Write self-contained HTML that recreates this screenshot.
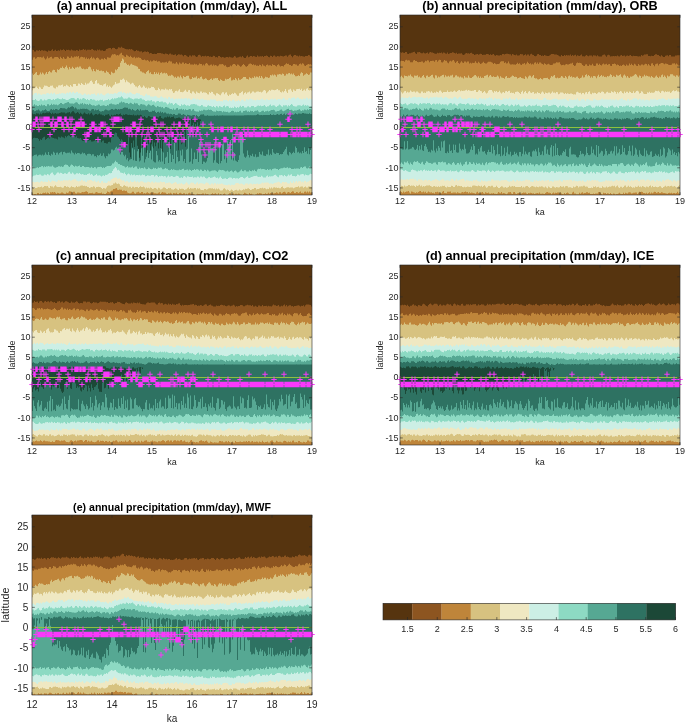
<!DOCTYPE html>
<html><head><meta charset="utf-8"><style>
html,body{margin:0;padding:0;background:#fff;}
svg{display:block;font-family:"Liberation Sans",sans-serif;will-change:transform;}
</style></head><body>
<svg width="685" height="723" viewBox="0 0 685 723">
<defs><clipPath id="cp0"><rect x="32" y="15" width="280" height="180"/></clipPath><clipPath id="cp1"><rect x="400" y="15" width="280" height="180"/></clipPath><clipPath id="cp2"><rect x="32" y="265" width="280" height="180"/></clipPath><clipPath id="cp3"><rect x="400" y="265" width="280" height="180"/></clipPath><clipPath id="cp4"><rect x="32" y="515" width="280" height="180"/></clipPath></defs>
<g clip-path="url(#cp0)"><rect x="32" y="15" width="280" height="180" fill="#56340f"/>
<path d="M31,196V49.8h1V49.8h1V50.1h1V51.4h1V51.4h1V50.2h1V50.4h1V50.8h1V50.1h1V51.0h1V50.2h1V50.2h1V50.7h1V50.6h1V50.8h1V51.2h1V51.8h1V50.6h1V50.7h1V51.1h1V50.2h1V49.2h1V51.0h1V50.4h1V49.8h1V51.0h1V50.8h1V50.3h1V50.8h1V49.5h1V50.2h1V50.1h1V49.2h1V50.1h1V51.1h1V49.8h1V50.0h1V49.7h1V50.3h1V50.6h1V49.5h1V50.3h1V50.5h1V50.4h1V50.7h1V50.0h1V50.3h1V50.9h1V49.4h1V50.2h1V49.9h1V49.7h1V49.1h1V49.9h1V49.6h1V50.4h1V49.7h1V49.8h1V49.7h1V50.0h1V49.3h1V48.9h1V50.1h1V50.6h1V50.2h1V50.8h1V49.6h1V50.3h1V49.5h1V50.5h1V50.5h1V50.2h1V50.9h1V50.9h1V50.6h1V48.9h1V48.7h1V48.2h1V48.1h1V48.0h1V49.3h1V48.1h1V47.7h1V48.1h1V48.9h1V49.3h1V48.7h1V47.3h1V47.4h1V47.8h1V46.8h1V47.8h1V47.9h1V48.4h1V49.0h1V49.3h1V49.2h1V49.4h1V48.9h1V49.4h1V49.1h1V49.8h1V50.5h1V51.2h1V50.9h1V50.0h1V50.8h1V50.7h1V51.6h1V51.5h1V51.3h1V52.5h1V52.0h1V51.5h1V51.6h1V52.0h1V51.4h1V52.1h1V53.4h1V53.1h1V53.2h1V53.9h1V54.0h1V53.8h1V53.9h1V54.1h1V53.0h1V53.1h1V53.1h1V52.9h1V53.6h1V53.5h1V54.0h1V54.3h1V53.4h1V53.7h1V54.0h1V54.7h1V53.8h1V53.6h1V54.5h1V54.6h1V55.1h1V54.7h1V54.2h1V55.7h1V54.9h1V54.2h1V54.4h1V54.7h1V54.6h1V55.2h1V56.3h1V55.0h1V55.0h1V55.8h1V56.5h1V57.0h1V55.4h1V55.5h1V56.6h1V55.2h1V55.6h1V55.3h1V56.2h1V57.1h1V56.5h1V55.0h1V54.7h1V55.5h1V56.8h1V55.9h1V56.3h1V56.2h1V55.7h1V56.5h1V56.1h1V55.9h1V56.8h1V56.6h1V57.0h1V56.7h1V55.8h1V56.1h1V57.3h1V57.0h1V57.6h1V56.0h1V55.9h1V57.1h1V57.4h1V57.1h1V57.2h1V57.8h1V57.6h1V57.1h1V57.1h1V57.4h1V56.8h1V57.2h1V57.4h1V57.8h1V57.3h1V56.0h1V56.6h1V57.8h1V57.6h1V57.3h1V56.8h1V56.5h1V57.2h1V56.1h1V57.2h1V57.9h1V58.1h1V56.4h1V55.6h1V57.2h1V56.8h1V56.1h1V56.1h1V56.8h1V56.0h1V56.2h1V56.8h1V57.1h1V55.6h1V56.6h1V56.5h1V56.2h1V56.4h1V55.9h1V56.9h1V56.0h1V56.1h1V55.6h1V56.1h1V57.1h1V57.3h1V55.7h1V56.0h1V57.0h1V55.8h1V55.6h1V56.4h1V56.7h1V56.1h1V56.2h1V56.5h1V55.8h1V56.1h1V56.2h1V56.4h1V56.1h1V55.6h1V55.6h1V56.7h1V55.6h1V54.8h1V54.5h1V56.1h1V57.2h1V55.7h1V55.1h1V54.9h1V55.7h1V55.8h1V56.4h1V55.4h1V56.3h1V56.0h1V56.3h1V56.6h1V56.8h1V56.0h1V55.9h1V55.9h1V55.0h1V55.3h1V56.5h1V56.8h1V54.9h1V196Z" fill="#8d5520"/>
<path d="M31,196V59.7h1V59.7h1V57.4h1V57.3h1V58.8h1V58.2h1V57.0h1V56.9h1V57.3h1V57.1h1V57.4h1V57.4h1V56.4h1V58.2h1V59.4h1V58.4h1V56.6h1V58.3h1V57.7h1V57.1h1V56.8h1V58.5h1V58.6h1V57.2h1V56.9h1V57.1h1V57.1h1V57.8h1V58.9h1V56.7h1V57.9h1V58.8h1V57.1h1V58.4h1V59.0h1V58.5h1V56.6h1V56.8h1V58.0h1V57.8h1V56.2h1V57.5h1V57.4h1V56.5h1V56.7h1V56.2h1V56.7h1V56.0h1V58.4h1V57.2h1V56.8h1V57.0h1V57.4h1V57.3h1V58.7h1V57.5h1V58.9h1V58.2h1V59.2h1V58.1h1V56.7h1V58.5h1V57.6h1V58.4h1V59.6h1V57.9h1V57.4h1V58.3h1V59.5h1V59.8h1V58.8h1V58.7h1V59.5h1V58.0h1V59.0h1V59.5h1V57.3h1V57.4h1V57.8h1V57.4h1V55.4h1V54.3h1V54.5h1V54.0h1V54.6h1V55.5h1V55.0h1V55.4h1V54.4h1V53.4h1V52.8h1V55.0h1V55.5h1V56.4h1V56.9h1V54.8h1V55.6h1V56.2h1V57.1h1V55.7h1V56.9h1V57.8h1V57.4h1V56.7h1V58.3h1V57.5h1V57.7h1V57.3h1V57.8h1V58.1h1V59.2h1V59.9h1V60.1h1V59.4h1V60.2h1V60.4h1V60.1h1V60.7h1V61.7h1V60.6h1V61.5h1V61.2h1V60.3h1V60.4h1V61.1h1V60.4h1V61.8h1V61.2h1V61.3h1V62.4h1V62.7h1V62.3h1V62.4h1V62.6h1V62.3h1V61.8h1V63.0h1V61.6h1V60.8h1V61.4h1V61.5h1V63.6h1V63.3h1V63.8h1V63.4h1V62.1h1V63.6h1V64.5h1V62.5h1V63.4h1V63.7h1V62.5h1V62.5h1V63.9h1V62.9h1V63.5h1V63.9h1V63.9h1V63.0h1V64.4h1V64.5h1V64.6h1V64.7h1V63.8h1V64.6h1V64.2h1V65.3h1V64.7h1V63.4h1V63.9h1V64.1h1V65.6h1V64.5h1V65.4h1V63.8h1V63.1h1V63.7h1V65.2h1V65.4h1V64.7h1V64.5h1V65.8h1V64.6h1V65.5h1V65.0h1V65.5h1V66.2h1V65.4h1V64.3h1V64.2h1V64.3h1V63.9h1V64.7h1V65.8h1V65.3h1V66.7h1V67.3h1V66.9h1V66.8h1V65.5h1V66.2h1V64.8h1V63.9h1V64.0h1V64.7h1V66.1h1V64.6h1V64.7h1V65.7h1V66.7h1V66.2h1V64.9h1V64.1h1V65.0h1V66.3h1V66.7h1V66.1h1V64.6h1V63.8h1V63.6h1V64.1h1V65.1h1V64.3h1V65.2h1V64.8h1V65.8h1V65.6h1V65.9h1V64.8h1V65.0h1V66.2h1V64.2h1V65.6h1V65.8h1V66.5h1V64.9h1V64.6h1V65.4h1V65.3h1V65.3h1V66.0h1V64.3h1V65.0h1V64.9h1V65.8h1V66.5h1V65.1h1V64.3h1V65.6h1V66.4h1V66.0h1V66.1h1V66.4h1V65.1h1V64.2h1V63.2h1V63.9h1V63.7h1V64.9h1V65.1h1V65.9h1V65.6h1V64.1h1V63.9h1V64.4h1V64.6h1V65.7h1V65.4h1V64.1h1V63.6h1V64.4h1V63.3h1V63.8h1V65.4h1V66.0h1V65.0h1V64.6h1V63.9h1V64.4h1V64.3h1V64.7h1V65.7h1V196Z" fill="#bf853a"/>
<path d="M31,196V73.4h1V73.4h1V75.1h1V74.0h1V72.7h1V72.0h1V75.0h1V75.3h1V74.6h1V72.5h1V74.2h1V72.5h1V73.4h1V74.7h1V73.5h1V71.9h1V74.1h1V71.9h1V70.9h1V72.2h1V72.4h1V70.6h1V69.8h1V70.1h1V72.0h1V72.6h1V69.2h1V70.1h1V69.3h1V67.8h1V67.9h1V66.5h1V68.0h1V68.6h1V66.9h1V65.5h1V67.7h1V69.6h1V67.0h1V68.7h1V68.4h1V66.7h1V68.1h1V68.9h1V67.4h1V67.6h1V66.7h1V67.4h1V66.6h1V66.6h1V68.3h1V69.0h1V68.5h1V69.2h1V69.3h1V68.7h1V68.9h1V67.3h1V66.4h1V67.2h1V69.5h1V71.3h1V69.1h1V70.9h1V71.6h1V69.3h1V69.9h1V69.7h1V71.1h1V70.7h1V70.5h1V71.3h1V70.9h1V72.4h1V72.7h1V70.7h1V71.9h1V72.4h1V73.9h1V74.7h1V71.7h1V72.8h1V73.3h1V72.7h1V69.6h1V70.3h1V69.0h1V67.1h1V66.7h1V62.7h1V60.9h1V58.5h1V59.5h1V62.9h1V62.4h1V63.7h1V65.1h1V64.6h1V65.7h1V64.6h1V63.8h1V64.7h1V65.1h1V65.5h1V65.7h1V66.2h1V66.7h1V68.7h1V68.9h1V71.3h1V71.5h1V72.4h1V72.6h1V73.2h1V73.8h1V72.1h1V70.9h1V70.3h1V73.3h1V72.2h1V73.9h1V74.2h1V74.3h1V71.9h1V73.9h1V72.5h1V73.9h1V72.5h1V74.7h1V73.1h1V72.2h1V73.6h1V73.2h1V72.7h1V73.6h1V73.1h1V74.6h1V76.1h1V75.6h1V75.7h1V74.8h1V75.3h1V76.2h1V77.6h1V76.8h1V77.9h1V76.6h1V76.6h1V77.4h1V75.5h1V77.2h1V78.4h1V76.0h1V76.9h1V77.0h1V75.9h1V75.8h1V75.7h1V78.4h1V79.3h1V78.9h1V77.0h1V78.1h1V77.4h1V77.6h1V76.3h1V78.7h1V78.1h1V78.5h1V77.1h1V76.6h1V78.7h1V79.4h1V79.0h1V78.2h1V78.7h1V80.1h1V80.3h1V80.1h1V78.9h1V78.4h1V80.0h1V78.6h1V78.6h1V77.9h1V78.3h1V78.0h1V80.0h1V81.1h1V79.3h1V80.0h1V80.7h1V81.0h1V80.7h1V78.8h1V79.5h1V78.9h1V79.1h1V78.0h1V77.3h1V80.4h1V80.2h1V79.6h1V80.1h1V78.1h1V79.3h1V80.4h1V78.1h1V79.7h1V79.7h1V79.1h1V78.3h1V76.9h1V76.9h1V76.9h1V78.8h1V78.9h1V79.6h1V77.3h1V78.1h1V78.4h1V77.4h1V77.9h1V76.3h1V77.4h1V76.5h1V76.7h1V77.5h1V76.1h1V78.0h1V76.0h1V77.4h1V78.8h1V78.3h1V76.7h1V77.3h1V77.2h1V78.1h1V77.6h1V75.1h1V75.6h1V74.6h1V75.4h1V74.6h1V75.2h1V76.8h1V74.5h1V74.4h1V73.9h1V74.3h1V74.8h1V73.6h1V74.0h1V75.7h1V75.4h1V73.8h1V74.3h1V73.3h1V73.1h1V74.2h1V73.6h1V74.5h1V73.6h1V75.1h1V76.3h1V76.3h1V76.0h1V75.3h1V75.9h1V73.6h1V72.2h1V73.1h1V75.7h1V74.8h1V74.3h1V73.3h1V73.9h1V75.0h1V74.5h1V72.4h1V72.6h1V73.2h1V196Z" fill="#d7c280"/>
<path d="M31,196V90.3h1V90.3h1V88.6h1V88.3h1V87.5h1V86.4h1V88.1h1V88.9h1V86.7h1V87.4h1V89.1h1V89.1h1V87.3h1V85.5h1V85.8h1V85.7h1V86.3h1V86.9h1V87.0h1V85.7h1V85.8h1V85.6h1V87.5h1V88.2h1V88.5h1V86.7h1V87.2h1V85.6h1V85.2h1V85.4h1V85.1h1V84.5h1V86.8h1V86.1h1V86.2h1V84.8h1V85.6h1V86.3h1V86.9h1V84.9h1V86.2h1V86.8h1V84.1h1V83.9h1V84.1h1V86.1h1V85.8h1V83.4h1V83.7h1V85.0h1V82.9h1V84.1h1V84.8h1V84.9h1V82.8h1V84.5h1V83.6h1V83.6h1V82.4h1V81.0h1V80.6h1V82.3h1V84.1h1V83.7h1V81.0h1V79.9h1V83.5h1V83.3h1V84.5h1V85.0h1V85.1h1V85.8h1V84.6h1V84.1h1V83.4h1V86.6h1V85.2h1V86.9h1V85.7h1V86.7h1V87.7h1V86.4h1V85.3h1V84.4h1V82.1h1V83.8h1V83.5h1V83.3h1V82.7h1V79.7h1V79.9h1V79.3h1V78.4h1V79.8h1V82.3h1V80.2h1V81.6h1V82.3h1V82.8h1V84.2h1V83.4h1V82.7h1V83.4h1V85.0h1V86.4h1V86.4h1V87.4h1V86.1h1V84.9h1V86.5h1V87.8h1V87.3h1V85.6h1V86.4h1V88.0h1V87.4h1V88.7h1V87.4h1V88.2h1V88.0h1V86.7h1V87.0h1V86.9h1V88.3h1V90.1h1V90.3h1V89.9h1V87.8h1V89.0h1V90.6h1V89.3h1V89.3h1V89.6h1V89.8h1V88.6h1V89.6h1V89.5h1V90.2h1V89.1h1V89.4h1V89.1h1V91.2h1V92.9h1V92.5h1V91.1h1V90.8h1V91.5h1V90.4h1V89.3h1V91.9h1V91.9h1V92.3h1V91.8h1V90.8h1V89.8h1V91.5h1V92.1h1V90.3h1V90.0h1V93.0h1V93.5h1V91.5h1V91.4h1V92.7h1V93.7h1V91.6h1V92.4h1V93.0h1V93.3h1V91.5h1V91.6h1V93.0h1V92.2h1V92.6h1V92.6h1V92.9h1V94.2h1V94.4h1V92.0h1V93.0h1V91.8h1V91.9h1V93.8h1V94.6h1V95.4h1V93.3h1V93.2h1V94.0h1V94.7h1V95.3h1V93.5h1V92.2h1V92.3h1V94.3h1V92.7h1V92.3h1V94.7h1V96.1h1V94.5h1V94.9h1V94.1h1V93.2h1V94.0h1V92.8h1V93.3h1V94.4h1V95.7h1V95.8h1V93.3h1V92.9h1V91.9h1V91.3h1V94.5h1V93.0h1V92.3h1V93.8h1V92.5h1V92.3h1V91.5h1V93.4h1V92.7h1V91.4h1V91.5h1V92.6h1V92.5h1V91.7h1V91.4h1V91.5h1V92.0h1V91.7h1V92.6h1V91.8h1V90.4h1V89.9h1V90.8h1V93.3h1V92.2h1V91.2h1V89.9h1V90.8h1V89.8h1V89.8h1V89.9h1V90.3h1V89.9h1V89.6h1V89.0h1V90.3h1V90.3h1V91.9h1V92.5h1V91.3h1V92.3h1V90.9h1V89.1h1V91.4h1V92.9h1V89.8h1V89.6h1V88.8h1V90.4h1V91.9h1V89.6h1V90.6h1V90.9h1V89.2h1V88.9h1V88.9h1V88.8h1V89.9h1V88.7h1V90.9h1V90.2h1V89.5h1V90.7h1V88.8h1V88.2h1V90.1h1V90.6h1V89.9h1V90.5h1V90.5h1V196Z" fill="#efe8c2"/>
<path d="M31,196V95.2h1V95.2h1V94.5h1V93.3h1V92.9h1V92.9h1V94.7h1V93.6h1V93.8h1V94.5h1V94.9h1V94.3h1V94.3h1V93.9h1V94.6h1V93.4h1V92.9h1V93.2h1V93.9h1V93.6h1V92.8h1V94.1h1V93.2h1V92.8h1V94.3h1V94.5h1V94.0h1V94.0h1V93.2h1V93.7h1V93.2h1V92.9h1V93.4h1V93.3h1V94.0h1V93.1h1V92.4h1V93.3h1V92.3h1V91.9h1V93.2h1V92.2h1V91.7h1V93.1h1V93.0h1V92.1h1V92.0h1V93.4h1V93.2h1V93.5h1V94.4h1V94.9h1V94.4h1V93.5h1V93.8h1V94.7h1V94.8h1V94.1h1V94.7h1V95.1h1V94.1h1V94.0h1V93.9h1V93.4h1V94.8h1V95.4h1V93.8h1V93.3h1V94.7h1V93.8h1V93.6h1V94.4h1V94.9h1V95.5h1V94.4h1V93.7h1V93.3h1V93.3h1V94.2h1V93.8h1V93.8h1V94.0h1V93.8h1V93.2h1V93.1h1V93.8h1V92.9h1V92.0h1V91.7h1V91.8h1V91.4h1V92.9h1V92.0h1V92.7h1V93.0h1V93.8h1V92.8h1V93.5h1V92.6h1V92.3h1V93.0h1V94.1h1V94.1h1V94.4h1V94.0h1V93.0h1V92.9h1V93.4h1V93.4h1V95.0h1V95.0h1V95.5h1V96.1h1V96.3h1V94.6h1V93.8h1V95.3h1V95.3h1V95.3h1V96.4h1V96.4h1V96.7h1V96.8h1V96.3h1V95.9h1V96.6h1V97.5h1V97.8h1V97.8h1V96.7h1V96.2h1V97.3h1V97.4h1V98.4h1V97.3h1V98.3h1V99.1h1V97.3h1V96.9h1V98.4h1V98.6h1V97.8h1V98.9h1V99.4h1V98.8h1V98.4h1V99.3h1V98.6h1V98.8h1V99.0h1V98.1h1V98.9h1V98.6h1V98.5h1V98.3h1V98.1h1V99.2h1V98.3h1V98.8h1V99.5h1V99.8h1V98.9h1V98.1h1V99.0h1V98.4h1V99.8h1V98.7h1V99.6h1V99.7h1V99.3h1V99.2h1V98.5h1V99.5h1V99.8h1V99.8h1V99.8h1V100.5h1V100.0h1V100.6h1V99.3h1V99.3h1V100.0h1V99.1h1V99.8h1V99.4h1V100.9h1V101.3h1V100.8h1V100.8h1V101.2h1V101.0h1V101.5h1V100.0h1V100.3h1V99.7h1V100.0h1V100.8h1V101.2h1V100.0h1V100.7h1V101.2h1V100.0h1V99.6h1V100.4h1V101.4h1V100.7h1V101.0h1V100.0h1V101.0h1V101.3h1V100.0h1V99.3h1V100.3h1V101.2h1V100.8h1V99.3h1V99.3h1V99.9h1V99.1h1V98.7h1V99.5h1V99.2h1V100.3h1V100.0h1V100.5h1V99.9h1V99.4h1V100.1h1V100.1h1V99.8h1V98.9h1V98.5h1V100.1h1V99.7h1V100.3h1V99.1h1V99.4h1V99.9h1V100.1h1V98.9h1V99.4h1V98.5h1V99.7h1V98.7h1V98.8h1V100.0h1V99.2h1V99.0h1V99.0h1V99.3h1V99.4h1V98.7h1V97.7h1V98.6h1V99.7h1V99.5h1V99.9h1V98.4h1V97.9h1V99.2h1V98.0h1V97.8h1V97.4h1V97.6h1V98.9h1V98.3h1V97.5h1V97.8h1V98.8h1V99.0h1V98.9h1V99.4h1V98.6h1V98.4h1V98.9h1V97.6h1V98.1h1V99.2h1V98.5h1V98.8h1V99.2h1V99.3h1V196Z" fill="#ccefe5"/>
<path d="M31,196V99.9h1V99.9h1V100.0h1V100.1h1V98.9h1V100.3h1V100.7h1V101.0h1V100.5h1V99.3h1V99.2h1V100.4h1V100.5h1V99.5h1V100.2h1V100.2h1V99.6h1V99.0h1V98.9h1V99.2h1V99.9h1V99.8h1V99.0h1V100.1h1V99.0h1V98.7h1V98.2h1V98.6h1V99.1h1V99.2h1V99.2h1V98.2h1V99.0h1V98.9h1V99.4h1V99.9h1V99.9h1V99.8h1V99.1h1V98.6h1V98.0h1V98.1h1V98.0h1V98.4h1V99.6h1V99.4h1V97.9h1V98.2h1V99.5h1V98.8h1V99.4h1V98.6h1V98.1h1V98.5h1V98.9h1V100.0h1V99.0h1V99.9h1V100.3h1V99.0h1V99.0h1V99.8h1V99.4h1V99.8h1V100.6h1V100.8h1V100.3h1V100.8h1V100.3h1V99.8h1V100.1h1V99.7h1V101.2h1V100.5h1V100.3h1V100.1h1V100.0h1V99.0h1V100.2h1V99.8h1V99.1h1V98.3h1V99.3h1V98.3h1V98.6h1V98.3h1V97.9h1V97.2h1V97.5h1V97.3h1V96.3h1V97.3h1V98.5h1V98.8h1V98.5h1V98.8h1V98.5h1V97.4h1V97.5h1V98.3h1V98.4h1V99.1h1V99.6h1V98.8h1V98.4h1V98.5h1V98.5h1V99.0h1V98.8h1V98.2h1V98.5h1V99.4h1V99.5h1V100.1h1V101.0h1V100.9h1V100.5h1V100.5h1V100.8h1V100.6h1V100.0h1V101.5h1V101.3h1V101.6h1V102.5h1V101.4h1V101.0h1V101.0h1V102.1h1V101.8h1V101.5h1V101.5h1V102.5h1V102.2h1V102.2h1V103.2h1V104.4h1V103.8h1V102.6h1V103.5h1V103.0h1V103.5h1V105.1h1V104.0h1V103.0h1V103.6h1V104.4h1V105.0h1V105.8h1V106.0h1V104.2h1V105.2h1V104.7h1V104.2h1V104.9h1V105.7h1V105.3h1V105.4h1V105.9h1V104.7h1V104.2h1V104.2h1V103.9h1V104.1h1V104.6h1V104.5h1V105.4h1V105.7h1V106.2h1V105.9h1V104.9h1V105.2h1V106.6h1V106.5h1V106.7h1V106.9h1V105.7h1V105.3h1V106.0h1V106.1h1V106.4h1V107.0h1V106.1h1V106.9h1V107.6h1V106.0h1V106.4h1V107.4h1V106.1h1V106.6h1V107.1h1V107.3h1V106.0h1V105.5h1V107.2h1V106.2h1V106.1h1V106.6h1V107.9h1V107.5h1V108.1h1V107.6h1V107.9h1V106.4h1V107.3h1V108.0h1V107.0h1V107.7h1V106.7h1V105.8h1V106.9h1V106.0h1V105.9h1V107.5h1V107.4h1V107.4h1V106.6h1V106.2h1V107.2h1V107.2h1V106.1h1V106.0h1V106.0h1V107.2h1V106.9h1V106.5h1V105.8h1V105.4h1V105.9h1V105.4h1V106.2h1V106.0h1V105.8h1V105.1h1V106.3h1V106.9h1V106.3h1V106.3h1V105.3h1V104.6h1V106.0h1V105.6h1V105.3h1V105.4h1V106.5h1V106.9h1V106.1h1V105.4h1V104.4h1V105.2h1V106.3h1V106.7h1V105.3h1V105.5h1V105.2h1V105.2h1V106.4h1V105.2h1V106.1h1V104.9h1V104.1h1V104.8h1V106.0h1V106.3h1V106.4h1V106.4h1V105.6h1V105.3h1V105.3h1V105.4h1V106.1h1V105.2h1V104.5h1V105.8h1V105.1h1V105.7h1V105.2h1V105.7h1V106.4h1V106.2h1V106.2h1V105.9h1V196Z" fill="#8ddac3"/>
<path d="M31,196V106.2h1V106.2h1V105.4h1V104.3h1V105.5h1V105.3h1V106.1h1V106.0h1V105.0h1V105.8h1V104.6h1V105.4h1V105.3h1V105.1h1V105.9h1V106.2h1V104.3h1V104.3h1V105.6h1V104.9h1V103.7h1V105.0h1V104.3h1V104.6h1V104.7h1V104.6h1V105.2h1V104.7h1V104.1h1V102.9h1V103.1h1V104.1h1V104.2h1V103.6h1V102.9h1V102.7h1V102.2h1V101.9h1V103.2h1V103.5h1V103.6h1V103.6h1V103.8h1V103.3h1V102.6h1V102.3h1V102.7h1V103.9h1V104.5h1V103.6h1V103.8h1V103.1h1V104.6h1V103.4h1V103.9h1V104.4h1V103.9h1V104.9h1V103.7h1V104.2h1V105.0h1V105.4h1V105.3h1V105.4h1V105.9h1V105.6h1V105.3h1V104.6h1V104.8h1V106.1h1V105.8h1V105.5h1V105.3h1V105.5h1V105.9h1V105.9h1V104.9h1V105.4h1V104.1h1V103.8h1V103.4h1V104.2h1V104.2h1V104.5h1V104.7h1V104.5h1V103.9h1V104.2h1V102.8h1V102.6h1V101.5h1V102.4h1V101.9h1V102.6h1V103.3h1V103.0h1V103.0h1V103.9h1V103.4h1V102.7h1V103.2h1V104.1h1V104.2h1V102.8h1V103.5h1V103.3h1V103.6h1V105.1h1V105.5h1V104.3h1V103.9h1V104.4h1V104.5h1V104.8h1V105.4h1V106.3h1V105.3h1V104.2h1V104.7h1V105.4h1V105.7h1V105.1h1V104.8h1V105.7h1V106.8h1V107.3h1V105.9h1V106.6h1V107.1h1V106.8h1V107.4h1V106.9h1V108.3h1V108.3h1V107.1h1V106.9h1V107.5h1V107.7h1V108.6h1V109.0h1V109.1h1V109.7h1V108.6h1V109.7h1V109.5h1V108.3h1V108.1h1V109.7h1V109.3h1V109.2h1V108.7h1V109.7h1V109.0h1V110.2h1V109.3h1V110.1h1V110.0h1V109.6h1V109.0h1V109.3h1V110.8h1V109.5h1V108.9h1V110.8h1V111.3h1V111.5h1V111.6h1V111.8h1V110.6h1V111.0h1V110.5h1V110.7h1V109.7h1V109.8h1V110.2h1V110.3h1V110.0h1V109.6h1V109.9h1V109.7h1V110.0h1V111.1h1V111.4h1V111.6h1V111.8h1V110.5h1V111.0h1V111.2h1V111.1h1V111.0h1V111.2h1V112.2h1V111.3h1V111.8h1V111.8h1V112.0h1V111.7h1V112.5h1V112.6h1V112.0h1V111.0h1V110.7h1V111.0h1V112.2h1V111.7h1V112.2h1V111.7h1V111.9h1V111.2h1V110.8h1V112.4h1V112.5h1V111.1h1V110.9h1V110.6h1V110.6h1V111.8h1V111.3h1V112.1h1V110.7h1V111.2h1V110.9h1V111.9h1V111.3h1V110.7h1V110.8h1V110.2h1V111.6h1V112.3h1V111.9h1V111.2h1V110.8h1V110.8h1V111.9h1V111.3h1V111.3h1V110.8h1V111.4h1V111.1h1V110.6h1V110.1h1V110.0h1V109.7h1V110.2h1V111.5h1V111.5h1V111.1h1V111.0h1V110.5h1V109.8h1V109.4h1V110.7h1V111.3h1V110.8h1V110.2h1V109.5h1V108.9h1V108.8h1V110.1h1V110.0h1V109.7h1V110.4h1V111.0h1V110.6h1V110.6h1V110.5h1V110.1h1V109.8h1V109.2h1V110.6h1V110.9h1V110.2h1V110.4h1V109.6h1V109.8h1V110.2h1V109.2h1V109.9h1V109.1h1V109.0h1V109.5h1V109.4h1V196Z" fill="#56a893"/>
<path d="M31,196V110.3h1V110.3h1V109.9h1V111.3h1V111.1h1V110.3h1V110.3h1V109.4h1V110.5h1V111.4h1V111.3h1V110.3h1V110.6h1V110.1h1V109.3h1V110.3h1V110.9h1V111.0h1V110.8h1V109.5h1V109.1h1V110.0h1V109.2h1V110.1h1V109.1h1V109.0h1V109.5h1V109.9h1V109.3h1V107.9h1V108.0h1V108.3h1V108.3h1V108.2h1V108.7h1V109.3h1V108.3h1V107.2h1V107.7h1V107.0h1V106.5h1V106.3h1V106.9h1V108.4h1V107.6h1V108.4h1V109.4h1V109.2h1V109.5h1V108.8h1V109.0h1V108.8h1V108.8h1V108.8h1V109.0h1V108.8h1V109.2h1V109.8h1V110.4h1V110.8h1V109.6h1V108.9h1V108.9h1V110.4h1V109.6h1V110.3h1V109.9h1V109.5h1V111.0h1V111.4h1V111.5h1V110.9h1V111.2h1V110.3h1V109.6h1V109.8h1V110.2h1V110.4h1V110.2h1V109.8h1V108.9h1V109.0h1V109.8h1V109.4h1V108.8h1V109.0h1V109.8h1V109.1h1V109.4h1V109.0h1V108.9h1V108.8h1V107.9h1V107.6h1V107.6h1V107.8h1V107.8h1V109.3h1V108.7h1V109.2h1V110.3h1V109.1h1V110.1h1V110.6h1V110.8h1V110.0h1V109.1h1V109.7h1V110.8h1V109.3h1V110.4h1V110.2h1V110.3h1V110.2h1V109.8h1V109.9h1V110.1h1V111.3h1V112.0h1V111.8h1V111.7h1V110.7h1V110.9h1V110.6h1V112.1h1V112.9h1V112.1h1V111.8h1V112.7h1V111.5h1V112.7h1V112.0h1V113.3h1V112.4h1V112.5h1V113.4h1V113.8h1V113.6h1V114.2h1V113.7h1V114.1h1V114.8h1V114.0h1V114.0h1V114.9h1V115.1h1V114.8h1V113.6h1V113.5h1V113.8h1V115.0h1V114.8h1V114.1h1V114.8h1V115.3h1V116.1h1V114.8h1V114.9h1V115.2h1V115.4h1V115.8h1V115.2h1V115.0h1V115.0h1V116.2h1V115.0h1V116.0h1V116.7h1V116.0h1V114.7h1V114.5h1V114.4h1V114.3h1V115.8h1V116.9h1V116.7h1V115.2h1V116.6h1V116.4h1V117.1h1V116.9h1V117.1h1V115.9h1V115.6h1V115.9h1V115.7h1V115.4h1V117.0h1V116.4h1V117.2h1V116.1h1V115.6h1V116.1h1V116.6h1V116.4h1V116.1h1V116.9h1V117.4h1V116.1h1V116.7h1V116.6h1V116.7h1V116.2h1V115.8h1V116.1h1V117.4h1V117.5h1V116.9h1V117.2h1V117.9h1V117.9h1V116.8h1V116.5h1V115.5h1V116.1h1V116.1h1V115.8h1V115.7h1V116.9h1V115.7h1V116.6h1V116.9h1V116.5h1V115.7h1V116.0h1V115.0h1V114.3h1V114.4h1V115.6h1V115.5h1V114.9h1V116.1h1V114.9h1V115.7h1V115.8h1V115.2h1V114.9h1V115.8h1V115.0h1V114.1h1V115.0h1V115.3h1V114.5h1V115.8h1V115.4h1V114.4h1V114.1h1V114.8h1V114.7h1V113.9h1V113.7h1V115.0h1V114.3h1V113.6h1V115.1h1V114.2h1V113.3h1V114.8h1V113.8h1V113.5h1V113.2h1V114.2h1V115.2h1V114.3h1V113.2h1V114.1h1V114.4h1V113.6h1V113.6h1V113.8h1V113.8h1V113.0h1V113.0h1V113.6h1V113.4h1V113.8h1V113.8h1V114.0h1V113.3h1V114.1h1V114.1h1V113.4h1V196Z" fill="#2e7262"/>
<path d="M31,196V113.6h1V113.6h1V114.3h1V114.1h1V114.6h1V113.3h1V113.4h1V113.5h1V114.5h1V113.4h1V114.2h1V113.3h1V112.8h1V113.2h1V113.1h1V112.5h1V112.6h1V112.7h1V112.3h1V112.9h1V113.9h1V112.8h1V113.7h1V113.4h1V113.0h1V113.8h1V113.4h1V113.6h1V112.9h1V112.7h1V112.3h1V112.5h1V112.5h1V112.6h1V113.5h1V113.3h1V112.4h1V112.5h1V112.0h1V113.4h1V112.2h1V111.2h1V111.3h1V112.6h1V113.6h1V112.9h1V111.9h1V112.8h1V114.1h1V112.8h1V113.8h1V114.4h1V113.6h1V112.4h1V113.6h1V113.9h1V114.3h1V113.2h1V114.6h1V113.6h1V112.7h1V114.6h1V115.5h1V114.7h1V114.0h1V114.1h1V114.7h1V114.2h1V113.4h1V114.4h1V114.4h1V115.2h1V115.2h1V116.1h1V114.7h1V114.7h1V114.6h1V114.0h1V115.6h1V116.5h1V114.7h1V115.6h1V115.3h1V114.7h1V115.0h1V114.1h1V114.2h1V114.8h1V113.9h1V113.5h1V114.9h1V115.6h1V114.4h1V114.9h1V114.3h1V114.2h1V114.8h1V115.1h1V114.7h1V115.0h1V115.1h1V115.3h1V114.5h1V115.6h1V115.2h1V115.4h1V114.7h1V115.2h1V115.3h1V114.7h1V115.3h1V116.7h1V116.9h1V116.0h1V117.2h1V117.9h1V117.5h1V116.1h1V116.2h1V116.9h1V117.2h1V117.3h1V117.6h1V117.4h1V117.0h1V116.8h1V117.3h1V117.5h1V116.3h1V115.9h1V118.0h1V118.5h1V118.7h1V117.5h1V117.3h1V117.4h1V116.5h1V117.2h1V116.6h1V117.7h1V117.1h1V117.0h1V116.6h1V118.3h1V118.5h1V117.9h1V117.9h1V117.4h1V117.5h1V118.2h1V118.7h1V118.4h1V117.9h1V118.6h1V118.0h1V117.7h1V117.4h1V118.7h1V119.4h1V119.2h1V118.7h1V117.8h1V118.7h1V118.8h1V119.1h1V119.0h1V118.7h1V119.1h1V119.3h1V119.5h1V118.6h1V118.6h1V158.0h1V196.0h1V196.0h1V196.0h1V196.0h1V196.0h1V196.0h1V196.0h1V196.0h1V196.0h1V196.0h1V195.5h1V196.0h1V196.0h1V195.7h1V195.7h1V196.0h1V196.0h1V196.0h1V196.0h1V196.0h1V196.0h1V196.0h1V196.0h1V195.8h1V196.0h1V196.0h1V196.0h1V196.0h1V196.0h1V196.0h1V196.0h1V196.0h1V195.7h1V195.4h1V195.4h1V195.8h1V195.6h1V196.0h1V196.0h1V196.0h1V196.0h1V196.0h1V196.0h1V196.0h1V196.0h1V196.0h1V196.0h1V196.0h1V196.0h1V196.0h1V196.0h1V196.0h1V196.0h1V196.0h1V195.9h1V196.0h1V195.8h1V196.0h1V196.0h1V196.0h1V196.0h1V196.0h1V196.0h1V196.0h1V196.0h1V196.0h1V196.0h1V196.0h1V196.0h1V196.0h1V196.0h1V196.0h1V196.0h1V196.0h1V196.0h1V196.0h1V196.0h1V196.0h1V196.0h1V195.5h1V196.0h1V196.0h1V196.0h1V195.9h1V196.0h1V196.0h1V196.0h1V196.0h1V195.9h1V195.6h1V195.6h1V196.0h1V195.9h1V196.0h1V196.0h1V196.0h1V196.0h1V196.0h1V196.0h1V195.9h1V195.4h1V196.0h1V196.0h1V196.0h1V196.0h1V196.0h1V196.0h1V196.0h1V195.9h1V196Z" fill="#1c4837"/>
<path d="M31,196V139.3h1V139.3h1V137.9h1V137.8h1V138.1h1V138.1h1V138.1h1V139.1h1V140.7h1V139.2h1V139.9h1V138.3h1V137.3h1V136.7h1V139.7h1V138.9h1V138.1h1V137.6h1V138.6h1V137.2h1V137.3h1V137.8h1V138.1h1V138.4h1V138.6h1V138.8h1V139.4h1V136.7h1V137.2h1V137.7h1V136.5h1V137.3h1V137.6h1V138.2h1V136.0h1V137.3h1V135.9h1V135.2h1V135.7h1V137.0h1V135.7h1V135.5h1V135.8h1V135.8h1V137.3h1V136.2h1V138.1h1V138.3h1V138.4h1V138.1h1V139.4h1V140.8h1V141.1h1V139.9h1V138.6h1V139.2h1V139.7h1V140.7h1V140.3h1V140.1h1V141.6h1V141.6h1V141.3h1V140.7h1V139.1h1V140.9h1V141.2h1V141.3h1V139.9h1V139.4h1V142.3h1V140.7h1V140.4h1V143.0h1V143.1h1V143.4h1V143.5h1V142.1h1V141.7h1V142.4h1V138.0h1V136.6h1V137.0h1V133.7h1V132.6h1V133.1h1V136.5h1V137.6h1V139.0h1V140.8h1V139.3h1V140.6h1V143.1h1V143.6h1V145.4h1V146.6h1V144.7h1V137.6h1V152.4h1V157.3h1V143.0h1V147.4h1V140.4h1V147.0h1V137.2h1V136.2h1V145.8h1V151.2h1V157.7h1V152.4h1V136.8h1V147.6h1V153.0h1V134.6h1V142.7h1V152.8h1V139.4h1V143.9h1V141.8h1V149.9h1V144.2h1V140.2h1V148.2h1V142.4h1V146.2h1V142.6h1V140.4h1V148.6h1V140.2h1V148.1h1V138.3h1V151.5h1V141.3h1V135.2h1V141.7h1V140.1h1V138.0h1V145.5h1V134.4h1V149.0h1V135.1h1V135.3h1V142.2h1V144.5h1V138.1h1V135.5h1V134.6h1V150.2h1V134.5h1V138.4h1V144.2h1V143.3h1V133.5h1V131.5h1V146.7h1V124.5h1V129.4h1V127.4h1V125.6h1V119.5h1V128.8h1V125.0h1V122.8h1V135.9h1V123.9h1V132.1h1V122.2h1V131.3h1V125.3h1V121.1h1V117.7h1V117.5h1V120.8h1V115.8h1V115.8h1V115.8h1V115.8h1V115.8h1V115.8h1V115.8h1V115.7h1V115.7h1V115.7h1V115.7h1V115.7h1V115.7h1V115.7h1V115.7h1V115.6h1V115.6h1V115.6h1V115.6h1V115.6h1V115.6h1V115.6h1V115.6h1V115.6h1V115.5h1V115.5h1V115.5h1V115.5h1V115.5h1V115.5h1V115.5h1V115.5h1V115.5h1V115.4h1V115.4h1V115.4h1V115.4h1V115.4h1V115.4h1V115.4h1V115.4h1V115.3h1V115.3h1V115.3h1V115.3h1V115.3h1V115.3h1V115.3h1V115.3h1V115.3h1V115.2h1V115.2h1V115.2h1V115.2h1V115.2h1V115.2h1V115.2h1V115.2h1V115.2h1V115.1h1V115.1h1V115.1h1V115.1h1V115.1h1V115.1h1V115.1h1V115.1h1V115.0h1V115.0h1V115.0h1V115.0h1V115.0h1V115.0h1V115.0h1V115.0h1V115.0h1V114.9h1V114.9h1V114.9h1V114.9h1V114.9h1V114.9h1V114.9h1V114.9h1V114.9h1V114.8h1V114.8h1V114.8h1V114.8h1V114.8h1V114.8h1V114.8h1V114.8h1V114.7h1V114.7h1V114.7h1V114.7h1V114.7h1V114.7h1V114.7h1V114.7h1V114.7h1V114.6h1V114.6h1V114.6h1V114.6h1V114.6h1V114.6h1V114.6h1V196Z" fill="#2e7262"/>
<path d="M31,196V156.2h1V156.2h1V155.7h1V154.9h1V154.7h1V154.5h1V156.2h1V155.2h1V154.7h1V154.8h1V155.5h1V154.5h1V155.4h1V154.7h1V152.4h1V154.5h1V155.1h1V151.9h1V155.0h1V155.7h1V153.8h1V154.8h1V151.7h1V152.8h1V155.0h1V152.8h1V152.6h1V154.6h1V153.1h1V152.2h1V151.8h1V154.4h1V151.9h1V151.7h1V152.8h1V153.2h1V152.8h1V152.7h1V152.5h1V153.4h1V150.6h1V152.5h1V153.2h1V154.6h1V152.8h1V153.9h1V153.0h1V153.1h1V153.3h1V154.3h1V153.7h1V152.5h1V153.5h1V153.1h1V154.4h1V155.5h1V153.9h1V153.8h1V153.7h1V153.9h1V155.6h1V154.3h1V154.3h1V156.2h1V155.9h1V157.2h1V154.9h1V155.8h1V155.0h1V153.6h1V156.1h1V155.4h1V153.3h1V156.6h1V158.2h1V156.0h1V156.2h1V153.6h1V154.3h1V153.3h1V149.4h1V149.5h1V150.4h1V149.7h1V147.8h1V146.8h1V148.3h1V147.4h1V152.2h1V154.5h1V151.9h1V151.9h1V154.7h1V156.3h1V154.8h1V159.5h1V158.1h1V161.3h1V159.8h1V159.3h1V158.9h1V148.2h1V160.3h1V149.6h1V160.7h1V161.0h1V151.3h1V149.0h1V161.5h1V160.5h1V148.3h1V155.7h1V147.1h1V162.6h1V159.2h1V156.8h1V150.2h1V158.0h1V153.1h1V151.1h1V159.4h1V146.6h1V161.2h1V162.2h1V162.4h1V151.1h1V155.2h1V161.4h1V160.1h1V161.8h1V148.7h1V161.4h1V152.4h1V164.1h1V157.8h1V156.8h1V151.9h1V163.0h1V146.8h1V153.4h1V162.1h1V155.1h1V159.0h1V143.0h1V163.4h1V150.7h1V156.9h1V161.4h1V161.0h1V150.5h1V155.6h1V149.4h1V161.3h1V158.9h1V163.0h1V149.8h1V148.7h1V136.1h1V162.3h1V161.4h1V148.6h1V163.8h1V159.2h1V152.4h1V159.1h1V159.1h1V150.6h1V162.1h1V142.0h1V141.3h1V154.5h1V163.9h1V161.6h1V161.7h1V162.7h1V161.6h1V158.0h1V149.4h1V150.5h1V147.5h1V148.3h1V148.0h1V162.7h1V160.2h1V136.9h1V162.6h1V163.1h1V164.0h1V145.8h1V163.3h1V161.1h1V144.8h1V143.6h1V159.2h1V150.4h1V162.8h1V140.6h1V144.6h1V145.2h1V139.9h1V159.5h1V133.8h1V160.5h1V153.1h1V160.5h1V161.3h1V162.0h1V160.1h1V155.3h1V134.7h1V132.6h1V132.2h1V153.5h1V156.8h1V157.8h1V156.5h1V150.4h1V154.9h1V157.4h1V155.3h1V155.9h1V153.7h1V156.6h1V156.8h1V154.2h1V157.2h1V156.7h1V156.7h1V152.1h1V154.2h1V154.8h1V151.6h1V155.4h1V155.7h1V156.0h1V154.2h1V154.4h1V149.5h1V155.3h1V153.8h1V154.9h1V149.0h1V152.5h1V153.4h1V153.9h1V152.8h1V153.1h1V153.1h1V154.9h1V154.1h1V154.2h1V154.0h1V152.0h1V150.5h1V148.9h1V146.8h1V154.6h1V155.5h1V152.1h1V152.7h1V154.2h1V152.9h1V151.7h1V153.0h1V146.4h1V148.1h1V152.6h1V151.8h1V153.3h1V152.4h1V153.5h1V151.0h1V153.1h1V147.2h1V152.0h1V150.9h1V153.8h1V148.3h1V154.3h1V150.0h1V147.2h1V152.8h1V196Z" fill="#56a893"/>
<path d="M31,196V166.4h1V166.4h1V167.5h1V167.6h1V168.2h1V167.8h1V167.2h1V168.0h1V167.1h1V167.0h1V166.2h1V166.0h1V167.3h1V166.3h1V166.9h1V166.3h1V166.6h1V166.1h1V166.4h1V166.6h1V166.4h1V165.6h1V166.8h1V167.4h1V167.7h1V167.2h1V167.1h1V166.3h1V166.3h1V166.7h1V166.3h1V167.0h1V166.6h1V165.0h1V164.6h1V164.7h1V165.0h1V166.2h1V167.0h1V165.5h1V164.5h1V164.9h1V166.1h1V166.8h1V165.7h1V166.2h1V166.4h1V166.1h1V165.6h1V166.9h1V167.0h1V166.0h1V166.1h1V166.9h1V167.2h1V167.0h1V167.1h1V167.1h1V167.6h1V167.7h1V166.7h1V167.8h1V167.9h1V167.0h1V167.2h1V168.4h1V167.2h1V167.0h1V166.9h1V166.8h1V167.0h1V167.9h1V167.2h1V168.0h1V166.9h1V166.6h1V166.1h1V166.1h1V166.0h1V166.1h1V165.2h1V163.6h1V163.6h1V162.3h1V160.8h1V162.0h1V162.4h1V163.9h1V164.1h1V165.0h1V164.9h1V165.7h1V166.1h1V166.4h1V167.4h1V166.9h1V166.1h1V167.6h1V167.3h1V167.5h1V167.2h1V166.4h1V168.1h1V167.2h1V166.4h1V166.5h1V168.4h1V169.1h1V167.6h1V168.4h1V168.1h1V167.9h1V168.4h1V167.3h1V168.4h1V169.3h1V169.0h1V167.5h1V168.2h1V169.0h1V169.3h1V169.1h1V167.7h1V168.6h1V168.1h1V169.0h1V168.5h1V167.5h1V168.0h1V167.6h1V167.8h1V169.2h1V169.2h1V168.7h1V168.1h1V168.8h1V168.7h1V169.9h1V170.2h1V170.1h1V169.1h1V170.1h1V169.2h1V169.7h1V170.1h1V170.2h1V170.3h1V170.2h1V169.6h1V169.9h1V169.8h1V169.0h1V168.7h1V170.2h1V170.0h1V169.8h1V169.5h1V170.6h1V169.5h1V170.1h1V171.1h1V170.0h1V169.9h1V168.9h1V170.1h1V169.2h1V169.3h1V169.8h1V170.8h1V169.5h1V169.7h1V171.0h1V171.0h1V169.7h1V170.1h1V171.2h1V169.7h1V170.4h1V171.4h1V171.2h1V170.8h1V170.4h1V170.5h1V170.3h1V170.5h1V171.2h1V172.0h1V170.6h1V169.8h1V170.0h1V170.3h1V169.9h1V170.2h1V170.7h1V171.4h1V171.2h1V170.6h1V171.5h1V171.8h1V171.1h1V170.6h1V171.4h1V172.3h1V171.1h1V170.4h1V171.6h1V172.4h1V172.3h1V171.6h1V170.4h1V169.6h1V170.9h1V171.2h1V170.2h1V170.3h1V171.4h1V171.6h1V171.5h1V170.3h1V170.9h1V171.3h1V170.3h1V170.8h1V169.8h1V170.9h1V171.6h1V169.5h1V168.7h1V168.9h1V168.6h1V169.2h1V169.0h1V169.1h1V169.2h1V169.7h1V170.1h1V169.0h1V169.9h1V169.5h1V169.2h1V170.2h1V169.0h1V168.7h1V168.5h1V168.5h1V169.0h1V168.9h1V170.0h1V168.9h1V168.5h1V168.3h1V168.3h1V167.7h1V167.4h1V168.1h1V167.7h1V167.3h1V168.3h1V167.8h1V168.0h1V169.0h1V169.0h1V168.9h1V168.5h1V168.8h1V168.4h1V168.4h1V168.4h1V168.9h1V167.6h1V167.1h1V167.9h1V167.1h1V166.6h1V166.4h1V168.2h1V168.5h1V167.7h1V166.5h1V167.3h1V167.7h1V167.2h1V196Z" fill="#8ddac3"/>
<path d="M31,196V176.4h1V176.4h1V175.7h1V175.4h1V175.2h1V174.5h1V175.1h1V175.1h1V174.6h1V174.6h1V175.5h1V175.8h1V175.6h1V174.5h1V174.7h1V175.2h1V174.0h1V174.4h1V175.3h1V173.7h1V172.8h1V172.5h1V174.3h1V175.2h1V174.7h1V173.4h1V172.5h1V172.4h1V173.4h1V172.8h1V173.0h1V173.8h1V173.9h1V173.2h1V173.2h1V174.1h1V173.4h1V172.2h1V171.8h1V173.5h1V173.8h1V172.6h1V173.6h1V174.6h1V174.3h1V173.2h1V173.3h1V173.8h1V173.0h1V173.9h1V174.6h1V174.0h1V174.4h1V175.0h1V174.8h1V174.9h1V174.1h1V173.8h1V173.3h1V174.8h1V174.1h1V174.7h1V175.9h1V175.4h1V175.0h1V174.0h1V175.4h1V175.4h1V175.2h1V175.7h1V176.6h1V175.7h1V175.3h1V176.0h1V174.7h1V174.9h1V174.5h1V173.7h1V173.0h1V173.3h1V173.1h1V171.1h1V169.2h1V168.2h1V166.9h1V168.2h1V170.3h1V169.8h1V170.7h1V172.4h1V172.8h1V173.0h1V173.4h1V172.6h1V173.9h1V175.2h1V174.2h1V173.5h1V174.3h1V175.3h1V174.2h1V175.2h1V174.7h1V174.6h1V175.4h1V175.0h1V174.9h1V175.2h1V174.7h1V175.4h1V175.2h1V174.4h1V174.9h1V174.8h1V176.3h1V176.0h1V175.2h1V175.6h1V175.8h1V175.7h1V175.0h1V175.0h1V174.9h1V176.6h1V175.5h1V174.9h1V175.7h1V177.0h1V175.9h1V176.2h1V175.7h1V175.9h1V176.5h1V176.1h1V176.3h1V177.5h1V176.4h1V175.4h1V176.8h1V176.4h1V176.1h1V176.3h1V177.1h1V176.9h1V176.4h1V175.7h1V175.9h1V176.6h1V177.8h1V177.7h1V177.3h1V177.9h1V176.6h1V176.1h1V176.8h1V177.6h1V176.2h1V176.4h1V176.9h1V176.9h1V176.9h1V176.5h1V177.7h1V177.3h1V177.3h1V177.5h1V176.4h1V176.8h1V177.8h1V176.4h1V176.5h1V177.3h1V176.4h1V176.7h1V177.9h1V178.4h1V178.2h1V177.2h1V176.9h1V178.1h1V177.7h1V177.4h1V177.0h1V176.6h1V177.3h1V177.9h1V177.4h1V178.4h1V177.4h1V176.5h1V177.9h1V178.9h1V178.8h1V178.6h1V178.2h1V178.9h1V179.0h1V178.0h1V177.4h1V177.6h1V177.8h1V178.7h1V177.9h1V177.9h1V178.4h1V178.2h1V178.3h1V178.7h1V178.1h1V177.3h1V177.0h1V177.0h1V178.0h1V178.5h1V177.7h1V177.0h1V176.3h1V177.8h1V177.9h1V177.6h1V177.0h1V176.8h1V176.3h1V175.9h1V176.0h1V175.7h1V176.6h1V177.0h1V176.8h1V176.9h1V175.8h1V176.5h1V177.4h1V177.5h1V177.6h1V176.2h1V175.4h1V177.0h1V176.3h1V176.4h1V176.2h1V176.2h1V175.7h1V174.9h1V174.8h1V175.7h1V176.7h1V177.2h1V175.3h1V175.3h1V175.0h1V175.6h1V176.2h1V174.9h1V175.9h1V176.6h1V175.7h1V174.4h1V175.4h1V174.8h1V174.2h1V176.0h1V176.0h1V176.1h1V176.4h1V175.9h1V174.5h1V174.7h1V175.4h1V174.4h1V174.3h1V173.9h1V174.3h1V175.4h1V174.4h1V175.0h1V175.2h1V175.3h1V174.5h1V173.8h1V173.9h1V173.7h1V196Z" fill="#ccefe5"/>
<path d="M31,196V181.9h1V181.9h1V181.8h1V182.4h1V182.0h1V182.0h1V181.8h1V182.2h1V182.6h1V181.7h1V181.0h1V181.5h1V181.9h1V181.5h1V181.7h1V181.9h1V181.9h1V180.3h1V181.2h1V182.3h1V181.3h1V180.5h1V181.1h1V181.1h1V181.6h1V182.0h1V181.2h1V179.9h1V180.5h1V180.9h1V180.4h1V181.0h1V180.1h1V180.2h1V180.4h1V180.3h1V180.4h1V180.3h1V179.7h1V180.7h1V180.5h1V179.9h1V179.5h1V179.3h1V179.2h1V180.5h1V180.9h1V181.6h1V181.1h1V180.9h1V179.8h1V180.2h1V181.3h1V180.7h1V181.7h1V182.1h1V180.6h1V180.6h1V180.1h1V180.1h1V180.3h1V181.1h1V181.5h1V180.6h1V181.5h1V182.3h1V181.4h1V180.8h1V182.4h1V182.9h1V181.6h1V181.1h1V182.8h1V182.4h1V182.9h1V182.9h1V182.2h1V181.0h1V181.4h1V180.8h1V178.9h1V179.1h1V177.7h1V177.9h1V177.5h1V177.6h1V178.8h1V178.8h1V178.2h1V179.2h1V179.7h1V180.7h1V180.3h1V181.2h1V181.9h1V181.0h1V181.2h1V182.2h1V182.5h1V180.8h1V182.0h1V182.1h1V181.9h1V180.7h1V181.6h1V182.3h1V181.3h1V182.2h1V182.2h1V181.6h1V181.3h1V181.6h1V181.9h1V182.7h1V182.2h1V182.7h1V181.8h1V181.7h1V182.0h1V182.8h1V181.7h1V181.6h1V182.6h1V182.8h1V181.7h1V182.4h1V182.5h1V182.6h1V182.5h1V181.5h1V181.9h1V182.3h1V182.0h1V181.9h1V183.4h1V182.7h1V183.1h1V182.6h1V182.6h1V183.1h1V183.8h1V183.7h1V183.1h1V182.6h1V182.0h1V182.8h1V184.1h1V183.7h1V183.4h1V183.7h1V183.1h1V183.9h1V184.5h1V184.3h1V183.3h1V182.2h1V183.2h1V184.4h1V184.5h1V183.3h1V182.6h1V182.7h1V182.8h1V184.1h1V184.3h1V182.9h1V182.2h1V183.9h1V183.6h1V183.2h1V183.2h1V183.4h1V183.7h1V184.2h1V183.2h1V182.4h1V182.7h1V183.5h1V184.7h1V184.4h1V183.5h1V183.4h1V184.5h1V183.2h1V183.3h1V184.5h1V183.4h1V184.2h1V183.7h1V184.1h1V183.4h1V183.8h1V184.6h1V184.7h1V185.0h1V185.0h1V185.2h1V184.5h1V184.8h1V185.4h1V184.8h1V184.7h1V185.1h1V184.8h1V183.6h1V182.9h1V182.9h1V183.2h1V184.0h1V183.8h1V183.6h1V184.0h1V184.8h1V184.7h1V183.5h1V183.5h1V183.4h1V184.5h1V183.8h1V183.4h1V183.8h1V184.4h1V183.7h1V183.9h1V184.0h1V183.7h1V183.4h1V184.2h1V184.1h1V183.8h1V183.2h1V182.4h1V183.3h1V182.4h1V182.8h1V182.6h1V182.5h1V182.8h1V183.8h1V183.4h1V183.4h1V183.9h1V183.5h1V183.0h1V182.8h1V182.6h1V182.2h1V181.7h1V182.3h1V183.3h1V183.2h1V181.9h1V182.1h1V182.6h1V182.0h1V182.2h1V183.3h1V183.6h1V183.4h1V181.5h1V182.8h1V183.1h1V181.3h1V182.7h1V181.8h1V180.9h1V182.5h1V181.2h1V181.3h1V181.1h1V182.3h1V181.6h1V182.5h1V181.1h1V181.0h1V182.3h1V181.8h1V181.5h1V180.7h1V180.1h1V180.4h1V181.6h1V196Z" fill="#efe8c2"/>
<path d="M31,196V187.0h1V187.0h1V188.1h1V188.9h1V188.1h1V188.1h1V187.4h1V187.1h1V187.2h1V186.9h1V186.6h1V187.5h1V187.1h1V186.1h1V186.0h1V186.3h1V186.1h1V187.6h1V188.1h1V186.1h1V186.6h1V186.5h1V187.6h1V186.3h1V185.3h1V186.5h1V187.0h1V187.0h1V187.1h1V186.7h1V187.2h1V187.8h1V187.6h1V186.1h1V186.0h1V187.0h1V186.6h1V187.1h1V187.7h1V187.2h1V186.2h1V186.9h1V186.9h1V187.5h1V187.2h1V185.9h1V187.1h1V186.6h1V186.6h1V185.7h1V185.5h1V185.6h1V186.0h1V185.7h1V186.3h1V186.1h1V187.1h1V186.9h1V188.0h1V187.5h1V187.1h1V187.2h1V186.3h1V186.7h1V188.2h1V187.1h1V187.0h1V186.8h1V187.0h1V187.2h1V188.0h1V189.0h1V188.0h1V188.3h1V188.7h1V187.4h1V186.1h1V185.5h1V185.6h1V185.7h1V185.2h1V184.9h1V183.6h1V183.4h1V182.4h1V183.5h1V184.0h1V183.4h1V184.2h1V186.1h1V186.4h1V186.9h1V185.8h1V185.2h1V186.0h1V186.6h1V186.4h1V187.5h1V186.8h1V186.7h1V187.9h1V186.8h1V186.8h1V187.8h1V187.1h1V187.1h1V186.9h1V187.9h1V187.0h1V186.3h1V186.9h1V186.9h1V186.5h1V187.3h1V188.5h1V187.4h1V188.3h1V187.8h1V188.5h1V187.4h1V188.1h1V188.9h1V188.7h1V187.9h1V188.1h1V188.7h1V189.4h1V187.7h1V188.3h1V189.4h1V189.3h1V188.5h1V187.6h1V187.6h1V188.1h1V189.1h1V189.1h1V188.1h1V188.2h1V187.9h1V189.2h1V189.5h1V189.8h1V189.1h1V188.2h1V188.8h1V189.6h1V189.9h1V188.4h1V188.9h1V188.7h1V188.8h1V189.1h1V189.9h1V189.4h1V189.3h1V188.3h1V187.4h1V188.9h1V188.0h1V188.5h1V188.5h1V188.4h1V188.1h1V188.1h1V189.5h1V188.3h1V188.8h1V188.2h1V189.4h1V190.1h1V190.0h1V190.2h1V188.9h1V188.9h1V189.7h1V189.2h1V188.5h1V188.3h1V188.3h1V188.5h1V188.2h1V189.0h1V188.6h1V189.4h1V188.6h1V189.3h1V188.6h1V189.6h1V190.6h1V190.5h1V190.2h1V188.8h1V188.3h1V189.2h1V190.2h1V189.5h1V190.0h1V190.9h1V190.5h1V189.5h1V190.2h1V190.9h1V190.4h1V190.0h1V189.8h1V190.6h1V190.6h1V189.4h1V190.2h1V190.5h1V190.0h1V189.3h1V189.7h1V188.8h1V189.1h1V188.6h1V188.2h1V189.0h1V190.1h1V189.8h1V188.9h1V188.9h1V188.0h1V188.0h1V189.6h1V188.9h1V189.0h1V188.5h1V188.0h1V188.3h1V187.7h1V188.6h1V188.1h1V188.5h1V189.2h1V188.7h1V189.1h1V187.5h1V188.4h1V187.4h1V188.5h1V187.4h1V187.2h1V187.7h1V187.4h1V188.1h1V187.8h1V188.2h1V188.2h1V187.0h1V186.6h1V187.9h1V188.4h1V187.9h1V187.5h1V187.2h1V187.3h1V187.8h1V187.4h1V187.6h1V187.6h1V188.3h1V187.7h1V187.2h1V187.0h1V187.0h1V186.3h1V187.6h1V186.7h1V186.4h1V186.4h1V187.8h1V186.9h1V186.4h1V187.6h1V187.6h1V186.6h1V186.6h1V186.8h1V187.1h1V186.6h1V196Z" fill="#d7c280"/>
<path d="M31,196V193.6h1V193.6h1V194.4h1V194.0h1V194.0h1V194.6h1V193.0h1V192.9h1V194.3h1V193.5h1V194.0h1V193.3h1V192.7h1V193.0h1V192.4h1V193.4h1V192.4h1V192.9h1V193.9h1V192.3h1V192.5h1V192.1h1V192.6h1V191.9h1V192.8h1V193.7h1V192.8h1V192.9h1V193.6h1V193.3h1V192.5h1V192.4h1V193.2h1V193.8h1V193.7h1V192.4h1V193.1h1V192.4h1V191.2h1V191.6h1V191.8h1V192.6h1V191.7h1V191.8h1V193.3h1V193.4h1V192.4h1V192.5h1V192.7h1V193.1h1V192.5h1V192.1h1V192.3h1V192.1h1V191.6h1V191.3h1V192.0h1V193.4h1V192.9h1V193.1h1V193.1h1V192.7h1V193.4h1V193.4h1V192.5h1V192.0h1V192.4h1V193.0h1V193.1h1V193.1h1V192.5h1V193.7h1V193.5h1V193.9h1V194.1h1V192.9h1V191.5h1V192.0h1V192.4h1V191.6h1V190.8h1V190.4h1V188.9h1V188.9h1V188.4h1V188.0h1V189.8h1V190.0h1V189.4h1V189.7h1V189.8h1V190.9h1V190.5h1V190.6h1V191.1h1V190.7h1V192.4h1V192.9h1V193.3h1V193.3h1V192.7h1V191.7h1V191.8h1V193.2h1V193.8h1V192.5h1V192.3h1V191.7h1V192.8h1V193.1h1V192.0h1V191.9h1V193.5h1V193.0h1V193.6h1V192.8h1V192.3h1V193.1h1V193.5h1V192.7h1V192.5h1V192.6h1V192.5h1V193.2h1V193.3h1V193.4h1V193.4h1V192.8h1V192.3h1V194.0h1V192.8h1V192.0h1V192.5h1V192.5h1V192.7h1V193.8h1V194.1h1V193.3h1V193.6h1V192.7h1V193.6h1V194.7h1V193.1h1V193.3h1V193.4h1V192.8h1V193.9h1V194.3h1V193.1h1V192.8h1V193.5h1V193.9h1V193.2h1V193.2h1V194.6h1V193.8h1V194.5h1V193.3h1V192.7h1V193.5h1V193.7h1V193.8h1V194.0h1V194.5h1V194.9h1V194.4h1V193.8h1V194.0h1V194.0h1V194.2h1V194.1h1V193.4h1V193.5h1V194.8h1V193.6h1V194.3h1V194.0h1V194.5h1V195.1h1V194.7h1V193.9h1V193.2h1V194.0h1V193.7h1V193.2h1V194.2h1V194.6h1V193.2h1V194.7h1V194.1h1V194.5h1V195.3h1V194.0h1V193.4h1V194.5h1V195.4h1V194.9h1V194.3h1V193.2h1V193.3h1V194.7h1V193.8h1V193.4h1V194.4h1V193.8h1V193.8h1V194.2h1V193.4h1V193.7h1V194.4h1V194.8h1V195.0h1V193.9h1V192.7h1V193.2h1V193.7h1V194.3h1V194.8h1V193.1h1V194.0h1V193.8h1V194.5h1V194.7h1V194.9h1V194.5h1V194.2h1V193.2h1V193.8h1V192.9h1V193.2h1V193.6h1V194.4h1V194.1h1V193.9h1V193.3h1V194.0h1V193.8h1V192.8h1V193.8h1V193.0h1V193.2h1V192.8h1V193.5h1V193.2h1V193.0h1V192.3h1V192.7h1V193.6h1V192.2h1V192.2h1V193.6h1V192.8h1V192.1h1V191.8h1V192.6h1V193.7h1V192.5h1V192.0h1V192.6h1V193.1h1V192.0h1V191.3h1V191.4h1V193.0h1V193.1h1V192.0h1V192.2h1V193.0h1V192.3h1V191.5h1V193.1h1V192.7h1V193.3h1V191.8h1V191.6h1V192.4h1V191.5h1V192.4h1V191.4h1V192.5h1V192.4h1V191.8h1V196Z" fill="#bf853a"/></g><rect x="32" y="127.0" width="280" height="1" fill="#8fc23e"/><path d="M31.50,126.6H32.50V132.2H31.50ZM32.25,121.5H35.75V127.1H32.25ZM35.25,116.4H37.75V122.0H35.25ZM37.50,121.5H38.50V127.1H37.50ZM38.50,126.6H39.50V132.2H38.50ZM39.50,116.4H40.50V122.0H39.50ZM40.50,121.5H41.50V127.1H40.50ZM41.50,116.4H42.50V122.0H41.50ZM42.50,121.5H43.50V127.1H42.50ZM43.25,116.4H49.75V122.0H43.25ZM49.50,131.7H50.50V137.3H49.50ZM50.25,121.5H52.75V127.1H50.25ZM52.50,116.4H53.50V122.0H52.50ZM53.50,126.6H54.50V132.2H53.50ZM54.25,121.5H57.75V127.1H54.25ZM57.25,116.4H61.75V122.0H57.25ZM61.25,121.5H63.75V127.1H61.25ZM63.50,126.6H64.50V132.2H63.50ZM64.25,116.4H66.75V122.0H64.25ZM66.25,121.5H68.75V127.1H66.25ZM68.50,126.6H69.50V132.2H68.50ZM69.50,116.4H70.50V122.0H69.50ZM70.50,121.5H71.50V127.1H70.50ZM71.50,116.4H72.50V122.0H71.50ZM72.50,131.7H73.50V137.3H72.50ZM73.25,126.6H75.75V132.2H73.25ZM75.25,121.5H80.75V127.1H75.25ZM80.50,116.4H81.50V122.0H80.50ZM81.25,121.5H84.75V127.1H81.25ZM84.50,131.7H85.50V137.3H84.50ZM85.50,136.8H86.50V142.4H85.50ZM86.25,131.7H89.75V137.3H86.25ZM89.25,126.6H91.75V132.2H89.25ZM91.25,121.5H94.75V127.1H91.25ZM94.25,126.6H97.75V132.2H94.25ZM97.50,136.8H98.50V142.4H97.50ZM98.25,126.6H100.75V132.2H98.25ZM100.25,121.5H103.75V127.1H100.25ZM103.50,131.7H104.50V137.3H103.50ZM104.50,121.5H105.50V127.1H104.50ZM105.50,131.7H106.50V137.3H105.50ZM106.25,126.6H109.75V132.2H106.25ZM109.25,131.7H111.75V137.3H109.25ZM111.50,116.4H112.50V122.0H111.50ZM112.50,121.5H113.50V127.1H112.50ZM113.25,116.4H119.75V122.0H113.25ZM119.50,147.0H120.50V152.6H119.50ZM120.50,116.4H121.50V122.0H120.50ZM121.50,141.9H122.50V147.5H121.50ZM122.50,126.6H123.50V132.2H122.50ZM123.25,141.9H125.75V147.5H123.25ZM125.25,126.6H128.75V132.2H125.25ZM128.50,131.7H129.50V137.3H128.50ZM129.25,126.6H131.75V132.2H129.25ZM131.50,131.7H132.50V137.3H131.50ZM132.25,121.5H135.75V127.1H132.25ZM135.50,131.7H136.50V137.3H135.50ZM136.25,126.6H139.75V132.2H136.25ZM139.50,121.5H140.50V127.1H139.50ZM140.50,116.4H141.50V122.0H140.50ZM141.50,131.7H142.50V137.3H141.50ZM142.50,126.6H143.50V132.2H142.50ZM143.25,141.9H145.75V147.5H143.25ZM145.50,136.8H146.50V142.4H145.50ZM146.50,131.7H147.50V137.3H146.50ZM147.50,126.6H148.50V132.2H147.50ZM148.50,131.7H149.50V137.3H148.50ZM149.50,136.8H150.50V142.4H149.50ZM150.25,126.6H153.75V132.2H150.25ZM153.25,116.4H155.75V122.0H153.25ZM155.50,121.5H156.50V127.1H155.50ZM156.50,131.7H157.50V137.3H156.50ZM157.50,136.8H158.50V142.4H157.50ZM158.50,126.6H159.50V132.2H158.50ZM159.50,131.7H160.50V137.3H159.50ZM160.50,121.5H161.50V127.1H160.50ZM161.50,131.7H162.50V137.3H161.50ZM162.50,121.5H163.50V127.1H162.50ZM163.50,131.7H164.50V137.3H163.50ZM164.25,136.8H166.75V142.4H164.25ZM166.50,126.6H167.50V132.2H166.50ZM167.50,131.7H168.50V137.3H167.50ZM168.50,141.9H169.50V147.5H168.50ZM169.50,131.7H170.50V137.3H169.50ZM170.50,126.6H171.50V132.2H170.50ZM171.25,131.7H173.75V137.3H171.25ZM173.50,121.5H174.50V127.1H173.50ZM174.25,136.8H176.75V142.4H174.25ZM176.50,126.6H177.50V132.2H176.50ZM177.50,131.7H178.50V137.3H177.50ZM178.25,121.5H180.75V127.1H178.25ZM180.50,131.7H181.50V137.3H180.50ZM181.50,136.8H182.50V142.4H181.50ZM182.50,126.6H183.50V132.2H182.50ZM183.50,136.8H184.50V142.4H183.50ZM184.50,116.4H185.50V122.0H184.50ZM185.25,121.5H187.75V127.1H185.25ZM187.50,116.4H188.50V122.0H187.50ZM188.50,126.6H189.50V132.2H188.50ZM189.50,131.7H190.50V137.3H189.50ZM190.25,126.6H192.75V132.2H190.25ZM192.50,131.7H193.50V137.3H192.50ZM193.50,126.6H194.50V132.2H193.50ZM194.50,116.4H195.50V122.0H194.50ZM195.50,131.7H196.50V137.3H195.50ZM196.25,126.6H198.75V132.2H196.25ZM198.50,147.0H199.50V152.6H198.50ZM199.50,131.7H200.50V137.3H199.50ZM200.50,136.8H201.50V142.4H200.50ZM201.50,141.9H202.50V147.5H201.50ZM202.50,121.5H203.50V127.1H202.50ZM203.50,147.0H204.50V152.6H203.50ZM204.50,152.1H205.50V157.7H204.50ZM205.50,141.9H206.50V147.5H205.50ZM206.50,131.7H207.50V137.3H206.50ZM207.50,141.9H208.50V147.5H207.50ZM208.50,147.0H209.50V152.6H208.50ZM209.50,141.9H210.50V147.5H209.50ZM210.50,121.5H211.50V127.1H210.50ZM211.25,126.6H213.75V132.2H211.25ZM213.50,147.0H214.50V152.6H213.50ZM214.50,141.9H215.50V147.5H214.50ZM215.50,136.8H216.50V142.4H215.50ZM216.50,141.9H217.50V147.5H216.50ZM217.50,126.6H218.50V132.2H217.50ZM218.25,141.9H220.75V147.5H218.25ZM220.25,126.6H223.75V132.2H220.25ZM223.25,136.8H226.75V142.4H223.25ZM226.50,152.1H227.50V157.7H226.50ZM227.50,126.6H228.50V132.2H227.50ZM228.50,147.0H229.50V152.6H228.50ZM229.50,141.9H230.50V147.5H229.50ZM230.25,126.6H232.75V132.2H230.25ZM232.50,152.1H233.50V157.7H232.50ZM233.25,136.8H235.75V142.4H233.25ZM235.50,131.7H236.50V137.3H235.50ZM236.50,126.6H237.50V132.2H236.50ZM237.50,131.7H238.50V137.3H237.50ZM238.50,136.8H239.50V142.4H238.50ZM239.25,131.7H242.75V137.3H239.25ZM242.50,136.8H243.50V142.4H242.50ZM243.50,126.6H244.50V132.2H243.50ZM244.25,131.7H247.75V137.3H244.25ZM247.50,126.6H248.50V132.2H247.50ZM248.25,131.7H253.75V137.3H248.25ZM253.50,126.6H254.50V132.2H253.50ZM254.25,131.7H261.75V137.3H254.25ZM261.50,126.6H262.50V132.2H261.50ZM262.25,131.7H269.75V137.3H262.25ZM269.50,126.6H270.50V132.2H269.50ZM270.25,131.7H279.75V137.3H270.25ZM279.50,121.5H280.50V127.1H279.50ZM280.25,131.7H287.75V137.3H280.25ZM287.25,116.4H289.75V122.0H287.25ZM289.50,111.3H290.50V116.9H289.50ZM290.50,131.7H291.50V137.3H290.50ZM291.50,126.6H292.50V132.2H291.50ZM292.25,131.7H296.75V137.3H292.25ZM296.50,126.6H297.50V132.2H296.50ZM297.25,131.7H299.75V137.3H297.25ZM299.50,126.6H300.50V132.2H299.50ZM300.25,131.7H307.75V137.3H300.25ZM307.50,121.5H308.50V127.1H307.50ZM308.25,131.7H310.75V137.3H308.25ZM310.50,126.6H311.50V132.2H310.50ZM311.50,131.7H312.50V137.3H311.50ZM29.3,128.9H34.7V129.9H29.3ZM30.3,123.8H37.7V124.8H30.3ZM33.3,118.7H39.7V119.7H33.3ZM35.3,123.8H40.7V124.8H35.3ZM36.3,128.9H41.7V129.9H36.3ZM37.3,118.7H42.7V119.7H37.3ZM38.3,123.8H43.7V124.8H38.3ZM39.3,118.7H44.7V119.7H39.3ZM40.3,123.8H45.7V124.8H40.3ZM41.3,118.7H51.7V119.7H41.3ZM47.3,134.0H52.7V135.0H47.3ZM48.3,123.8H54.7V124.8H48.3ZM50.3,118.7H55.7V119.7H50.3ZM51.3,128.9H56.7V129.9H51.3ZM52.3,123.8H59.7V124.8H52.3ZM55.3,118.7H63.7V119.7H55.3ZM59.3,123.8H65.7V124.8H59.3ZM61.3,128.9H66.7V129.9H61.3ZM62.3,118.7H68.7V119.7H62.3ZM64.3,123.8H70.7V124.8H64.3ZM66.3,128.9H71.7V129.9H66.3ZM67.3,118.7H72.7V119.7H67.3ZM68.3,123.8H73.7V124.8H68.3ZM69.3,118.7H74.7V119.7H69.3ZM70.3,134.0H75.7V135.0H70.3ZM71.3,128.9H77.7V129.9H71.3ZM73.3,123.8H82.7V124.8H73.3ZM78.3,118.7H83.7V119.7H78.3ZM79.3,123.8H86.7V124.8H79.3ZM82.3,134.0H87.7V135.0H82.3ZM83.3,139.1H88.7V140.1H83.3ZM84.3,134.0H91.7V135.0H84.3ZM87.3,128.9H93.7V129.9H87.3ZM89.3,123.8H96.7V124.8H89.3ZM92.3,128.9H99.7V129.9H92.3ZM95.3,139.1H100.7V140.1H95.3ZM96.3,128.9H102.7V129.9H96.3ZM98.3,123.8H105.7V124.8H98.3ZM101.3,134.0H106.7V135.0H101.3ZM102.3,123.8H107.7V124.8H102.3ZM103.3,134.0H108.7V135.0H103.3ZM104.3,128.9H111.7V129.9H104.3ZM107.3,134.0H113.7V135.0H107.3ZM109.3,118.7H114.7V119.7H109.3ZM110.3,123.8H115.7V124.8H110.3ZM111.3,118.7H121.7V119.7H111.3ZM117.3,149.3H122.7V150.3H117.3ZM118.3,118.7H123.7V119.7H118.3ZM119.3,144.2H124.7V145.2H119.3ZM120.3,128.9H125.7V129.9H120.3ZM121.3,144.2H127.7V145.2H121.3ZM123.3,128.9H130.7V129.9H123.3ZM126.3,134.0H131.7V135.0H126.3ZM127.3,128.9H133.7V129.9H127.3ZM129.3,134.0H134.7V135.0H129.3ZM130.3,123.8H137.7V124.8H130.3ZM133.3,134.0H138.7V135.0H133.3ZM134.3,128.9H141.7V129.9H134.3ZM137.3,123.8H142.7V124.8H137.3ZM138.3,118.7H143.7V119.7H138.3ZM139.3,134.0H144.7V135.0H139.3ZM140.3,128.9H145.7V129.9H140.3ZM141.3,144.2H147.7V145.2H141.3ZM143.3,139.1H148.7V140.1H143.3ZM144.3,134.0H149.7V135.0H144.3ZM145.3,128.9H150.7V129.9H145.3ZM146.3,134.0H151.7V135.0H146.3ZM147.3,139.1H152.7V140.1H147.3ZM148.3,128.9H155.7V129.9H148.3ZM151.3,118.7H157.7V119.7H151.3ZM153.3,123.8H158.7V124.8H153.3ZM154.3,134.0H159.7V135.0H154.3ZM155.3,139.1H160.7V140.1H155.3ZM156.3,128.9H161.7V129.9H156.3ZM157.3,134.0H162.7V135.0H157.3ZM158.3,123.8H163.7V124.8H158.3ZM159.3,134.0H164.7V135.0H159.3ZM160.3,123.8H165.7V124.8H160.3ZM161.3,134.0H166.7V135.0H161.3ZM162.3,139.1H168.7V140.1H162.3ZM164.3,128.9H169.7V129.9H164.3ZM165.3,134.0H170.7V135.0H165.3ZM166.3,144.2H171.7V145.2H166.3ZM167.3,134.0H172.7V135.0H167.3ZM168.3,128.9H173.7V129.9H168.3ZM169.3,134.0H175.7V135.0H169.3ZM171.3,123.8H176.7V124.8H171.3ZM172.3,139.1H178.7V140.1H172.3ZM174.3,128.9H179.7V129.9H174.3ZM175.3,134.0H180.7V135.0H175.3ZM176.3,123.8H182.7V124.8H176.3ZM178.3,134.0H183.7V135.0H178.3ZM179.3,139.1H184.7V140.1H179.3ZM180.3,128.9H185.7V129.9H180.3ZM181.3,139.1H186.7V140.1H181.3ZM182.3,118.7H187.7V119.7H182.3ZM183.3,123.8H189.7V124.8H183.3ZM185.3,118.7H190.7V119.7H185.3ZM186.3,128.9H191.7V129.9H186.3ZM187.3,134.0H192.7V135.0H187.3ZM188.3,128.9H194.7V129.9H188.3ZM190.3,134.0H195.7V135.0H190.3ZM191.3,128.9H196.7V129.9H191.3ZM192.3,118.7H197.7V119.7H192.3ZM193.3,134.0H198.7V135.0H193.3ZM194.3,128.9H200.7V129.9H194.3ZM196.3,149.3H201.7V150.3H196.3ZM197.3,134.0H202.7V135.0H197.3ZM198.3,139.1H203.7V140.1H198.3ZM199.3,144.2H204.7V145.2H199.3ZM200.3,123.8H205.7V124.8H200.3ZM201.3,149.3H206.7V150.3H201.3ZM202.3,154.4H207.7V155.4H202.3ZM203.3,144.2H208.7V145.2H203.3ZM204.3,134.0H209.7V135.0H204.3ZM205.3,144.2H210.7V145.2H205.3ZM206.3,149.3H211.7V150.3H206.3ZM207.3,144.2H212.7V145.2H207.3ZM208.3,123.8H213.7V124.8H208.3ZM209.3,128.9H215.7V129.9H209.3ZM211.3,149.3H216.7V150.3H211.3ZM212.3,144.2H217.7V145.2H212.3ZM213.3,139.1H218.7V140.1H213.3ZM214.3,144.2H219.7V145.2H214.3ZM215.3,128.9H220.7V129.9H215.3ZM216.3,144.2H222.7V145.2H216.3ZM218.3,128.9H225.7V129.9H218.3ZM221.3,139.1H228.7V140.1H221.3ZM224.3,154.4H229.7V155.4H224.3ZM225.3,128.9H230.7V129.9H225.3ZM226.3,149.3H231.7V150.3H226.3ZM227.3,144.2H232.7V145.2H227.3ZM228.3,128.9H234.7V129.9H228.3ZM230.3,154.4H235.7V155.4H230.3ZM231.3,139.1H237.7V140.1H231.3ZM233.3,134.0H238.7V135.0H233.3ZM234.3,128.9H239.7V129.9H234.3ZM235.3,134.0H240.7V135.0H235.3ZM236.3,139.1H241.7V140.1H236.3ZM237.3,134.0H244.7V135.0H237.3ZM240.3,139.1H245.7V140.1H240.3ZM241.3,128.9H246.7V129.9H241.3ZM242.3,134.0H249.7V135.0H242.3ZM245.3,128.9H250.7V129.9H245.3ZM246.3,134.0H255.7V135.0H246.3ZM251.3,128.9H256.7V129.9H251.3ZM252.3,134.0H263.7V135.0H252.3ZM259.3,128.9H264.7V129.9H259.3ZM260.3,134.0H271.7V135.0H260.3ZM267.3,128.9H272.7V129.9H267.3ZM268.3,134.0H281.7V135.0H268.3ZM277.3,123.8H282.7V124.8H277.3ZM278.3,134.0H289.7V135.0H278.3ZM285.3,118.7H291.7V119.7H285.3ZM287.3,113.6H292.7V114.6H287.3ZM288.3,134.0H293.7V135.0H288.3ZM289.3,128.9H294.7V129.9H289.3ZM290.3,134.0H298.7V135.0H290.3ZM294.3,128.9H299.7V129.9H294.3ZM295.3,134.0H301.7V135.0H295.3ZM297.3,128.9H302.7V129.9H297.3ZM298.3,134.0H309.7V135.0H298.3ZM305.3,123.8H310.7V124.8H305.3ZM306.3,134.0H312.7V135.0H306.3ZM308.3,128.9H313.7V129.9H308.3ZM309.3,134.0H314.7V135.0H309.3Z" fill="#fa38fc"/><rect x="32" y="15" width="280" height="180" fill="none" stroke="#262626" stroke-width="0.6"/>
<line x1="32" y1="187.95" x2="34.8" y2="187.95" stroke="#262626" stroke-width="0.6"/>
<line x1="309.2" y1="187.95" x2="312" y2="187.95" stroke="#262626" stroke-width="0.6"/>
<text x="30.4" y="190.65" text-anchor="end" font-size="9" fill="#262626">-15</text>
<line x1="32" y1="167.80" x2="34.8" y2="167.80" stroke="#262626" stroke-width="0.6"/>
<line x1="309.2" y1="167.80" x2="312" y2="167.80" stroke="#262626" stroke-width="0.6"/>
<text x="30.4" y="170.50" text-anchor="end" font-size="9" fill="#262626">-10</text>
<line x1="32" y1="147.65" x2="34.8" y2="147.65" stroke="#262626" stroke-width="0.6"/>
<line x1="309.2" y1="147.65" x2="312" y2="147.65" stroke="#262626" stroke-width="0.6"/>
<text x="30.4" y="150.35" text-anchor="end" font-size="9" fill="#262626">-5</text>
<line x1="32" y1="127.50" x2="34.8" y2="127.50" stroke="#262626" stroke-width="0.6"/>
<line x1="309.2" y1="127.50" x2="312" y2="127.50" stroke="#262626" stroke-width="0.6"/>
<text x="30.4" y="130.20" text-anchor="end" font-size="9" fill="#262626">0</text>
<line x1="32" y1="107.35" x2="34.8" y2="107.35" stroke="#262626" stroke-width="0.6"/>
<line x1="309.2" y1="107.35" x2="312" y2="107.35" stroke="#262626" stroke-width="0.6"/>
<text x="30.4" y="110.05" text-anchor="end" font-size="9" fill="#262626">5</text>
<line x1="32" y1="87.20" x2="34.8" y2="87.20" stroke="#262626" stroke-width="0.6"/>
<line x1="309.2" y1="87.20" x2="312" y2="87.20" stroke="#262626" stroke-width="0.6"/>
<text x="30.4" y="89.90" text-anchor="end" font-size="9" fill="#262626">10</text>
<line x1="32" y1="67.05" x2="34.8" y2="67.05" stroke="#262626" stroke-width="0.6"/>
<line x1="309.2" y1="67.05" x2="312" y2="67.05" stroke="#262626" stroke-width="0.6"/>
<text x="30.4" y="69.75" text-anchor="end" font-size="9" fill="#262626">15</text>
<line x1="32" y1="46.90" x2="34.8" y2="46.90" stroke="#262626" stroke-width="0.6"/>
<line x1="309.2" y1="46.90" x2="312" y2="46.90" stroke="#262626" stroke-width="0.6"/>
<text x="30.4" y="49.60" text-anchor="end" font-size="9" fill="#262626">20</text>
<line x1="32" y1="26.75" x2="34.8" y2="26.75" stroke="#262626" stroke-width="0.6"/>
<line x1="309.2" y1="26.75" x2="312" y2="26.75" stroke="#262626" stroke-width="0.6"/>
<text x="30.4" y="29.45" text-anchor="end" font-size="9" fill="#262626">25</text>
<line x1="32.00" y1="195" x2="32.00" y2="192.2" stroke="#262626" stroke-width="0.6"/>
<line x1="32.00" y1="15" x2="32.00" y2="17.8" stroke="#262626" stroke-width="0.6"/>
<text x="32.00" y="204.2" text-anchor="middle" font-size="9" fill="#262626">12</text>
<line x1="72.00" y1="195" x2="72.00" y2="192.2" stroke="#262626" stroke-width="0.6"/>
<line x1="72.00" y1="15" x2="72.00" y2="17.8" stroke="#262626" stroke-width="0.6"/>
<text x="72.00" y="204.2" text-anchor="middle" font-size="9" fill="#262626">13</text>
<line x1="112.00" y1="195" x2="112.00" y2="192.2" stroke="#262626" stroke-width="0.6"/>
<line x1="112.00" y1="15" x2="112.00" y2="17.8" stroke="#262626" stroke-width="0.6"/>
<text x="112.00" y="204.2" text-anchor="middle" font-size="9" fill="#262626">14</text>
<line x1="152.00" y1="195" x2="152.00" y2="192.2" stroke="#262626" stroke-width="0.6"/>
<line x1="152.00" y1="15" x2="152.00" y2="17.8" stroke="#262626" stroke-width="0.6"/>
<text x="152.00" y="204.2" text-anchor="middle" font-size="9" fill="#262626">15</text>
<line x1="192.00" y1="195" x2="192.00" y2="192.2" stroke="#262626" stroke-width="0.6"/>
<line x1="192.00" y1="15" x2="192.00" y2="17.8" stroke="#262626" stroke-width="0.6"/>
<text x="192.00" y="204.2" text-anchor="middle" font-size="9" fill="#262626">16</text>
<line x1="232.00" y1="195" x2="232.00" y2="192.2" stroke="#262626" stroke-width="0.6"/>
<line x1="232.00" y1="15" x2="232.00" y2="17.8" stroke="#262626" stroke-width="0.6"/>
<text x="232.00" y="204.2" text-anchor="middle" font-size="9" fill="#262626">17</text>
<line x1="272.00" y1="195" x2="272.00" y2="192.2" stroke="#262626" stroke-width="0.6"/>
<line x1="272.00" y1="15" x2="272.00" y2="17.8" stroke="#262626" stroke-width="0.6"/>
<text x="272.00" y="204.2" text-anchor="middle" font-size="9" fill="#262626">18</text>
<line x1="312.00" y1="195" x2="312.00" y2="192.2" stroke="#262626" stroke-width="0.6"/>
<line x1="312.00" y1="15" x2="312.00" y2="17.8" stroke="#262626" stroke-width="0.6"/>
<text x="312.00" y="204.2" text-anchor="middle" font-size="9" fill="#262626">19</text>
<text x="172.0" y="215.2" text-anchor="middle" font-size="9" fill="#262626">ka</text>
<text x="15" y="105.0" text-anchor="middle" font-size="9" fill="#262626" transform="rotate(-90 15 105.0)">latitude</text>
<text x="172.0" y="10" text-anchor="middle" font-size="12.7" font-weight="bold" fill="#000">(a) annual precipitation (mm/day), ALL</text><g clip-path="url(#cp1)"><rect x="400" y="15" width="280" height="180" fill="#56340f"/>
<path d="M399,196V52.2h1V52.2h1V52.8h1V52.3h1V52.8h1V52.9h1V52.1h1V51.9h1V53.7h1V53.9h1V53.2h1V53.3h1V52.7h1V52.5h1V52.0h1V51.8h1V53.3h1V54.0h1V52.3h1V52.3h1V52.1h1V52.7h1V53.3h1V53.3h1V52.4h1V53.2h1V53.5h1V53.1h1V52.6h1V53.8h1V52.6h1V52.0h1V52.5h1V52.5h1V53.1h1V53.6h1V53.7h1V53.8h1V52.7h1V53.3h1V52.8h1V52.9h1V52.6h1V53.6h1V52.6h1V52.7h1V53.5h1V53.8h1V52.6h1V54.0h1V53.4h1V53.1h1V53.0h1V52.3h1V52.5h1V52.9h1V53.6h1V52.8h1V54.1h1V53.4h1V53.5h1V53.4h1V53.3h1V54.5h1V55.0h1V54.4h1V53.5h1V53.0h1V53.5h1V53.2h1V53.7h1V53.1h1V52.7h1V53.7h1V53.9h1V55.1h1V54.4h1V54.2h1V54.0h1V54.7h1V54.3h1V53.7h1V54.0h1V55.0h1V54.7h1V54.8h1V54.8h1V53.9h1V54.1h1V54.2h1V55.0h1V54.2h1V54.9h1V54.5h1V54.0h1V55.2h1V55.7h1V54.9h1V55.3h1V55.6h1V55.5h1V55.0h1V55.2h1V53.9h1V53.9h1V54.5h1V53.9h1V53.7h1V53.7h1V53.9h1V54.2h1V54.2h1V55.4h1V54.1h1V54.5h1V55.1h1V55.3h1V54.6h1V55.6h1V55.5h1V55.3h1V54.1h1V54.2h1V54.2h1V55.4h1V54.9h1V54.2h1V55.4h1V54.6h1V54.4h1V55.7h1V54.3h1V53.8h1V54.7h1V54.9h1V56.0h1V56.3h1V55.7h1V54.2h1V54.0h1V54.9h1V55.0h1V56.0h1V55.4h1V56.0h1V54.9h1V55.6h1V55.8h1V56.1h1V55.9h1V55.6h1V54.7h1V54.1h1V53.9h1V54.1h1V54.4h1V54.5h1V54.5h1V54.9h1V55.6h1V56.2h1V56.5h1V55.0h1V56.0h1V56.1h1V55.1h1V55.8h1V55.1h1V55.6h1V55.2h1V55.4h1V54.6h1V56.0h1V55.0h1V55.7h1V55.2h1V54.7h1V56.3h1V55.3h1V55.8h1V55.9h1V55.2h1V54.6h1V56.2h1V56.2h1V56.5h1V55.8h1V55.1h1V55.8h1V56.2h1V55.6h1V55.4h1V55.5h1V56.5h1V55.2h1V55.5h1V55.6h1V56.2h1V55.3h1V56.2h1V56.6h1V56.4h1V56.6h1V55.3h1V54.8h1V54.5h1V55.5h1V56.7h1V55.3h1V54.7h1V55.3h1V56.6h1V56.3h1V56.2h1V55.9h1V56.2h1V56.0h1V56.3h1V55.4h1V56.2h1V56.4h1V55.4h1V54.9h1V56.1h1V55.7h1V55.5h1V56.4h1V55.7h1V55.6h1V56.0h1V55.5h1V55.0h1V55.9h1V56.2h1V55.7h1V56.0h1V56.1h1V55.9h1V56.3h1V56.4h1V56.3h1V56.6h1V54.9h1V55.8h1V55.2h1V54.4h1V54.4h1V54.2h1V54.3h1V55.9h1V56.1h1V56.2h1V55.7h1V55.9h1V56.1h1V55.1h1V54.3h1V54.3h1V54.9h1V54.9h1V56.0h1V56.6h1V55.2h1V56.2h1V56.9h1V56.9h1V55.8h1V55.4h1V55.2h1V56.3h1V55.0h1V55.0h1V56.4h1V56.5h1V56.4h1V56.6h1V55.4h1V55.5h1V55.2h1V55.3h1V55.3h1V54.5h1V196Z" fill="#8d5520"/>
<path d="M399,196V61.2h1V61.2h1V60.8h1V60.9h1V61.1h1V61.7h1V60.2h1V59.7h1V60.4h1V60.2h1V60.5h1V62.2h1V62.2h1V62.3h1V60.4h1V60.0h1V61.0h1V61.1h1V62.1h1V62.3h1V62.1h1V62.1h1V61.4h1V61.6h1V62.8h1V62.3h1V60.7h1V61.3h1V60.2h1V60.6h1V62.2h1V61.1h1V60.9h1V60.7h1V60.7h1V61.8h1V60.2h1V59.9h1V61.7h1V60.5h1V59.7h1V60.1h1V62.2h1V62.5h1V61.5h1V60.1h1V60.8h1V60.8h1V62.5h1V63.2h1V61.6h1V60.7h1V61.4h1V60.6h1V59.9h1V61.6h1V62.9h1V61.7h1V61.0h1V62.9h1V63.8h1V62.6h1V61.3h1V62.4h1V62.9h1V61.5h1V61.6h1V62.6h1V61.4h1V61.6h1V63.5h1V62.8h1V63.4h1V62.8h1V62.9h1V62.8h1V61.3h1V62.7h1V63.2h1V61.8h1V62.8h1V63.9h1V63.5h1V62.7h1V61.7h1V63.1h1V63.4h1V63.6h1V62.6h1V61.8h1V61.7h1V61.8h1V62.2h1V62.7h1V64.0h1V62.9h1V63.7h1V64.2h1V64.0h1V64.0h1V63.6h1V61.8h1V61.2h1V61.2h1V61.2h1V63.0h1V62.2h1V63.6h1V63.2h1V61.5h1V63.6h1V64.5h1V64.6h1V64.2h1V64.5h1V64.4h1V64.8h1V64.1h1V62.7h1V63.9h1V63.2h1V64.4h1V64.9h1V63.8h1V63.7h1V63.0h1V64.4h1V63.5h1V61.8h1V63.1h1V64.0h1V63.3h1V64.4h1V63.7h1V64.5h1V62.7h1V62.2h1V63.8h1V62.5h1V63.9h1V62.6h1V62.6h1V63.6h1V64.0h1V64.7h1V63.3h1V64.1h1V64.7h1V64.2h1V63.7h1V64.6h1V64.9h1V64.9h1V64.8h1V63.4h1V63.4h1V63.3h1V62.3h1V62.5h1V62.5h1V62.3h1V64.3h1V65.2h1V65.1h1V64.7h1V65.3h1V64.4h1V63.9h1V64.5h1V64.5h1V64.0h1V63.5h1V63.5h1V62.7h1V64.9h1V66.1h1V65.4h1V63.3h1V62.4h1V63.1h1V62.8h1V62.9h1V63.6h1V65.0h1V65.8h1V66.1h1V64.6h1V64.2h1V65.7h1V66.1h1V64.5h1V65.3h1V65.3h1V63.7h1V65.4h1V65.9h1V65.7h1V63.5h1V63.6h1V65.0h1V63.7h1V64.9h1V65.6h1V64.2h1V63.4h1V64.6h1V64.2h1V63.7h1V64.9h1V64.3h1V63.9h1V65.7h1V65.9h1V64.0h1V64.0h1V63.6h1V63.9h1V65.3h1V64.4h1V65.0h1V66.1h1V65.5h1V65.9h1V65.0h1V64.6h1V65.2h1V66.1h1V64.6h1V65.6h1V65.6h1V63.6h1V65.1h1V63.8h1V65.1h1V65.6h1V63.8h1V64.4h1V65.8h1V66.0h1V64.1h1V65.2h1V65.4h1V64.5h1V64.6h1V65.3h1V64.6h1V63.8h1V63.9h1V65.5h1V63.9h1V65.2h1V65.9h1V63.6h1V63.2h1V65.1h1V66.3h1V64.3h1V63.8h1V63.6h1V65.4h1V64.0h1V63.5h1V63.1h1V62.9h1V63.4h1V64.3h1V63.4h1V63.8h1V64.1h1V64.8h1V65.1h1V65.1h1V64.7h1V63.5h1V63.4h1V63.2h1V64.5h1V63.6h1V64.6h1V65.5h1V65.4h1V64.5h1V196Z" fill="#bf853a"/>
<path d="M399,196V76.7h1V76.7h1V75.8h1V77.3h1V78.3h1V75.6h1V75.9h1V76.0h1V76.4h1V75.4h1V75.8h1V74.6h1V76.2h1V76.8h1V77.7h1V75.6h1V75.7h1V75.7h1V75.2h1V77.2h1V76.6h1V77.7h1V77.5h1V76.0h1V75.0h1V77.2h1V78.2h1V75.8h1V75.5h1V76.9h1V76.8h1V75.9h1V74.9h1V74.8h1V77.4h1V78.6h1V75.3h1V75.6h1V77.8h1V76.4h1V77.2h1V76.2h1V75.8h1V74.9h1V74.7h1V77.3h1V75.3h1V76.6h1V76.4h1V75.8h1V76.8h1V75.6h1V75.4h1V74.7h1V77.4h1V77.3h1V75.4h1V75.3h1V76.6h1V76.5h1V77.6h1V76.4h1V77.5h1V77.5h1V78.4h1V76.0h1V77.4h1V77.5h1V77.8h1V75.6h1V77.5h1V77.9h1V77.9h1V77.0h1V76.2h1V75.3h1V75.0h1V76.2h1V77.5h1V76.2h1V77.9h1V76.5h1V78.0h1V77.5h1V78.1h1V76.0h1V75.7h1V75.3h1V74.8h1V77.2h1V75.7h1V75.0h1V76.5h1V77.0h1V76.2h1V76.9h1V76.9h1V76.7h1V75.6h1V76.5h1V78.5h1V76.3h1V77.6h1V77.7h1V78.0h1V78.7h1V76.8h1V75.9h1V77.9h1V77.8h1V78.1h1V77.3h1V76.6h1V75.4h1V76.0h1V76.9h1V76.8h1V77.1h1V78.6h1V78.1h1V77.5h1V77.1h1V78.0h1V78.3h1V78.6h1V79.1h1V76.3h1V77.3h1V78.4h1V76.4h1V75.4h1V75.8h1V77.6h1V76.3h1V75.1h1V77.9h1V78.6h1V78.3h1V79.2h1V79.4h1V79.0h1V78.1h1V78.9h1V79.6h1V78.3h1V78.1h1V78.0h1V78.0h1V77.7h1V79.0h1V79.4h1V77.7h1V75.9h1V76.8h1V75.8h1V75.1h1V77.8h1V78.3h1V77.6h1V78.3h1V77.9h1V77.6h1V76.0h1V76.5h1V77.8h1V78.1h1V76.0h1V77.2h1V78.8h1V76.2h1V75.5h1V76.9h1V76.3h1V77.4h1V77.0h1V77.6h1V77.7h1V76.8h1V76.4h1V78.0h1V78.8h1V78.1h1V77.4h1V75.6h1V77.6h1V77.2h1V75.1h1V74.3h1V76.2h1V75.1h1V76.0h1V77.7h1V76.4h1V77.8h1V75.9h1V76.0h1V76.6h1V78.3h1V76.3h1V74.7h1V76.9h1V76.0h1V75.1h1V76.5h1V75.7h1V77.1h1V76.8h1V77.3h1V76.0h1V76.5h1V75.7h1V74.3h1V75.1h1V77.1h1V75.7h1V76.6h1V77.0h1V74.7h1V75.5h1V75.8h1V75.1h1V74.2h1V76.7h1V77.8h1V75.4h1V74.4h1V75.7h1V77.5h1V76.0h1V77.4h1V78.0h1V76.5h1V76.7h1V76.2h1V75.7h1V74.8h1V74.0h1V74.8h1V76.5h1V77.6h1V75.4h1V76.0h1V77.9h1V76.5h1V76.6h1V74.8h1V76.2h1V75.5h1V76.1h1V76.6h1V76.5h1V77.6h1V76.0h1V77.0h1V77.8h1V77.8h1V76.6h1V75.5h1V76.9h1V78.0h1V76.5h1V77.2h1V75.2h1V74.4h1V77.1h1V75.6h1V76.8h1V78.2h1V75.5h1V76.6h1V76.3h1V74.2h1V74.2h1V74.3h1V75.5h1V75.8h1V76.8h1V75.3h1V75.6h1V76.7h1V75.6h1V76.4h1V196Z" fill="#d7c280"/>
<path d="M399,196V90.4h1V90.4h1V92.3h1V93.4h1V92.4h1V91.2h1V91.1h1V92.8h1V91.8h1V92.5h1V92.2h1V90.6h1V91.5h1V92.1h1V91.6h1V91.4h1V92.6h1V91.4h1V91.6h1V92.6h1V93.3h1V93.3h1V91.6h1V91.6h1V93.1h1V92.4h1V93.0h1V91.5h1V91.4h1V91.0h1V91.5h1V92.4h1V91.3h1V92.5h1V93.0h1V92.3h1V92.8h1V91.5h1V92.0h1V92.5h1V90.8h1V90.4h1V91.7h1V93.1h1V92.0h1V92.0h1V92.1h1V92.0h1V90.5h1V91.9h1V91.9h1V91.6h1V91.5h1V92.1h1V91.3h1V90.6h1V91.6h1V92.1h1V91.0h1V90.3h1V90.0h1V91.2h1V90.4h1V90.9h1V90.8h1V90.7h1V90.2h1V89.8h1V90.7h1V90.1h1V90.4h1V90.8h1V91.0h1V90.7h1V90.7h1V90.1h1V90.0h1V92.1h1V92.0h1V90.4h1V90.0h1V91.0h1V91.3h1V92.9h1V92.0h1V90.9h1V92.5h1V93.6h1V92.8h1V90.7h1V90.0h1V90.0h1V90.0h1V91.6h1V92.7h1V90.9h1V91.7h1V90.9h1V92.3h1V92.0h1V90.7h1V92.6h1V93.5h1V92.5h1V92.1h1V93.1h1V91.2h1V90.9h1V92.0h1V91.1h1V90.7h1V93.0h1V92.6h1V92.9h1V92.7h1V93.7h1V91.9h1V91.7h1V91.6h1V92.0h1V93.1h1V94.1h1V92.0h1V90.8h1V93.4h1V92.1h1V90.9h1V93.1h1V93.5h1V91.7h1V90.9h1V92.5h1V92.9h1V92.2h1V92.0h1V93.8h1V93.2h1V93.4h1V91.9h1V93.0h1V93.0h1V94.1h1V92.4h1V91.6h1V92.6h1V94.0h1V92.6h1V93.0h1V93.3h1V92.5h1V92.6h1V93.7h1V92.7h1V91.5h1V92.8h1V92.6h1V93.2h1V91.9h1V92.3h1V94.2h1V93.8h1V92.4h1V92.6h1V92.4h1V93.2h1V93.9h1V92.9h1V94.1h1V93.3h1V93.8h1V94.1h1V93.6h1V93.4h1V94.1h1V94.4h1V94.2h1V94.4h1V92.3h1V91.7h1V92.5h1V92.9h1V92.8h1V94.2h1V92.9h1V93.0h1V94.3h1V92.5h1V91.9h1V93.8h1V92.1h1V91.3h1V93.8h1V94.2h1V92.7h1V93.3h1V92.7h1V93.0h1V94.0h1V93.3h1V92.3h1V92.3h1V92.9h1V91.7h1V91.4h1V92.1h1V93.4h1V93.5h1V92.3h1V91.7h1V92.8h1V92.8h1V92.9h1V91.3h1V92.0h1V92.4h1V91.3h1V91.9h1V93.8h1V92.0h1V93.3h1V92.0h1V91.0h1V91.6h1V93.0h1V93.6h1V91.4h1V92.9h1V91.7h1V91.7h1V92.9h1V91.6h1V91.9h1V92.9h1V93.1h1V91.2h1V93.0h1V92.3h1V91.1h1V90.7h1V91.5h1V93.5h1V93.1h1V91.2h1V91.7h1V93.4h1V93.9h1V93.9h1V93.9h1V92.2h1V92.8h1V91.8h1V93.1h1V92.5h1V92.8h1V92.8h1V92.3h1V90.8h1V90.9h1V91.2h1V90.7h1V91.7h1V93.1h1V91.2h1V90.8h1V91.2h1V92.3h1V91.2h1V92.1h1V91.5h1V91.8h1V91.4h1V92.9h1V92.2h1V91.1h1V90.2h1V91.3h1V91.0h1V90.2h1V91.5h1V91.4h1V92.0h1V90.6h1V196Z" fill="#efe8c2"/>
<path d="M399,196V98.8h1V98.8h1V97.5h1V97.3h1V97.8h1V98.2h1V97.4h1V98.1h1V98.0h1V97.5h1V96.8h1V97.9h1V98.1h1V97.0h1V97.3h1V96.8h1V97.1h1V97.4h1V97.3h1V97.2h1V97.0h1V97.6h1V97.1h1V97.4h1V97.9h1V98.3h1V98.2h1V97.5h1V97.4h1V98.7h1V98.1h1V97.2h1V97.5h1V97.8h1V97.0h1V97.2h1V97.4h1V96.8h1V97.4h1V97.6h1V97.6h1V97.2h1V96.7h1V97.9h1V98.6h1V97.6h1V97.0h1V97.3h1V98.0h1V98.4h1V98.8h1V98.1h1V98.5h1V98.7h1V97.4h1V97.0h1V97.1h1V98.0h1V99.1h1V98.0h1V97.0h1V96.8h1V98.3h1V98.8h1V99.2h1V98.4h1V98.7h1V99.1h1V98.6h1V97.9h1V97.8h1V98.3h1V98.7h1V98.0h1V98.7h1V99.0h1V97.7h1V99.0h1V99.6h1V99.6h1V97.9h1V98.2h1V98.4h1V99.0h1V98.4h1V98.4h1V99.4h1V98.0h1V98.5h1V98.1h1V97.3h1V98.4h1V97.7h1V99.1h1V99.9h1V98.2h1V98.2h1V98.9h1V98.8h1V98.7h1V98.7h1V99.5h1V100.0h1V99.7h1V98.3h1V98.6h1V98.9h1V98.1h1V99.1h1V98.8h1V97.8h1V98.3h1V99.7h1V99.1h1V99.2h1V100.0h1V98.8h1V97.8h1V99.1h1V99.9h1V99.2h1V99.4h1V99.5h1V98.3h1V98.8h1V99.8h1V98.3h1V99.5h1V98.8h1V99.0h1V99.2h1V98.8h1V98.7h1V98.9h1V99.3h1V99.0h1V98.9h1V99.0h1V98.4h1V99.5h1V99.4h1V100.1h1V99.8h1V100.1h1V98.6h1V97.9h1V97.9h1V99.2h1V99.7h1V99.6h1V100.1h1V99.8h1V99.7h1V99.1h1V99.1h1V98.4h1V98.7h1V98.7h1V99.3h1V99.8h1V99.6h1V99.6h1V99.3h1V99.4h1V99.1h1V99.1h1V98.5h1V100.0h1V100.6h1V100.8h1V99.1h1V99.4h1V99.8h1V100.1h1V99.9h1V99.1h1V100.0h1V99.5h1V98.5h1V100.2h1V100.8h1V100.5h1V99.4h1V99.0h1V99.2h1V100.1h1V100.9h1V99.3h1V99.3h1V98.9h1V100.1h1V100.5h1V100.5h1V100.7h1V99.6h1V98.8h1V99.6h1V99.9h1V100.2h1V100.3h1V100.1h1V100.0h1V99.1h1V98.6h1V100.1h1V99.3h1V99.5h1V99.5h1V99.5h1V99.8h1V99.6h1V99.0h1V100.3h1V99.2h1V99.4h1V100.3h1V99.2h1V99.6h1V100.3h1V100.3h1V99.5h1V99.3h1V98.6h1V98.4h1V100.0h1V99.7h1V100.3h1V100.7h1V99.6h1V99.1h1V100.4h1V100.0h1V99.8h1V99.2h1V98.5h1V98.2h1V98.4h1V98.4h1V99.6h1V99.8h1V98.8h1V98.9h1V100.3h1V99.5h1V99.2h1V100.4h1V99.7h1V99.8h1V99.8h1V100.2h1V100.6h1V99.2h1V99.2h1V99.7h1V98.8h1V99.8h1V98.8h1V99.9h1V99.9h1V99.2h1V99.1h1V98.9h1V98.8h1V98.2h1V98.6h1V99.1h1V99.4h1V100.0h1V99.8h1V98.5h1V99.3h1V99.2h1V98.7h1V99.1h1V98.5h1V98.6h1V99.0h1V98.6h1V98.3h1V98.5h1V98.7h1V99.5h1V196Z" fill="#ccefe5"/>
<path d="M399,196V103.2h1V103.2h1V104.1h1V104.5h1V103.9h1V103.8h1V103.3h1V104.6h1V105.2h1V104.4h1V104.1h1V103.2h1V103.2h1V103.6h1V104.0h1V103.3h1V103.4h1V103.9h1V104.6h1V105.3h1V103.7h1V103.1h1V103.9h1V103.5h1V103.2h1V103.2h1V103.6h1V104.0h1V103.1h1V103.3h1V103.1h1V104.1h1V105.1h1V103.9h1V103.6h1V103.7h1V104.6h1V103.8h1V103.6h1V104.3h1V103.3h1V104.2h1V104.8h1V104.1h1V104.4h1V104.4h1V104.2h1V104.6h1V105.4h1V104.5h1V103.4h1V103.0h1V103.2h1V104.5h1V103.7h1V103.4h1V104.6h1V105.3h1V105.7h1V104.0h1V103.5h1V103.2h1V103.7h1V103.9h1V104.0h1V103.9h1V104.8h1V104.0h1V103.2h1V103.4h1V104.6h1V105.3h1V104.6h1V105.0h1V104.0h1V104.9h1V105.1h1V104.0h1V103.5h1V103.9h1V104.4h1V104.3h1V103.6h1V103.9h1V104.6h1V105.2h1V104.1h1V105.4h1V106.0h1V105.6h1V105.5h1V104.2h1V105.2h1V105.0h1V105.8h1V105.0h1V104.0h1V105.2h1V104.5h1V105.3h1V105.9h1V105.8h1V104.7h1V103.9h1V104.1h1V104.9h1V105.4h1V105.1h1V104.5h1V105.7h1V106.2h1V105.6h1V104.4h1V105.1h1V106.3h1V105.7h1V104.4h1V105.4h1V105.1h1V104.3h1V105.6h1V106.5h1V106.4h1V106.6h1V106.3h1V105.3h1V106.1h1V106.9h1V106.2h1V105.5h1V105.1h1V105.8h1V106.3h1V105.5h1V105.7h1V105.7h1V105.2h1V104.6h1V106.0h1V105.8h1V105.7h1V106.5h1V107.0h1V105.5h1V104.9h1V105.2h1V105.2h1V104.8h1V104.9h1V106.3h1V105.9h1V106.1h1V105.6h1V105.3h1V104.8h1V104.9h1V105.0h1V106.1h1V107.2h1V107.6h1V106.0h1V105.4h1V106.8h1V105.7h1V105.8h1V106.4h1V106.9h1V107.4h1V107.3h1V106.0h1V107.0h1V107.7h1V107.8h1V107.9h1V107.8h1V106.5h1V106.3h1V105.5h1V106.5h1V107.0h1V106.4h1V106.6h1V106.5h1V107.0h1V107.7h1V107.0h1V107.1h1V106.1h1V106.1h1V105.5h1V105.3h1V105.4h1V106.7h1V107.8h1V107.5h1V107.8h1V106.5h1V105.8h1V106.4h1V105.7h1V107.1h1V106.3h1V105.5h1V106.0h1V107.0h1V107.6h1V107.2h1V107.8h1V108.0h1V106.5h1V107.2h1V105.9h1V105.8h1V105.5h1V106.8h1V107.5h1V107.3h1V106.3h1V107.3h1V107.9h1V106.1h1V105.9h1V106.1h1V106.9h1V106.2h1V106.4h1V106.2h1V105.6h1V105.8h1V105.5h1V107.1h1V106.4h1V106.0h1V106.9h1V107.4h1V107.6h1V106.3h1V105.8h1V106.2h1V106.1h1V107.2h1V106.5h1V106.8h1V107.3h1V106.1h1V105.9h1V107.1h1V106.7h1V105.9h1V106.7h1V107.0h1V106.0h1V107.0h1V107.0h1V106.5h1V106.6h1V105.7h1V106.1h1V106.3h1V105.4h1V105.2h1V106.0h1V105.4h1V105.2h1V105.3h1V105.1h1V106.2h1V105.2h1V105.2h1V105.4h1V106.3h1V105.2h1V106.0h1V105.6h1V105.2h1V106.2h1V106.0h1V106.0h1V106.6h1V105.5h1V105.1h1V105.9h1V196Z" fill="#8ddac3"/>
<path d="M399,196V109.5h1V109.5h1V108.2h1V108.2h1V109.5h1V108.3h1V107.9h1V108.4h1V108.4h1V109.5h1V110.3h1V109.4h1V109.8h1V108.9h1V108.8h1V109.1h1V108.4h1V107.8h1V108.8h1V109.9h1V108.6h1V109.1h1V110.0h1V110.4h1V110.5h1V108.5h1V109.3h1V108.4h1V109.4h1V110.1h1V108.4h1V107.7h1V108.3h1V109.5h1V109.3h1V109.5h1V109.8h1V109.4h1V109.8h1V110.3h1V110.5h1V110.3h1V109.1h1V108.4h1V108.5h1V108.5h1V109.6h1V110.1h1V108.9h1V109.9h1V110.0h1V110.1h1V110.3h1V109.6h1V109.7h1V108.8h1V108.1h1V108.2h1V109.2h1V109.2h1V108.5h1V109.5h1V110.4h1V110.6h1V110.5h1V108.8h1V110.0h1V110.2h1V108.9h1V109.2h1V109.9h1V109.8h1V109.0h1V108.4h1V109.6h1V109.9h1V109.5h1V108.9h1V110.1h1V109.8h1V109.6h1V109.8h1V109.9h1V110.3h1V109.1h1V110.3h1V109.7h1V109.6h1V109.0h1V110.0h1V110.3h1V111.1h1V109.9h1V109.2h1V109.2h1V109.0h1V109.6h1V109.6h1V109.8h1V109.6h1V110.2h1V110.4h1V111.1h1V111.0h1V109.5h1V109.9h1V110.4h1V110.7h1V110.0h1V109.4h1V111.1h1V110.9h1V110.7h1V111.0h1V111.7h1V110.9h1V110.1h1V110.9h1V110.3h1V109.4h1V110.2h1V111.4h1V110.8h1V111.3h1V111.0h1V111.5h1V110.6h1V111.4h1V110.3h1V110.7h1V110.8h1V111.5h1V110.5h1V111.5h1V112.1h1V110.5h1V109.9h1V110.9h1V112.1h1V111.1h1V110.3h1V111.6h1V112.2h1V110.6h1V111.3h1V112.3h1V111.1h1V110.0h1V110.6h1V110.3h1V111.5h1V111.4h1V111.4h1V112.2h1V111.3h1V112.3h1V112.3h1V111.5h1V110.5h1V111.9h1V111.0h1V110.9h1V112.0h1V111.7h1V111.3h1V112.4h1V112.6h1V112.4h1V112.2h1V112.3h1V111.2h1V111.4h1V112.6h1V112.3h1V112.0h1V111.2h1V110.8h1V111.3h1V112.8h1V112.6h1V112.8h1V113.1h1V113.4h1V112.1h1V111.6h1V111.2h1V111.1h1V113.0h1V113.3h1V113.6h1V112.4h1V111.8h1V112.9h1V113.3h1V112.5h1V112.1h1V113.0h1V112.6h1V112.4h1V112.0h1V112.4h1V112.2h1V111.2h1V112.3h1V113.5h1V113.8h1V112.8h1V111.5h1V112.5h1V112.0h1V112.7h1V112.3h1V113.2h1V111.7h1V111.4h1V112.8h1V111.6h1V111.1h1V111.0h1V111.3h1V112.6h1V112.4h1V112.1h1V112.2h1V111.8h1V112.4h1V111.8h1V111.3h1V111.5h1V111.4h1V111.7h1V111.1h1V112.5h1V113.5h1V113.5h1V113.5h1V112.0h1V112.2h1V112.9h1V111.7h1V112.1h1V113.0h1V112.3h1V112.7h1V112.4h1V112.4h1V112.3h1V112.7h1V113.0h1V113.0h1V113.2h1V111.4h1V111.7h1V112.7h1V112.8h1V112.0h1V112.5h1V113.0h1V111.7h1V110.8h1V111.2h1V110.9h1V110.7h1V111.0h1V110.9h1V112.0h1V112.1h1V111.0h1V111.2h1V111.6h1V110.7h1V110.2h1V111.6h1V111.5h1V112.3h1V111.5h1V112.5h1V111.6h1V112.3h1V111.6h1V112.4h1V113.0h1V196Z" fill="#56a893"/>
<path d="M399,196V116.4h1V116.4h1V116.9h1V115.9h1V114.6h1V115.8h1V116.2h1V114.9h1V114.5h1V115.7h1V115.8h1V115.3h1V114.7h1V115.1h1V114.7h1V115.7h1V116.0h1V115.4h1V114.8h1V115.9h1V116.8h1V115.8h1V116.4h1V115.4h1V116.3h1V116.7h1V115.4h1V114.8h1V115.9h1V116.0h1V115.5h1V114.9h1V114.4h1V115.2h1V116.6h1V117.0h1V116.5h1V116.4h1V114.8h1V115.9h1V116.8h1V116.9h1V115.9h1V114.7h1V116.1h1V115.8h1V116.0h1V116.9h1V115.3h1V115.3h1V114.9h1V116.3h1V116.5h1V115.9h1V115.2h1V114.8h1V114.7h1V115.0h1V114.7h1V115.0h1V116.0h1V115.2h1V115.0h1V115.5h1V116.6h1V115.8h1V116.7h1V115.6h1V115.8h1V115.5h1V115.4h1V116.9h1V117.7h1V117.7h1V116.3h1V116.4h1V117.0h1V116.5h1V116.7h1V116.9h1V116.9h1V116.4h1V116.1h1V116.6h1V115.8h1V116.7h1V117.2h1V117.3h1V117.2h1V116.4h1V116.8h1V117.4h1V116.6h1V115.7h1V117.4h1V117.5h1V116.3h1V116.2h1V116.6h1V117.7h1V116.4h1V117.5h1V117.4h1V116.6h1V116.1h1V116.8h1V117.1h1V116.9h1V116.2h1V116.5h1V117.5h1V117.3h1V117.0h1V117.0h1V117.9h1V116.9h1V118.0h1V116.9h1V117.8h1V117.7h1V117.4h1V117.8h1V117.5h1V117.5h1V117.5h1V116.5h1V116.7h1V117.1h1V117.7h1V117.5h1V116.5h1V117.4h1V117.5h1V117.6h1V117.5h1V116.6h1V116.8h1V117.5h1V118.7h1V118.7h1V117.6h1V117.5h1V118.7h1V119.1h1V119.0h1V117.2h1V117.8h1V118.4h1V117.3h1V117.8h1V118.6h1V117.5h1V118.1h1V118.9h1V118.0h1V118.7h1V117.5h1V118.5h1V119.2h1V118.7h1V117.2h1V116.9h1V117.6h1V118.2h1V118.0h1V118.5h1V118.5h1V118.4h1V118.6h1V118.7h1V117.9h1V118.7h1V118.1h1V118.0h1V118.1h1V118.7h1V119.4h1V119.8h1V119.9h1V119.6h1V119.3h1V119.6h1V119.3h1V118.4h1V117.6h1V118.2h1V119.0h1V118.2h1V119.3h1V119.6h1V118.8h1V117.8h1V117.4h1V119.0h1V118.2h1V119.3h1V118.9h1V118.2h1V117.8h1V117.8h1V118.4h1V118.6h1V118.8h1V119.6h1V118.5h1V119.1h1V118.0h1V119.1h1V119.2h1V119.4h1V119.7h1V118.8h1V119.3h1V119.8h1V119.4h1V118.3h1V118.2h1V118.8h1V118.4h1V119.4h1V118.7h1V119.1h1V119.7h1V118.6h1V119.2h1V118.6h1V119.1h1V117.9h1V117.9h1V118.5h1V118.4h1V119.4h1V119.9h1V119.0h1V119.5h1V118.6h1V117.8h1V118.6h1V117.9h1V118.1h1V118.7h1V117.9h1V117.3h1V116.9h1V117.6h1V119.1h1V118.3h1V117.6h1V118.9h1V118.3h1V118.4h1V117.6h1V117.3h1V117.6h1V117.1h1V116.7h1V117.6h1V117.6h1V117.9h1V117.7h1V118.5h1V118.0h1V118.5h1V119.1h1V118.0h1V118.4h1V117.1h1V117.0h1V118.1h1V117.8h1V117.5h1V118.6h1V118.0h1V118.3h1V117.2h1V117.8h1V118.5h1V118.3h1V117.2h1V118.0h1V117.8h1V117.5h1V196Z" fill="#2e7262"/>
<path d="M399,196V196.0h1V196.0h1V196.0h1V196.0h1V196.0h1V196.0h1V196.0h1V196.0h1V196.0h1V196.0h1V196.0h1V196.0h1V196.0h1V196.0h1V196.0h1V196.0h1V196.0h1V196.0h1V196.0h1V196.0h1V196.0h1V196.0h1V196.0h1V196.0h1V196.0h1V196.0h1V196.0h1V196.0h1V196.0h1V196.0h1V196.0h1V196.0h1V196.0h1V196.0h1V196.0h1V196.0h1V196.0h1V196.0h1V196.0h1V196.0h1V196.0h1V196.0h1V196.0h1V196.0h1V196.0h1V196.0h1V196.0h1V196.0h1V196.0h1V196.0h1V196.0h1V196.0h1V196.0h1V196.0h1V196.0h1V196.0h1V196.0h1V196.0h1V196.0h1V196.0h1V196.0h1V196.0h1V196.0h1V196.0h1V196.0h1V196.0h1V196.0h1V196.0h1V196.0h1V196.0h1V196.0h1V196.0h1V196.0h1V196.0h1V196.0h1V196.0h1V196.0h1V196.0h1V196.0h1V196.0h1V196.0h1V196.0h1V196.0h1V196.0h1V196.0h1V196.0h1V196.0h1V196.0h1V196.0h1V196.0h1V196.0h1V196.0h1V196.0h1V196.0h1V196.0h1V196.0h1V196.0h1V196.0h1V196.0h1V196.0h1V196.0h1V196.0h1V196.0h1V196.0h1V196.0h1V196.0h1V196.0h1V196.0h1V196.0h1V196.0h1V196.0h1V196.0h1V196.0h1V196.0h1V196.0h1V196.0h1V196.0h1V196.0h1V196.0h1V196.0h1V196.0h1V196.0h1V196.0h1V196.0h1V196.0h1V196.0h1V196.0h1V196.0h1V196.0h1V196.0h1V196.0h1V196.0h1V196.0h1V196.0h1V196.0h1V196.0h1V196.0h1V196.0h1V196.0h1V196.0h1V196.0h1V196.0h1V196.0h1V196.0h1V196.0h1V196.0h1V196.0h1V196.0h1V196.0h1V196.0h1V196.0h1V196.0h1V196.0h1V196.0h1V196.0h1V196.0h1V196.0h1V196.0h1V196.0h1V196.0h1V196.0h1V196.0h1V196.0h1V196.0h1V196.0h1V196.0h1V196.0h1V196.0h1V196.0h1V196.0h1V196.0h1V196.0h1V196.0h1V196.0h1V196.0h1V196.0h1V196.0h1V196.0h1V196.0h1V196.0h1V196.0h1V196.0h1V196.0h1V196.0h1V196.0h1V196.0h1V196.0h1V196.0h1V196.0h1V196.0h1V196.0h1V196.0h1V196.0h1V196.0h1V196.0h1V196.0h1V196.0h1V196.0h1V196.0h1V196.0h1V196.0h1V196.0h1V196.0h1V196.0h1V196.0h1V196.0h1V196.0h1V196.0h1V196.0h1V196.0h1V196.0h1V196.0h1V196.0h1V196.0h1V196.0h1V196.0h1V196.0h1V196.0h1V196.0h1V196.0h1V196.0h1V196.0h1V196.0h1V196.0h1V196.0h1V196.0h1V196.0h1V196.0h1V196.0h1V196.0h1V196.0h1V196.0h1V196.0h1V196.0h1V196.0h1V196.0h1V196.0h1V196.0h1V196.0h1V196.0h1V196.0h1V196.0h1V196.0h1V196.0h1V196.0h1V196.0h1V196.0h1V196.0h1V196.0h1V196.0h1V196.0h1V196.0h1V196.0h1V196.0h1V196.0h1V196.0h1V196.0h1V196.0h1V196.0h1V196.0h1V196.0h1V196.0h1V196.0h1V196.0h1V196.0h1V196.0h1V196.0h1V196.0h1V196.0h1V196.0h1V196.0h1V196.0h1V196.0h1V196.0h1V196.0h1V196.0h1V196.0h1V196.0h1V196.0h1V196.0h1V196.0h1V196.0h1V196Z" fill="#1c4837"/>
<path d="M399,196V196.0h1V196.0h1V196.0h1V196.0h1V196.0h1V196.0h1V196.0h1V196.0h1V196.0h1V196.0h1V196.0h1V196.0h1V196.0h1V196.0h1V196.0h1V196.0h1V196.0h1V196.0h1V196.0h1V196.0h1V196.0h1V196.0h1V196.0h1V196.0h1V196.0h1V196.0h1V196.0h1V196.0h1V196.0h1V196.0h1V196.0h1V196.0h1V196.0h1V196.0h1V196.0h1V196.0h1V196.0h1V196.0h1V196.0h1V196.0h1V196.0h1V196.0h1V196.0h1V196.0h1V196.0h1V196.0h1V196.0h1V196.0h1V196.0h1V196.0h1V196.0h1V196.0h1V196.0h1V196.0h1V196.0h1V196.0h1V196.0h1V196.0h1V196.0h1V196.0h1V196.0h1V196.0h1V196.0h1V196.0h1V196.0h1V196.0h1V196.0h1V196.0h1V196.0h1V196.0h1V196.0h1V196.0h1V196.0h1V196.0h1V196.0h1V196.0h1V196.0h1V196.0h1V196.0h1V196.0h1V196.0h1V196.0h1V196.0h1V196.0h1V196.0h1V196.0h1V196.0h1V196.0h1V196.0h1V196.0h1V196.0h1V196.0h1V196.0h1V196.0h1V196.0h1V196.0h1V196.0h1V196.0h1V196.0h1V196.0h1V196.0h1V196.0h1V196.0h1V196.0h1V196.0h1V196.0h1V196.0h1V196.0h1V196.0h1V196.0h1V196.0h1V196.0h1V196.0h1V196.0h1V196.0h1V196.0h1V196.0h1V196.0h1V196.0h1V196.0h1V196.0h1V196.0h1V196.0h1V196.0h1V196.0h1V196.0h1V196.0h1V196.0h1V196.0h1V196.0h1V196.0h1V196.0h1V196.0h1V196.0h1V196.0h1V196.0h1V196.0h1V196.0h1V196.0h1V196.0h1V196.0h1V196.0h1V196.0h1V196.0h1V196.0h1V196.0h1V196.0h1V196.0h1V196.0h1V196.0h1V196.0h1V196.0h1V196.0h1V196.0h1V196.0h1V196.0h1V196.0h1V196.0h1V196.0h1V196.0h1V196.0h1V196.0h1V196.0h1V196.0h1V196.0h1V196.0h1V196.0h1V196.0h1V196.0h1V196.0h1V196.0h1V196.0h1V196.0h1V196.0h1V196.0h1V196.0h1V196.0h1V196.0h1V196.0h1V196.0h1V196.0h1V196.0h1V196.0h1V196.0h1V196.0h1V196.0h1V196.0h1V196.0h1V196.0h1V196.0h1V196.0h1V196.0h1V196.0h1V196.0h1V196.0h1V196.0h1V196.0h1V196.0h1V196.0h1V196.0h1V196.0h1V196.0h1V196.0h1V196.0h1V196.0h1V196.0h1V196.0h1V196.0h1V196.0h1V196.0h1V196.0h1V196.0h1V196.0h1V196.0h1V196.0h1V196.0h1V196.0h1V196.0h1V196.0h1V196.0h1V196.0h1V196.0h1V196.0h1V196.0h1V196.0h1V196.0h1V196.0h1V196.0h1V196.0h1V196.0h1V196.0h1V196.0h1V196.0h1V196.0h1V196.0h1V196.0h1V196.0h1V196.0h1V196.0h1V196.0h1V196.0h1V196.0h1V196.0h1V196.0h1V196.0h1V196.0h1V196.0h1V196.0h1V196.0h1V196.0h1V196.0h1V196.0h1V196.0h1V196.0h1V196.0h1V196.0h1V196.0h1V196.0h1V196.0h1V196.0h1V196.0h1V196.0h1V196.0h1V196.0h1V196.0h1V196.0h1V196.0h1V196.0h1V196.0h1V196.0h1V196.0h1V196.0h1V196.0h1V196.0h1V196.0h1V196.0h1V196.0h1V196.0h1V196.0h1V196.0h1V196.0h1V196.0h1V196Z" fill="#2e7262"/>
<path d="M399,196V148.6h1V148.6h1V148.7h1V149.5h1V149.6h1V141.2h1V149.4h1V148.4h1V140.9h1V149.4h1V149.2h1V148.8h1V148.4h1V147.0h1V147.6h1V149.5h1V150.0h1V148.8h1V145.0h1V150.2h1V146.1h1V149.4h1V144.8h1V150.2h1V151.0h1V146.1h1V144.1h1V146.7h1V149.3h1V152.1h1V151.6h1V152.4h1V149.7h1V150.7h1V140.3h1V150.6h1V152.4h1V148.4h1V150.7h1V146.0h1V147.7h1V150.8h1V141.4h1V147.5h1V141.3h1V140.4h1V153.0h1V153.2h1V151.4h1V153.1h1V144.5h1V151.1h1V150.2h1V152.9h1V144.6h1V150.1h1V144.7h1V152.2h1V152.8h1V152.6h1V143.6h1V148.7h1V150.6h1V149.0h1V149.7h1V144.4h1V148.7h1V153.4h1V153.5h1V153.2h1V152.2h1V149.5h1V146.6h1V149.9h1V143.9h1V145.9h1V154.5h1V153.4h1V154.6h1V149.1h1V151.6h1V147.6h1V146.1h1V151.6h1V151.7h1V151.0h1V153.6h1V154.7h1V151.9h1V149.8h1V152.1h1V152.0h1V145.1h1V153.6h1V146.3h1V150.1h1V155.6h1V154.3h1V144.4h1V154.2h1V154.0h1V156.2h1V146.1h1V155.8h1V154.5h1V147.8h1V156.1h1V152.6h1V146.4h1V154.2h1V154.4h1V151.8h1V156.2h1V155.1h1V154.7h1V151.8h1V154.1h1V152.8h1V155.3h1V156.5h1V151.9h1V151.9h1V156.3h1V153.8h1V146.4h1V154.4h1V151.6h1V153.8h1V154.8h1V152.6h1V151.9h1V156.2h1V156.7h1V151.6h1V150.4h1V151.2h1V149.3h1V151.5h1V156.1h1V147.7h1V152.2h1V154.9h1V154.5h1V151.2h1V155.2h1V146.4h1V145.2h1V153.8h1V149.5h1V154.5h1V155.1h1V147.6h1V144.9h1V156.5h1V146.1h1V155.7h1V143.6h1V155.1h1V148.0h1V154.9h1V155.9h1V154.7h1V155.2h1V152.8h1V150.9h1V151.9h1V149.2h1V155.9h1V156.5h1V157.1h1V148.6h1V146.7h1V154.6h1V154.6h1V154.3h1V154.5h1V154.7h1V156.7h1V157.4h1V157.2h1V155.0h1V151.1h1V154.3h1V153.4h1V154.1h1V156.3h1V154.8h1V147.0h1V153.0h1V154.9h1V155.3h1V154.4h1V146.4h1V153.0h1V149.4h1V154.6h1V155.4h1V145.1h1V157.1h1V145.9h1V153.7h1V152.5h1V150.7h1V151.3h1V155.9h1V154.6h1V148.8h1V151.1h1V155.3h1V153.7h1V154.0h1V151.6h1V150.8h1V153.5h1V151.3h1V146.2h1V155.5h1V146.3h1V153.5h1V152.4h1V149.1h1V154.7h1V154.0h1V145.3h1V152.0h1V148.0h1V154.4h1V155.3h1V154.4h1V151.1h1V145.8h1V151.3h1V155.5h1V145.6h1V156.1h1V154.5h1V147.7h1V149.5h1V154.7h1V156.8h1V150.2h1V153.8h1V155.1h1V156.0h1V155.8h1V148.3h1V156.5h1V150.5h1V153.7h1V155.2h1V154.8h1V151.8h1V151.3h1V157.0h1V156.4h1V156.0h1V153.8h1V155.3h1V156.1h1V154.3h1V156.8h1V149.2h1V156.1h1V154.7h1V147.2h1V148.5h1V157.5h1V156.3h1V152.6h1V147.9h1V149.2h1V150.5h1V154.9h1V149.4h1V153.6h1V151.9h1V154.9h1V153.0h1V156.3h1V152.1h1V153.4h1V156.3h1V196Z" fill="#56a893"/>
<path d="M399,196V163.7h1V163.7h1V162.5h1V163.8h1V164.4h1V161.8h1V162.6h1V162.5h1V161.3h1V163.3h1V164.6h1V162.6h1V164.0h1V164.8h1V162.2h1V161.2h1V161.9h1V161.7h1V161.0h1V162.4h1V163.1h1V163.9h1V162.5h1V161.7h1V164.2h1V164.7h1V162.9h1V161.3h1V161.7h1V162.7h1V163.1h1V163.0h1V163.7h1V163.8h1V162.7h1V162.5h1V162.5h1V164.2h1V164.7h1V162.1h1V161.9h1V162.5h1V161.9h1V161.5h1V162.6h1V162.3h1V162.2h1V164.4h1V164.6h1V163.0h1V163.4h1V164.3h1V164.8h1V163.0h1V162.1h1V163.6h1V165.1h1V164.4h1V162.9h1V163.1h1V164.6h1V162.6h1V164.6h1V165.9h1V164.4h1V164.2h1V162.1h1V161.4h1V164.7h1V164.3h1V161.9h1V162.6h1V163.9h1V163.9h1V162.3h1V163.6h1V164.9h1V162.8h1V163.9h1V163.4h1V163.3h1V164.5h1V164.8h1V162.8h1V164.7h1V165.3h1V163.3h1V161.9h1V164.4h1V163.0h1V162.4h1V162.7h1V162.1h1V162.0h1V162.1h1V162.5h1V162.6h1V163.7h1V163.1h1V164.5h1V164.4h1V162.5h1V161.7h1V164.1h1V165.0h1V164.6h1V164.4h1V163.1h1V164.6h1V164.0h1V163.2h1V162.6h1V164.5h1V164.1h1V163.4h1V162.8h1V163.8h1V164.4h1V162.7h1V161.8h1V164.3h1V164.9h1V165.6h1V163.2h1V164.7h1V163.2h1V163.6h1V165.4h1V163.4h1V163.6h1V165.0h1V162.9h1V164.5h1V164.4h1V164.6h1V166.2h1V164.6h1V163.9h1V164.3h1V165.3h1V165.2h1V163.8h1V163.4h1V164.3h1V165.8h1V165.3h1V163.4h1V165.2h1V163.9h1V162.6h1V162.8h1V162.5h1V163.4h1V165.8h1V165.3h1V164.8h1V166.0h1V166.7h1V163.6h1V164.9h1V166.5h1V165.2h1V164.5h1V166.3h1V165.2h1V164.5h1V164.1h1V166.0h1V166.3h1V164.4h1V164.4h1V164.3h1V166.2h1V164.1h1V163.2h1V165.9h1V165.4h1V164.4h1V165.8h1V165.9h1V164.1h1V164.7h1V163.5h1V163.9h1V165.2h1V163.8h1V165.6h1V167.1h1V167.1h1V164.9h1V163.2h1V165.9h1V166.3h1V165.2h1V164.5h1V163.6h1V164.6h1V165.4h1V165.9h1V166.1h1V164.0h1V166.0h1V164.3h1V165.6h1V166.4h1V165.4h1V165.8h1V165.9h1V166.0h1V165.0h1V165.3h1V165.2h1V166.1h1V164.0h1V164.0h1V163.9h1V164.0h1V163.9h1V166.2h1V164.2h1V164.5h1V163.3h1V162.9h1V162.9h1V164.5h1V166.0h1V165.9h1V164.8h1V164.3h1V163.7h1V164.8h1V165.9h1V164.4h1V164.8h1V166.0h1V163.7h1V162.8h1V163.6h1V164.3h1V165.6h1V166.7h1V164.6h1V165.4h1V165.0h1V163.9h1V164.9h1V163.2h1V162.2h1V165.6h1V166.5h1V165.8h1V166.4h1V166.4h1V166.2h1V166.0h1V165.9h1V163.6h1V162.3h1V164.9h1V164.8h1V164.2h1V165.4h1V164.1h1V162.5h1V163.2h1V164.8h1V164.9h1V165.8h1V163.3h1V165.4h1V165.4h1V163.8h1V164.5h1V165.7h1V165.5h1V165.4h1V165.3h1V165.7h1V165.7h1V165.5h1V166.3h1V164.7h1V196Z" fill="#8ddac3"/>
<path d="M399,196V169.7h1V169.7h1V169.6h1V169.9h1V170.8h1V170.7h1V169.9h1V170.8h1V171.2h1V171.7h1V172.0h1V171.7h1V170.1h1V169.6h1V170.0h1V170.3h1V170.5h1V171.3h1V171.4h1V170.6h1V171.0h1V170.3h1V170.2h1V171.2h1V170.1h1V169.4h1V170.7h1V170.2h1V170.9h1V170.2h1V171.1h1V170.7h1V170.1h1V171.0h1V171.0h1V170.4h1V170.2h1V171.7h1V170.4h1V169.5h1V170.0h1V171.1h1V170.7h1V170.5h1V170.4h1V170.8h1V171.4h1V171.6h1V171.1h1V171.1h1V171.2h1V170.2h1V171.4h1V170.9h1V171.3h1V171.3h1V171.1h1V170.6h1V171.8h1V172.2h1V171.5h1V170.2h1V170.0h1V171.1h1V170.8h1V171.8h1V170.9h1V171.3h1V171.5h1V171.2h1V171.4h1V171.5h1V170.6h1V169.9h1V170.7h1V171.5h1V171.9h1V171.8h1V170.3h1V170.4h1V170.9h1V171.0h1V171.3h1V170.6h1V170.4h1V170.5h1V170.9h1V172.2h1V170.7h1V169.8h1V170.9h1V171.9h1V171.6h1V170.5h1V171.0h1V171.9h1V171.3h1V170.8h1V170.7h1V170.5h1V171.2h1V171.1h1V170.7h1V170.6h1V170.8h1V171.4h1V171.8h1V171.2h1V171.3h1V171.4h1V171.2h1V170.5h1V170.5h1V171.2h1V172.0h1V172.5h1V171.9h1V170.7h1V170.6h1V171.5h1V172.3h1V171.9h1V172.2h1V171.2h1V171.7h1V170.9h1V172.2h1V171.2h1V171.6h1V172.3h1V172.6h1V171.3h1V171.5h1V171.0h1V171.6h1V172.0h1V170.9h1V171.9h1V171.6h1V172.2h1V171.4h1V171.8h1V171.6h1V170.7h1V172.5h1V172.3h1V171.4h1V172.3h1V172.1h1V172.5h1V172.7h1V171.9h1V170.9h1V171.3h1V171.3h1V172.8h1V172.8h1V171.3h1V171.9h1V171.4h1V171.6h1V171.6h1V171.6h1V173.0h1V172.6h1V172.0h1V172.3h1V171.8h1V172.9h1V172.5h1V171.2h1V172.3h1V172.2h1V171.8h1V171.4h1V171.7h1V172.9h1V172.1h1V172.3h1V173.4h1V172.3h1V171.4h1V171.7h1V171.7h1V173.3h1V174.0h1V173.8h1V172.3h1V171.6h1V173.3h1V173.3h1V171.9h1V171.6h1V173.3h1V172.1h1V172.7h1V173.7h1V172.1h1V172.1h1V172.6h1V172.5h1V173.5h1V173.0h1V171.7h1V171.4h1V171.4h1V171.3h1V171.2h1V172.9h1V172.1h1V173.1h1V173.8h1V173.3h1V172.6h1V171.6h1V171.7h1V173.2h1V173.8h1V173.7h1V172.2h1V171.5h1V171.4h1V172.7h1V173.1h1V173.3h1V173.3h1V171.9h1V171.9h1V172.9h1V171.9h1V172.2h1V172.1h1V171.5h1V171.9h1V171.3h1V171.8h1V173.2h1V172.3h1V171.6h1V172.5h1V173.2h1V172.1h1V171.5h1V171.1h1V171.9h1V171.3h1V171.1h1V172.8h1V172.5h1V172.6h1V172.1h1V172.7h1V173.2h1V172.4h1V172.6h1V171.3h1V172.0h1V172.0h1V172.2h1V172.0h1V171.1h1V171.7h1V171.2h1V172.6h1V172.1h1V171.6h1V172.8h1V172.3h1V172.7h1V173.3h1V173.0h1V172.2h1V171.9h1V171.5h1V172.4h1V172.7h1V171.1h1V171.4h1V171.5h1V171.3h1V172.0h1V171.8h1V196Z" fill="#ccefe5"/>
<path d="M399,196V180.3h1V180.3h1V179.0h1V179.8h1V179.9h1V179.1h1V179.9h1V179.4h1V178.9h1V180.1h1V179.3h1V179.0h1V178.7h1V178.9h1V178.6h1V180.0h1V179.1h1V180.4h1V181.1h1V179.4h1V179.5h1V179.6h1V179.8h1V180.2h1V180.7h1V180.1h1V179.8h1V179.7h1V180.8h1V180.0h1V180.0h1V180.9h1V180.9h1V180.3h1V180.2h1V179.8h1V179.2h1V179.2h1V180.0h1V180.6h1V181.1h1V180.3h1V179.7h1V178.8h1V179.5h1V180.4h1V180.8h1V180.2h1V180.3h1V180.6h1V181.0h1V180.4h1V179.0h1V178.7h1V180.1h1V180.9h1V180.3h1V179.1h1V180.6h1V180.5h1V180.0h1V179.8h1V178.9h1V178.9h1V178.8h1V180.3h1V181.2h1V179.7h1V180.5h1V180.5h1V181.1h1V180.9h1V180.8h1V181.3h1V180.0h1V180.5h1V180.3h1V179.5h1V180.8h1V181.3h1V181.6h1V181.8h1V180.3h1V180.7h1V181.3h1V180.7h1V181.3h1V181.6h1V181.2h1V180.8h1V180.7h1V181.2h1V179.7h1V179.0h1V180.2h1V180.5h1V180.4h1V180.2h1V180.4h1V180.3h1V180.9h1V180.8h1V180.3h1V180.3h1V180.2h1V179.9h1V180.2h1V180.0h1V181.0h1V181.4h1V181.7h1V181.3h1V181.3h1V180.4h1V179.9h1V181.0h1V181.7h1V180.4h1V180.1h1V180.9h1V180.8h1V180.7h1V181.2h1V180.9h1V180.5h1V180.8h1V179.8h1V179.8h1V179.7h1V180.3h1V179.9h1V181.4h1V181.6h1V181.9h1V181.4h1V180.0h1V181.2h1V180.1h1V181.0h1V181.0h1V180.5h1V180.9h1V180.5h1V180.2h1V180.4h1V181.2h1V180.2h1V180.8h1V179.9h1V180.0h1V181.6h1V181.0h1V181.1h1V181.8h1V181.6h1V180.3h1V180.8h1V180.4h1V180.4h1V180.5h1V179.7h1V180.4h1V181.6h1V181.5h1V180.1h1V179.9h1V180.5h1V180.1h1V180.0h1V180.2h1V179.7h1V179.7h1V180.0h1V181.2h1V180.4h1V180.4h1V181.3h1V181.0h1V181.4h1V181.0h1V180.7h1V180.6h1V181.2h1V180.3h1V181.1h1V181.7h1V181.7h1V181.3h1V180.0h1V180.7h1V180.3h1V180.9h1V180.6h1V180.0h1V180.4h1V180.3h1V180.1h1V180.8h1V180.3h1V181.2h1V181.8h1V181.9h1V181.7h1V181.7h1V181.2h1V181.6h1V180.5h1V180.3h1V180.8h1V180.6h1V180.8h1V180.7h1V180.6h1V181.2h1V181.4h1V181.0h1V180.5h1V179.8h1V180.2h1V180.8h1V180.4h1V179.6h1V180.4h1V180.4h1V179.9h1V180.9h1V181.5h1V181.4h1V180.3h1V180.1h1V181.2h1V181.1h1V180.0h1V180.8h1V180.6h1V180.3h1V180.0h1V180.1h1V179.5h1V181.0h1V181.2h1V180.0h1V179.5h1V179.8h1V179.4h1V180.1h1V180.9h1V180.0h1V179.6h1V179.7h1V180.2h1V181.3h1V180.2h1V180.5h1V179.8h1V180.9h1V181.7h1V180.3h1V180.2h1V180.9h1V180.7h1V181.3h1V181.7h1V180.6h1V179.7h1V180.9h1V179.9h1V179.5h1V179.4h1V179.2h1V179.9h1V180.2h1V180.8h1V181.5h1V179.8h1V180.4h1V180.6h1V181.4h1V180.6h1V180.6h1V180.3h1V181.2h1V196Z" fill="#efe8c2"/>
<path d="M399,196V187.1h1V187.1h1V185.8h1V186.1h1V186.8h1V185.6h1V186.6h1V186.2h1V186.1h1V185.1h1V185.1h1V186.0h1V185.6h1V185.8h1V185.4h1V186.1h1V187.0h1V185.6h1V186.1h1V185.6h1V184.8h1V186.2h1V185.5h1V186.8h1V185.9h1V186.4h1V186.0h1V185.6h1V185.5h1V185.4h1V185.3h1V186.1h1V186.6h1V186.9h1V186.2h1V186.1h1V186.8h1V186.6h1V187.0h1V186.2h1V187.1h1V186.3h1V186.6h1V185.8h1V186.1h1V185.8h1V187.1h1V187.5h1V186.6h1V186.9h1V187.1h1V187.1h1V185.8h1V186.0h1V187.0h1V187.0h1V185.5h1V185.0h1V186.3h1V185.7h1V186.0h1V186.3h1V185.9h1V187.0h1V187.2h1V186.8h1V187.3h1V187.0h1V186.5h1V186.8h1V186.9h1V186.7h1V187.3h1V185.8h1V185.4h1V185.5h1V185.7h1V186.1h1V186.3h1V185.5h1V186.1h1V186.6h1V185.8h1V186.9h1V186.1h1V185.3h1V186.5h1V187.7h1V187.2h1V186.1h1V186.0h1V186.5h1V185.8h1V185.7h1V187.2h1V187.3h1V187.0h1V185.8h1V187.0h1V188.0h1V188.0h1V187.0h1V186.2h1V186.6h1V187.4h1V187.6h1V187.1h1V187.8h1V187.5h1V186.9h1V185.8h1V186.7h1V186.5h1V185.9h1V186.4h1V186.1h1V186.9h1V187.0h1V187.0h1V187.1h1V187.1h1V187.0h1V186.1h1V187.4h1V186.8h1V187.5h1V186.4h1V185.9h1V186.1h1V187.1h1V187.7h1V187.1h1V186.3h1V186.0h1V186.6h1V186.7h1V187.3h1V186.6h1V186.9h1V187.2h1V186.6h1V186.8h1V186.3h1V186.4h1V187.2h1V187.5h1V186.4h1V187.6h1V188.3h1V186.6h1V187.2h1V188.0h1V188.1h1V186.6h1V186.6h1V187.2h1V187.8h1V187.0h1V187.2h1V187.6h1V187.2h1V186.0h1V186.8h1V186.7h1V186.2h1V187.5h1V186.3h1V186.1h1V186.2h1V187.4h1V187.3h1V187.3h1V187.7h1V187.9h1V186.4h1V187.2h1V186.8h1V185.8h1V186.1h1V187.5h1V186.4h1V186.4h1V186.3h1V186.4h1V185.8h1V185.7h1V186.8h1V186.4h1V186.7h1V187.9h1V188.0h1V188.0h1V187.5h1V188.0h1V186.5h1V186.9h1V186.3h1V187.5h1V186.9h1V186.7h1V187.8h1V187.7h1V188.0h1V186.2h1V187.2h1V187.6h1V187.6h1V186.6h1V187.5h1V187.0h1V186.5h1V186.7h1V186.2h1V185.8h1V186.2h1V185.7h1V187.2h1V186.2h1V185.4h1V187.2h1V188.1h1V186.8h1V186.8h1V187.7h1V187.1h1V185.8h1V185.4h1V187.3h1V186.7h1V185.7h1V187.1h1V186.2h1V187.0h1V187.7h1V187.2h1V187.7h1V186.4h1V187.1h1V186.8h1V185.8h1V187.0h1V186.4h1V187.3h1V186.1h1V186.5h1V187.0h1V187.4h1V186.5h1V186.8h1V187.3h1V186.1h1V185.6h1V187.3h1V186.0h1V187.0h1V186.9h1V186.4h1V186.9h1V187.3h1V187.1h1V186.3h1V186.2h1V187.5h1V188.0h1V186.9h1V186.6h1V185.8h1V186.8h1V186.2h1V185.9h1V186.5h1V186.1h1V185.7h1V186.5h1V186.4h1V186.1h1V186.8h1V187.5h1V187.5h1V186.0h1V185.3h1V186.6h1V196Z" fill="#d7c280"/>
<path d="M399,196V190.9h1V190.9h1V191.9h1V192.7h1V191.5h1V192.6h1V191.9h1V191.5h1V191.6h1V191.1h1V192.6h1V193.4h1V191.6h1V191.8h1V192.3h1V192.5h1V192.9h1V192.2h1V192.7h1V192.0h1V191.2h1V191.1h1V192.3h1V192.2h1V191.4h1V192.4h1V191.7h1V192.9h1V192.4h1V191.5h1V192.2h1V192.5h1V192.2h1V193.0h1V192.8h1V193.4h1V192.0h1V192.2h1V191.7h1V192.6h1V192.6h1V192.9h1V193.2h1V191.7h1V191.0h1V193.0h1V193.1h1V193.2h1V191.8h1V191.8h1V191.7h1V191.4h1V192.9h1V192.7h1V192.5h1V192.4h1V192.6h1V193.3h1V192.2h1V192.8h1V192.9h1V193.3h1V192.5h1V192.1h1V192.5h1V192.0h1V191.5h1V192.3h1V191.9h1V193.3h1V192.2h1V193.0h1V192.4h1V192.7h1V193.1h1V193.2h1V193.7h1V192.4h1V191.7h1V193.1h1V193.3h1V192.7h1V192.5h1V192.0h1V193.2h1V193.8h1V192.3h1V192.8h1V192.9h1V192.4h1V193.5h1V193.7h1V193.3h1V193.6h1V192.9h1V193.8h1V193.7h1V194.1h1V193.5h1V192.0h1V192.8h1V193.2h1V192.1h1V193.4h1V193.0h1V193.2h1V193.8h1V194.2h1V193.4h1V192.3h1V192.3h1V192.0h1V193.5h1V194.0h1V192.3h1V192.0h1V193.4h1V193.9h1V193.3h1V192.9h1V192.7h1V193.5h1V193.6h1V193.1h1V192.4h1V192.7h1V192.6h1V193.5h1V193.9h1V192.9h1V193.3h1V192.8h1V193.0h1V193.5h1V193.3h1V193.9h1V193.5h1V193.3h1V193.1h1V193.4h1V192.6h1V193.7h1V193.8h1V193.4h1V193.8h1V194.0h1V192.9h1V192.3h1V192.1h1V192.7h1V192.7h1V193.1h1V194.3h1V193.2h1V192.5h1V193.6h1V192.8h1V192.9h1V192.5h1V192.6h1V192.9h1V192.6h1V193.6h1V193.9h1V194.2h1V192.9h1V193.9h1V193.0h1V192.5h1V193.2h1V194.1h1V194.2h1V194.2h1V192.5h1V191.8h1V193.6h1V193.5h1V194.2h1V194.3h1V194.2h1V192.8h1V193.7h1V192.7h1V192.3h1V193.6h1V192.9h1V192.9h1V192.2h1V192.3h1V193.0h1V192.8h1V194.0h1V193.9h1V194.1h1V193.6h1V194.1h1V193.6h1V193.4h1V193.6h1V192.3h1V192.1h1V192.8h1V194.0h1V194.5h1V192.7h1V193.2h1V193.0h1V194.1h1V193.2h1V193.6h1V194.0h1V193.1h1V194.0h1V194.5h1V193.5h1V193.8h1V194.5h1V193.9h1V194.1h1V193.5h1V192.8h1V193.7h1V194.0h1V194.0h1V192.8h1V193.9h1V192.8h1V193.3h1V193.5h1V192.4h1V192.3h1V192.6h1V193.5h1V193.2h1V192.7h1V192.7h1V192.5h1V192.4h1V193.9h1V192.7h1V191.7h1V191.9h1V191.8h1V192.1h1V192.9h1V192.9h1V193.5h1V192.8h1V193.7h1V193.1h1V192.2h1V193.6h1V192.6h1V193.3h1V192.4h1V191.7h1V192.0h1V192.9h1V192.4h1V192.0h1V193.0h1V192.9h1V192.3h1V192.5h1V193.0h1V193.0h1V193.3h1V193.4h1V193.7h1V193.1h1V192.8h1V193.2h1V192.8h1V193.6h1V193.1h1V192.9h1V193.6h1V193.1h1V191.8h1V193.2h1V194.1h1V192.3h1V196Z" fill="#bf853a"/></g><rect x="400" y="127.0" width="280" height="1" fill="#8fc23e"/><path d="M399.50,131.7H400.50V137.3H399.50ZM400.50,116.4H401.50V122.0H400.50ZM401.25,126.6H403.75V132.2H401.25ZM403.50,116.4H404.50V122.0H403.50ZM404.50,121.5H405.50V127.1H404.50ZM405.50,131.7H406.50V137.3H405.50ZM406.25,116.4H412.75V122.0H406.25ZM412.50,126.6H413.50V132.2H412.50ZM413.50,121.5H414.50V127.1H413.50ZM414.50,126.6H415.50V132.2H414.50ZM415.50,131.7H416.50V137.3H415.50ZM416.50,116.4H417.50V122.0H416.50ZM417.25,121.5H420.75V127.1H417.25ZM420.25,116.4H422.75V122.0H420.25ZM422.50,131.7H423.50V137.3H422.50ZM423.50,121.5H424.50V127.1H423.50ZM424.50,126.6H425.50V132.2H424.50ZM425.25,131.7H428.75V137.3H425.25ZM428.25,121.5H432.75V127.1H428.25ZM432.25,126.6H437.75V132.2H432.25ZM437.50,121.5H438.50V127.1H437.50ZM438.50,131.7H439.50V137.3H438.50ZM439.25,126.6H444.75V132.2H439.25ZM444.25,121.5H446.75V127.1H444.25ZM446.25,126.6H448.75V132.2H446.25ZM448.25,121.5H452.75V127.1H448.25ZM452.25,126.6H454.75V132.2H452.25ZM454.50,116.4H455.50V122.0H454.50ZM455.25,126.6H457.75V132.2H455.25ZM457.25,121.5H459.75V127.1H457.25ZM459.50,126.6H460.50V132.2H459.50ZM460.50,116.4H461.50V122.0H460.50ZM461.25,121.5H464.75V127.1H461.25ZM464.50,131.7H465.50V137.3H464.50ZM465.25,121.5H469.75V127.1H465.25ZM469.50,126.6H470.50V132.2H469.50ZM470.25,121.5H472.75V127.1H470.25ZM472.50,131.7H473.50V137.3H472.50ZM473.50,126.6H474.50V132.2H473.50ZM474.50,121.5H475.50V127.1H474.50ZM475.50,131.7H476.50V137.3H475.50ZM476.50,121.5H477.50V127.1H476.50ZM477.25,131.7H481.75V137.3H477.25ZM481.25,126.6H483.75V132.2H481.25ZM483.50,131.7H484.50V137.3H483.50ZM484.50,121.5H485.50V127.1H484.50ZM485.25,131.7H489.75V137.3H485.25ZM489.50,121.5H490.50V127.1H489.50ZM490.25,131.7H494.75V137.3H490.25ZM494.25,126.6H499.75V132.2H494.25ZM499.25,131.7H503.75V137.3H499.25ZM503.50,126.6H504.50V132.2H503.50ZM504.25,131.7H509.75V137.3H504.25ZM509.50,121.5H510.50V127.1H509.50ZM510.25,131.7H513.75V137.3H510.25ZM513.50,126.6H514.50V132.2H513.50ZM514.25,131.7H521.75V137.3H514.25ZM521.50,121.5H522.50V127.1H521.50ZM522.25,131.7H525.75V137.3H522.25ZM525.50,126.6H526.50V132.2H525.50ZM526.50,131.7H527.50V137.3H526.50ZM527.50,126.6H528.50V132.2H527.50ZM528.25,131.7H534.75V137.3H528.25ZM534.50,126.6H535.50V132.2H534.50ZM535.50,131.7H536.50V137.3H535.50ZM536.50,126.6H537.50V132.2H536.50ZM537.25,131.7H540.75V137.3H537.25ZM540.50,126.6H541.50V132.2H540.50ZM541.50,131.7H542.50V137.3H541.50ZM542.50,126.6H543.50V132.2H542.50ZM543.25,131.7H547.75V137.3H543.25ZM547.50,126.6H548.50V132.2H547.50ZM548.50,131.7H549.50V137.3H548.50ZM549.50,126.6H550.50V132.2H549.50ZM550.25,131.7H553.75V137.3H550.25ZM553.50,126.6H554.50V132.2H553.50ZM554.25,131.7H557.75V137.3H554.25ZM557.50,121.5H558.50V127.1H557.50ZM558.25,131.7H561.75V137.3H558.25ZM561.50,126.6H562.50V132.2H561.50ZM562.25,131.7H566.75V137.3H562.25ZM566.50,126.6H567.50V132.2H566.50ZM567.25,131.7H581.75V137.3H567.25ZM581.50,126.6H582.50V132.2H581.50ZM582.25,131.7H589.75V137.3H582.25ZM589.50,126.6H590.50V132.2H589.50ZM590.25,131.7H598.75V137.3H590.25ZM598.50,121.5H599.50V127.1H598.50ZM599.25,131.7H607.75V137.3H599.25ZM607.50,126.6H608.50V132.2H607.50ZM608.25,131.7H623.75V137.3H608.25ZM623.50,126.6H624.50V132.2H623.50ZM624.25,131.7H638.75V137.3H624.25ZM638.50,121.5H639.50V127.1H638.50ZM639.25,131.7H651.75V137.3H639.25ZM651.50,126.6H652.50V132.2H651.50ZM652.25,131.7H666.75V137.3H652.25ZM666.50,126.6H667.50V132.2H666.50ZM667.25,131.7H671.75V137.3H667.25ZM671.50,126.6H672.50V132.2H671.50ZM672.25,131.7H677.75V137.3H672.25ZM677.50,126.6H678.50V132.2H677.50ZM678.25,131.7H680.75V137.3H678.25ZM397.3,134.0H402.7V135.0H397.3ZM398.3,118.7H403.7V119.7H398.3ZM399.3,128.9H405.7V129.9H399.3ZM401.3,118.7H406.7V119.7H401.3ZM402.3,123.8H407.7V124.8H402.3ZM403.3,134.0H408.7V135.0H403.3ZM404.3,118.7H414.7V119.7H404.3ZM410.3,128.9H415.7V129.9H410.3ZM411.3,123.8H416.7V124.8H411.3ZM412.3,128.9H417.7V129.9H412.3ZM413.3,134.0H418.7V135.0H413.3ZM414.3,118.7H419.7V119.7H414.3ZM415.3,123.8H422.7V124.8H415.3ZM418.3,118.7H424.7V119.7H418.3ZM420.3,134.0H425.7V135.0H420.3ZM421.3,123.8H426.7V124.8H421.3ZM422.3,128.9H427.7V129.9H422.3ZM423.3,134.0H430.7V135.0H423.3ZM426.3,123.8H434.7V124.8H426.3ZM430.3,128.9H439.7V129.9H430.3ZM435.3,123.8H440.7V124.8H435.3ZM436.3,134.0H441.7V135.0H436.3ZM437.3,128.9H446.7V129.9H437.3ZM442.3,123.8H448.7V124.8H442.3ZM444.3,128.9H450.7V129.9H444.3ZM446.3,123.8H454.7V124.8H446.3ZM450.3,128.9H456.7V129.9H450.3ZM452.3,118.7H457.7V119.7H452.3ZM453.3,128.9H459.7V129.9H453.3ZM455.3,123.8H461.7V124.8H455.3ZM457.3,128.9H462.7V129.9H457.3ZM458.3,118.7H463.7V119.7H458.3ZM459.3,123.8H466.7V124.8H459.3ZM462.3,134.0H467.7V135.0H462.3ZM463.3,123.8H471.7V124.8H463.3ZM467.3,128.9H472.7V129.9H467.3ZM468.3,123.8H474.7V124.8H468.3ZM470.3,134.0H475.7V135.0H470.3ZM471.3,128.9H476.7V129.9H471.3ZM472.3,123.8H477.7V124.8H472.3ZM473.3,134.0H478.7V135.0H473.3ZM474.3,123.8H479.7V124.8H474.3ZM475.3,134.0H483.7V135.0H475.3ZM479.3,128.9H485.7V129.9H479.3ZM481.3,134.0H486.7V135.0H481.3ZM482.3,123.8H487.7V124.8H482.3ZM483.3,134.0H491.7V135.0H483.3ZM487.3,123.8H492.7V124.8H487.3ZM488.3,134.0H496.7V135.0H488.3ZM492.3,128.9H501.7V129.9H492.3ZM497.3,134.0H505.7V135.0H497.3ZM501.3,128.9H506.7V129.9H501.3ZM502.3,134.0H511.7V135.0H502.3ZM507.3,123.8H512.7V124.8H507.3ZM508.3,134.0H515.7V135.0H508.3ZM511.3,128.9H516.7V129.9H511.3ZM512.3,134.0H523.7V135.0H512.3ZM519.3,123.8H524.7V124.8H519.3ZM520.3,134.0H527.7V135.0H520.3ZM523.3,128.9H528.7V129.9H523.3ZM524.3,134.0H529.7V135.0H524.3ZM525.3,128.9H530.7V129.9H525.3ZM526.3,134.0H536.7V135.0H526.3ZM532.3,128.9H537.7V129.9H532.3ZM533.3,134.0H538.7V135.0H533.3ZM534.3,128.9H539.7V129.9H534.3ZM535.3,134.0H542.7V135.0H535.3ZM538.3,128.9H543.7V129.9H538.3ZM539.3,134.0H544.7V135.0H539.3ZM540.3,128.9H545.7V129.9H540.3ZM541.3,134.0H549.7V135.0H541.3ZM545.3,128.9H550.7V129.9H545.3ZM546.3,134.0H551.7V135.0H546.3ZM547.3,128.9H552.7V129.9H547.3ZM548.3,134.0H555.7V135.0H548.3ZM551.3,128.9H556.7V129.9H551.3ZM552.3,134.0H559.7V135.0H552.3ZM555.3,123.8H560.7V124.8H555.3ZM556.3,134.0H563.7V135.0H556.3ZM559.3,128.9H564.7V129.9H559.3ZM560.3,134.0H568.7V135.0H560.3ZM564.3,128.9H569.7V129.9H564.3ZM565.3,134.0H583.7V135.0H565.3ZM579.3,128.9H584.7V129.9H579.3ZM580.3,134.0H591.7V135.0H580.3ZM587.3,128.9H592.7V129.9H587.3ZM588.3,134.0H600.7V135.0H588.3ZM596.3,123.8H601.7V124.8H596.3ZM597.3,134.0H609.7V135.0H597.3ZM605.3,128.9H610.7V129.9H605.3ZM606.3,134.0H625.7V135.0H606.3ZM621.3,128.9H626.7V129.9H621.3ZM622.3,134.0H640.7V135.0H622.3ZM636.3,123.8H641.7V124.8H636.3ZM637.3,134.0H653.7V135.0H637.3ZM649.3,128.9H654.7V129.9H649.3ZM650.3,134.0H668.7V135.0H650.3ZM664.3,128.9H669.7V129.9H664.3ZM665.3,134.0H673.7V135.0H665.3ZM669.3,128.9H674.7V129.9H669.3ZM670.3,134.0H679.7V135.0H670.3ZM675.3,128.9H680.7V129.9H675.3ZM676.3,134.0H682.7V135.0H676.3Z" fill="#fa38fc"/><rect x="400" y="15" width="280" height="180" fill="none" stroke="#262626" stroke-width="0.6"/>
<line x1="400" y1="187.95" x2="402.8" y2="187.95" stroke="#262626" stroke-width="0.6"/>
<line x1="677.2" y1="187.95" x2="680" y2="187.95" stroke="#262626" stroke-width="0.6"/>
<text x="398.4" y="190.65" text-anchor="end" font-size="9" fill="#262626">-15</text>
<line x1="400" y1="167.80" x2="402.8" y2="167.80" stroke="#262626" stroke-width="0.6"/>
<line x1="677.2" y1="167.80" x2="680" y2="167.80" stroke="#262626" stroke-width="0.6"/>
<text x="398.4" y="170.50" text-anchor="end" font-size="9" fill="#262626">-10</text>
<line x1="400" y1="147.65" x2="402.8" y2="147.65" stroke="#262626" stroke-width="0.6"/>
<line x1="677.2" y1="147.65" x2="680" y2="147.65" stroke="#262626" stroke-width="0.6"/>
<text x="398.4" y="150.35" text-anchor="end" font-size="9" fill="#262626">-5</text>
<line x1="400" y1="127.50" x2="402.8" y2="127.50" stroke="#262626" stroke-width="0.6"/>
<line x1="677.2" y1="127.50" x2="680" y2="127.50" stroke="#262626" stroke-width="0.6"/>
<text x="398.4" y="130.20" text-anchor="end" font-size="9" fill="#262626">0</text>
<line x1="400" y1="107.35" x2="402.8" y2="107.35" stroke="#262626" stroke-width="0.6"/>
<line x1="677.2" y1="107.35" x2="680" y2="107.35" stroke="#262626" stroke-width="0.6"/>
<text x="398.4" y="110.05" text-anchor="end" font-size="9" fill="#262626">5</text>
<line x1="400" y1="87.20" x2="402.8" y2="87.20" stroke="#262626" stroke-width="0.6"/>
<line x1="677.2" y1="87.20" x2="680" y2="87.20" stroke="#262626" stroke-width="0.6"/>
<text x="398.4" y="89.90" text-anchor="end" font-size="9" fill="#262626">10</text>
<line x1="400" y1="67.05" x2="402.8" y2="67.05" stroke="#262626" stroke-width="0.6"/>
<line x1="677.2" y1="67.05" x2="680" y2="67.05" stroke="#262626" stroke-width="0.6"/>
<text x="398.4" y="69.75" text-anchor="end" font-size="9" fill="#262626">15</text>
<line x1="400" y1="46.90" x2="402.8" y2="46.90" stroke="#262626" stroke-width="0.6"/>
<line x1="677.2" y1="46.90" x2="680" y2="46.90" stroke="#262626" stroke-width="0.6"/>
<text x="398.4" y="49.60" text-anchor="end" font-size="9" fill="#262626">20</text>
<line x1="400" y1="26.75" x2="402.8" y2="26.75" stroke="#262626" stroke-width="0.6"/>
<line x1="677.2" y1="26.75" x2="680" y2="26.75" stroke="#262626" stroke-width="0.6"/>
<text x="398.4" y="29.45" text-anchor="end" font-size="9" fill="#262626">25</text>
<line x1="400.00" y1="195" x2="400.00" y2="192.2" stroke="#262626" stroke-width="0.6"/>
<line x1="400.00" y1="15" x2="400.00" y2="17.8" stroke="#262626" stroke-width="0.6"/>
<text x="400.00" y="204.2" text-anchor="middle" font-size="9" fill="#262626">12</text>
<line x1="440.00" y1="195" x2="440.00" y2="192.2" stroke="#262626" stroke-width="0.6"/>
<line x1="440.00" y1="15" x2="440.00" y2="17.8" stroke="#262626" stroke-width="0.6"/>
<text x="440.00" y="204.2" text-anchor="middle" font-size="9" fill="#262626">13</text>
<line x1="480.00" y1="195" x2="480.00" y2="192.2" stroke="#262626" stroke-width="0.6"/>
<line x1="480.00" y1="15" x2="480.00" y2="17.8" stroke="#262626" stroke-width="0.6"/>
<text x="480.00" y="204.2" text-anchor="middle" font-size="9" fill="#262626">14</text>
<line x1="520.00" y1="195" x2="520.00" y2="192.2" stroke="#262626" stroke-width="0.6"/>
<line x1="520.00" y1="15" x2="520.00" y2="17.8" stroke="#262626" stroke-width="0.6"/>
<text x="520.00" y="204.2" text-anchor="middle" font-size="9" fill="#262626">15</text>
<line x1="560.00" y1="195" x2="560.00" y2="192.2" stroke="#262626" stroke-width="0.6"/>
<line x1="560.00" y1="15" x2="560.00" y2="17.8" stroke="#262626" stroke-width="0.6"/>
<text x="560.00" y="204.2" text-anchor="middle" font-size="9" fill="#262626">16</text>
<line x1="600.00" y1="195" x2="600.00" y2="192.2" stroke="#262626" stroke-width="0.6"/>
<line x1="600.00" y1="15" x2="600.00" y2="17.8" stroke="#262626" stroke-width="0.6"/>
<text x="600.00" y="204.2" text-anchor="middle" font-size="9" fill="#262626">17</text>
<line x1="640.00" y1="195" x2="640.00" y2="192.2" stroke="#262626" stroke-width="0.6"/>
<line x1="640.00" y1="15" x2="640.00" y2="17.8" stroke="#262626" stroke-width="0.6"/>
<text x="640.00" y="204.2" text-anchor="middle" font-size="9" fill="#262626">18</text>
<line x1="680.00" y1="195" x2="680.00" y2="192.2" stroke="#262626" stroke-width="0.6"/>
<line x1="680.00" y1="15" x2="680.00" y2="17.8" stroke="#262626" stroke-width="0.6"/>
<text x="680.00" y="204.2" text-anchor="middle" font-size="9" fill="#262626">19</text>
<text x="540.0" y="215.2" text-anchor="middle" font-size="9" fill="#262626">ka</text>
<text x="383" y="105.0" text-anchor="middle" font-size="9" fill="#262626" transform="rotate(-90 383 105.0)">latitude</text>
<text x="540.0" y="10" text-anchor="middle" font-size="12.7" font-weight="bold" fill="#000">(b) annual precipitation (mm/day), ORB</text><g clip-path="url(#cp2)"><rect x="32" y="265" width="280" height="180" fill="#56340f"/>
<path d="M31,446V302.7h1V302.7h1V302.4h1V301.1h1V301.9h1V301.7h1V301.6h1V302.9h1V301.5h1V300.9h1V300.9h1V302.3h1V302.7h1V301.6h1V301.0h1V302.1h1V301.6h1V301.3h1V302.3h1V301.3h1V301.3h1V301.9h1V302.4h1V302.0h1V303.1h1V303.1h1V301.4h1V301.4h1V301.0h1V302.5h1V301.7h1V301.6h1V302.7h1V302.3h1V301.2h1V301.3h1V301.7h1V302.3h1V302.9h1V302.7h1V301.4h1V302.6h1V302.5h1V302.8h1V302.0h1V301.2h1V301.7h1V302.9h1V303.6h1V302.9h1V303.0h1V303.2h1V301.6h1V301.5h1V301.4h1V302.5h1V301.8h1V301.8h1V301.7h1V303.0h1V303.4h1V303.0h1V302.0h1V302.5h1V302.6h1V302.6h1V303.3h1V303.1h1V302.2h1V301.4h1V301.8h1V301.7h1V301.7h1V301.7h1V301.8h1V302.2h1V302.1h1V303.0h1V303.0h1V302.2h1V302.6h1V301.9h1V303.3h1V303.7h1V303.1h1V303.0h1V301.8h1V302.0h1V301.9h1V302.8h1V303.3h1V303.8h1V304.0h1V304.2h1V302.8h1V302.2h1V303.1h1V303.6h1V303.6h1V303.5h1V302.7h1V303.5h1V302.6h1V302.7h1V302.9h1V303.3h1V302.6h1V303.3h1V302.5h1V303.7h1V304.1h1V304.3h1V304.3h1V304.4h1V304.6h1V303.2h1V302.4h1V302.5h1V302.9h1V302.8h1V302.6h1V302.6h1V302.6h1V302.6h1V303.6h1V304.6h1V304.6h1V303.1h1V302.6h1V303.4h1V303.1h1V303.2h1V304.7h1V304.2h1V303.7h1V304.3h1V304.7h1V303.6h1V304.6h1V303.9h1V304.9h1V303.7h1V304.5h1V304.5h1V305.1h1V304.1h1V304.3h1V303.6h1V303.3h1V304.9h1V305.7h1V304.8h1V305.4h1V305.0h1V305.0h1V305.0h1V305.3h1V304.9h1V305.0h1V304.4h1V304.4h1V304.3h1V304.0h1V305.3h1V304.8h1V305.0h1V306.0h1V305.4h1V305.8h1V304.9h1V305.3h1V306.1h1V305.4h1V304.7h1V304.2h1V304.4h1V306.1h1V305.6h1V305.1h1V304.6h1V305.4h1V305.7h1V306.4h1V306.4h1V306.4h1V305.6h1V306.0h1V305.7h1V306.0h1V305.0h1V304.8h1V304.9h1V305.6h1V305.3h1V306.1h1V306.3h1V305.7h1V305.3h1V305.4h1V306.3h1V305.7h1V305.4h1V304.7h1V305.4h1V306.8h1V306.1h1V306.4h1V305.9h1V306.0h1V305.1h1V305.0h1V305.2h1V306.2h1V306.2h1V305.6h1V305.3h1V304.8h1V305.2h1V305.2h1V305.2h1V306.1h1V305.0h1V306.4h1V306.5h1V305.7h1V306.4h1V306.9h1V305.5h1V305.4h1V306.3h1V306.3h1V305.1h1V306.3h1V305.9h1V306.0h1V305.7h1V306.4h1V305.8h1V306.3h1V306.2h1V306.5h1V305.4h1V304.5h1V305.3h1V305.3h1V306.1h1V305.8h1V305.0h1V306.4h1V306.4h1V305.8h1V306.2h1V305.2h1V304.5h1V306.2h1V305.1h1V306.4h1V305.7h1V305.2h1V305.3h1V306.3h1V306.0h1V306.8h1V306.1h1V305.9h1V305.7h1V305.5h1V305.3h1V305.7h1V306.5h1V305.8h1V306.1h1V305.2h1V306.4h1V305.3h1V304.4h1V304.5h1V304.5h1V304.7h1V305.0h1V306.4h1V307.1h1V446Z" fill="#8d5520"/>
<path d="M31,446V308.1h1V308.1h1V308.1h1V308.8h1V309.9h1V309.7h1V308.3h1V308.5h1V308.0h1V309.3h1V308.0h1V308.6h1V309.6h1V309.0h1V309.3h1V308.9h1V308.5h1V309.0h1V309.2h1V309.4h1V310.0h1V309.6h1V309.0h1V308.1h1V308.9h1V310.1h1V310.6h1V309.9h1V310.1h1V308.9h1V307.5h1V307.6h1V309.4h1V308.5h1V308.8h1V309.8h1V308.6h1V310.1h1V309.1h1V309.5h1V310.1h1V309.4h1V308.5h1V308.3h1V310.2h1V309.2h1V308.8h1V308.9h1V310.4h1V309.8h1V309.6h1V309.8h1V309.9h1V310.7h1V311.2h1V309.6h1V309.5h1V311.1h1V310.5h1V309.2h1V309.6h1V309.9h1V310.6h1V310.2h1V309.9h1V309.1h1V309.5h1V310.8h1V310.8h1V309.3h1V309.9h1V309.8h1V309.9h1V310.6h1V311.1h1V311.9h1V309.7h1V310.6h1V310.0h1V310.3h1V310.0h1V311.2h1V310.1h1V310.6h1V310.1h1V311.5h1V311.2h1V311.7h1V311.0h1V310.0h1V310.0h1V311.6h1V310.5h1V311.3h1V312.4h1V312.7h1V312.7h1V310.2h1V310.4h1V309.7h1V311.3h1V312.3h1V312.5h1V312.2h1V312.9h1V312.1h1V310.1h1V311.8h1V310.8h1V310.3h1V312.5h1V311.4h1V311.5h1V311.1h1V311.6h1V313.0h1V312.8h1V310.9h1V312.1h1V312.0h1V311.3h1V312.3h1V312.5h1V310.8h1V311.5h1V312.3h1V311.1h1V313.1h1V313.6h1V312.3h1V312.6h1V313.5h1V312.6h1V312.1h1V313.5h1V312.9h1V312.2h1V313.1h1V313.1h1V314.0h1V313.9h1V313.3h1V312.3h1V313.6h1V312.2h1V313.3h1V314.2h1V313.5h1V311.8h1V313.1h1V312.1h1V313.2h1V312.2h1V312.0h1V313.0h1V312.7h1V312.5h1V313.3h1V312.6h1V313.1h1V313.8h1V314.8h1V314.0h1V314.1h1V313.9h1V314.5h1V314.9h1V313.1h1V314.6h1V313.0h1V314.1h1V313.2h1V312.6h1V313.6h1V313.9h1V312.9h1V314.3h1V313.8h1V313.5h1V312.7h1V314.0h1V315.1h1V315.8h1V313.6h1V314.6h1V315.2h1V315.7h1V315.5h1V313.7h1V313.8h1V314.6h1V315.8h1V314.7h1V315.2h1V314.1h1V312.9h1V313.9h1V313.9h1V314.6h1V315.4h1V314.1h1V313.8h1V313.7h1V312.9h1V313.7h1V313.2h1V314.3h1V315.5h1V315.7h1V315.6h1V314.1h1V313.3h1V313.2h1V313.0h1V312.6h1V312.5h1V314.8h1V315.8h1V313.9h1V314.4h1V315.5h1V314.7h1V313.3h1V315.1h1V314.2h1V313.8h1V313.1h1V314.1h1V314.8h1V314.2h1V313.3h1V314.0h1V314.6h1V314.2h1V314.2h1V313.8h1V313.1h1V312.9h1V315.0h1V315.1h1V315.4h1V314.0h1V314.8h1V314.1h1V315.4h1V315.4h1V315.7h1V314.7h1V313.3h1V314.4h1V313.4h1V312.8h1V315.2h1V314.1h1V314.9h1V315.5h1V313.5h1V314.5h1V313.7h1V314.8h1V315.6h1V316.3h1V314.0h1V313.0h1V313.3h1V313.3h1V313.4h1V315.2h1V314.2h1V313.1h1V315.1h1V316.1h1V316.3h1V316.0h1V316.0h1V315.8h1V313.9h1V313.2h1V313.4h1V314.9h1V315.6h1V314.8h1V446Z" fill="#bf853a"/>
<path d="M31,446V320.3h1V320.3h1V321.1h1V320.6h1V319.0h1V318.6h1V318.8h1V319.1h1V320.1h1V318.4h1V317.0h1V319.4h1V320.0h1V319.6h1V318.5h1V319.5h1V320.1h1V319.4h1V317.5h1V317.5h1V317.9h1V318.4h1V318.3h1V317.9h1V319.2h1V317.4h1V316.8h1V317.6h1V316.8h1V318.9h1V319.4h1V318.8h1V318.5h1V318.0h1V319.8h1V320.2h1V320.3h1V318.1h1V318.8h1V318.9h1V317.4h1V316.4h1V318.5h1V319.3h1V319.0h1V317.9h1V317.5h1V317.0h1V319.1h1V317.7h1V316.2h1V316.8h1V317.4h1V317.3h1V318.4h1V318.8h1V320.0h1V319.9h1V319.1h1V318.6h1V319.7h1V320.0h1V319.2h1V319.8h1V319.1h1V317.8h1V317.6h1V318.5h1V318.9h1V319.8h1V318.0h1V318.8h1V317.6h1V317.3h1V319.5h1V319.8h1V319.9h1V317.4h1V316.4h1V317.6h1V319.1h1V320.4h1V320.4h1V319.9h1V317.4h1V318.7h1V318.3h1V319.8h1V319.7h1V320.3h1V319.4h1V319.1h1V319.4h1V318.3h1V318.6h1V318.1h1V319.3h1V320.6h1V320.8h1V318.3h1V319.7h1V321.3h1V319.5h1V319.2h1V320.3h1V319.9h1V319.1h1V320.9h1V319.7h1V318.1h1V318.6h1V320.3h1V320.1h1V319.0h1V319.6h1V319.3h1V319.6h1V322.1h1V322.1h1V322.6h1V323.1h1V320.3h1V320.7h1V321.8h1V322.5h1V321.4h1V320.5h1V322.2h1V321.9h1V320.7h1V322.1h1V323.3h1V321.8h1V321.0h1V321.6h1V322.0h1V321.2h1V321.7h1V322.9h1V323.2h1V322.4h1V323.9h1V323.4h1V322.9h1V321.0h1V320.1h1V323.1h1V322.3h1V321.6h1V322.8h1V322.0h1V321.4h1V323.4h1V323.3h1V323.6h1V322.4h1V321.2h1V321.1h1V323.6h1V324.6h1V324.3h1V322.1h1V322.7h1V323.6h1V321.7h1V321.8h1V323.0h1V321.8h1V321.4h1V321.6h1V322.7h1V322.2h1V323.4h1V321.7h1V323.3h1V325.1h1V323.9h1V322.1h1V322.0h1V323.4h1V322.1h1V323.8h1V324.5h1V324.8h1V322.8h1V323.8h1V324.0h1V323.5h1V324.9h1V325.5h1V323.7h1V323.8h1V325.0h1V325.2h1V325.1h1V322.5h1V323.8h1V324.6h1V323.5h1V324.1h1V324.6h1V323.5h1V321.7h1V322.6h1V324.2h1V324.4h1V322.0h1V323.7h1V325.3h1V324.6h1V324.0h1V324.0h1V322.4h1V322.5h1V324.4h1V323.9h1V323.9h1V322.5h1V322.9h1V323.2h1V324.8h1V324.4h1V324.5h1V324.4h1V322.6h1V324.5h1V323.5h1V324.7h1V323.9h1V322.5h1V322.8h1V322.4h1V323.2h1V324.1h1V322.9h1V323.2h1V322.5h1V323.9h1V322.5h1V324.1h1V324.2h1V324.5h1V324.9h1V322.8h1V322.4h1V323.2h1V322.7h1V324.4h1V324.9h1V323.2h1V321.8h1V323.2h1V322.6h1V322.9h1V324.5h1V322.8h1V323.9h1V324.4h1V324.8h1V322.9h1V321.7h1V321.7h1V321.9h1V323.8h1V324.7h1V325.2h1V324.0h1V322.6h1V324.5h1V323.0h1V322.6h1V321.8h1V322.5h1V322.1h1V324.8h1V323.8h1V322.5h1V323.4h1V324.0h1V323.9h1V323.4h1V325.0h1V446Z" fill="#d7c280"/>
<path d="M31,446V331.3h1V331.3h1V332.4h1V330.9h1V330.3h1V330.0h1V332.3h1V332.9h1V333.1h1V330.5h1V331.6h1V333.0h1V331.8h1V331.1h1V332.9h1V329.8h1V328.8h1V328.2h1V331.2h1V332.5h1V332.2h1V332.6h1V332.1h1V329.3h1V329.6h1V330.5h1V330.7h1V332.4h1V333.1h1V330.9h1V331.3h1V329.5h1V328.7h1V328.0h1V329.9h1V328.8h1V328.7h1V329.2h1V328.6h1V331.1h1V331.8h1V328.5h1V330.6h1V331.3h1V332.2h1V330.2h1V328.2h1V330.6h1V332.0h1V330.5h1V330.5h1V329.5h1V328.2h1V331.0h1V328.6h1V327.1h1V327.8h1V329.8h1V328.7h1V329.5h1V331.6h1V331.8h1V330.2h1V331.8h1V331.1h1V329.0h1V328.6h1V330.7h1V329.8h1V328.2h1V330.2h1V332.5h1V332.1h1V332.3h1V330.8h1V332.5h1V332.0h1V330.2h1V330.2h1V329.0h1V330.8h1V333.4h1V332.6h1V332.4h1V333.0h1V332.1h1V331.1h1V331.7h1V332.3h1V332.0h1V331.7h1V330.3h1V331.6h1V332.4h1V333.7h1V334.4h1V332.3h1V330.2h1V329.4h1V333.4h1V333.5h1V332.7h1V331.0h1V332.1h1V333.0h1V331.7h1V334.4h1V331.8h1V330.7h1V333.6h1V333.3h1V334.7h1V334.1h1V333.9h1V332.0h1V334.1h1V332.6h1V332.4h1V333.3h1V332.9h1V333.2h1V333.4h1V335.2h1V336.1h1V333.7h1V332.9h1V332.0h1V333.7h1V332.6h1V335.1h1V334.9h1V334.2h1V336.2h1V334.8h1V332.8h1V334.3h1V334.4h1V333.7h1V336.4h1V334.3h1V336.0h1V336.5h1V334.1h1V336.2h1V337.6h1V335.8h1V337.0h1V337.4h1V336.5h1V335.3h1V333.7h1V334.2h1V333.8h1V336.2h1V338.0h1V334.8h1V336.3h1V337.0h1V337.4h1V337.4h1V338.5h1V335.1h1V335.8h1V337.8h1V338.8h1V335.9h1V337.1h1V338.8h1V339.0h1V336.6h1V337.0h1V335.0h1V335.8h1V337.3h1V335.3h1V334.6h1V336.5h1V335.2h1V336.6h1V338.9h1V338.7h1V335.5h1V337.1h1V336.0h1V338.4h1V339.8h1V338.5h1V336.5h1V337.7h1V336.1h1V337.2h1V338.6h1V338.2h1V337.5h1V337.9h1V338.1h1V335.5h1V336.1h1V338.1h1V339.1h1V336.5h1V337.4h1V338.3h1V337.4h1V338.1h1V338.5h1V338.1h1V337.2h1V339.1h1V340.2h1V339.3h1V339.8h1V338.4h1V336.8h1V335.9h1V336.4h1V338.7h1V338.1h1V337.8h1V339.3h1V340.2h1V338.7h1V338.3h1V339.3h1V336.3h1V336.5h1V336.5h1V339.2h1V337.9h1V337.6h1V336.7h1V335.6h1V338.0h1V336.5h1V338.5h1V338.5h1V338.8h1V336.7h1V338.6h1V337.8h1V336.1h1V336.6h1V336.2h1V337.8h1V337.8h1V337.8h1V337.0h1V336.5h1V338.7h1V337.3h1V337.4h1V337.7h1V338.5h1V336.2h1V338.0h1V339.9h1V340.1h1V338.8h1V337.1h1V339.2h1V339.7h1V337.6h1V336.8h1V339.1h1V337.9h1V337.4h1V337.0h1V338.2h1V337.2h1V337.2h1V337.7h1V339.0h1V339.8h1V337.0h1V338.5h1V338.5h1V339.1h1V340.4h1V337.2h1V338.7h1V337.1h1V339.3h1V446Z" fill="#efe8c2"/>
<path d="M31,446V344.2h1V344.2h1V343.7h1V342.7h1V343.9h1V343.3h1V342.9h1V344.3h1V343.4h1V342.8h1V343.1h1V342.9h1V344.1h1V344.9h1V343.9h1V343.8h1V342.9h1V343.9h1V344.0h1V344.1h1V343.4h1V343.0h1V344.0h1V343.8h1V344.2h1V343.6h1V343.1h1V343.6h1V343.6h1V343.8h1V343.1h1V344.0h1V343.2h1V344.0h1V344.3h1V344.9h1V345.1h1V343.4h1V342.4h1V344.2h1V343.9h1V344.3h1V343.8h1V343.9h1V343.5h1V344.6h1V344.4h1V344.3h1V343.5h1V344.5h1V343.7h1V343.5h1V344.3h1V344.1h1V342.9h1V344.0h1V344.6h1V344.6h1V343.7h1V344.1h1V344.1h1V344.1h1V343.5h1V343.9h1V343.9h1V343.7h1V344.0h1V343.6h1V343.5h1V343.5h1V343.6h1V344.3h1V344.5h1V344.4h1V343.7h1V344.2h1V343.1h1V343.1h1V343.8h1V344.1h1V344.0h1V343.9h1V343.2h1V343.8h1V343.5h1V342.8h1V344.3h1V344.3h1V344.9h1V343.5h1V342.7h1V344.3h1V345.1h1V344.8h1V345.5h1V345.1h1V344.2h1V343.5h1V344.6h1V344.3h1V344.5h1V344.0h1V345.3h1V345.5h1V345.1h1V344.6h1V344.2h1V343.7h1V343.9h1V344.1h1V344.1h1V343.6h1V343.7h1V345.0h1V345.3h1V344.9h1V344.1h1V345.1h1V345.3h1V344.4h1V345.8h1V345.6h1V345.8h1V345.7h1V346.1h1V346.3h1V346.3h1V346.5h1V345.2h1V345.8h1V346.5h1V344.9h1V345.7h1V345.6h1V345.7h1V345.4h1V344.9h1V345.2h1V346.4h1V346.1h1V345.9h1V346.7h1V347.3h1V347.3h1V346.9h1V345.3h1V345.7h1V345.2h1V345.9h1V345.6h1V346.8h1V345.7h1V346.1h1V346.6h1V346.8h1V347.0h1V346.1h1V346.5h1V347.4h1V346.0h1V345.3h1V347.2h1V346.3h1V346.6h1V345.7h1V346.6h1V346.8h1V345.8h1V346.4h1V346.7h1V347.3h1V347.5h1V346.5h1V347.6h1V347.0h1V347.5h1V346.7h1V347.1h1V347.9h1V346.4h1V346.4h1V346.8h1V346.8h1V347.4h1V348.3h1V347.0h1V347.4h1V348.0h1V347.1h1V347.0h1V347.8h1V348.4h1V347.1h1V346.4h1V346.3h1V347.9h1V346.9h1V347.2h1V347.2h1V347.2h1V346.7h1V346.4h1V346.3h1V347.9h1V347.7h1V346.5h1V347.9h1V348.2h1V347.3h1V347.0h1V347.6h1V346.7h1V347.8h1V348.6h1V347.3h1V346.7h1V347.1h1V347.4h1V348.0h1V346.9h1V346.5h1V346.8h1V347.5h1V346.9h1V346.4h1V347.7h1V347.3h1V347.5h1V346.6h1V346.1h1V347.1h1V347.8h1V348.0h1V347.4h1V347.4h1V346.5h1V346.9h1V347.6h1V346.4h1V346.1h1V347.6h1V348.4h1V347.4h1V346.6h1V346.6h1V347.2h1V348.4h1V348.4h1V347.4h1V346.9h1V346.3h1V347.0h1V346.6h1V347.6h1V346.6h1V345.9h1V347.3h1V347.8h1V347.9h1V347.7h1V348.2h1V347.9h1V347.8h1V348.2h1V347.7h1V347.8h1V346.7h1V347.8h1V348.7h1V347.7h1V346.9h1V346.3h1V346.3h1V348.0h1V346.7h1V347.5h1V346.9h1V347.9h1V348.1h1V347.5h1V348.0h1V347.1h1V446Z" fill="#ccefe5"/>
<path d="M31,446V349.8h1V349.8h1V350.3h1V350.8h1V350.8h1V350.3h1V350.5h1V349.0h1V350.1h1V350.1h1V350.4h1V349.4h1V349.6h1V349.5h1V350.6h1V350.6h1V349.3h1V349.3h1V349.3h1V349.3h1V349.0h1V349.5h1V350.3h1V349.6h1V350.3h1V349.6h1V350.3h1V349.5h1V350.5h1V350.9h1V349.8h1V349.8h1V349.7h1V350.3h1V350.9h1V349.9h1V349.2h1V348.9h1V349.7h1V350.0h1V349.7h1V349.2h1V348.8h1V349.3h1V350.0h1V350.8h1V350.0h1V351.0h1V350.6h1V350.1h1V349.6h1V348.9h1V349.4h1V349.7h1V349.4h1V349.1h1V349.1h1V349.2h1V348.9h1V350.5h1V349.9h1V350.3h1V351.2h1V351.4h1V350.1h1V349.6h1V350.1h1V350.5h1V350.4h1V349.9h1V349.5h1V350.6h1V350.0h1V350.0h1V349.6h1V349.9h1V351.0h1V350.6h1V349.4h1V351.0h1V351.4h1V350.3h1V351.0h1V350.8h1V351.2h1V351.8h1V351.7h1V350.1h1V350.2h1V350.3h1V350.3h1V351.0h1V351.4h1V350.2h1V350.3h1V350.7h1V350.7h1V350.6h1V350.0h1V350.7h1V351.3h1V350.3h1V351.6h1V352.3h1V351.2h1V351.0h1V351.0h1V350.5h1V350.8h1V351.3h1V351.5h1V351.9h1V351.3h1V351.2h1V351.2h1V351.5h1V352.1h1V350.8h1V350.3h1V351.1h1V351.7h1V352.1h1V352.2h1V351.5h1V352.5h1V352.2h1V352.7h1V352.6h1V351.9h1V351.5h1V352.3h1V351.8h1V352.2h1V351.4h1V352.4h1V351.7h1V352.3h1V352.8h1V352.9h1V352.9h1V352.8h1V352.0h1V353.2h1V353.9h1V352.9h1V352.8h1V352.8h1V353.1h1V353.7h1V353.3h1V352.0h1V353.3h1V353.5h1V353.7h1V353.4h1V353.0h1V352.2h1V352.0h1V353.2h1V353.2h1V353.6h1V353.1h1V353.9h1V354.5h1V355.0h1V353.9h1V353.0h1V352.6h1V354.4h1V353.5h1V353.4h1V353.6h1V354.5h1V353.8h1V353.7h1V354.1h1V355.5h1V355.4h1V354.9h1V354.1h1V353.9h1V355.0h1V355.8h1V355.6h1V354.0h1V354.0h1V354.2h1V355.0h1V355.7h1V355.2h1V354.9h1V355.7h1V355.4h1V355.9h1V356.1h1V356.3h1V356.0h1V355.6h1V355.1h1V354.4h1V353.9h1V354.1h1V355.6h1V355.6h1V354.3h1V354.3h1V353.9h1V354.0h1V354.8h1V356.0h1V354.9h1V355.0h1V355.8h1V354.3h1V355.4h1V355.8h1V356.3h1V355.5h1V354.4h1V354.7h1V354.3h1V355.8h1V355.2h1V355.8h1V355.0h1V355.5h1V356.0h1V354.9h1V355.6h1V355.8h1V355.1h1V354.5h1V354.5h1V356.0h1V356.5h1V356.3h1V354.5h1V355.3h1V354.9h1V354.5h1V354.8h1V354.3h1V354.2h1V354.8h1V354.7h1V354.3h1V355.6h1V356.3h1V354.8h1V354.6h1V355.7h1V355.8h1V354.7h1V355.2h1V354.6h1V355.4h1V355.2h1V356.1h1V355.7h1V355.7h1V355.5h1V354.5h1V355.3h1V356.5h1V356.7h1V355.0h1V354.4h1V355.3h1V356.3h1V356.6h1V356.8h1V356.4h1V355.2h1V354.5h1V355.0h1V356.3h1V356.4h1V354.8h1V354.6h1V355.6h1V356.7h1V356.4h1V446Z" fill="#8ddac3"/>
<path d="M31,446V357.0h1V357.0h1V356.7h1V356.9h1V357.3h1V357.0h1V356.8h1V357.6h1V356.6h1V355.6h1V355.5h1V356.5h1V357.6h1V357.5h1V356.6h1V357.3h1V355.9h1V356.6h1V356.0h1V355.4h1V355.2h1V356.0h1V355.7h1V355.1h1V355.9h1V356.7h1V356.7h1V357.0h1V355.9h1V355.4h1V355.2h1V354.9h1V355.8h1V355.5h1V355.1h1V355.9h1V356.6h1V356.8h1V355.7h1V355.9h1V355.6h1V355.8h1V357.0h1V355.9h1V356.6h1V355.6h1V356.6h1V356.5h1V357.0h1V356.8h1V356.4h1V355.4h1V354.9h1V356.3h1V357.2h1V356.9h1V357.0h1V357.3h1V356.3h1V356.4h1V356.6h1V357.5h1V357.9h1V356.5h1V357.0h1V356.1h1V356.6h1V357.3h1V356.4h1V356.7h1V356.1h1V355.5h1V357.2h1V357.3h1V357.6h1V356.9h1V356.4h1V356.7h1V357.0h1V357.3h1V356.8h1V356.4h1V356.1h1V357.4h1V357.3h1V356.6h1V356.2h1V357.3h1V357.1h1V356.5h1V357.6h1V356.9h1V356.9h1V356.7h1V357.1h1V357.8h1V357.6h1V357.6h1V357.7h1V357.9h1V357.3h1V358.1h1V357.2h1V356.9h1V357.6h1V358.4h1V357.6h1V357.3h1V358.0h1V357.5h1V357.6h1V358.6h1V358.5h1V357.9h1V357.1h1V356.7h1V358.2h1V357.5h1V356.9h1V357.0h1V358.1h1V357.2h1V358.3h1V357.9h1V358.4h1V358.7h1V357.4h1V358.6h1V358.6h1V358.0h1V358.9h1V357.7h1V357.4h1V358.1h1V358.9h1V358.3h1V359.2h1V359.0h1V358.2h1V358.1h1V358.4h1V357.8h1V358.6h1V359.2h1V359.3h1V359.8h1V358.4h1V357.5h1V358.3h1V359.4h1V360.1h1V358.4h1V357.8h1V359.5h1V359.6h1V359.5h1V359.6h1V358.7h1V359.8h1V359.2h1V359.2h1V360.2h1V360.3h1V359.9h1V359.8h1V360.0h1V360.3h1V360.4h1V359.4h1V360.1h1V360.5h1V360.4h1V359.1h1V360.2h1V360.7h1V359.4h1V360.0h1V360.6h1V361.0h1V360.1h1V359.6h1V359.8h1V360.3h1V360.6h1V359.9h1V360.1h1V360.5h1V359.6h1V360.6h1V359.8h1V359.8h1V360.0h1V360.4h1V361.1h1V361.7h1V360.1h1V361.1h1V361.3h1V360.5h1V361.2h1V359.8h1V359.9h1V361.3h1V361.8h1V360.5h1V360.0h1V360.3h1V361.4h1V361.6h1V361.7h1V360.8h1V360.6h1V360.0h1V360.0h1V361.0h1V361.4h1V360.6h1V359.9h1V360.3h1V360.2h1V361.2h1V361.7h1V361.6h1V361.7h1V361.7h1V361.1h1V361.4h1V360.5h1V361.1h1V360.2h1V360.8h1V361.3h1V360.6h1V361.1h1V361.0h1V360.0h1V360.1h1V360.8h1V360.1h1V361.0h1V362.0h1V361.8h1V360.6h1V360.2h1V360.3h1V361.0h1V361.2h1V361.7h1V360.6h1V360.6h1V361.8h1V360.4h1V361.4h1V361.1h1V360.6h1V361.3h1V360.6h1V360.6h1V361.7h1V361.6h1V361.6h1V361.7h1V361.9h1V361.6h1V360.2h1V361.4h1V360.4h1V359.7h1V360.3h1V360.0h1V361.4h1V361.4h1V361.8h1V361.1h1V361.7h1V360.8h1V360.2h1V360.8h1V360.4h1V359.8h1V360.0h1V361.3h1V446Z" fill="#56a893"/>
<path d="M31,446V362.7h1V362.7h1V362.2h1V363.1h1V363.5h1V363.5h1V363.8h1V363.0h1V361.8h1V361.9h1V361.9h1V363.0h1V361.8h1V362.9h1V363.2h1V362.6h1V362.2h1V362.4h1V362.7h1V363.2h1V363.1h1V362.0h1V361.3h1V361.0h1V360.9h1V361.9h1V362.4h1V362.4h1V361.3h1V362.2h1V362.6h1V361.8h1V361.9h1V362.2h1V362.9h1V361.9h1V361.2h1V362.6h1V362.9h1V361.8h1V361.6h1V361.1h1V361.7h1V361.1h1V362.0h1V362.4h1V361.2h1V362.4h1V362.8h1V363.3h1V362.7h1V363.1h1V362.7h1V362.3h1V361.4h1V360.9h1V362.6h1V363.2h1V362.9h1V361.9h1V362.2h1V362.0h1V362.2h1V361.7h1V363.0h1V363.1h1V361.6h1V362.0h1V363.1h1V362.1h1V361.2h1V362.0h1V361.9h1V363.2h1V363.0h1V362.3h1V361.4h1V361.2h1V362.1h1V362.8h1V362.7h1V362.5h1V362.0h1V362.6h1V363.1h1V362.5h1V363.0h1V363.2h1V363.1h1V363.5h1V362.6h1V362.6h1V362.0h1V361.9h1V363.4h1V363.4h1V363.9h1V363.7h1V364.0h1V362.6h1V363.0h1V363.5h1V362.8h1V362.3h1V363.8h1V363.1h1V363.2h1V362.6h1V363.4h1V363.5h1V363.4h1V364.0h1V364.0h1V364.4h1V364.4h1V363.9h1V363.3h1V362.6h1V362.5h1V362.6h1V363.1h1V363.8h1V362.9h1V363.6h1V363.4h1V363.4h1V363.1h1V362.6h1V364.1h1V363.9h1V364.3h1V363.9h1V364.4h1V364.9h1V364.8h1V364.4h1V363.9h1V363.5h1V363.4h1V363.5h1V363.9h1V363.8h1V363.3h1V364.6h1V363.6h1V364.8h1V365.6h1V364.0h1V364.5h1V364.9h1V364.8h1V363.7h1V364.3h1V364.8h1V363.8h1V363.4h1V364.5h1V365.5h1V366.0h1V365.4h1V365.1h1V364.8h1V365.7h1V364.6h1V365.3h1V364.9h1V364.2h1V365.8h1V365.3h1V365.9h1V365.4h1V364.5h1V365.6h1V366.2h1V365.2h1V366.1h1V364.8h1V365.9h1V365.8h1V366.0h1V365.5h1V366.1h1V366.4h1V365.4h1V366.2h1V366.0h1V366.2h1V366.4h1V366.1h1V365.4h1V365.3h1V366.2h1V365.0h1V364.3h1V365.0h1V365.5h1V366.4h1V365.9h1V366.6h1V367.0h1V365.5h1V364.7h1V365.1h1V365.4h1V366.2h1V365.5h1V365.2h1V366.4h1V366.3h1V365.0h1V365.1h1V365.3h1V365.7h1V365.2h1V365.4h1V365.2h1V365.0h1V365.7h1V364.9h1V365.7h1V365.1h1V365.2h1V366.7h1V365.4h1V365.2h1V366.4h1V366.6h1V366.5h1V366.5h1V366.4h1V365.7h1V365.1h1V364.9h1V366.3h1V366.5h1V365.6h1V366.7h1V366.8h1V366.0h1V365.8h1V366.7h1V365.7h1V365.2h1V365.6h1V365.5h1V364.8h1V365.6h1V366.7h1V366.5h1V366.8h1V365.8h1V365.3h1V365.5h1V365.9h1V365.0h1V365.1h1V366.2h1V366.6h1V366.2h1V365.9h1V365.4h1V366.8h1V366.9h1V366.0h1V365.4h1V364.8h1V365.4h1V366.5h1V365.7h1V364.8h1V365.4h1V366.0h1V365.8h1V366.8h1V366.3h1V366.1h1V366.4h1V365.8h1V365.6h1V365.2h1V365.5h1V366.2h1V446Z" fill="#2e7262"/>
<path d="M31,446V366.9h1V366.9h1V366.8h1V367.8h1V368.7h1V367.1h1V367.3h1V366.6h1V367.7h1V367.5h1V367.9h1V368.6h1V367.6h1V367.0h1V367.5h1V368.4h1V367.7h1V367.9h1V366.9h1V367.1h1V368.1h1V368.8h1V368.6h1V367.1h1V366.4h1V367.6h1V368.5h1V367.4h1V366.4h1V367.2h1V367.1h1V366.7h1V367.1h1V367.0h1V367.5h1V366.6h1V367.9h1V367.8h1V367.0h1V367.5h1V367.2h1V366.6h1V367.1h1V366.6h1V366.4h1V368.0h1V368.0h1V368.4h1V367.2h1V366.5h1V367.8h1V367.9h1V368.3h1V367.9h1V368.2h1V368.8h1V368.8h1V367.7h1V367.2h1V367.5h1V367.3h1V367.2h1V367.1h1V367.4h1V367.5h1V366.7h1V367.0h1V366.5h1V367.9h1V368.8h1V368.6h1V366.9h1V366.2h1V366.2h1V366.6h1V368.0h1V368.1h1V368.2h1V368.7h1V368.2h1V367.5h1V367.8h1V368.2h1V367.3h1V366.7h1V367.2h1V367.6h1V367.1h1V367.8h1V368.0h1V367.6h1V367.7h1V367.7h1V367.7h1V368.3h1V368.3h1V367.9h1V368.3h1V369.0h1V369.2h1V369.4h1V367.5h1V367.2h1V368.6h1V368.6h1V368.5h1V367.7h1V367.4h1V367.3h1V367.1h1V367.4h1V367.4h1V367.7h1V369.0h1V407.4h1V446.0h1V446.0h1V446.0h1V446.0h1V446.0h1V446.0h1V446.0h1V446.0h1V445.5h1V446.0h1V446.0h1V446.0h1V445.7h1V445.3h1V446.0h1V445.7h1V446.0h1V446.0h1V445.7h1V446.0h1V445.9h1V446.0h1V446.0h1V446.0h1V446.0h1V446.0h1V445.7h1V446.0h1V446.0h1V446.0h1V446.0h1V446.0h1V446.0h1V446.0h1V446.0h1V446.0h1V446.0h1V446.0h1V446.0h1V446.0h1V446.0h1V446.0h1V446.0h1V446.0h1V446.0h1V446.0h1V446.0h1V446.0h1V446.0h1V445.7h1V445.5h1V445.9h1V446.0h1V446.0h1V446.0h1V446.0h1V446.0h1V446.0h1V446.0h1V445.9h1V446.0h1V446.0h1V446.0h1V446.0h1V446.0h1V446.0h1V446.0h1V446.0h1V446.0h1V445.8h1V445.6h1V446.0h1V445.8h1V446.0h1V445.9h1V446.0h1V445.7h1V446.0h1V446.0h1V446.0h1V446.0h1V446.0h1V446.0h1V446.0h1V446.0h1V445.9h1V445.5h1V446.0h1V446.0h1V446.0h1V446.0h1V446.0h1V446.0h1V446.0h1V446.0h1V446.0h1V446.0h1V446.0h1V445.8h1V446.0h1V446.0h1V446.0h1V445.6h1V446.0h1V446.0h1V446.0h1V446.0h1V446.0h1V446.0h1V446.0h1V446.0h1V446.0h1V446.0h1V446.0h1V446.0h1V446.0h1V446.0h1V446.0h1V446.0h1V445.9h1V445.4h1V445.4h1V446.0h1V446.0h1V446.0h1V446.0h1V446.0h1V446.0h1V446.0h1V446.0h1V446.0h1V445.9h1V445.9h1V446.0h1V446.0h1V446.0h1V446.0h1V446.0h1V446.0h1V446.0h1V446.0h1V446.0h1V446.0h1V445.8h1V445.6h1V446.0h1V446.0h1V446.0h1V446.0h1V446.0h1V446.0h1V446.0h1V446.0h1V446.0h1V446.0h1V445.7h1V446.0h1V446.0h1V446.0h1V446.0h1V446.0h1V446.0h1V446.0h1V446.0h1V446.0h1V446.0h1V446.0h1V446Z" fill="#1c4837"/>
<path d="M31,446V391.9h1V391.9h1V388.6h1V386.8h1V390.4h1V389.4h1V389.0h1V391.5h1V387.3h1V382.2h1V386.7h1V387.3h1V388.9h1V386.8h1V381.7h1V383.2h1V384.1h1V384.0h1V385.8h1V386.1h1V389.6h1V385.5h1V386.5h1V384.5h1V385.8h1V382.7h1V388.2h1V387.9h1V383.8h1V388.8h1V391.4h1V393.1h1V391.7h1V384.2h1V382.1h1V381.2h1V388.8h1V384.1h1V382.6h1V388.3h1V388.9h1V383.0h1V380.6h1V380.7h1V383.6h1V388.1h1V386.2h1V387.5h1V386.4h1V390.6h1V391.6h1V388.4h1V389.9h1V387.8h1V384.6h1V385.4h1V391.3h1V385.5h1V388.1h1V391.5h1V384.3h1V388.0h1V390.1h1V386.9h1V386.6h1V385.0h1V383.0h1V388.7h1V391.7h1V391.7h1V391.9h1V383.1h1V381.4h1V388.3h1V387.8h1V383.2h1V384.4h1V388.7h1V384.9h1V383.2h1V381.6h1V386.4h1V383.8h1V382.2h1V381.4h1V382.9h1V382.1h1V383.2h1V383.6h1V376.8h1V374.6h1V379.0h1V384.8h1V378.6h1V372.8h1V380.9h1V374.6h1V378.8h1V381.4h1V381.7h1V380.4h1V370.8h1V376.0h1V378.6h1V371.6h1V369.3h1V375.2h1V367.8h1V371.6h1V373.5h1V367.5h1V369.0h1V366.2h1V365.8h1V365.2h1V364.6h1V364.6h1V364.6h1V364.6h1V364.6h1V364.6h1V364.6h1V364.6h1V364.6h1V364.6h1V364.6h1V364.6h1V364.6h1V364.6h1V364.6h1V364.6h1V364.6h1V364.6h1V364.6h1V364.6h1V364.6h1V364.6h1V364.6h1V364.6h1V364.6h1V364.6h1V364.6h1V364.6h1V364.6h1V364.6h1V364.6h1V364.6h1V364.6h1V364.6h1V364.6h1V364.6h1V364.6h1V364.6h1V364.6h1V364.6h1V364.6h1V364.6h1V364.6h1V364.6h1V364.6h1V364.6h1V364.6h1V364.6h1V364.6h1V364.6h1V364.6h1V364.6h1V364.6h1V364.6h1V364.6h1V364.6h1V364.6h1V364.6h1V364.6h1V364.6h1V364.6h1V364.6h1V364.6h1V364.6h1V364.6h1V364.6h1V364.6h1V364.6h1V364.6h1V364.6h1V364.6h1V364.6h1V364.6h1V364.6h1V364.6h1V364.6h1V364.6h1V364.6h1V364.6h1V364.6h1V364.6h1V364.6h1V364.6h1V364.6h1V364.6h1V364.6h1V364.6h1V364.6h1V364.6h1V364.6h1V364.6h1V364.6h1V364.6h1V364.6h1V364.6h1V364.6h1V364.6h1V364.6h1V364.6h1V364.6h1V364.6h1V364.6h1V364.6h1V364.6h1V364.6h1V364.6h1V364.6h1V364.6h1V364.6h1V364.6h1V364.6h1V364.6h1V364.6h1V364.6h1V364.6h1V364.6h1V364.6h1V364.6h1V364.6h1V364.6h1V364.6h1V364.6h1V364.6h1V364.6h1V364.6h1V364.6h1V364.6h1V364.6h1V364.6h1V364.6h1V364.6h1V364.6h1V364.6h1V364.6h1V364.6h1V364.6h1V364.6h1V364.6h1V364.6h1V364.6h1V364.6h1V364.6h1V364.6h1V364.6h1V364.6h1V364.6h1V364.6h1V364.6h1V364.6h1V364.6h1V364.6h1V364.6h1V364.6h1V364.6h1V364.6h1V364.6h1V364.6h1V364.6h1V364.6h1V364.6h1V364.6h1V364.6h1V364.6h1V364.6h1V364.6h1V364.6h1V364.6h1V446Z" fill="#2e7262"/>
<path d="M31,446V410.9h1V410.9h1V400.6h1V406.1h1V408.5h1V411.0h1V402.5h1V399.9h1V406.4h1V404.8h1V400.9h1V410.4h1V410.9h1V408.6h1V407.6h1V408.9h1V401.8h1V411.6h1V400.7h1V396.0h1V411.2h1V399.1h1V410.3h1V409.5h1V410.9h1V404.8h1V405.9h1V404.7h1V406.7h1V405.8h1V403.5h1V398.7h1V409.8h1V396.6h1V403.9h1V408.6h1V409.3h1V399.9h1V395.6h1V411.3h1V408.2h1V409.1h1V409.8h1V409.2h1V409.6h1V409.3h1V409.3h1V399.3h1V410.2h1V411.2h1V403.8h1V400.8h1V404.4h1V406.3h1V408.9h1V404.2h1V405.9h1V409.4h1V408.3h1V397.1h1V407.2h1V403.0h1V410.5h1V405.7h1V395.7h1V399.7h1V407.4h1V404.3h1V403.0h1V410.1h1V405.5h1V401.9h1V402.3h1V407.3h1V393.9h1V397.5h1V407.4h1V410.3h1V407.7h1V402.5h1V403.1h1V407.5h1V399.0h1V409.9h1V406.9h1V408.5h1V408.7h1V398.5h1V405.9h1V407.8h1V398.1h1V404.0h1V396.2h1V409.1h1V400.4h1V407.8h1V399.5h1V410.3h1V409.7h1V397.5h1V399.3h1V408.4h1V408.4h1V399.2h1V397.9h1V404.9h1V405.5h1V407.1h1V405.8h1V407.4h1V409.0h1V411.2h1V408.9h1V409.3h1V402.5h1V399.9h1V409.6h1V409.9h1V403.6h1V408.4h1V407.8h1V408.6h1V405.2h1V410.5h1V399.1h1V408.1h1V403.1h1V408.2h1V401.6h1V399.4h1V407.5h1V406.2h1V406.4h1V408.7h1V397.7h1V409.1h1V408.0h1V395.5h1V398.4h1V398.2h1V407.9h1V394.4h1V408.4h1V395.8h1V407.1h1V403.0h1V409.2h1V403.6h1V403.2h1V409.4h1V400.9h1V405.1h1V396.5h1V407.7h1V403.6h1V408.0h1V393.4h1V397.6h1V408.8h1V395.5h1V408.9h1V409.3h1V406.6h1V395.3h1V399.9h1V407.9h1V406.5h1V401.8h1V401.9h1V398.7h1V408.6h1V396.8h1V407.0h1V406.8h1V403.2h1V407.3h1V411.0h1V404.2h1V406.3h1V402.8h1V407.8h1V396.8h1V407.2h1V408.1h1V410.6h1V403.0h1V398.3h1V398.6h1V409.0h1V407.6h1V400.0h1V400.4h1V404.5h1V401.8h1V409.1h1V410.8h1V407.2h1V406.4h1V405.6h1V406.4h1V408.8h1V408.4h1V396.2h1V406.5h1V407.7h1V409.6h1V406.6h1V406.2h1V409.0h1V396.5h1V403.3h1V397.7h1V398.6h1V407.9h1V407.4h1V408.6h1V400.0h1V395.3h1V407.9h1V408.1h1V407.5h1V396.5h1V399.5h1V398.2h1V401.4h1V405.1h1V409.8h1V406.0h1V407.1h1V405.6h1V408.9h1V409.1h1V407.4h1V404.3h1V409.4h1V394.5h1V404.3h1V407.1h1V407.6h1V399.3h1V409.7h1V402.1h1V405.2h1V399.7h1V409.4h1V411.0h1V408.6h1V405.5h1V399.1h1V401.4h1V394.8h1V399.0h1V405.5h1V404.5h1V404.1h1V394.5h1V408.7h1V395.7h1V394.3h1V406.2h1V401.8h1V401.5h1V397.1h1V393.9h1V403.9h1V402.4h1V408.2h1V408.4h1V408.1h1V393.6h1V397.0h1V399.4h1V408.1h1V394.8h1V406.5h1V400.3h1V402.9h1V403.9h1V399.6h1V409.6h1V409.6h1V410.8h1V446Z" fill="#56a893"/>
<path d="M31,446V417.7h1V417.7h1V417.7h1V417.8h1V417.7h1V415.6h1V415.8h1V417.5h1V415.8h1V417.1h1V417.6h1V415.9h1V417.0h1V415.9h1V415.3h1V416.9h1V416.3h1V416.9h1V417.8h1V417.0h1V416.6h1V416.2h1V417.0h1V417.8h1V416.8h1V417.1h1V416.3h1V417.2h1V417.3h1V417.7h1V415.6h1V415.2h1V415.3h1V415.7h1V415.0h1V414.6h1V415.1h1V416.7h1V417.9h1V416.1h1V414.9h1V414.8h1V415.4h1V414.7h1V415.8h1V417.1h1V417.9h1V417.5h1V417.5h1V415.8h1V416.6h1V415.7h1V416.8h1V415.9h1V416.1h1V415.5h1V414.7h1V415.0h1V416.1h1V415.9h1V416.5h1V416.5h1V415.2h1V417.0h1V418.0h1V417.5h1V415.8h1V416.3h1V417.1h1V415.7h1V415.1h1V415.4h1V415.8h1V415.1h1V415.3h1V416.1h1V415.7h1V416.0h1V416.5h1V416.8h1V415.1h1V416.8h1V416.8h1V414.8h1V415.4h1V415.6h1V416.1h1V417.1h1V415.5h1V416.2h1V417.5h1V417.6h1V415.2h1V415.6h1V416.3h1V417.1h1V416.3h1V415.5h1V416.2h1V415.7h1V414.9h1V415.8h1V416.3h1V416.3h1V416.1h1V415.6h1V414.6h1V414.3h1V416.4h1V415.3h1V416.4h1V415.6h1V415.6h1V415.5h1V416.4h1V417.4h1V416.7h1V415.4h1V414.3h1V415.0h1V415.4h1V415.9h1V415.2h1V416.3h1V415.0h1V416.4h1V416.3h1V415.0h1V414.4h1V415.7h1V415.2h1V416.2h1V416.9h1V414.7h1V413.9h1V416.3h1V417.1h1V416.2h1V416.6h1V416.9h1V417.0h1V415.7h1V415.4h1V416.9h1V417.4h1V415.9h1V416.2h1V415.6h1V414.7h1V415.2h1V415.7h1V416.7h1V416.7h1V416.1h1V414.6h1V414.0h1V414.3h1V413.9h1V415.0h1V416.0h1V415.9h1V415.0h1V415.5h1V415.7h1V416.1h1V414.5h1V415.6h1V414.7h1V415.1h1V415.6h1V416.4h1V417.3h1V415.2h1V414.1h1V414.6h1V414.7h1V414.6h1V414.9h1V416.2h1V414.8h1V415.4h1V416.2h1V414.7h1V414.3h1V414.3h1V414.9h1V415.6h1V415.4h1V414.7h1V416.6h1V415.0h1V414.3h1V414.7h1V416.1h1V416.3h1V416.7h1V415.5h1V416.3h1V416.4h1V415.2h1V414.5h1V415.6h1V414.7h1V416.4h1V417.1h1V415.7h1V416.4h1V416.9h1V415.4h1V415.6h1V416.5h1V415.9h1V415.8h1V416.9h1V417.1h1V415.6h1V415.2h1V414.7h1V416.0h1V417.0h1V417.1h1V417.0h1V415.2h1V414.0h1V415.9h1V417.2h1V415.2h1V416.2h1V415.0h1V416.4h1V417.1h1V415.5h1V414.6h1V415.6h1V415.0h1V416.1h1V414.8h1V415.4h1V414.6h1V416.4h1V416.0h1V415.4h1V414.4h1V415.0h1V416.5h1V416.1h1V416.0h1V416.2h1V417.1h1V416.4h1V414.5h1V414.8h1V414.2h1V414.5h1V415.4h1V416.8h1V414.8h1V415.0h1V416.9h1V416.4h1V414.3h1V415.4h1V415.4h1V416.2h1V416.6h1V417.1h1V416.0h1V416.3h1V415.9h1V416.5h1V415.4h1V416.2h1V415.8h1V414.3h1V415.5h1V414.7h1V415.1h1V416.9h1V415.0h1V414.3h1V416.5h1V416.6h1V446Z" fill="#8ddac3"/>
<path d="M31,446V421.6h1V421.6h1V421.7h1V423.1h1V423.7h1V423.9h1V423.9h1V423.6h1V422.3h1V423.3h1V423.7h1V423.6h1V422.9h1V423.2h1V422.2h1V422.3h1V421.9h1V422.7h1V422.2h1V422.8h1V421.8h1V422.3h1V423.1h1V421.9h1V423.1h1V423.0h1V422.0h1V422.4h1V422.5h1V423.5h1V422.8h1V423.2h1V422.6h1V421.9h1V423.3h1V424.0h1V422.3h1V423.0h1V423.3h1V422.3h1V422.1h1V421.7h1V422.2h1V421.6h1V422.7h1V422.4h1V421.8h1V421.7h1V422.1h1V422.4h1V422.8h1V422.2h1V422.0h1V423.1h1V421.9h1V421.8h1V421.8h1V422.9h1V422.4h1V421.8h1V423.2h1V422.7h1V423.1h1V422.0h1V422.9h1V422.7h1V422.9h1V423.6h1V422.4h1V423.2h1V422.4h1V422.1h1V422.5h1V422.5h1V423.2h1V422.2h1V423.3h1V423.7h1V422.0h1V422.0h1V421.6h1V422.4h1V422.9h1V422.5h1V423.2h1V423.7h1V423.4h1V421.8h1V422.8h1V422.5h1V422.8h1V422.9h1V423.5h1V422.3h1V423.2h1V422.2h1V422.0h1V423.1h1V422.1h1V422.1h1V423.5h1V422.5h1V421.9h1V421.9h1V422.1h1V421.6h1V422.1h1V421.8h1V423.0h1V421.9h1V422.7h1V422.5h1V421.7h1V423.2h1V423.7h1V422.2h1V423.0h1V423.3h1V423.2h1V422.3h1V423.0h1V422.3h1V421.7h1V422.5h1V422.2h1V421.9h1V422.4h1V423.6h1V422.3h1V421.7h1V421.6h1V422.6h1V423.6h1V423.6h1V423.0h1V422.8h1V422.6h1V423.0h1V421.8h1V422.5h1V423.3h1V423.0h1V422.5h1V422.1h1V422.0h1V422.4h1V422.5h1V423.4h1V423.7h1V423.0h1V421.8h1V421.8h1V422.1h1V423.5h1V422.9h1V422.3h1V422.9h1V423.6h1V423.3h1V423.2h1V422.5h1V422.6h1V422.7h1V423.2h1V423.2h1V423.8h1V423.5h1V423.3h1V423.4h1V423.4h1V423.7h1V423.0h1V423.4h1V424.1h1V422.4h1V422.3h1V423.2h1V422.4h1V423.3h1V424.0h1V422.8h1V422.1h1V422.4h1V422.1h1V423.2h1V422.2h1V422.0h1V421.7h1V423.0h1V423.5h1V423.4h1V423.2h1V422.6h1V422.6h1V423.6h1V423.9h1V423.0h1V422.9h1V422.8h1V422.8h1V421.9h1V423.4h1V423.1h1V422.1h1V422.2h1V422.3h1V421.9h1V423.0h1V422.0h1V422.3h1V422.0h1V421.5h1V422.2h1V423.5h1V422.4h1V422.3h1V422.5h1V422.5h1V423.6h1V423.5h1V423.7h1V423.9h1V423.1h1V423.5h1V423.4h1V423.1h1V421.9h1V422.5h1V423.6h1V423.6h1V422.2h1V422.4h1V422.0h1V421.7h1V421.6h1V422.6h1V422.7h1V423.2h1V423.9h1V424.0h1V423.1h1V422.1h1V423.3h1V422.5h1V421.7h1V422.6h1V423.7h1V422.8h1V422.6h1V423.6h1V422.3h1V423.0h1V423.1h1V422.4h1V423.4h1V423.5h1V423.0h1V423.0h1V422.7h1V423.2h1V423.9h1V423.4h1V423.8h1V424.1h1V423.8h1V422.6h1V422.0h1V422.4h1V423.4h1V423.5h1V422.3h1V423.4h1V423.4h1V423.2h1V422.7h1V421.9h1V423.1h1V423.6h1V422.7h1V422.8h1V421.8h1V422.3h1V446Z" fill="#ccefe5"/>
<path d="M31,446V429.0h1V429.0h1V429.9h1V431.0h1V431.0h1V430.4h1V430.5h1V430.1h1V428.9h1V430.0h1V429.4h1V429.8h1V429.5h1V430.2h1V430.2h1V429.8h1V429.7h1V429.9h1V430.9h1V430.5h1V429.0h1V430.0h1V429.9h1V430.3h1V429.9h1V428.7h1V429.7h1V430.8h1V429.6h1V430.6h1V430.2h1V428.8h1V429.0h1V428.7h1V428.9h1V429.0h1V429.6h1V429.9h1V429.8h1V429.6h1V429.6h1V428.7h1V428.5h1V428.7h1V429.5h1V430.1h1V429.1h1V429.7h1V430.2h1V430.1h1V430.4h1V429.3h1V428.6h1V429.1h1V430.4h1V430.8h1V430.5h1V429.7h1V429.3h1V428.7h1V429.1h1V429.2h1V430.1h1V430.9h1V429.8h1V429.1h1V428.5h1V429.2h1V429.4h1V428.7h1V428.4h1V430.2h1V429.4h1V430.4h1V429.8h1V429.7h1V430.6h1V429.0h1V429.0h1V429.5h1V429.2h1V428.6h1V429.7h1V430.4h1V430.7h1V430.8h1V430.5h1V430.2h1V429.6h1V430.5h1V430.4h1V429.3h1V429.5h1V429.4h1V430.3h1V429.9h1V429.7h1V429.5h1V429.6h1V430.4h1V429.0h1V429.3h1V429.3h1V428.5h1V429.0h1V429.5h1V430.4h1V430.6h1V429.3h1V429.3h1V430.1h1V430.3h1V429.2h1V428.6h1V430.1h1V429.5h1V428.5h1V429.5h1V429.1h1V429.8h1V430.2h1V429.8h1V428.7h1V430.0h1V430.9h1V430.7h1V430.5h1V430.8h1V429.8h1V430.0h1V430.4h1V429.5h1V430.4h1V430.3h1V430.5h1V430.9h1V430.0h1V430.1h1V430.2h1V429.7h1V430.0h1V429.1h1V429.9h1V430.1h1V429.5h1V429.1h1V429.6h1V430.2h1V429.9h1V430.6h1V430.0h1V428.9h1V429.5h1V430.3h1V430.5h1V428.9h1V429.4h1V429.0h1V429.0h1V430.0h1V429.3h1V428.7h1V429.4h1V428.7h1V429.9h1V430.0h1V428.7h1V429.9h1V429.3h1V430.0h1V429.0h1V429.4h1V430.0h1V429.9h1V429.6h1V429.4h1V428.7h1V429.7h1V430.8h1V430.7h1V429.2h1V429.5h1V429.4h1V429.2h1V429.6h1V429.9h1V430.0h1V429.9h1V429.9h1V428.9h1V430.3h1V430.7h1V430.8h1V430.7h1V429.7h1V429.8h1V429.0h1V428.4h1V428.6h1V429.3h1V429.6h1V429.7h1V429.7h1V428.6h1V430.1h1V430.0h1V429.5h1V430.1h1V429.1h1V428.3h1V428.1h1V428.9h1V429.5h1V428.8h1V429.4h1V429.3h1V429.3h1V430.5h1V429.9h1V430.0h1V429.8h1V428.6h1V428.3h1V429.8h1V430.3h1V429.2h1V429.5h1V429.8h1V428.9h1V429.0h1V429.9h1V429.2h1V429.2h1V428.6h1V429.6h1V429.5h1V429.7h1V430.5h1V429.6h1V428.8h1V429.9h1V429.1h1V428.9h1V430.3h1V429.6h1V429.8h1V430.3h1V430.8h1V430.8h1V429.6h1V429.2h1V429.1h1V429.6h1V430.3h1V430.3h1V430.1h1V429.3h1V428.9h1V428.7h1V428.9h1V429.6h1V428.8h1V429.9h1V429.8h1V429.6h1V430.1h1V430.8h1V430.8h1V429.3h1V429.3h1V429.8h1V430.2h1V429.8h1V429.4h1V429.0h1V429.2h1V430.0h1V429.2h1V428.8h1V430.0h1V430.7h1V429.6h1V446Z" fill="#efe8c2"/>
<path d="M31,446V434.4h1V434.4h1V434.1h1V435.1h1V435.4h1V436.2h1V436.4h1V435.1h1V434.4h1V435.0h1V435.6h1V435.5h1V434.3h1V434.2h1V435.8h1V435.2h1V435.5h1V436.1h1V434.6h1V434.3h1V435.8h1V435.2h1V435.4h1V436.3h1V436.1h1V435.7h1V435.1h1V434.5h1V434.7h1V435.9h1V435.5h1V435.9h1V434.6h1V434.6h1V434.9h1V434.8h1V436.1h1V434.8h1V435.3h1V434.7h1V434.5h1V434.2h1V434.5h1V434.4h1V435.7h1V436.2h1V434.8h1V435.4h1V435.2h1V434.9h1V435.3h1V436.2h1V436.2h1V434.8h1V434.5h1V434.6h1V435.5h1V436.1h1V434.8h1V435.4h1V435.0h1V435.8h1V436.3h1V435.8h1V435.6h1V436.0h1V436.3h1V434.9h1V435.1h1V435.3h1V434.4h1V434.3h1V435.1h1V435.5h1V436.2h1V435.3h1V435.7h1V436.4h1V435.8h1V435.2h1V435.0h1V434.7h1V434.5h1V435.0h1V435.7h1V435.1h1V435.5h1V434.8h1V435.5h1V434.8h1V435.0h1V435.8h1V434.9h1V435.3h1V436.2h1V434.6h1V435.3h1V435.8h1V435.9h1V434.5h1V435.0h1V435.0h1V434.9h1V434.8h1V434.1h1V434.1h1V434.8h1V434.6h1V435.4h1V435.2h1V434.6h1V435.9h1V435.1h1V435.6h1V436.4h1V435.3h1V435.5h1V434.8h1V434.6h1V434.3h1V435.2h1V434.7h1V435.6h1V434.9h1V435.9h1V436.1h1V434.5h1V434.4h1V434.0h1V435.5h1V435.4h1V434.4h1V435.2h1V435.6h1V435.3h1V435.0h1V434.8h1V434.7h1V435.0h1V435.4h1V434.7h1V435.3h1V435.9h1V435.2h1V434.3h1V435.9h1V435.2h1V434.4h1V434.8h1V436.1h1V435.7h1V434.8h1V436.0h1V435.0h1V434.8h1V435.6h1V435.2h1V435.7h1V435.3h1V436.0h1V435.3h1V434.8h1V436.2h1V436.3h1V436.5h1V436.8h1V435.9h1V434.7h1V434.5h1V434.4h1V434.7h1V435.6h1V434.6h1V435.2h1V435.9h1V434.7h1V434.7h1V435.3h1V435.3h1V435.2h1V435.8h1V436.6h1V435.5h1V436.2h1V436.5h1V435.8h1V435.1h1V435.6h1V436.2h1V435.1h1V434.8h1V435.7h1V435.5h1V436.2h1V435.2h1V436.0h1V436.4h1V436.0h1V435.0h1V434.9h1V435.7h1V435.1h1V435.3h1V435.7h1V435.3h1V436.1h1V435.4h1V435.1h1V435.0h1V436.0h1V435.8h1V436.5h1V435.3h1V436.2h1V436.8h1V435.8h1V435.5h1V434.7h1V434.6h1V434.7h1V436.3h1V436.7h1V435.2h1V436.2h1V434.9h1V435.9h1V435.6h1V435.3h1V435.1h1V434.9h1V434.3h1V434.4h1V434.4h1V434.9h1V434.9h1V436.3h1V435.7h1V434.7h1V434.8h1V436.2h1V436.3h1V436.4h1V436.3h1V436.0h1V436.0h1V436.0h1V435.0h1V435.8h1V434.7h1V434.1h1V434.5h1V434.3h1V435.1h1V435.4h1V435.4h1V435.0h1V435.7h1V435.4h1V435.6h1V435.4h1V435.8h1V436.2h1V435.3h1V434.9h1V436.1h1V435.5h1V435.6h1V435.4h1V435.3h1V436.1h1V435.5h1V436.1h1V435.4h1V435.4h1V435.2h1V434.9h1V435.4h1V435.9h1V435.9h1V436.5h1V436.5h1V435.1h1V446Z" fill="#d7c280"/>
<path d="M31,446V442.2h1V442.2h1V441.3h1V441.5h1V440.9h1V440.5h1V441.2h1V441.3h1V441.2h1V440.3h1V441.1h1V441.8h1V440.7h1V440.6h1V441.2h1V441.3h1V441.3h1V441.5h1V441.5h1V442.1h1V441.9h1V441.3h1V442.0h1V441.9h1V440.6h1V440.1h1V440.2h1V440.3h1V440.7h1V441.2h1V440.4h1V440.7h1V440.4h1V440.2h1V441.2h1V441.9h1V441.9h1V442.2h1V441.8h1V440.4h1V440.3h1V440.9h1V441.8h1V440.9h1V440.4h1V441.4h1V440.6h1V440.4h1V440.3h1V440.0h1V439.9h1V440.6h1V441.9h1V441.1h1V440.0h1V440.0h1V441.8h1V440.7h1V441.4h1V441.4h1V440.8h1V441.7h1V442.1h1V442.3h1V442.1h1V441.6h1V440.6h1V440.3h1V441.7h1V440.7h1V440.9h1V440.7h1V440.9h1V442.1h1V441.0h1V441.1h1V441.8h1V441.8h1V441.1h1V442.0h1V442.2h1V441.5h1V440.7h1V441.3h1V440.6h1V440.3h1V441.5h1V442.2h1V441.5h1V441.7h1V441.1h1V441.8h1V441.6h1V441.8h1V440.6h1V441.8h1V441.8h1V441.2h1V440.1h1V440.6h1V441.9h1V442.4h1V442.2h1V441.4h1V440.8h1V441.9h1V441.7h1V440.8h1V441.6h1V442.4h1V440.8h1V441.8h1V441.7h1V440.8h1V440.6h1V440.2h1V441.8h1V441.8h1V442.0h1V441.5h1V441.3h1V440.6h1V441.4h1V441.3h1V441.6h1V441.7h1V442.2h1V441.2h1V441.2h1V441.5h1V440.9h1V440.3h1V440.2h1V441.0h1V442.2h1V441.0h1V440.4h1V440.2h1V441.6h1V440.5h1V440.4h1V441.9h1V440.8h1V440.3h1V440.2h1V441.2h1V440.4h1V440.7h1V441.2h1V440.2h1V440.0h1V441.4h1V441.2h1V440.6h1V441.8h1V442.0h1V441.7h1V442.4h1V442.0h1V440.5h1V440.0h1V441.4h1V441.7h1V442.0h1V442.6h1V441.9h1V442.2h1V442.6h1V441.0h1V440.4h1V440.3h1V441.3h1V441.1h1V441.7h1V440.9h1V440.6h1V441.8h1V442.7h1V442.8h1V441.6h1V442.1h1V442.5h1V442.8h1V442.2h1V442.4h1V442.5h1V442.8h1V442.5h1V440.9h1V441.0h1V441.5h1V441.2h1V442.2h1V442.2h1V441.6h1V441.3h1V442.3h1V441.1h1V442.0h1V442.4h1V442.2h1V441.5h1V442.4h1V442.7h1V440.9h1V442.0h1V441.9h1V442.1h1V441.8h1V441.4h1V442.0h1V441.9h1V441.4h1V441.6h1V441.7h1V441.0h1V442.0h1V440.9h1V441.3h1V442.3h1V441.5h1V441.1h1V442.2h1V441.7h1V442.1h1V441.6h1V441.8h1V442.6h1V441.6h1V441.9h1V442.2h1V440.8h1V442.1h1V442.4h1V441.9h1V441.9h1V441.6h1V442.4h1V442.4h1V441.3h1V440.5h1V440.5h1V442.1h1V442.5h1V442.2h1V440.7h1V441.6h1V441.9h1V441.8h1V441.8h1V442.3h1V442.6h1V441.2h1V440.7h1V440.9h1V441.7h1V442.2h1V441.4h1V441.9h1V441.6h1V442.2h1V440.8h1V440.6h1V442.2h1V442.2h1V442.0h1V442.4h1V441.1h1V441.1h1V441.9h1V442.3h1V442.4h1V441.7h1V441.9h1V442.5h1V442.1h1V440.6h1V440.5h1V441.4h1V441.6h1V441.9h1V442.2h1V446Z" fill="#bf853a"/></g><rect x="32" y="377.0" width="280" height="1" fill="#8fc23e"/><path d="M31.50,381.7H32.50V387.3H31.50ZM32.50,366.4H33.50V372.0H32.50ZM33.25,371.5H35.75V377.1H33.25ZM35.25,366.4H37.75V372.0H35.25ZM37.50,381.7H38.50V387.3H37.50ZM38.50,376.6H39.50V382.2H38.50ZM39.50,366.4H40.50V372.0H39.50ZM40.50,371.5H41.50V377.1H40.50ZM41.25,366.4H43.75V372.0H41.25ZM43.50,371.5H44.50V377.1H43.50ZM44.50,381.7H45.50V387.3H44.50ZM45.50,371.5H46.50V377.1H45.50ZM46.25,376.6H48.75V382.2H46.25ZM48.50,366.4H49.50V372.0H48.50ZM49.50,381.7H50.50V387.3H49.50ZM50.25,366.4H55.75V372.0H50.25ZM55.50,381.7H56.50V387.3H55.50ZM56.50,366.4H57.50V372.0H56.50ZM57.50,376.6H58.50V382.2H57.50ZM58.50,371.5H59.50V377.1H58.50ZM59.50,376.6H60.50V382.2H59.50ZM60.25,366.4H66.75V372.0H60.25ZM66.50,381.7H67.50V387.3H66.50ZM67.50,371.5H68.50V377.1H67.50ZM68.25,376.6H71.75V382.2H68.25ZM71.50,366.4H72.50V372.0H71.50ZM72.25,376.6H74.75V382.2H72.25ZM74.25,366.4H78.75V372.0H74.25ZM78.50,376.6H79.50V382.2H78.50ZM79.25,366.4H81.75V372.0H79.25ZM81.50,381.7H82.50V387.3H81.50ZM82.25,366.4H85.75V372.0H82.25ZM85.25,376.6H87.75V382.2H85.25ZM87.50,371.5H88.50V377.1H87.50ZM88.50,366.4H89.50V372.0H88.50ZM89.50,376.6H90.50V382.2H89.50ZM90.25,366.4H94.75V372.0H90.25ZM94.50,371.5H95.50V377.1H94.50ZM95.50,366.4H96.50V372.0H95.50ZM96.50,376.6H97.50V382.2H96.50ZM97.25,366.4H102.75V372.0H97.25ZM102.50,376.6H103.50V382.2H102.50ZM103.25,371.5H109.75V377.1H103.25ZM109.50,381.7H110.50V387.3H109.50ZM110.50,371.5H111.50V377.1H110.50ZM111.25,381.7H113.75V387.3H111.25ZM113.50,366.4H114.50V372.0H113.50ZM114.25,376.6H120.75V382.2H114.25ZM120.50,366.4H121.50V372.0H120.50ZM121.25,381.7H126.75V387.3H121.25ZM126.25,371.5H128.75V377.1H126.25ZM128.50,366.4H129.50V372.0H128.50ZM129.50,371.5H130.50V377.1H129.50ZM130.25,376.6H132.75V382.2H130.25ZM132.25,371.5H135.75V377.1H132.25ZM135.25,376.6H137.75V382.2H135.25ZM137.50,371.5H138.50V377.1H137.50ZM138.25,381.7H142.75V387.3H138.25ZM142.25,376.6H148.75V382.2H142.25ZM148.50,381.7H149.50V387.3H148.50ZM149.50,371.5H150.50V377.1H149.50ZM150.25,376.6H155.75V382.2H150.25ZM155.25,381.7H159.75V387.3H155.25ZM159.50,371.5H160.50V377.1H159.50ZM160.25,381.7H170.75V387.3H160.25ZM170.50,376.6H171.50V382.2H170.50ZM171.50,381.7H172.50V387.3H171.50ZM172.50,376.6H173.50V382.2H172.50ZM173.25,381.7H175.75V387.3H173.25ZM175.50,371.5H176.50V377.1H175.50ZM176.50,381.7H177.50V387.3H176.50ZM177.25,376.6H179.75V382.2H177.25ZM179.50,381.7H180.50V387.3H179.50ZM180.25,376.6H184.75V382.2H180.25ZM184.25,381.7H187.75V387.3H184.25ZM187.50,371.5H188.50V377.1H187.50ZM188.25,381.7H190.75V387.3H188.25ZM190.25,376.6H192.75V382.2H190.25ZM192.50,371.5H193.50V377.1H192.50ZM193.25,376.6H195.75V382.2H193.25ZM195.25,381.7H207.75V387.3H195.25ZM207.50,376.6H208.50V382.2H207.50ZM208.25,381.7H212.75V387.3H208.25ZM212.50,371.5H213.50V377.1H212.50ZM213.25,381.7H218.75V387.3H213.25ZM218.50,376.6H219.50V382.2H218.50ZM219.25,381.7H227.75V387.3H219.25ZM227.50,376.6H228.50V382.2H227.50ZM228.25,381.7H239.75V387.3H228.25ZM239.50,376.6H240.50V382.2H239.50ZM240.25,381.7H248.75V387.3H240.25ZM248.50,371.5H249.50V377.1H248.50ZM249.25,381.7H264.75V387.3H249.25ZM264.50,371.5H265.50V377.1H264.50ZM265.25,381.7H273.75V387.3H265.25ZM273.50,376.6H274.50V382.2H273.50ZM274.25,381.7H283.75V387.3H274.25ZM283.50,371.5H284.50V377.1H283.50ZM284.25,381.7H299.75V387.3H284.25ZM299.50,376.6H300.50V382.2H299.50ZM300.25,381.7H305.75V387.3H300.25ZM305.50,371.5H306.50V377.1H305.50ZM306.25,381.7H310.75V387.3H306.25ZM310.50,376.6H311.50V382.2H310.50ZM311.50,381.7H312.50V387.3H311.50ZM29.3,384.0H34.7V385.0H29.3ZM30.3,368.7H35.7V369.7H30.3ZM31.3,373.8H37.7V374.8H31.3ZM33.3,368.7H39.7V369.7H33.3ZM35.3,384.0H40.7V385.0H35.3ZM36.3,378.9H41.7V379.9H36.3ZM37.3,368.7H42.7V369.7H37.3ZM38.3,373.8H43.7V374.8H38.3ZM39.3,368.7H45.7V369.7H39.3ZM41.3,373.8H46.7V374.8H41.3ZM42.3,384.0H47.7V385.0H42.3ZM43.3,373.8H48.7V374.8H43.3ZM44.3,378.9H50.7V379.9H44.3ZM46.3,368.7H51.7V369.7H46.3ZM47.3,384.0H52.7V385.0H47.3ZM48.3,368.7H57.7V369.7H48.3ZM53.3,384.0H58.7V385.0H53.3ZM54.3,368.7H59.7V369.7H54.3ZM55.3,378.9H60.7V379.9H55.3ZM56.3,373.8H61.7V374.8H56.3ZM57.3,378.9H62.7V379.9H57.3ZM58.3,368.7H68.7V369.7H58.3ZM64.3,384.0H69.7V385.0H64.3ZM65.3,373.8H70.7V374.8H65.3ZM66.3,378.9H73.7V379.9H66.3ZM69.3,368.7H74.7V369.7H69.3ZM70.3,378.9H76.7V379.9H70.3ZM72.3,368.7H80.7V369.7H72.3ZM76.3,378.9H81.7V379.9H76.3ZM77.3,368.7H83.7V369.7H77.3ZM79.3,384.0H84.7V385.0H79.3ZM80.3,368.7H87.7V369.7H80.3ZM83.3,378.9H89.7V379.9H83.3ZM85.3,373.8H90.7V374.8H85.3ZM86.3,368.7H91.7V369.7H86.3ZM87.3,378.9H92.7V379.9H87.3ZM88.3,368.7H96.7V369.7H88.3ZM92.3,373.8H97.7V374.8H92.3ZM93.3,368.7H98.7V369.7H93.3ZM94.3,378.9H99.7V379.9H94.3ZM95.3,368.7H104.7V369.7H95.3ZM100.3,378.9H105.7V379.9H100.3ZM101.3,373.8H111.7V374.8H101.3ZM107.3,384.0H112.7V385.0H107.3ZM108.3,373.8H113.7V374.8H108.3ZM109.3,384.0H115.7V385.0H109.3ZM111.3,368.7H116.7V369.7H111.3ZM112.3,378.9H122.7V379.9H112.3ZM118.3,368.7H123.7V369.7H118.3ZM119.3,384.0H128.7V385.0H119.3ZM124.3,373.8H130.7V374.8H124.3ZM126.3,368.7H131.7V369.7H126.3ZM127.3,373.8H132.7V374.8H127.3ZM128.3,378.9H134.7V379.9H128.3ZM130.3,373.8H137.7V374.8H130.3ZM133.3,378.9H139.7V379.9H133.3ZM135.3,373.8H140.7V374.8H135.3ZM136.3,384.0H144.7V385.0H136.3ZM140.3,378.9H150.7V379.9H140.3ZM146.3,384.0H151.7V385.0H146.3ZM147.3,373.8H152.7V374.8H147.3ZM148.3,378.9H157.7V379.9H148.3ZM153.3,384.0H161.7V385.0H153.3ZM157.3,373.8H162.7V374.8H157.3ZM158.3,384.0H172.7V385.0H158.3ZM168.3,378.9H173.7V379.9H168.3ZM169.3,384.0H174.7V385.0H169.3ZM170.3,378.9H175.7V379.9H170.3ZM171.3,384.0H177.7V385.0H171.3ZM173.3,373.8H178.7V374.8H173.3ZM174.3,384.0H179.7V385.0H174.3ZM175.3,378.9H181.7V379.9H175.3ZM177.3,384.0H182.7V385.0H177.3ZM178.3,378.9H186.7V379.9H178.3ZM182.3,384.0H189.7V385.0H182.3ZM185.3,373.8H190.7V374.8H185.3ZM186.3,384.0H192.7V385.0H186.3ZM188.3,378.9H194.7V379.9H188.3ZM190.3,373.8H195.7V374.8H190.3ZM191.3,378.9H197.7V379.9H191.3ZM193.3,384.0H209.7V385.0H193.3ZM205.3,378.9H210.7V379.9H205.3ZM206.3,384.0H214.7V385.0H206.3ZM210.3,373.8H215.7V374.8H210.3ZM211.3,384.0H220.7V385.0H211.3ZM216.3,378.9H221.7V379.9H216.3ZM217.3,384.0H229.7V385.0H217.3ZM225.3,378.9H230.7V379.9H225.3ZM226.3,384.0H241.7V385.0H226.3ZM237.3,378.9H242.7V379.9H237.3ZM238.3,384.0H250.7V385.0H238.3ZM246.3,373.8H251.7V374.8H246.3ZM247.3,384.0H266.7V385.0H247.3ZM262.3,373.8H267.7V374.8H262.3ZM263.3,384.0H275.7V385.0H263.3ZM271.3,378.9H276.7V379.9H271.3ZM272.3,384.0H285.7V385.0H272.3ZM281.3,373.8H286.7V374.8H281.3ZM282.3,384.0H301.7V385.0H282.3ZM297.3,378.9H302.7V379.9H297.3ZM298.3,384.0H307.7V385.0H298.3ZM303.3,373.8H308.7V374.8H303.3ZM304.3,384.0H312.7V385.0H304.3ZM308.3,378.9H313.7V379.9H308.3ZM309.3,384.0H314.7V385.0H309.3Z" fill="#fa38fc"/><rect x="32" y="265" width="280" height="180" fill="none" stroke="#262626" stroke-width="0.6"/>
<line x1="32" y1="437.95" x2="34.8" y2="437.95" stroke="#262626" stroke-width="0.6"/>
<line x1="309.2" y1="437.95" x2="312" y2="437.95" stroke="#262626" stroke-width="0.6"/>
<text x="30.4" y="440.65" text-anchor="end" font-size="9" fill="#262626">-15</text>
<line x1="32" y1="417.80" x2="34.8" y2="417.80" stroke="#262626" stroke-width="0.6"/>
<line x1="309.2" y1="417.80" x2="312" y2="417.80" stroke="#262626" stroke-width="0.6"/>
<text x="30.4" y="420.50" text-anchor="end" font-size="9" fill="#262626">-10</text>
<line x1="32" y1="397.65" x2="34.8" y2="397.65" stroke="#262626" stroke-width="0.6"/>
<line x1="309.2" y1="397.65" x2="312" y2="397.65" stroke="#262626" stroke-width="0.6"/>
<text x="30.4" y="400.35" text-anchor="end" font-size="9" fill="#262626">-5</text>
<line x1="32" y1="377.50" x2="34.8" y2="377.50" stroke="#262626" stroke-width="0.6"/>
<line x1="309.2" y1="377.50" x2="312" y2="377.50" stroke="#262626" stroke-width="0.6"/>
<text x="30.4" y="380.20" text-anchor="end" font-size="9" fill="#262626">0</text>
<line x1="32" y1="357.35" x2="34.8" y2="357.35" stroke="#262626" stroke-width="0.6"/>
<line x1="309.2" y1="357.35" x2="312" y2="357.35" stroke="#262626" stroke-width="0.6"/>
<text x="30.4" y="360.05" text-anchor="end" font-size="9" fill="#262626">5</text>
<line x1="32" y1="337.20" x2="34.8" y2="337.20" stroke="#262626" stroke-width="0.6"/>
<line x1="309.2" y1="337.20" x2="312" y2="337.20" stroke="#262626" stroke-width="0.6"/>
<text x="30.4" y="339.90" text-anchor="end" font-size="9" fill="#262626">10</text>
<line x1="32" y1="317.05" x2="34.8" y2="317.05" stroke="#262626" stroke-width="0.6"/>
<line x1="309.2" y1="317.05" x2="312" y2="317.05" stroke="#262626" stroke-width="0.6"/>
<text x="30.4" y="319.75" text-anchor="end" font-size="9" fill="#262626">15</text>
<line x1="32" y1="296.90" x2="34.8" y2="296.90" stroke="#262626" stroke-width="0.6"/>
<line x1="309.2" y1="296.90" x2="312" y2="296.90" stroke="#262626" stroke-width="0.6"/>
<text x="30.4" y="299.60" text-anchor="end" font-size="9" fill="#262626">20</text>
<line x1="32" y1="276.75" x2="34.8" y2="276.75" stroke="#262626" stroke-width="0.6"/>
<line x1="309.2" y1="276.75" x2="312" y2="276.75" stroke="#262626" stroke-width="0.6"/>
<text x="30.4" y="279.45" text-anchor="end" font-size="9" fill="#262626">25</text>
<line x1="32.00" y1="445" x2="32.00" y2="442.2" stroke="#262626" stroke-width="0.6"/>
<line x1="32.00" y1="265" x2="32.00" y2="267.8" stroke="#262626" stroke-width="0.6"/>
<text x="32.00" y="454.2" text-anchor="middle" font-size="9" fill="#262626">12</text>
<line x1="72.00" y1="445" x2="72.00" y2="442.2" stroke="#262626" stroke-width="0.6"/>
<line x1="72.00" y1="265" x2="72.00" y2="267.8" stroke="#262626" stroke-width="0.6"/>
<text x="72.00" y="454.2" text-anchor="middle" font-size="9" fill="#262626">13</text>
<line x1="112.00" y1="445" x2="112.00" y2="442.2" stroke="#262626" stroke-width="0.6"/>
<line x1="112.00" y1="265" x2="112.00" y2="267.8" stroke="#262626" stroke-width="0.6"/>
<text x="112.00" y="454.2" text-anchor="middle" font-size="9" fill="#262626">14</text>
<line x1="152.00" y1="445" x2="152.00" y2="442.2" stroke="#262626" stroke-width="0.6"/>
<line x1="152.00" y1="265" x2="152.00" y2="267.8" stroke="#262626" stroke-width="0.6"/>
<text x="152.00" y="454.2" text-anchor="middle" font-size="9" fill="#262626">15</text>
<line x1="192.00" y1="445" x2="192.00" y2="442.2" stroke="#262626" stroke-width="0.6"/>
<line x1="192.00" y1="265" x2="192.00" y2="267.8" stroke="#262626" stroke-width="0.6"/>
<text x="192.00" y="454.2" text-anchor="middle" font-size="9" fill="#262626">16</text>
<line x1="232.00" y1="445" x2="232.00" y2="442.2" stroke="#262626" stroke-width="0.6"/>
<line x1="232.00" y1="265" x2="232.00" y2="267.8" stroke="#262626" stroke-width="0.6"/>
<text x="232.00" y="454.2" text-anchor="middle" font-size="9" fill="#262626">17</text>
<line x1="272.00" y1="445" x2="272.00" y2="442.2" stroke="#262626" stroke-width="0.6"/>
<line x1="272.00" y1="265" x2="272.00" y2="267.8" stroke="#262626" stroke-width="0.6"/>
<text x="272.00" y="454.2" text-anchor="middle" font-size="9" fill="#262626">18</text>
<line x1="312.00" y1="445" x2="312.00" y2="442.2" stroke="#262626" stroke-width="0.6"/>
<line x1="312.00" y1="265" x2="312.00" y2="267.8" stroke="#262626" stroke-width="0.6"/>
<text x="312.00" y="454.2" text-anchor="middle" font-size="9" fill="#262626">19</text>
<text x="172.0" y="465.2" text-anchor="middle" font-size="9" fill="#262626">ka</text>
<text x="15" y="355.0" text-anchor="middle" font-size="9" fill="#262626" transform="rotate(-90 15 355.0)">latitude</text>
<text x="172.0" y="260" text-anchor="middle" font-size="12.7" font-weight="bold" fill="#000">(c) annual precipitation (mm/day), CO2</text><g clip-path="url(#cp3)"><rect x="400" y="265" width="280" height="180" fill="#56340f"/>
<path d="M399,446V305.3h1V305.3h1V305.3h1V304.7h1V305.3h1V304.7h1V305.0h1V305.8h1V304.8h1V306.0h1V306.7h1V305.7h1V305.8h1V304.8h1V304.3h1V305.6h1V305.3h1V305.9h1V306.5h1V305.0h1V305.3h1V305.7h1V306.0h1V304.6h1V303.8h1V304.3h1V305.2h1V306.1h1V306.4h1V305.0h1V303.9h1V303.6h1V304.5h1V305.2h1V304.4h1V303.7h1V303.7h1V303.7h1V304.6h1V305.9h1V304.7h1V304.2h1V305.4h1V305.5h1V304.7h1V305.2h1V305.6h1V304.4h1V303.8h1V304.3h1V304.7h1V304.3h1V305.4h1V306.1h1V304.2h1V303.4h1V304.2h1V305.4h1V304.6h1V305.0h1V305.5h1V305.5h1V304.1h1V303.8h1V305.5h1V305.8h1V305.5h1V304.2h1V304.5h1V304.3h1V305.3h1V304.2h1V304.9h1V304.4h1V304.2h1V304.2h1V304.1h1V305.4h1V305.4h1V304.3h1V305.3h1V304.9h1V304.2h1V304.6h1V304.6h1V305.4h1V305.8h1V305.2h1V303.8h1V304.7h1V304.2h1V304.4h1V305.2h1V304.1h1V304.6h1V304.4h1V304.4h1V303.9h1V303.8h1V303.7h1V303.7h1V304.4h1V304.3h1V303.7h1V303.3h1V304.2h1V304.9h1V304.9h1V303.9h1V303.9h1V305.2h1V305.0h1V303.9h1V303.6h1V304.7h1V303.9h1V303.9h1V303.8h1V303.9h1V304.3h1V305.1h1V304.5h1V304.4h1V305.2h1V305.4h1V305.7h1V305.9h1V304.5h1V304.9h1V303.9h1V303.7h1V304.4h1V304.8h1V305.2h1V304.7h1V305.2h1V304.1h1V303.7h1V304.9h1V305.2h1V305.7h1V304.8h1V304.8h1V304.5h1V304.0h1V304.1h1V304.5h1V304.0h1V304.5h1V305.4h1V303.9h1V304.2h1V304.4h1V304.8h1V303.9h1V303.8h1V304.0h1V305.5h1V305.2h1V303.9h1V304.4h1V304.2h1V304.7h1V305.7h1V304.9h1V305.3h1V305.9h1V304.8h1V305.2h1V305.0h1V304.2h1V305.2h1V304.8h1V303.8h1V303.9h1V305.5h1V305.1h1V303.7h1V303.6h1V304.9h1V305.5h1V305.5h1V305.9h1V304.9h1V305.1h1V305.2h1V304.0h1V305.5h1V306.1h1V304.6h1V303.9h1V305.5h1V305.4h1V305.5h1V304.6h1V304.9h1V304.0h1V303.6h1V304.4h1V304.3h1V303.9h1V305.0h1V305.3h1V305.8h1V305.1h1V305.7h1V306.2h1V305.8h1V306.0h1V306.1h1V306.1h1V305.4h1V304.5h1V303.6h1V304.6h1V305.3h1V305.0h1V305.6h1V304.2h1V304.9h1V305.2h1V305.1h1V305.7h1V305.5h1V305.6h1V304.6h1V303.9h1V305.3h1V304.5h1V303.8h1V303.9h1V304.9h1V304.0h1V305.3h1V305.5h1V305.7h1V304.1h1V304.9h1V305.7h1V305.0h1V304.1h1V305.1h1V304.2h1V305.1h1V306.0h1V305.0h1V304.0h1V303.7h1V303.5h1V303.3h1V304.0h1V304.4h1V303.6h1V304.8h1V304.3h1V305.1h1V305.6h1V305.6h1V304.8h1V303.9h1V303.2h1V304.6h1V304.7h1V304.0h1V303.5h1V304.3h1V305.2h1V305.6h1V304.9h1V303.5h1V304.4h1V304.9h1V304.2h1V304.0h1V304.5h1V304.3h1V305.2h1V303.7h1V303.2h1V303.5h1V304.6h1V305.3h1V446Z" fill="#8d5520"/>
<path d="M399,446V314.5h1V314.5h1V313.4h1V313.2h1V315.0h1V315.2h1V314.7h1V314.6h1V315.5h1V315.6h1V314.1h1V313.5h1V315.5h1V314.7h1V313.8h1V314.4h1V316.0h1V314.8h1V315.0h1V316.0h1V315.4h1V314.9h1V315.8h1V314.7h1V314.6h1V315.1h1V315.0h1V314.6h1V315.6h1V313.7h1V314.1h1V315.4h1V316.2h1V314.3h1V314.9h1V315.6h1V315.6h1V314.9h1V313.9h1V314.4h1V314.7h1V313.9h1V314.0h1V314.2h1V314.9h1V313.3h1V313.2h1V314.8h1V313.5h1V314.7h1V315.3h1V314.5h1V314.3h1V313.8h1V314.1h1V313.7h1V315.2h1V315.5h1V315.2h1V314.6h1V314.6h1V313.9h1V313.9h1V314.0h1V314.0h1V313.4h1V313.8h1V313.1h1V313.8h1V313.6h1V313.9h1V312.6h1V312.1h1V313.2h1V313.0h1V313.1h1V313.0h1V312.9h1V313.0h1V314.8h1V314.4h1V314.0h1V313.3h1V313.9h1V312.8h1V312.1h1V312.9h1V312.8h1V314.5h1V314.8h1V312.7h1V314.2h1V313.9h1V312.5h1V312.9h1V313.6h1V313.0h1V313.5h1V313.6h1V314.1h1V314.7h1V314.4h1V314.7h1V313.3h1V314.7h1V313.9h1V314.2h1V314.0h1V314.5h1V313.6h1V314.5h1V314.6h1V313.5h1V313.9h1V315.0h1V315.3h1V314.4h1V315.3h1V313.3h1V314.3h1V313.2h1V313.5h1V313.6h1V313.9h1V314.6h1V315.3h1V314.8h1V314.3h1V315.3h1V315.4h1V315.1h1V315.7h1V313.4h1V312.7h1V312.7h1V314.1h1V313.5h1V314.4h1V313.5h1V314.1h1V315.0h1V313.2h1V312.4h1V313.5h1V314.2h1V314.6h1V315.7h1V314.3h1V314.1h1V314.0h1V313.5h1V314.7h1V315.9h1V313.6h1V314.1h1V313.6h1V314.9h1V313.9h1V313.6h1V315.4h1V315.0h1V313.4h1V313.2h1V315.0h1V314.5h1V314.9h1V313.3h1V313.5h1V315.2h1V313.3h1V314.7h1V313.3h1V312.8h1V314.5h1V315.0h1V315.2h1V314.2h1V313.4h1V313.1h1V313.0h1V314.8h1V313.5h1V313.1h1V313.7h1V313.5h1V313.8h1V313.5h1V312.6h1V314.0h1V315.2h1V315.5h1V313.3h1V312.4h1V313.6h1V313.8h1V313.5h1V312.8h1V314.2h1V315.6h1V315.8h1V313.8h1V315.1h1V314.5h1V312.8h1V313.6h1V313.1h1V313.9h1V315.2h1V314.5h1V315.3h1V315.5h1V313.9h1V313.5h1V312.6h1V312.7h1V313.8h1V313.0h1V313.3h1V314.7h1V313.3h1V313.3h1V312.8h1V314.1h1V314.0h1V315.2h1V314.7h1V314.8h1V314.3h1V313.5h1V315.1h1V314.4h1V312.6h1V314.1h1V314.9h1V313.9h1V315.1h1V313.9h1V313.0h1V314.8h1V314.2h1V312.8h1V313.4h1V314.7h1V313.0h1V313.8h1V315.0h1V314.4h1V313.3h1V314.9h1V313.6h1V314.5h1V315.2h1V314.5h1V314.0h1V315.2h1V314.6h1V315.3h1V313.4h1V312.2h1V313.4h1V313.3h1V315.0h1V313.4h1V312.9h1V313.8h1V315.1h1V314.6h1V314.3h1V314.0h1V313.3h1V313.0h1V313.1h1V313.2h1V313.2h1V313.5h1V313.5h1V314.5h1V313.7h1V312.6h1V313.1h1V314.6h1V315.4h1V446Z" fill="#bf853a"/>
<path d="M399,446V324.7h1V324.7h1V323.7h1V324.9h1V324.6h1V322.4h1V324.1h1V324.4h1V324.4h1V324.7h1V322.8h1V322.5h1V324.5h1V324.6h1V324.5h1V324.3h1V325.1h1V325.2h1V325.7h1V324.9h1V323.6h1V323.5h1V324.8h1V324.1h1V323.8h1V324.2h1V324.8h1V325.5h1V324.8h1V323.2h1V321.7h1V324.6h1V325.7h1V322.9h1V324.6h1V323.1h1V323.0h1V322.9h1V323.8h1V323.6h1V323.6h1V323.8h1V323.0h1V324.6h1V324.3h1V322.2h1V322.3h1V322.0h1V322.1h1V322.6h1V322.9h1V322.0h1V321.8h1V322.2h1V323.9h1V324.3h1V323.0h1V322.2h1V322.3h1V321.6h1V322.5h1V323.6h1V325.1h1V324.4h1V323.0h1V323.4h1V325.2h1V325.8h1V323.9h1V321.8h1V322.1h1V321.8h1V321.5h1V322.9h1V323.1h1V322.1h1V321.8h1V324.1h1V322.2h1V321.6h1V323.8h1V323.1h1V323.7h1V322.1h1V322.0h1V322.4h1V323.0h1V323.3h1V324.4h1V325.3h1V324.6h1V324.6h1V324.2h1V324.4h1V322.9h1V324.2h1V322.8h1V322.6h1V325.0h1V323.3h1V323.0h1V322.2h1V323.7h1V323.1h1V322.1h1V324.7h1V325.2h1V323.4h1V324.5h1V323.4h1V322.4h1V324.7h1V325.5h1V324.1h1V322.8h1V322.3h1V322.6h1V323.6h1V322.2h1V323.1h1V325.0h1V325.5h1V323.0h1V321.9h1V324.3h1V324.9h1V324.5h1V325.5h1V323.1h1V322.3h1V322.5h1V322.8h1V324.6h1V323.2h1V323.4h1V324.0h1V325.7h1V324.6h1V322.6h1V325.0h1V326.1h1V326.0h1V324.8h1V322.8h1V325.0h1V324.7h1V322.8h1V322.9h1V324.3h1V324.9h1V324.1h1V323.5h1V324.0h1V323.6h1V324.6h1V324.4h1V323.4h1V324.3h1V324.2h1V325.0h1V325.3h1V322.9h1V324.9h1V324.3h1V324.6h1V325.7h1V326.2h1V324.8h1V323.7h1V322.3h1V321.7h1V322.6h1V325.0h1V323.4h1V322.8h1V324.8h1V322.8h1V323.6h1V324.4h1V325.4h1V324.4h1V324.1h1V325.0h1V323.2h1V322.7h1V325.2h1V324.9h1V322.8h1V325.2h1V326.4h1V324.0h1V323.7h1V324.0h1V324.4h1V322.4h1V322.4h1V324.5h1V325.2h1V324.0h1V324.1h1V324.4h1V322.6h1V324.4h1V324.2h1V323.5h1V323.9h1V324.6h1V323.1h1V323.8h1V324.8h1V324.0h1V325.1h1V324.3h1V323.5h1V322.9h1V323.2h1V323.0h1V323.5h1V323.3h1V322.0h1V324.9h1V323.4h1V324.0h1V323.8h1V325.2h1V326.3h1V325.9h1V323.8h1V323.1h1V323.1h1V324.6h1V324.9h1V323.9h1V324.1h1V323.7h1V324.2h1V323.6h1V322.9h1V322.2h1V323.9h1V324.4h1V325.3h1V324.7h1V322.7h1V324.3h1V325.1h1V324.7h1V323.8h1V324.8h1V324.0h1V322.2h1V323.0h1V325.1h1V324.9h1V324.9h1V322.5h1V322.3h1V323.9h1V322.6h1V323.2h1V325.2h1V323.7h1V324.9h1V325.8h1V325.8h1V322.6h1V323.5h1V324.3h1V323.8h1V324.1h1V324.8h1V323.2h1V322.0h1V323.9h1V323.1h1V322.4h1V323.6h1V323.5h1V325.1h1V323.8h1V323.2h1V324.6h1V446Z" fill="#d7c280"/>
<path d="M399,446V338.0h1V338.0h1V337.2h1V336.9h1V337.8h1V337.4h1V338.7h1V338.6h1V337.9h1V337.1h1V338.7h1V336.9h1V337.6h1V338.3h1V337.9h1V336.7h1V337.2h1V338.4h1V337.7h1V337.0h1V337.3h1V337.5h1V338.0h1V338.7h1V338.0h1V338.7h1V339.4h1V338.4h1V338.5h1V337.7h1V338.4h1V338.4h1V336.8h1V338.3h1V336.7h1V336.0h1V336.6h1V336.1h1V338.1h1V338.0h1V337.7h1V336.7h1V336.8h1V337.0h1V337.0h1V336.4h1V337.9h1V338.0h1V338.8h1V338.6h1V338.2h1V339.0h1V338.7h1V336.8h1V336.5h1V337.1h1V336.1h1V338.2h1V338.3h1V337.5h1V337.6h1V338.6h1V338.3h1V339.0h1V339.3h1V337.4h1V337.6h1V337.0h1V337.7h1V336.4h1V337.3h1V338.5h1V337.0h1V337.6h1V337.1h1V337.6h1V337.5h1V338.0h1V337.1h1V338.2h1V337.7h1V338.3h1V338.3h1V338.5h1V338.6h1V337.4h1V337.5h1V336.4h1V336.5h1V337.6h1V337.3h1V338.1h1V338.5h1V336.7h1V338.2h1V339.5h1V338.0h1V336.7h1V338.7h1V339.7h1V337.8h1V336.4h1V338.3h1V337.1h1V338.6h1V338.4h1V338.2h1V337.0h1V338.3h1V339.2h1V338.5h1V339.3h1V338.2h1V338.1h1V337.4h1V338.1h1V337.7h1V339.2h1V338.5h1V337.4h1V339.2h1V339.7h1V338.9h1V337.8h1V338.5h1V338.8h1V338.3h1V338.6h1V339.8h1V339.7h1V338.8h1V338.4h1V337.6h1V338.8h1V339.7h1V337.5h1V336.7h1V339.4h1V339.7h1V337.7h1V338.9h1V339.6h1V340.2h1V337.9h1V338.6h1V338.0h1V338.5h1V337.8h1V338.6h1V338.0h1V339.5h1V340.2h1V339.7h1V338.0h1V339.3h1V337.9h1V338.6h1V337.8h1V339.5h1V338.3h1V337.9h1V339.2h1V340.1h1V340.6h1V338.9h1V338.8h1V339.2h1V337.9h1V338.2h1V339.0h1V338.0h1V339.1h1V339.0h1V337.7h1V339.6h1V340.2h1V340.5h1V340.8h1V339.5h1V339.1h1V337.7h1V338.1h1V339.7h1V339.4h1V338.1h1V339.1h1V338.4h1V339.1h1V340.3h1V340.6h1V339.5h1V339.6h1V339.3h1V339.1h1V339.8h1V339.8h1V338.2h1V337.7h1V337.4h1V339.0h1V338.8h1V339.0h1V338.6h1V338.8h1V340.0h1V338.1h1V338.8h1V340.4h1V340.3h1V338.3h1V337.9h1V339.0h1V338.1h1V339.6h1V340.2h1V338.1h1V338.2h1V339.5h1V339.4h1V338.3h1V339.7h1V338.8h1V337.5h1V338.3h1V339.4h1V340.2h1V338.4h1V337.8h1V339.6h1V340.0h1V338.4h1V338.6h1V337.9h1V339.7h1V338.9h1V338.5h1V338.2h1V338.8h1V339.6h1V338.4h1V338.7h1V340.3h1V339.7h1V339.2h1V339.5h1V340.4h1V338.7h1V338.9h1V340.3h1V338.9h1V339.5h1V339.6h1V340.1h1V339.9h1V338.2h1V338.9h1V339.9h1V340.1h1V339.2h1V339.7h1V338.9h1V337.5h1V338.5h1V338.3h1V338.1h1V337.2h1V338.1h1V337.3h1V337.5h1V338.4h1V339.0h1V338.5h1V337.7h1V339.2h1V340.2h1V338.1h1V339.2h1V339.1h1V339.6h1V339.3h1V338.5h1V337.8h1V446Z" fill="#efe8c2"/>
<path d="M399,446V346.3h1V346.3h1V346.1h1V345.2h1V345.2h1V345.9h1V346.3h1V345.3h1V345.1h1V346.3h1V346.5h1V345.1h1V344.6h1V346.2h1V345.5h1V346.4h1V346.1h1V345.3h1V345.6h1V346.5h1V346.9h1V346.3h1V346.5h1V346.1h1V345.4h1V344.6h1V344.8h1V344.7h1V345.6h1V345.6h1V344.9h1V345.7h1V346.0h1V345.7h1V346.3h1V345.7h1V345.2h1V344.6h1V345.5h1V345.8h1V345.2h1V345.3h1V346.1h1V345.3h1V345.1h1V346.4h1V345.5h1V345.1h1V344.4h1V345.1h1V346.3h1V344.9h1V345.9h1V346.8h1V345.4h1V346.3h1V345.4h1V344.5h1V345.0h1V346.4h1V345.0h1V345.2h1V344.8h1V344.6h1V344.9h1V344.3h1V346.0h1V344.8h1V345.7h1V346.3h1V346.2h1V346.4h1V344.7h1V344.9h1V346.1h1V346.5h1V346.2h1V345.7h1V345.0h1V345.6h1V345.8h1V344.5h1V344.0h1V345.4h1V344.6h1V344.0h1V345.3h1V346.4h1V345.2h1V344.6h1V345.6h1V346.7h1V346.9h1V345.3h1V346.1h1V345.3h1V346.1h1V345.5h1V344.8h1V344.9h1V345.9h1V346.9h1V347.0h1V345.9h1V346.3h1V345.7h1V345.3h1V345.0h1V346.4h1V347.0h1V346.7h1V346.5h1V345.2h1V345.8h1V346.7h1V346.8h1V347.0h1V347.0h1V347.2h1V345.7h1V346.1h1V346.5h1V345.2h1V346.3h1V346.9h1V346.6h1V345.2h1V344.9h1V346.3h1V346.3h1V345.3h1V346.4h1V346.4h1V347.1h1V346.2h1V346.7h1V347.2h1V346.8h1V346.6h1V346.0h1V345.2h1V346.2h1V346.9h1V345.6h1V345.5h1V347.1h1V347.3h1V347.3h1V346.6h1V346.9h1V346.0h1V346.1h1V347.0h1V346.2h1V347.4h1V347.6h1V347.9h1V346.8h1V346.3h1V346.2h1V346.3h1V346.7h1V346.0h1V346.1h1V346.1h1V345.7h1V346.3h1V346.4h1V347.6h1V347.3h1V347.1h1V347.1h1V347.1h1V347.2h1V346.2h1V346.8h1V348.0h1V347.6h1V346.9h1V347.3h1V348.3h1V347.1h1V348.0h1V347.4h1V348.3h1V348.9h1V347.4h1V347.6h1V348.4h1V347.9h1V347.5h1V348.3h1V347.4h1V346.7h1V348.2h1V347.9h1V347.6h1V346.6h1V348.0h1V347.2h1V346.7h1V348.2h1V347.0h1V348.1h1V347.1h1V347.0h1V347.3h1V348.0h1V348.6h1V347.2h1V346.5h1V347.8h1V347.2h1V347.4h1V347.1h1V346.2h1V346.5h1V346.8h1V346.8h1V346.9h1V347.8h1V347.3h1V346.5h1V348.0h1V348.7h1V348.4h1V348.6h1V348.6h1V347.5h1V346.5h1V346.2h1V346.7h1V346.7h1V347.2h1V346.9h1V346.5h1V346.5h1V348.0h1V347.1h1V347.0h1V347.1h1V346.7h1V346.2h1V347.3h1V346.9h1V346.5h1V346.4h1V346.3h1V346.4h1V347.2h1V346.3h1V347.5h1V347.3h1V346.2h1V347.4h1V347.4h1V346.7h1V346.8h1V345.9h1V347.2h1V346.6h1V347.4h1V348.1h1V346.7h1V347.7h1V346.4h1V347.0h1V347.5h1V346.1h1V346.7h1V347.1h1V346.4h1V346.4h1V347.2h1V346.6h1V347.3h1V347.3h1V347.6h1V346.9h1V346.6h1V347.5h1V347.0h1V446Z" fill="#ccefe5"/>
<path d="M399,446V351.4h1V351.4h1V352.5h1V351.2h1V352.0h1V351.2h1V350.9h1V352.1h1V352.6h1V351.3h1V351.6h1V351.3h1V350.5h1V351.0h1V351.3h1V352.0h1V352.2h1V351.3h1V352.2h1V351.2h1V350.2h1V351.0h1V352.2h1V351.3h1V351.1h1V350.4h1V349.9h1V351.2h1V352.1h1V351.8h1V352.0h1V352.1h1V350.4h1V351.5h1V351.5h1V350.0h1V349.8h1V349.8h1V349.7h1V349.8h1V349.8h1V350.8h1V351.4h1V352.1h1V352.2h1V350.8h1V351.2h1V351.1h1V349.9h1V350.2h1V349.8h1V351.1h1V350.3h1V349.6h1V350.2h1V349.7h1V350.8h1V351.6h1V351.3h1V350.0h1V349.7h1V351.5h1V351.8h1V351.6h1V350.8h1V350.0h1V351.6h1V350.3h1V349.7h1V349.6h1V350.6h1V350.8h1V350.4h1V350.4h1V350.2h1V350.6h1V351.2h1V351.0h1V350.2h1V350.6h1V351.6h1V350.5h1V350.7h1V350.6h1V350.8h1V351.3h1V351.0h1V350.9h1V351.1h1V350.1h1V349.9h1V349.8h1V350.2h1V351.1h1V352.0h1V352.0h1V351.4h1V351.4h1V351.9h1V351.9h1V350.8h1V350.1h1V350.0h1V352.0h1V352.1h1V351.8h1V351.9h1V351.1h1V350.7h1V352.2h1V351.1h1V350.5h1V351.5h1V352.5h1V352.3h1V351.0h1V350.6h1V351.6h1V352.5h1V351.0h1V352.2h1V351.6h1V352.1h1V351.7h1V351.0h1V351.5h1V351.1h1V350.5h1V352.4h1V352.5h1V352.9h1V353.2h1V352.7h1V353.1h1V352.1h1V350.9h1V351.7h1V351.1h1V351.0h1V351.3h1V352.4h1V352.6h1V351.5h1V352.3h1V352.8h1V352.3h1V352.9h1V351.9h1V352.4h1V352.0h1V352.7h1V352.4h1V351.9h1V353.4h1V352.8h1V351.7h1V351.4h1V352.5h1V352.3h1V352.8h1V352.4h1V352.0h1V353.6h1V353.0h1V352.1h1V352.7h1V353.4h1V353.5h1V353.7h1V353.6h1V354.0h1V354.1h1V353.7h1V353.4h1V354.0h1V354.4h1V354.5h1V352.9h1V352.1h1V352.2h1V352.6h1V353.4h1V353.0h1V352.6h1V353.0h1V352.6h1V353.1h1V352.6h1V353.0h1V354.5h1V353.3h1V354.3h1V354.6h1V352.9h1V352.3h1V352.7h1V353.4h1V354.1h1V353.2h1V353.4h1V354.4h1V354.0h1V354.4h1V354.9h1V354.5h1V353.7h1V353.2h1V354.2h1V353.2h1V352.9h1V352.8h1V354.4h1V355.1h1V353.8h1V353.7h1V354.2h1V354.3h1V354.8h1V354.2h1V354.1h1V353.1h1V353.5h1V353.5h1V352.9h1V352.7h1V353.5h1V354.8h1V353.7h1V352.9h1V354.5h1V354.3h1V352.9h1V354.3h1V353.5h1V352.8h1V353.0h1V353.4h1V354.3h1V354.1h1V354.3h1V353.4h1V354.5h1V354.9h1V353.3h1V354.0h1V353.8h1V352.7h1V354.2h1V353.9h1V353.9h1V354.8h1V353.2h1V352.4h1V352.8h1V354.5h1V353.3h1V353.6h1V353.0h1V353.3h1V353.2h1V353.3h1V354.1h1V353.2h1V354.4h1V355.1h1V353.6h1V354.0h1V353.3h1V352.6h1V352.4h1V353.8h1V354.9h1V354.4h1V353.4h1V353.1h1V353.6h1V353.0h1V353.6h1V352.7h1V353.8h1V354.0h1V353.7h1V446Z" fill="#8ddac3"/>
<path d="M399,446V357.9h1V357.9h1V357.3h1V357.4h1V356.5h1V356.0h1V356.9h1V357.8h1V357.4h1V357.7h1V358.2h1V358.0h1V357.9h1V356.4h1V356.3h1V357.7h1V358.2h1V356.5h1V355.5h1V357.4h1V357.0h1V357.7h1V358.0h1V356.3h1V356.2h1V355.9h1V356.8h1V356.1h1V356.2h1V357.1h1V356.1h1V356.6h1V356.1h1V355.4h1V357.0h1V358.0h1V358.1h1V357.3h1V357.4h1V357.1h1V356.1h1V355.4h1V355.9h1V355.8h1V356.5h1V356.0h1V356.4h1V356.9h1V357.4h1V357.1h1V357.3h1V357.1h1V357.5h1V356.0h1V355.6h1V356.1h1V356.7h1V356.0h1V355.7h1V356.0h1V355.5h1V356.1h1V357.0h1V355.8h1V356.7h1V357.5h1V356.3h1V356.0h1V356.9h1V356.2h1V356.3h1V356.2h1V356.0h1V355.4h1V355.5h1V355.7h1V357.4h1V357.4h1V355.9h1V357.2h1V356.8h1V356.0h1V357.1h1V357.8h1V356.6h1V355.7h1V355.8h1V356.8h1V356.0h1V357.1h1V356.3h1V356.9h1V357.6h1V357.4h1V356.0h1V356.5h1V356.0h1V357.5h1V357.5h1V356.4h1V356.7h1V356.5h1V357.8h1V358.2h1V356.5h1V357.8h1V358.4h1V357.8h1V356.9h1V356.1h1V357.6h1V358.4h1V356.9h1V355.9h1V356.2h1V357.2h1V358.0h1V356.6h1V357.6h1V357.6h1V358.2h1V357.2h1V356.9h1V357.4h1V357.5h1V357.2h1V358.2h1V357.6h1V356.9h1V356.5h1V357.0h1V358.0h1V356.9h1V356.7h1V358.2h1V357.8h1V358.1h1V357.2h1V356.5h1V357.6h1V358.0h1V357.3h1V358.3h1V357.7h1V358.0h1V357.6h1V357.9h1V357.2h1V357.5h1V357.3h1V357.7h1V357.9h1V358.1h1V359.3h1V358.9h1V358.9h1V359.3h1V357.7h1V358.5h1V358.2h1V359.1h1V358.6h1V358.4h1V358.8h1V358.2h1V359.0h1V359.4h1V359.7h1V359.9h1V359.7h1V359.2h1V359.3h1V358.8h1V359.7h1V358.6h1V359.8h1V359.1h1V358.9h1V359.9h1V360.3h1V359.4h1V359.7h1V359.5h1V359.3h1V359.3h1V360.2h1V360.2h1V359.7h1V359.6h1V360.4h1V359.0h1V360.0h1V359.8h1V359.3h1V360.1h1V359.2h1V358.9h1V359.4h1V358.9h1V358.5h1V358.2h1V359.4h1V359.2h1V359.3h1V359.1h1V358.5h1V359.9h1V360.7h1V359.1h1V358.8h1V360.2h1V360.6h1V358.9h1V358.2h1V358.4h1V358.4h1V359.7h1V359.4h1V358.5h1V358.9h1V359.2h1V359.3h1V359.8h1V360.4h1V360.8h1V359.1h1V359.0h1V359.2h1V358.7h1V360.1h1V359.9h1V359.7h1V359.8h1V359.6h1V359.2h1V359.5h1V359.8h1V360.4h1V359.6h1V358.4h1V359.1h1V359.4h1V359.3h1V359.6h1V359.4h1V358.5h1V359.8h1V359.7h1V358.7h1V359.8h1V359.8h1V358.6h1V359.9h1V359.9h1V360.5h1V359.1h1V358.8h1V360.3h1V359.8h1V359.8h1V360.5h1V360.7h1V359.5h1V358.8h1V358.3h1V359.9h1V359.7h1V358.9h1V359.4h1V360.2h1V359.4h1V359.0h1V360.1h1V358.8h1V358.2h1V358.4h1V359.9h1V359.9h1V358.6h1V359.6h1V358.9h1V358.6h1V446Z" fill="#56a893"/>
<path d="M399,446V362.1h1V362.1h1V362.3h1V362.8h1V362.1h1V361.9h1V362.4h1V361.9h1V361.3h1V362.0h1V362.8h1V362.7h1V361.3h1V361.2h1V361.3h1V361.9h1V363.0h1V363.1h1V361.8h1V361.7h1V360.9h1V361.8h1V361.0h1V360.5h1V361.1h1V361.8h1V362.6h1V361.3h1V361.0h1V362.3h1V362.7h1V362.4h1V361.8h1V361.6h1V361.7h1V361.7h1V360.7h1V362.2h1V362.7h1V362.3h1V361.3h1V361.0h1V362.0h1V361.6h1V361.4h1V361.3h1V362.4h1V362.8h1V361.3h1V360.3h1V361.9h1V360.9h1V360.5h1V360.4h1V360.7h1V361.0h1V361.8h1V361.7h1V361.0h1V361.8h1V362.1h1V361.7h1V361.1h1V360.7h1V360.4h1V361.3h1V361.0h1V360.6h1V361.3h1V360.6h1V361.5h1V362.6h1V361.6h1V362.5h1V362.7h1V362.9h1V362.4h1V362.0h1V361.9h1V361.6h1V361.6h1V361.1h1V361.7h1V361.2h1V362.4h1V361.7h1V362.5h1V361.1h1V360.8h1V361.2h1V360.8h1V362.2h1V361.4h1V361.0h1V362.6h1V361.6h1V360.8h1V361.0h1V361.6h1V362.4h1V363.2h1V361.6h1V361.9h1V362.8h1V362.9h1V362.8h1V362.4h1V362.4h1V362.4h1V362.5h1V362.0h1V362.3h1V362.9h1V362.2h1V362.2h1V362.4h1V362.5h1V362.1h1V362.7h1V363.7h1V363.3h1V363.5h1V363.8h1V362.8h1V363.7h1V364.3h1V364.3h1V362.4h1V363.1h1V362.6h1V363.5h1V362.5h1V362.1h1V362.5h1V362.4h1V362.1h1V362.1h1V363.4h1V363.2h1V362.6h1V362.0h1V363.4h1V363.1h1V363.6h1V364.1h1V363.9h1V363.7h1V362.6h1V363.1h1V364.0h1V364.5h1V365.0h1V364.0h1V364.6h1V364.7h1V365.0h1V364.8h1V363.9h1V363.3h1V364.3h1V363.9h1V363.4h1V364.0h1V363.8h1V364.0h1V365.0h1V364.7h1V365.0h1V364.6h1V364.4h1V364.5h1V365.0h1V364.6h1V364.0h1V365.1h1V364.1h1V364.1h1V365.1h1V364.4h1V365.0h1V364.0h1V363.6h1V364.7h1V364.2h1V364.4h1V364.8h1V364.1h1V363.6h1V363.4h1V363.3h1V365.0h1V365.7h1V365.8h1V364.9h1V364.4h1V364.4h1V365.3h1V365.7h1V365.7h1V365.6h1V364.3h1V365.0h1V365.1h1V365.0h1V365.4h1V364.1h1V363.8h1V365.3h1V365.5h1V365.6h1V365.8h1V364.0h1V363.5h1V365.1h1V365.1h1V364.9h1V364.9h1V365.2h1V364.9h1V363.8h1V364.9h1V364.4h1V363.4h1V364.5h1V364.1h1V364.0h1V364.1h1V364.5h1V364.4h1V363.7h1V364.1h1V364.6h1V364.1h1V363.6h1V364.9h1V365.1h1V363.6h1V365.0h1V364.2h1V364.5h1V363.8h1V364.0h1V363.5h1V363.5h1V365.0h1V363.9h1V364.5h1V365.5h1V365.6h1V365.1h1V364.9h1V363.8h1V364.7h1V364.5h1V364.0h1V364.3h1V364.4h1V363.3h1V363.6h1V365.0h1V365.5h1V364.0h1V363.9h1V364.9h1V363.9h1V363.0h1V362.9h1V362.8h1V363.5h1V363.7h1V363.3h1V364.6h1V365.0h1V364.9h1V363.5h1V364.7h1V364.3h1V363.3h1V364.2h1V364.2h1V364.8h1V364.1h1V446Z" fill="#2e7262"/>
<path d="M399,446V366.8h1V366.8h1V367.5h1V368.1h1V367.5h1V368.0h1V368.2h1V366.4h1V366.5h1V366.3h1V367.4h1V368.3h1V366.7h1V366.5h1V366.7h1V366.7h1V366.6h1V367.3h1V368.3h1V367.3h1V367.6h1V366.5h1V366.7h1V366.7h1V367.1h1V366.2h1V366.6h1V367.7h1V366.7h1V366.9h1V367.4h1V367.5h1V366.8h1V367.8h1V367.3h1V366.5h1V365.9h1V366.8h1V367.4h1V367.0h1V368.0h1V367.4h1V366.4h1V367.3h1V367.1h1V367.0h1V366.6h1V367.5h1V367.6h1V367.6h1V367.2h1V366.7h1V366.5h1V366.1h1V366.5h1V367.4h1V367.0h1V367.5h1V367.0h1V367.3h1V366.5h1V367.7h1V368.1h1V366.6h1V366.3h1V367.5h1V368.5h1V368.4h1V368.1h1V367.2h1V366.7h1V367.5h1V366.9h1V367.9h1V368.0h1V366.6h1V366.2h1V366.6h1V366.7h1V368.1h1V367.3h1V368.2h1V368.4h1V368.0h1V368.2h1V367.7h1V366.7h1V367.8h1V366.7h1V366.4h1V367.2h1V368.4h1V368.8h1V367.0h1V367.2h1V368.5h1V368.4h1V367.2h1V366.7h1V368.2h1V367.9h1V367.8h1V366.7h1V368.0h1V368.4h1V368.1h1V366.9h1V367.7h1V367.9h1V368.0h1V368.6h1V368.1h1V368.1h1V368.7h1V368.8h1V367.8h1V367.9h1V366.7h1V367.1h1V368.0h1V367.4h1V366.4h1V366.4h1V367.1h1V366.5h1V367.4h1V367.3h1V366.6h1V367.7h1V367.1h1V368.1h1V367.7h1V368.0h1V367.0h1V366.7h1V367.3h1V367.4h1V368.0h1V367.4h1V368.3h1V368.5h1V368.8h1V368.1h1V367.1h1V367.3h1V368.1h1V369.0h1V368.0h1V367.4h1V367.6h1V368.9h1V367.7h1V366.8h1V367.2h1V367.9h1V368.4h1V368.3h1V367.2h1V367.0h1V367.3h1V406.2h1V445.9h1V446.0h1V446.0h1V446.0h1V446.0h1V446.0h1V446.0h1V446.0h1V446.0h1V446.0h1V446.0h1V446.0h1V446.0h1V446.0h1V446.0h1V446.0h1V446.0h1V446.0h1V446.0h1V446.0h1V446.0h1V446.0h1V445.4h1V446.0h1V446.0h1V446.0h1V445.6h1V445.7h1V446.0h1V445.8h1V445.8h1V446.0h1V446.0h1V446.0h1V446.0h1V446.0h1V445.7h1V446.0h1V446.0h1V446.0h1V446.0h1V446.0h1V446.0h1V445.7h1V446.0h1V446.0h1V445.6h1V446.0h1V446.0h1V446.0h1V446.0h1V446.0h1V446.0h1V445.8h1V446.0h1V446.0h1V446.0h1V445.9h1V445.5h1V446.0h1V446.0h1V446.0h1V445.9h1V445.6h1V446.0h1V446.0h1V446.0h1V446.0h1V446.0h1V446.0h1V446.0h1V446.0h1V446.0h1V446.0h1V446.0h1V446.0h1V446.0h1V446.0h1V445.4h1V446.0h1V446.0h1V446.0h1V446.0h1V446.0h1V446.0h1V446.0h1V446.0h1V446.0h1V446.0h1V446.0h1V445.9h1V446.0h1V446.0h1V446.0h1V446.0h1V446.0h1V446.0h1V446.0h1V446.0h1V446.0h1V446.0h1V446.0h1V446.0h1V446.0h1V446.0h1V446.0h1V446.0h1V446.0h1V446.0h1V445.9h1V446.0h1V446.0h1V446.0h1V446.0h1V446.0h1V446.0h1V446.0h1V446.0h1V446.0h1V446.0h1V446.0h1V446Z" fill="#1c4837"/>
<path d="M399,446V384.4h1V384.4h1V387.7h1V385.0h1V382.5h1V389.7h1V394.0h1V390.8h1V387.6h1V389.5h1V389.0h1V392.6h1V387.3h1V388.8h1V392.8h1V387.0h1V391.8h1V394.4h1V385.9h1V383.7h1V385.8h1V391.4h1V392.9h1V389.3h1V390.1h1V386.8h1V392.4h1V387.1h1V383.1h1V391.1h1V386.3h1V385.0h1V390.1h1V394.4h1V395.3h1V387.3h1V382.6h1V387.4h1V387.8h1V389.5h1V384.5h1V391.5h1V391.1h1V392.9h1V391.7h1V390.7h1V387.8h1V388.6h1V385.6h1V382.0h1V389.9h1V387.1h1V383.8h1V390.9h1V393.2h1V384.9h1V386.6h1V386.3h1V390.3h1V393.4h1V390.4h1V384.0h1V390.5h1V394.6h1V394.3h1V386.6h1V391.1h1V390.6h1V384.5h1V381.6h1V386.3h1V388.0h1V384.8h1V381.7h1V384.6h1V390.7h1V388.6h1V386.8h1V387.8h1V385.1h1V391.2h1V385.1h1V381.7h1V385.0h1V383.2h1V386.8h1V390.1h1V391.6h1V390.0h1V389.2h1V388.1h1V385.8h1V387.1h1V390.6h1V388.2h1V385.6h1V387.1h1V387.7h1V389.9h1V391.0h1V385.3h1V383.1h1V382.3h1V386.4h1V388.6h1V384.1h1V383.3h1V388.5h1V386.7h1V381.4h1V378.6h1V379.9h1V387.2h1V385.2h1V379.1h1V379.5h1V378.5h1V377.2h1V381.0h1V381.0h1V378.1h1V375.7h1V381.5h1V381.6h1V377.6h1V376.0h1V382.6h1V379.4h1V377.8h1V378.5h1V380.2h1V378.5h1V382.0h1V382.2h1V374.0h1V381.1h1V376.2h1V380.0h1V377.9h1V383.6h1V369.4h1V376.5h1V379.6h1V378.3h1V379.4h1V368.7h1V371.1h1V369.6h1V376.3h1V372.1h1V377.9h1V370.8h1V366.9h1V367.5h1V370.2h1V368.7h1V368.1h1V367.1h1V366.9h1V365.8h1V365.2h1V364.6h1V364.6h1V364.6h1V364.6h1V364.6h1V364.6h1V364.6h1V364.6h1V364.6h1V364.6h1V364.6h1V364.6h1V364.6h1V364.6h1V364.6h1V364.6h1V364.6h1V364.6h1V364.6h1V364.6h1V364.6h1V364.6h1V364.6h1V364.6h1V364.6h1V364.6h1V364.6h1V364.6h1V364.6h1V364.6h1V364.6h1V364.6h1V364.6h1V364.6h1V364.6h1V364.6h1V364.6h1V364.6h1V364.6h1V364.6h1V364.6h1V364.6h1V364.6h1V364.6h1V364.6h1V364.6h1V364.6h1V364.6h1V364.6h1V364.6h1V364.6h1V364.6h1V364.6h1V364.6h1V364.6h1V364.6h1V364.6h1V364.6h1V364.6h1V364.6h1V364.6h1V364.6h1V364.6h1V364.6h1V364.6h1V364.6h1V364.6h1V364.6h1V364.6h1V364.6h1V364.6h1V364.6h1V364.6h1V364.6h1V364.6h1V364.6h1V364.6h1V364.6h1V364.6h1V364.6h1V364.6h1V364.6h1V364.6h1V364.6h1V364.6h1V364.6h1V364.6h1V364.6h1V364.6h1V364.6h1V364.6h1V364.6h1V364.6h1V364.6h1V364.6h1V364.6h1V364.6h1V364.6h1V364.6h1V364.6h1V364.6h1V364.6h1V364.6h1V364.6h1V364.6h1V364.6h1V364.6h1V364.6h1V364.6h1V364.6h1V364.6h1V364.6h1V364.6h1V364.6h1V364.6h1V364.6h1V364.6h1V364.6h1V364.6h1V364.6h1V364.6h1V446Z" fill="#2e7262"/>
<path d="M399,446V410.2h1V410.2h1V409.7h1V411.4h1V402.9h1V404.9h1V407.2h1V403.7h1V407.4h1V405.1h1V407.4h1V400.6h1V402.1h1V411.5h1V411.0h1V402.9h1V411.7h1V402.2h1V401.5h1V407.2h1V407.0h1V401.2h1V398.8h1V405.2h1V404.3h1V409.0h1V408.6h1V409.2h1V408.0h1V408.2h1V410.3h1V409.0h1V404.6h1V403.2h1V400.4h1V402.3h1V405.4h1V408.9h1V410.1h1V406.1h1V408.0h1V406.4h1V408.6h1V406.3h1V409.3h1V411.0h1V409.9h1V406.9h1V404.8h1V409.6h1V410.8h1V409.7h1V405.5h1V409.6h1V408.7h1V407.6h1V406.9h1V403.1h1V410.4h1V408.2h1V410.6h1V401.8h1V405.0h1V408.6h1V400.1h1V408.9h1V405.0h1V409.8h1V400.2h1V407.4h1V403.1h1V408.1h1V409.4h1V405.3h1V401.5h1V410.2h1V408.3h1V409.4h1V402.5h1V407.1h1V408.9h1V410.1h1V406.6h1V403.4h1V409.6h1V408.5h1V409.8h1V404.9h1V410.2h1V410.5h1V405.0h1V404.2h1V405.7h1V408.2h1V399.3h1V403.1h1V404.4h1V407.0h1V402.1h1V407.7h1V402.7h1V399.2h1V406.1h1V404.2h1V402.1h1V407.3h1V407.6h1V409.3h1V399.8h1V401.5h1V407.6h1V406.0h1V400.3h1V408.3h1V408.2h1V404.3h1V401.2h1V402.7h1V404.3h1V409.7h1V403.8h1V401.1h1V404.6h1V408.0h1V409.8h1V408.0h1V405.9h1V403.5h1V410.4h1V399.2h1V401.1h1V408.0h1V405.8h1V405.3h1V409.8h1V411.0h1V408.7h1V408.6h1V410.5h1V403.6h1V397.5h1V402.9h1V397.0h1V408.5h1V408.5h1V409.3h1V397.1h1V400.9h1V400.0h1V407.0h1V408.3h1V409.6h1V401.3h1V401.8h1V410.7h1V399.4h1V407.5h1V407.5h1V398.3h1V407.1h1V407.9h1V407.8h1V408.8h1V405.6h1V402.4h1V402.0h1V407.8h1V407.1h1V403.3h1V408.9h1V409.4h1V408.5h1V406.3h1V397.1h1V407.4h1V410.2h1V400.6h1V409.6h1V409.7h1V402.4h1V408.7h1V410.3h1V408.3h1V408.3h1V408.4h1V410.1h1V403.6h1V400.0h1V397.0h1V404.8h1V407.6h1V403.3h1V405.5h1V398.0h1V408.1h1V406.7h1V407.6h1V401.5h1V408.6h1V404.0h1V402.1h1V401.0h1V407.0h1V400.6h1V406.9h1V407.0h1V404.3h1V401.9h1V410.5h1V402.8h1V407.9h1V406.7h1V405.1h1V407.3h1V406.9h1V403.0h1V409.6h1V403.1h1V408.8h1V400.4h1V400.7h1V406.4h1V407.6h1V402.7h1V409.2h1V410.3h1V398.2h1V407.3h1V405.3h1V399.5h1V406.0h1V402.8h1V407.9h1V407.5h1V407.9h1V406.5h1V404.7h1V406.5h1V401.7h1V407.6h1V410.0h1V405.2h1V410.4h1V405.6h1V405.7h1V408.5h1V400.9h1V404.9h1V404.4h1V400.7h1V407.6h1V407.2h1V406.1h1V406.7h1V407.9h1V403.5h1V409.4h1V405.3h1V408.5h1V400.9h1V405.9h1V401.1h1V409.6h1V406.0h1V402.9h1V404.5h1V407.6h1V404.1h1V408.8h1V402.0h1V408.1h1V409.4h1V406.6h1V398.5h1V405.3h1V406.7h1V407.5h1V407.2h1V405.9h1V397.7h1V404.7h1V407.3h1V446Z" fill="#56a893"/>
<path d="M399,446V416.1h1V416.1h1V416.7h1V416.1h1V415.3h1V414.0h1V414.9h1V415.5h1V415.1h1V415.8h1V416.6h1V415.4h1V416.0h1V417.0h1V416.7h1V417.0h1V415.9h1V414.0h1V413.7h1V415.4h1V414.9h1V413.9h1V416.0h1V415.4h1V414.3h1V415.0h1V415.6h1V416.4h1V416.1h1V416.9h1V416.9h1V415.0h1V413.9h1V414.5h1V414.4h1V413.7h1V415.8h1V417.2h1V416.8h1V414.5h1V415.3h1V414.2h1V414.8h1V414.7h1V415.3h1V416.1h1V415.9h1V415.0h1V414.9h1V415.3h1V415.9h1V416.6h1V414.7h1V415.8h1V414.3h1V415.6h1V416.7h1V415.6h1V415.3h1V414.9h1V415.6h1V414.4h1V414.0h1V415.5h1V415.2h1V415.6h1V415.3h1V414.2h1V415.0h1V415.1h1V415.8h1V414.4h1V414.7h1V414.5h1V416.1h1V416.8h1V416.0h1V415.6h1V414.6h1V415.6h1V416.6h1V416.9h1V416.9h1V415.0h1V414.4h1V415.8h1V415.7h1V416.6h1V415.2h1V414.3h1V415.6h1V416.9h1V415.9h1V416.6h1V414.7h1V414.9h1V415.3h1V414.3h1V415.8h1V414.4h1V416.2h1V416.4h1V414.8h1V416.3h1V416.2h1V415.2h1V415.0h1V414.1h1V414.8h1V416.2h1V414.5h1V414.6h1V414.3h1V416.2h1V416.7h1V415.8h1V414.4h1V415.8h1V414.5h1V413.8h1V414.2h1V414.4h1V414.4h1V415.9h1V416.1h1V416.8h1V415.0h1V415.7h1V416.7h1V417.0h1V414.6h1V414.2h1V414.3h1V416.1h1V416.7h1V414.4h1V415.1h1V416.2h1V414.4h1V413.8h1V414.2h1V414.7h1V415.5h1V415.7h1V416.3h1V415.2h1V415.9h1V414.9h1V415.1h1V414.7h1V415.9h1V416.0h1V416.1h1V415.3h1V414.3h1V416.1h1V416.0h1V415.8h1V415.8h1V416.8h1V415.7h1V416.4h1V414.8h1V416.2h1V415.1h1V415.2h1V415.3h1V414.5h1V416.3h1V414.9h1V413.9h1V416.3h1V416.7h1V416.9h1V416.6h1V415.6h1V415.7h1V415.1h1V416.6h1V417.2h1V416.4h1V416.6h1V416.7h1V415.3h1V415.1h1V416.2h1V416.6h1V416.7h1V416.5h1V415.9h1V415.4h1V414.0h1V413.9h1V414.6h1V415.6h1V415.8h1V416.5h1V415.8h1V415.7h1V414.7h1V414.7h1V414.1h1V414.8h1V416.6h1V415.9h1V415.2h1V416.5h1V415.4h1V416.4h1V416.5h1V416.6h1V415.8h1V416.7h1V417.3h1V415.6h1V415.0h1V415.6h1V414.5h1V414.0h1V414.6h1V415.7h1V416.3h1V415.5h1V416.2h1V414.4h1V414.5h1V415.0h1V415.0h1V415.1h1V414.4h1V414.7h1V416.0h1V414.3h1V413.8h1V416.1h1V416.4h1V416.1h1V415.2h1V416.2h1V415.7h1V414.6h1V416.0h1V415.8h1V415.0h1V415.3h1V415.8h1V415.9h1V415.6h1V415.1h1V413.8h1V415.5h1V414.5h1V414.6h1V415.1h1V414.7h1V414.9h1V414.0h1V413.5h1V415.2h1V416.7h1V414.8h1V414.4h1V415.6h1V416.3h1V414.4h1V415.4h1V414.3h1V414.4h1V415.0h1V416.2h1V415.6h1V415.6h1V415.9h1V414.4h1V414.8h1V416.4h1V415.2h1V415.5h1V415.9h1V414.8h1V415.7h1V415.5h1V446Z" fill="#8ddac3"/>
<path d="M399,446V422.7h1V422.7h1V421.6h1V421.5h1V421.2h1V421.0h1V421.8h1V422.0h1V422.1h1V421.2h1V420.6h1V422.1h1V421.5h1V420.6h1V421.0h1V420.6h1V420.7h1V422.3h1V421.5h1V421.8h1V420.8h1V421.7h1V420.8h1V421.9h1V421.8h1V422.2h1V421.3h1V421.5h1V421.3h1V421.7h1V422.4h1V422.6h1V420.8h1V421.1h1V421.3h1V422.3h1V422.1h1V422.0h1V422.4h1V421.1h1V420.5h1V421.8h1V422.3h1V421.2h1V420.9h1V421.8h1V421.5h1V421.6h1V421.2h1V420.6h1V421.2h1V421.9h1V421.3h1V421.6h1V420.6h1V421.1h1V421.1h1V422.0h1V421.3h1V421.1h1V422.3h1V422.6h1V421.0h1V420.4h1V421.7h1V422.7h1V421.9h1V421.8h1V420.8h1V421.1h1V421.1h1V421.7h1V421.0h1V421.5h1V421.8h1V421.1h1V421.9h1V421.2h1V420.2h1V420.1h1V420.4h1V421.1h1V420.7h1V421.1h1V421.2h1V421.4h1V421.8h1V420.6h1V421.1h1V420.4h1V420.1h1V421.8h1V422.0h1V421.0h1V422.0h1V422.8h1V421.9h1V421.4h1V421.3h1V421.2h1V422.0h1V421.0h1V422.0h1V421.3h1V420.8h1V421.4h1V421.8h1V421.0h1V420.3h1V421.7h1V421.1h1V422.2h1V422.3h1V421.9h1V422.6h1V422.2h1V422.1h1V421.3h1V421.4h1V421.6h1V420.8h1V421.0h1V422.1h1V421.9h1V421.2h1V422.4h1V422.6h1V421.2h1V421.2h1V422.6h1V422.1h1V420.8h1V420.6h1V421.2h1V422.4h1V423.0h1V421.2h1V421.6h1V422.7h1V422.4h1V422.3h1V422.2h1V422.2h1V422.0h1V421.1h1V421.2h1V421.0h1V421.0h1V420.6h1V421.4h1V422.1h1V422.3h1V421.8h1V422.7h1V421.3h1V421.0h1V422.2h1V422.1h1V421.7h1V422.3h1V422.4h1V421.8h1V422.4h1V423.0h1V422.4h1V422.5h1V422.6h1V421.2h1V422.5h1V422.7h1V421.8h1V422.0h1V421.8h1V421.6h1V421.5h1V422.0h1V422.1h1V422.9h1V422.3h1V422.2h1V423.2h1V421.7h1V421.1h1V421.0h1V421.8h1V422.0h1V422.6h1V422.0h1V422.2h1V422.6h1V422.6h1V423.2h1V422.3h1V422.9h1V422.4h1V421.5h1V421.6h1V421.3h1V422.7h1V422.8h1V422.5h1V421.3h1V421.7h1V422.7h1V421.3h1V421.2h1V422.6h1V422.7h1V423.0h1V423.1h1V421.9h1V421.0h1V420.8h1V421.7h1V421.8h1V421.8h1V421.0h1V422.6h1V423.3h1V422.9h1V421.4h1V422.1h1V423.0h1V421.5h1V421.2h1V421.2h1V422.1h1V421.6h1V422.1h1V421.8h1V422.0h1V421.4h1V422.3h1V422.8h1V422.3h1V422.0h1V421.4h1V422.6h1V421.9h1V422.1h1V422.8h1V421.7h1V422.2h1V422.5h1V422.0h1V421.5h1V420.9h1V422.2h1V422.6h1V423.1h1V421.8h1V422.1h1V422.1h1V421.4h1V420.9h1V422.3h1V421.6h1V422.4h1V421.1h1V421.9h1V421.1h1V422.3h1V421.9h1V421.9h1V421.4h1V421.6h1V421.2h1V420.6h1V421.9h1V422.1h1V422.2h1V420.9h1V421.2h1V422.1h1V421.4h1V420.8h1V421.5h1V421.4h1V422.0h1V420.9h1V420.5h1V422.0h1V446Z" fill="#ccefe5"/>
<path d="M399,446V429.9h1V429.9h1V429.8h1V429.3h1V428.1h1V428.5h1V428.1h1V429.2h1V428.7h1V429.4h1V429.2h1V429.5h1V429.8h1V429.8h1V429.0h1V429.7h1V430.0h1V429.8h1V429.3h1V428.0h1V428.4h1V429.1h1V428.4h1V428.3h1V429.2h1V428.4h1V427.7h1V428.9h1V428.5h1V427.7h1V428.3h1V428.9h1V428.6h1V429.3h1V428.7h1V427.7h1V428.5h1V428.7h1V428.1h1V427.4h1V427.4h1V428.4h1V428.9h1V428.5h1V427.5h1V428.1h1V427.8h1V428.3h1V427.7h1V428.7h1V428.8h1V427.5h1V427.7h1V427.8h1V428.5h1V428.4h1V429.2h1V429.0h1V428.0h1V427.4h1V429.1h1V429.9h1V429.9h1V428.7h1V429.5h1V428.5h1V427.3h1V427.9h1V428.9h1V428.4h1V427.7h1V427.3h1V427.2h1V427.6h1V428.0h1V428.2h1V427.5h1V428.5h1V429.5h1V428.9h1V428.3h1V427.6h1V428.1h1V427.8h1V429.3h1V429.0h1V427.6h1V427.6h1V427.5h1V428.8h1V428.4h1V428.6h1V428.9h1V429.3h1V429.9h1V428.3h1V428.4h1V429.7h1V429.1h1V429.1h1V429.7h1V429.3h1V428.8h1V429.0h1V428.8h1V428.5h1V428.4h1V428.6h1V429.4h1V429.0h1V429.1h1V429.8h1V430.2h1V429.9h1V429.0h1V429.4h1V428.4h1V429.3h1V429.5h1V429.6h1V428.2h1V428.9h1V429.2h1V428.4h1V429.2h1V429.1h1V428.8h1V429.1h1V428.6h1V428.8h1V428.3h1V428.6h1V428.7h1V427.9h1V428.6h1V429.1h1V428.4h1V428.8h1V430.0h1V428.4h1V429.5h1V429.2h1V429.6h1V429.4h1V429.0h1V429.0h1V428.4h1V428.2h1V428.9h1V429.5h1V429.5h1V428.2h1V428.9h1V428.3h1V428.4h1V429.0h1V428.5h1V428.6h1V429.8h1V428.9h1V428.5h1V429.6h1V429.5h1V430.0h1V429.4h1V428.4h1V429.5h1V428.9h1V429.6h1V428.8h1V428.6h1V429.6h1V430.4h1V430.2h1V428.6h1V428.1h1V428.8h1V429.4h1V429.9h1V429.2h1V428.7h1V429.3h1V429.6h1V429.3h1V430.1h1V429.2h1V429.8h1V428.8h1V428.5h1V429.2h1V429.5h1V429.7h1V428.7h1V429.9h1V430.2h1V429.3h1V429.3h1V429.4h1V428.4h1V428.8h1V429.3h1V429.8h1V429.9h1V430.0h1V429.3h1V429.2h1V430.2h1V429.7h1V429.1h1V429.2h1V429.8h1V429.8h1V429.7h1V430.1h1V428.8h1V428.2h1V428.4h1V429.3h1V429.3h1V429.4h1V428.7h1V428.5h1V429.5h1V429.3h1V428.4h1V428.3h1V428.5h1V428.2h1V428.7h1V429.0h1V428.8h1V428.9h1V429.1h1V429.5h1V428.5h1V428.0h1V428.7h1V429.7h1V429.0h1V430.0h1V428.9h1V429.0h1V429.9h1V430.4h1V429.3h1V430.0h1V430.3h1V429.0h1V429.0h1V428.4h1V428.0h1V428.8h1V430.1h1V429.5h1V429.7h1V430.1h1V429.6h1V428.8h1V429.1h1V429.9h1V428.7h1V428.4h1V429.6h1V429.1h1V429.1h1V429.6h1V428.9h1V429.3h1V429.9h1V430.0h1V428.7h1V428.9h1V429.7h1V429.6h1V428.1h1V428.5h1V428.4h1V429.6h1V428.4h1V427.7h1V428.9h1V429.5h1V446Z" fill="#efe8c2"/>
<path d="M399,446V435.6h1V435.6h1V434.7h1V434.2h1V434.8h1V434.3h1V434.7h1V435.5h1V434.4h1V434.3h1V433.9h1V435.0h1V434.8h1V435.7h1V434.4h1V434.6h1V435.8h1V435.5h1V434.4h1V435.3h1V435.7h1V435.7h1V436.1h1V435.4h1V435.1h1V435.3h1V435.4h1V434.5h1V434.6h1V435.8h1V435.1h1V435.9h1V435.5h1V436.1h1V435.3h1V435.6h1V434.4h1V434.7h1V435.4h1V434.6h1V435.8h1V435.1h1V434.8h1V435.8h1V435.3h1V435.1h1V436.0h1V435.1h1V434.7h1V434.6h1V435.3h1V434.2h1V433.7h1V434.2h1V435.7h1V436.0h1V435.0h1V434.4h1V434.1h1V434.2h1V434.1h1V434.5h1V435.5h1V436.1h1V435.8h1V434.2h1V434.8h1V434.9h1V434.7h1V434.7h1V435.1h1V436.0h1V436.1h1V434.9h1V434.7h1V435.3h1V434.2h1V435.0h1V435.4h1V434.2h1V433.9h1V435.0h1V435.1h1V434.5h1V435.3h1V435.2h1V434.6h1V434.5h1V435.2h1V436.2h1V434.9h1V435.6h1V435.7h1V434.9h1V434.8h1V434.2h1V434.8h1V434.4h1V435.6h1V434.7h1V434.4h1V434.8h1V436.1h1V436.3h1V435.4h1V435.3h1V435.9h1V435.7h1V435.7h1V434.5h1V435.7h1V435.3h1V435.8h1V436.4h1V434.6h1V435.2h1V435.5h1V436.3h1V436.4h1V435.8h1V436.4h1V436.4h1V434.6h1V434.5h1V434.4h1V434.1h1V434.2h1V435.5h1V435.6h1V435.2h1V435.5h1V435.5h1V434.7h1V434.5h1V434.7h1V435.6h1V435.3h1V436.0h1V435.7h1V434.7h1V435.1h1V434.5h1V436.0h1V435.3h1V435.9h1V435.8h1V436.1h1V435.2h1V435.1h1V434.8h1V435.0h1V435.2h1V435.2h1V434.8h1V435.8h1V436.6h1V435.4h1V434.6h1V436.3h1V435.1h1V436.0h1V435.5h1V435.6h1V434.9h1V435.6h1V436.7h1V435.3h1V435.2h1V434.9h1V435.4h1V436.7h1V436.9h1V436.1h1V435.5h1V436.4h1V435.4h1V436.1h1V435.7h1V435.3h1V436.1h1V435.7h1V435.9h1V436.3h1V434.9h1V434.9h1V435.5h1V435.6h1V436.7h1V436.1h1V436.5h1V435.2h1V435.4h1V436.3h1V435.7h1V435.2h1V435.8h1V436.4h1V435.4h1V435.8h1V434.9h1V434.6h1V434.4h1V435.9h1V436.3h1V435.5h1V434.8h1V435.9h1V435.5h1V435.8h1V436.6h1V436.5h1V435.8h1V435.6h1V436.8h1V436.5h1V436.6h1V435.9h1V436.2h1V436.6h1V435.1h1V435.1h1V436.3h1V435.0h1V435.9h1V436.2h1V436.4h1V436.0h1V435.6h1V435.4h1V435.5h1V434.9h1V435.8h1V435.9h1V435.7h1V436.0h1V436.3h1V436.3h1V435.2h1V434.6h1V435.0h1V434.6h1V435.6h1V436.6h1V435.4h1V435.1h1V435.8h1V435.8h1V434.6h1V435.4h1V435.9h1V435.7h1V435.6h1V436.4h1V435.6h1V435.0h1V435.5h1V435.3h1V436.0h1V435.5h1V435.4h1V435.9h1V436.1h1V436.2h1V435.1h1V435.2h1V436.4h1V436.7h1V435.1h1V435.0h1V435.4h1V436.4h1V436.0h1V436.0h1V435.2h1V436.1h1V435.1h1V435.3h1V435.5h1V434.4h1V435.4h1V435.0h1V435.3h1V446Z" fill="#d7c280"/>
<path d="M399,446V440.4h1V440.4h1V440.4h1V440.6h1V440.7h1V439.8h1V440.3h1V441.2h1V440.8h1V439.9h1V440.5h1V441.4h1V440.2h1V439.8h1V440.2h1V440.7h1V440.1h1V439.9h1V440.0h1V441.2h1V440.5h1V440.5h1V441.6h1V440.3h1V439.5h1V439.9h1V441.0h1V441.9h1V441.4h1V440.0h1V440.5h1V440.9h1V441.5h1V441.5h1V441.3h1V440.3h1V440.6h1V441.3h1V440.4h1V440.5h1V441.3h1V441.6h1V440.3h1V441.4h1V441.2h1V441.3h1V441.0h1V440.2h1V441.1h1V440.6h1V441.4h1V441.5h1V441.0h1V441.3h1V440.1h1V441.2h1V441.5h1V440.2h1V440.6h1V441.0h1V441.1h1V439.9h1V441.2h1V440.7h1V440.8h1V440.8h1V440.3h1V439.9h1V440.6h1V439.9h1V441.2h1V440.2h1V440.1h1V440.2h1V441.3h1V441.3h1V441.6h1V440.7h1V440.1h1V440.5h1V440.2h1V440.2h1V440.0h1V440.6h1V441.5h1V441.9h1V441.6h1V441.7h1V441.6h1V441.7h1V440.6h1V440.4h1V440.0h1V440.6h1V440.2h1V439.6h1V440.0h1V439.8h1V440.9h1V442.0h1V441.3h1V441.2h1V440.3h1V439.7h1V440.0h1V441.2h1V441.2h1V441.0h1V441.6h1V440.4h1V440.1h1V440.4h1V441.3h1V440.7h1V441.5h1V441.3h1V440.9h1V440.3h1V439.8h1V440.6h1V440.6h1V440.2h1V440.5h1V440.2h1V441.7h1V442.0h1V441.7h1V441.3h1V441.2h1V441.2h1V440.6h1V441.4h1V441.9h1V441.3h1V441.9h1V442.3h1V441.4h1V441.1h1V441.3h1V440.7h1V441.9h1V440.7h1V441.1h1V440.3h1V441.6h1V440.6h1V440.9h1V441.3h1V440.6h1V441.5h1V441.0h1V440.9h1V440.5h1V441.1h1V441.7h1V440.7h1V440.9h1V442.1h1V442.5h1V441.4h1V441.7h1V440.8h1V441.7h1V441.8h1V442.4h1V441.3h1V441.5h1V441.1h1V442.1h1V442.7h1V442.9h1V442.6h1V441.2h1V442.0h1V441.8h1V441.1h1V440.9h1V441.9h1V442.0h1V441.5h1V442.0h1V440.9h1V441.1h1V440.6h1V441.8h1V442.6h1V442.7h1V441.8h1V442.1h1V442.3h1V441.2h1V441.1h1V442.0h1V442.0h1V442.6h1V442.4h1V442.7h1V442.9h1V441.1h1V440.6h1V441.8h1V441.1h1V440.5h1V441.4h1V441.6h1V442.6h1V442.4h1V441.8h1V442.7h1V442.4h1V442.6h1V441.8h1V442.1h1V442.8h1V442.1h1V441.4h1V442.1h1V442.2h1V442.1h1V440.9h1V440.3h1V441.7h1V442.0h1V441.5h1V441.9h1V442.2h1V441.6h1V442.5h1V442.1h1V441.5h1V440.5h1V440.5h1V441.4h1V441.0h1V442.0h1V441.3h1V441.0h1V441.6h1V441.5h1V440.6h1V441.5h1V442.3h1V441.5h1V442.1h1V441.2h1V440.5h1V440.2h1V442.1h1V442.5h1V442.5h1V441.5h1V441.2h1V440.6h1V441.1h1V440.7h1V441.9h1V441.7h1V441.1h1V442.0h1V442.3h1V440.7h1V441.8h1V441.1h1V441.1h1V441.5h1V442.1h1V442.3h1V441.3h1V440.9h1V440.8h1V440.8h1V440.5h1V441.6h1V441.2h1V441.6h1V442.0h1V441.7h1V441.9h1V441.9h1V442.4h1V442.1h1V440.9h1V446Z" fill="#bf853a"/></g><rect x="400" y="377.0" width="280" height="1" fill="#8fc23e"/><path d="M399.50,376.6H400.50V382.2H399.50ZM400.25,381.7H403.75V387.3H400.25ZM403.50,376.6H404.50V382.2H403.50ZM404.25,381.7H411.75V387.3H404.25ZM411.50,376.6H412.50V382.2H411.50ZM412.25,381.7H414.75V387.3H412.25ZM414.50,376.6H415.50V382.2H414.50ZM415.25,381.7H423.75V387.3H415.25ZM423.50,376.6H424.50V382.2H423.50ZM424.25,381.7H427.75V387.3H424.25ZM427.50,376.6H428.50V382.2H427.50ZM428.25,381.7H433.75V387.3H428.25ZM433.50,376.6H434.50V382.2H433.50ZM434.25,381.7H437.75V387.3H434.25ZM437.50,376.6H438.50V382.2H437.50ZM438.25,381.7H443.75V387.3H438.25ZM443.50,376.6H444.50V382.2H443.50ZM444.25,381.7H447.75V387.3H444.25ZM447.50,376.6H448.50V382.2H447.50ZM448.25,381.7H452.75V387.3H448.25ZM452.50,376.6H453.50V382.2H452.50ZM453.50,381.7H454.50V387.3H453.50ZM454.50,376.6H455.50V382.2H454.50ZM455.50,381.7H456.50V387.3H455.50ZM456.50,371.5H457.50V377.1H456.50ZM457.25,381.7H464.75V387.3H457.25ZM464.50,376.6H465.50V382.2H464.50ZM465.25,381.7H471.75V387.3H465.25ZM471.50,376.6H472.50V382.2H471.50ZM472.25,381.7H480.75V387.3H472.25ZM480.50,376.6H481.50V382.2H480.50ZM481.25,381.7H485.75V387.3H481.25ZM485.50,376.6H486.50V382.2H485.50ZM486.25,381.7H489.75V387.3H486.25ZM489.50,371.5H490.50V377.1H489.50ZM490.25,381.7H493.75V387.3H490.25ZM493.50,371.5H494.50V377.1H493.50ZM494.25,381.7H496.75V387.3H494.25ZM496.50,376.6H497.50V382.2H496.50ZM497.25,381.7H502.75V387.3H497.25ZM502.50,376.6H503.50V382.2H502.50ZM503.25,381.7H508.75V387.3H503.25ZM508.50,376.6H509.50V382.2H508.50ZM509.25,381.7H513.75V387.3H509.25ZM513.50,376.6H514.50V382.2H513.50ZM514.25,381.7H518.75V387.3H514.25ZM518.50,376.6H519.50V382.2H518.50ZM519.25,381.7H522.75V387.3H519.25ZM522.50,371.5H523.50V377.1H522.50ZM523.25,381.7H529.75V387.3H523.25ZM529.50,376.6H530.50V382.2H529.50ZM530.25,381.7H534.75V387.3H530.25ZM534.50,376.6H535.50V382.2H534.50ZM535.25,381.7H541.75V387.3H535.25ZM541.50,376.6H542.50V382.2H541.50ZM542.25,381.7H546.75V387.3H542.25ZM546.50,376.6H547.50V382.2H546.50ZM547.25,381.7H556.75V387.3H547.25ZM556.50,376.6H557.50V382.2H556.50ZM557.25,381.7H566.75V387.3H557.25ZM566.50,376.6H567.50V382.2H566.50ZM567.25,381.7H571.75V387.3H567.25ZM571.50,371.5H572.50V377.1H571.50ZM572.25,381.7H577.75V387.3H572.25ZM577.50,376.6H578.50V382.2H577.50ZM578.25,381.7H583.75V387.3H578.25ZM583.50,376.6H584.50V382.2H583.50ZM584.25,381.7H589.75V387.3H584.25ZM589.50,376.6H590.50V382.2H589.50ZM590.25,381.7H592.75V387.3H590.25ZM592.50,376.6H593.50V382.2H592.50ZM593.25,381.7H601.75V387.3H593.25ZM601.50,371.5H602.50V377.1H601.50ZM602.25,381.7H605.75V387.3H602.25ZM605.50,376.6H606.50V382.2H605.50ZM606.25,381.7H609.75V387.3H606.25ZM609.50,376.6H610.50V382.2H609.50ZM610.25,381.7H617.75V387.3H610.25ZM617.50,376.6H618.50V382.2H617.50ZM618.25,381.7H622.75V387.3H618.25ZM622.50,376.6H623.50V382.2H622.50ZM623.25,381.7H625.75V387.3H623.25ZM625.50,376.6H626.50V382.2H625.50ZM626.25,381.7H635.75V387.3H626.25ZM635.50,376.6H636.50V382.2H635.50ZM636.25,381.7H641.75V387.3H636.25ZM641.50,376.6H642.50V382.2H641.50ZM642.25,381.7H647.75V387.3H642.25ZM647.50,376.6H648.50V382.2H647.50ZM648.25,381.7H657.75V387.3H648.25ZM657.50,376.6H658.50V382.2H657.50ZM658.25,381.7H666.75V387.3H658.25ZM666.50,371.5H667.50V377.1H666.50ZM667.25,381.7H673.75V387.3H667.25ZM673.50,376.6H674.50V382.2H673.50ZM674.25,381.7H679.75V387.3H674.25ZM679.50,376.6H680.50V382.2H679.50ZM397.3,378.9H402.7V379.9H397.3ZM398.3,384.0H405.7V385.0H398.3ZM401.3,378.9H406.7V379.9H401.3ZM402.3,384.0H413.7V385.0H402.3ZM409.3,378.9H414.7V379.9H409.3ZM410.3,384.0H416.7V385.0H410.3ZM412.3,378.9H417.7V379.9H412.3ZM413.3,384.0H425.7V385.0H413.3ZM421.3,378.9H426.7V379.9H421.3ZM422.3,384.0H429.7V385.0H422.3ZM425.3,378.9H430.7V379.9H425.3ZM426.3,384.0H435.7V385.0H426.3ZM431.3,378.9H436.7V379.9H431.3ZM432.3,384.0H439.7V385.0H432.3ZM435.3,378.9H440.7V379.9H435.3ZM436.3,384.0H445.7V385.0H436.3ZM441.3,378.9H446.7V379.9H441.3ZM442.3,384.0H449.7V385.0H442.3ZM445.3,378.9H450.7V379.9H445.3ZM446.3,384.0H454.7V385.0H446.3ZM450.3,378.9H455.7V379.9H450.3ZM451.3,384.0H456.7V385.0H451.3ZM452.3,378.9H457.7V379.9H452.3ZM453.3,384.0H458.7V385.0H453.3ZM454.3,373.8H459.7V374.8H454.3ZM455.3,384.0H466.7V385.0H455.3ZM462.3,378.9H467.7V379.9H462.3ZM463.3,384.0H473.7V385.0H463.3ZM469.3,378.9H474.7V379.9H469.3ZM470.3,384.0H482.7V385.0H470.3ZM478.3,378.9H483.7V379.9H478.3ZM479.3,384.0H487.7V385.0H479.3ZM483.3,378.9H488.7V379.9H483.3ZM484.3,384.0H491.7V385.0H484.3ZM487.3,373.8H492.7V374.8H487.3ZM488.3,384.0H495.7V385.0H488.3ZM491.3,373.8H496.7V374.8H491.3ZM492.3,384.0H498.7V385.0H492.3ZM494.3,378.9H499.7V379.9H494.3ZM495.3,384.0H504.7V385.0H495.3ZM500.3,378.9H505.7V379.9H500.3ZM501.3,384.0H510.7V385.0H501.3ZM506.3,378.9H511.7V379.9H506.3ZM507.3,384.0H515.7V385.0H507.3ZM511.3,378.9H516.7V379.9H511.3ZM512.3,384.0H520.7V385.0H512.3ZM516.3,378.9H521.7V379.9H516.3ZM517.3,384.0H524.7V385.0H517.3ZM520.3,373.8H525.7V374.8H520.3ZM521.3,384.0H531.7V385.0H521.3ZM527.3,378.9H532.7V379.9H527.3ZM528.3,384.0H536.7V385.0H528.3ZM532.3,378.9H537.7V379.9H532.3ZM533.3,384.0H543.7V385.0H533.3ZM539.3,378.9H544.7V379.9H539.3ZM540.3,384.0H548.7V385.0H540.3ZM544.3,378.9H549.7V379.9H544.3ZM545.3,384.0H558.7V385.0H545.3ZM554.3,378.9H559.7V379.9H554.3ZM555.3,384.0H568.7V385.0H555.3ZM564.3,378.9H569.7V379.9H564.3ZM565.3,384.0H573.7V385.0H565.3ZM569.3,373.8H574.7V374.8H569.3ZM570.3,384.0H579.7V385.0H570.3ZM575.3,378.9H580.7V379.9H575.3ZM576.3,384.0H585.7V385.0H576.3ZM581.3,378.9H586.7V379.9H581.3ZM582.3,384.0H591.7V385.0H582.3ZM587.3,378.9H592.7V379.9H587.3ZM588.3,384.0H594.7V385.0H588.3ZM590.3,378.9H595.7V379.9H590.3ZM591.3,384.0H603.7V385.0H591.3ZM599.3,373.8H604.7V374.8H599.3ZM600.3,384.0H607.7V385.0H600.3ZM603.3,378.9H608.7V379.9H603.3ZM604.3,384.0H611.7V385.0H604.3ZM607.3,378.9H612.7V379.9H607.3ZM608.3,384.0H619.7V385.0H608.3ZM615.3,378.9H620.7V379.9H615.3ZM616.3,384.0H624.7V385.0H616.3ZM620.3,378.9H625.7V379.9H620.3ZM621.3,384.0H627.7V385.0H621.3ZM623.3,378.9H628.7V379.9H623.3ZM624.3,384.0H637.7V385.0H624.3ZM633.3,378.9H638.7V379.9H633.3ZM634.3,384.0H643.7V385.0H634.3ZM639.3,378.9H644.7V379.9H639.3ZM640.3,384.0H649.7V385.0H640.3ZM645.3,378.9H650.7V379.9H645.3ZM646.3,384.0H659.7V385.0H646.3ZM655.3,378.9H660.7V379.9H655.3ZM656.3,384.0H668.7V385.0H656.3ZM664.3,373.8H669.7V374.8H664.3ZM665.3,384.0H675.7V385.0H665.3ZM671.3,378.9H676.7V379.9H671.3ZM672.3,384.0H681.7V385.0H672.3ZM677.3,378.9H682.7V379.9H677.3Z" fill="#fa38fc"/><rect x="400" y="265" width="280" height="180" fill="none" stroke="#262626" stroke-width="0.6"/>
<line x1="400" y1="437.95" x2="402.8" y2="437.95" stroke="#262626" stroke-width="0.6"/>
<line x1="677.2" y1="437.95" x2="680" y2="437.95" stroke="#262626" stroke-width="0.6"/>
<text x="398.4" y="440.65" text-anchor="end" font-size="9" fill="#262626">-15</text>
<line x1="400" y1="417.80" x2="402.8" y2="417.80" stroke="#262626" stroke-width="0.6"/>
<line x1="677.2" y1="417.80" x2="680" y2="417.80" stroke="#262626" stroke-width="0.6"/>
<text x="398.4" y="420.50" text-anchor="end" font-size="9" fill="#262626">-10</text>
<line x1="400" y1="397.65" x2="402.8" y2="397.65" stroke="#262626" stroke-width="0.6"/>
<line x1="677.2" y1="397.65" x2="680" y2="397.65" stroke="#262626" stroke-width="0.6"/>
<text x="398.4" y="400.35" text-anchor="end" font-size="9" fill="#262626">-5</text>
<line x1="400" y1="377.50" x2="402.8" y2="377.50" stroke="#262626" stroke-width="0.6"/>
<line x1="677.2" y1="377.50" x2="680" y2="377.50" stroke="#262626" stroke-width="0.6"/>
<text x="398.4" y="380.20" text-anchor="end" font-size="9" fill="#262626">0</text>
<line x1="400" y1="357.35" x2="402.8" y2="357.35" stroke="#262626" stroke-width="0.6"/>
<line x1="677.2" y1="357.35" x2="680" y2="357.35" stroke="#262626" stroke-width="0.6"/>
<text x="398.4" y="360.05" text-anchor="end" font-size="9" fill="#262626">5</text>
<line x1="400" y1="337.20" x2="402.8" y2="337.20" stroke="#262626" stroke-width="0.6"/>
<line x1="677.2" y1="337.20" x2="680" y2="337.20" stroke="#262626" stroke-width="0.6"/>
<text x="398.4" y="339.90" text-anchor="end" font-size="9" fill="#262626">10</text>
<line x1="400" y1="317.05" x2="402.8" y2="317.05" stroke="#262626" stroke-width="0.6"/>
<line x1="677.2" y1="317.05" x2="680" y2="317.05" stroke="#262626" stroke-width="0.6"/>
<text x="398.4" y="319.75" text-anchor="end" font-size="9" fill="#262626">15</text>
<line x1="400" y1="296.90" x2="402.8" y2="296.90" stroke="#262626" stroke-width="0.6"/>
<line x1="677.2" y1="296.90" x2="680" y2="296.90" stroke="#262626" stroke-width="0.6"/>
<text x="398.4" y="299.60" text-anchor="end" font-size="9" fill="#262626">20</text>
<line x1="400" y1="276.75" x2="402.8" y2="276.75" stroke="#262626" stroke-width="0.6"/>
<line x1="677.2" y1="276.75" x2="680" y2="276.75" stroke="#262626" stroke-width="0.6"/>
<text x="398.4" y="279.45" text-anchor="end" font-size="9" fill="#262626">25</text>
<line x1="400.00" y1="445" x2="400.00" y2="442.2" stroke="#262626" stroke-width="0.6"/>
<line x1="400.00" y1="265" x2="400.00" y2="267.8" stroke="#262626" stroke-width="0.6"/>
<text x="400.00" y="454.2" text-anchor="middle" font-size="9" fill="#262626">12</text>
<line x1="440.00" y1="445" x2="440.00" y2="442.2" stroke="#262626" stroke-width="0.6"/>
<line x1="440.00" y1="265" x2="440.00" y2="267.8" stroke="#262626" stroke-width="0.6"/>
<text x="440.00" y="454.2" text-anchor="middle" font-size="9" fill="#262626">13</text>
<line x1="480.00" y1="445" x2="480.00" y2="442.2" stroke="#262626" stroke-width="0.6"/>
<line x1="480.00" y1="265" x2="480.00" y2="267.8" stroke="#262626" stroke-width="0.6"/>
<text x="480.00" y="454.2" text-anchor="middle" font-size="9" fill="#262626">14</text>
<line x1="520.00" y1="445" x2="520.00" y2="442.2" stroke="#262626" stroke-width="0.6"/>
<line x1="520.00" y1="265" x2="520.00" y2="267.8" stroke="#262626" stroke-width="0.6"/>
<text x="520.00" y="454.2" text-anchor="middle" font-size="9" fill="#262626">15</text>
<line x1="560.00" y1="445" x2="560.00" y2="442.2" stroke="#262626" stroke-width="0.6"/>
<line x1="560.00" y1="265" x2="560.00" y2="267.8" stroke="#262626" stroke-width="0.6"/>
<text x="560.00" y="454.2" text-anchor="middle" font-size="9" fill="#262626">16</text>
<line x1="600.00" y1="445" x2="600.00" y2="442.2" stroke="#262626" stroke-width="0.6"/>
<line x1="600.00" y1="265" x2="600.00" y2="267.8" stroke="#262626" stroke-width="0.6"/>
<text x="600.00" y="454.2" text-anchor="middle" font-size="9" fill="#262626">17</text>
<line x1="640.00" y1="445" x2="640.00" y2="442.2" stroke="#262626" stroke-width="0.6"/>
<line x1="640.00" y1="265" x2="640.00" y2="267.8" stroke="#262626" stroke-width="0.6"/>
<text x="640.00" y="454.2" text-anchor="middle" font-size="9" fill="#262626">18</text>
<line x1="680.00" y1="445" x2="680.00" y2="442.2" stroke="#262626" stroke-width="0.6"/>
<line x1="680.00" y1="265" x2="680.00" y2="267.8" stroke="#262626" stroke-width="0.6"/>
<text x="680.00" y="454.2" text-anchor="middle" font-size="9" fill="#262626">19</text>
<text x="540.0" y="465.2" text-anchor="middle" font-size="9" fill="#262626">ka</text>
<text x="383" y="355.0" text-anchor="middle" font-size="9" fill="#262626" transform="rotate(-90 383 355.0)">latitude</text>
<text x="540.0" y="260" text-anchor="middle" font-size="12.7" font-weight="bold" fill="#000">(d) annual precipitation (mm/day), ICE</text><g clip-path="url(#cp4)"><rect x="32" y="515" width="280" height="180" fill="#56340f"/>
<path d="M31,696V559.1h1V559.1h1V559.1h1V559.8h1V559.6h1V558.6h1V557.8h1V558.6h1V558.3h1V558.7h1V557.8h1V558.9h1V558.6h1V558.0h1V558.6h1V559.4h1V558.1h1V558.1h1V559.1h1V558.1h1V557.2h1V557.4h1V557.2h1V558.0h1V557.8h1V558.6h1V558.2h1V557.3h1V558.0h1V558.7h1V557.8h1V557.3h1V557.5h1V557.5h1V557.5h1V556.7h1V557.6h1V557.8h1V558.4h1V558.6h1V557.1h1V558.1h1V557.1h1V557.4h1V558.1h1V557.6h1V558.2h1V557.9h1V556.9h1V556.3h1V557.8h1V557.8h1V558.5h1V557.6h1V557.8h1V558.1h1V556.8h1V557.1h1V558.2h1V557.3h1V557.6h1V558.1h1V556.8h1V557.3h1V556.6h1V556.9h1V556.8h1V557.7h1V556.8h1V558.3h1V557.7h1V558.5h1V557.4h1V556.8h1V556.6h1V556.7h1V556.5h1V557.2h1V557.3h1V558.5h1V558.5h1V557.2h1V556.5h1V556.6h1V557.4h1V555.9h1V556.2h1V555.7h1V556.4h1V555.6h1V554.4h1V553.8h1V554.1h1V556.0h1V556.6h1V555.0h1V556.0h1V555.3h1V555.2h1V555.9h1V555.5h1V556.1h1V556.4h1V555.9h1V556.8h1V557.4h1V556.8h1V556.3h1V558.0h1V557.2h1V557.6h1V557.3h1V557.3h1V558.6h1V558.4h1V558.1h1V559.0h1V557.7h1V558.2h1V558.0h1V559.0h1V558.8h1V557.7h1V558.7h1V558.5h1V559.4h1V559.4h1V559.2h1V558.0h1V558.3h1V558.8h1V559.4h1V558.1h1V558.8h1V559.3h1V558.8h1V559.5h1V559.0h1V559.1h1V560.1h1V559.7h1V560.0h1V559.8h1V559.6h1V558.8h1V558.1h1V559.5h1V559.1h1V558.8h1V559.4h1V560.0h1V559.8h1V559.6h1V558.3h1V558.0h1V558.1h1V559.6h1V559.2h1V558.5h1V559.1h1V558.4h1V558.5h1V558.2h1V558.0h1V558.8h1V558.0h1V559.5h1V560.0h1V559.1h1V558.6h1V558.4h1V558.1h1V557.9h1V559.6h1V559.1h1V559.3h1V558.4h1V558.7h1V559.3h1V559.0h1V558.0h1V558.1h1V557.9h1V558.9h1V560.0h1V558.4h1V558.1h1V558.9h1V559.4h1V558.7h1V558.0h1V558.0h1V558.6h1V559.6h1V558.9h1V559.3h1V559.2h1V558.6h1V558.2h1V558.8h1V559.0h1V558.6h1V558.0h1V559.3h1V559.1h1V558.0h1V558.2h1V557.6h1V557.2h1V558.5h1V558.9h1V558.7h1V558.9h1V558.5h1V557.1h1V558.0h1V557.2h1V556.7h1V558.3h1V557.2h1V556.4h1V558.0h1V557.1h1V557.4h1V558.1h1V558.2h1V557.7h1V557.2h1V556.7h1V557.7h1V556.6h1V557.0h1V556.7h1V556.4h1V557.5h1V558.3h1V557.8h1V557.3h1V556.6h1V557.1h1V556.8h1V556.1h1V556.2h1V557.3h1V556.8h1V556.5h1V557.5h1V556.1h1V555.8h1V556.5h1V557.2h1V556.8h1V557.1h1V555.8h1V555.6h1V557.1h1V556.6h1V556.9h1V557.5h1V557.6h1V557.6h1V556.5h1V557.0h1V557.3h1V555.9h1V556.3h1V556.4h1V555.1h1V554.5h1V555.3h1V555.8h1V555.5h1V555.5h1V555.0h1V555.7h1V556.3h1V556.7h1V555.2h1V554.8h1V555.4h1V555.5h1V556.2h1V696Z" fill="#8d5520"/>
<path d="M31,696V570.6h1V570.6h1V570.7h1V569.6h1V569.4h1V569.4h1V569.7h1V568.8h1V568.8h1V568.5h1V567.8h1V568.1h1V568.3h1V567.5h1V567.4h1V567.9h1V569.0h1V568.7h1V567.0h1V567.1h1V568.8h1V568.0h1V566.1h1V566.4h1V566.7h1V568.2h1V568.0h1V567.4h1V566.3h1V566.6h1V567.7h1V565.9h1V566.4h1V566.1h1V565.2h1V565.9h1V565.1h1V564.5h1V565.1h1V564.5h1V564.3h1V564.7h1V563.8h1V564.3h1V564.3h1V565.4h1V566.2h1V566.1h1V566.8h1V566.1h1V564.2h1V565.7h1V565.7h1V564.0h1V565.3h1V566.4h1V565.0h1V564.2h1V564.6h1V564.6h1V565.6h1V565.4h1V564.6h1V564.7h1V566.2h1V565.7h1V566.7h1V567.4h1V567.1h1V566.0h1V566.4h1V566.9h1V568.3h1V568.0h1V568.4h1V568.9h1V568.6h1V569.2h1V568.9h1V567.8h1V568.3h1V568.6h1V567.9h1V567.1h1V567.5h1V567.4h1V565.3h1V565.3h1V565.9h1V564.8h1V565.2h1V564.7h1V565.2h1V563.9h1V564.5h1V566.0h1V566.8h1V566.5h1V566.7h1V567.1h1V567.2h1V566.2h1V565.2h1V565.5h1V565.3h1V567.8h1V568.6h1V567.5h1V568.8h1V567.2h1V566.6h1V567.5h1V569.6h1V568.5h1V568.3h1V567.6h1V568.1h1V569.2h1V568.4h1V568.8h1V571.0h1V570.4h1V571.0h1V572.0h1V570.6h1V570.3h1V570.6h1V569.2h1V568.9h1V571.6h1V570.0h1V569.4h1V570.1h1V570.2h1V570.1h1V570.8h1V571.5h1V572.4h1V571.9h1V572.5h1V571.4h1V571.0h1V569.7h1V569.9h1V570.1h1V570.1h1V571.1h1V570.1h1V569.9h1V571.9h1V572.5h1V570.4h1V570.2h1V569.8h1V570.8h1V570.9h1V570.5h1V571.1h1V572.2h1V570.1h1V569.4h1V570.3h1V570.9h1V570.1h1V571.4h1V570.4h1V570.3h1V571.6h1V571.9h1V570.7h1V569.3h1V568.8h1V571.1h1V572.0h1V572.1h1V569.6h1V570.5h1V569.6h1V571.2h1V569.9h1V570.7h1V571.0h1V571.0h1V570.8h1V570.5h1V569.6h1V569.5h1V570.5h1V570.1h1V570.2h1V571.0h1V570.3h1V570.1h1V569.6h1V569.6h1V570.2h1V568.9h1V570.7h1V571.2h1V569.1h1V569.5h1V570.5h1V569.7h1V568.1h1V567.9h1V569.0h1V569.9h1V568.6h1V568.8h1V570.5h1V569.0h1V569.8h1V569.7h1V569.1h1V568.1h1V568.9h1V569.4h1V568.8h1V568.0h1V568.9h1V569.0h1V567.1h1V566.8h1V566.6h1V567.8h1V569.2h1V567.5h1V566.0h1V567.8h1V568.5h1V567.8h1V567.2h1V567.1h1V567.4h1V565.9h1V567.3h1V566.8h1V567.2h1V567.7h1V568.3h1V567.4h1V567.8h1V565.9h1V567.0h1V566.1h1V566.2h1V567.0h1V567.3h1V567.1h1V566.3h1V565.1h1V566.2h1V565.7h1V564.4h1V565.0h1V566.4h1V566.0h1V564.8h1V563.8h1V564.9h1V565.8h1V566.6h1V566.9h1V567.0h1V565.9h1V566.2h1V566.3h1V564.4h1V563.7h1V565.3h1V565.3h1V564.7h1V564.8h1V565.3h1V563.8h1V562.9h1V563.2h1V564.3h1V563.0h1V564.9h1V563.5h1V562.7h1V696Z" fill="#bf853a"/>
<path d="M31,696V587.1h1V587.1h1V586.6h1V586.0h1V584.8h1V585.8h1V586.2h1V584.0h1V583.1h1V583.8h1V583.4h1V583.8h1V584.5h1V585.1h1V585.0h1V584.0h1V584.6h1V583.9h1V584.2h1V581.2h1V579.7h1V582.1h1V581.1h1V580.4h1V580.0h1V580.0h1V579.2h1V578.8h1V580.6h1V581.4h1V579.5h1V578.3h1V578.5h1V580.2h1V578.1h1V577.2h1V577.4h1V576.7h1V576.3h1V576.0h1V575.7h1V577.9h1V578.2h1V576.1h1V576.6h1V576.2h1V575.8h1V576.8h1V576.9h1V578.2h1V579.0h1V578.5h1V578.6h1V578.1h1V576.6h1V576.5h1V575.6h1V576.6h1V575.9h1V577.2h1V575.7h1V576.3h1V579.0h1V577.7h1V579.2h1V579.8h1V579.2h1V580.3h1V579.1h1V579.9h1V582.0h1V582.6h1V581.1h1V581.6h1V581.9h1V583.2h1V583.0h1V581.1h1V583.1h1V584.1h1V580.5h1V580.3h1V579.8h1V580.4h1V580.2h1V577.1h1V575.5h1V577.1h1V576.5h1V575.3h1V572.9h1V573.6h1V574.1h1V574.7h1V575.5h1V575.3h1V573.2h1V573.7h1V576.1h1V575.8h1V574.3h1V575.4h1V574.5h1V576.9h1V578.1h1V579.1h1V580.0h1V580.2h1V580.4h1V579.7h1V579.1h1V579.5h1V580.8h1V581.6h1V582.2h1V583.4h1V583.8h1V584.2h1V584.6h1V584.8h1V584.0h1V584.4h1V583.4h1V584.4h1V584.1h1V584.8h1V583.8h1V584.5h1V586.1h1V586.5h1V585.7h1V583.2h1V584.7h1V583.2h1V584.1h1V584.5h1V584.8h1V583.7h1V582.4h1V582.5h1V581.6h1V583.0h1V581.8h1V580.8h1V581.4h1V583.7h1V583.0h1V581.9h1V582.5h1V584.8h1V585.1h1V585.0h1V583.6h1V582.8h1V583.3h1V583.8h1V583.8h1V583.8h1V584.6h1V584.4h1V585.5h1V583.0h1V582.1h1V583.1h1V583.9h1V583.7h1V584.3h1V585.5h1V586.3h1V584.1h1V584.6h1V583.4h1V583.3h1V585.4h1V586.6h1V585.4h1V584.1h1V582.8h1V582.2h1V583.4h1V585.2h1V585.2h1V586.1h1V583.9h1V584.7h1V586.4h1V586.5h1V584.5h1V583.2h1V583.7h1V583.2h1V585.8h1V584.3h1V585.5h1V584.2h1V586.1h1V584.7h1V584.7h1V583.5h1V584.9h1V585.6h1V585.8h1V586.3h1V585.5h1V585.8h1V585.7h1V583.5h1V583.2h1V582.6h1V583.5h1V582.0h1V581.7h1V580.9h1V582.8h1V582.1h1V581.7h1V580.2h1V580.1h1V579.3h1V581.7h1V582.1h1V581.6h1V581.5h1V580.9h1V579.6h1V581.3h1V579.4h1V579.0h1V579.2h1V579.5h1V579.1h1V577.6h1V578.9h1V577.7h1V577.8h1V579.4h1V578.2h1V579.3h1V579.1h1V577.4h1V578.5h1V578.7h1V577.3h1V575.2h1V574.3h1V576.8h1V577.0h1V575.7h1V576.0h1V574.6h1V575.7h1V574.3h1V575.0h1V575.9h1V577.0h1V574.5h1V576.2h1V574.2h1V574.5h1V573.7h1V573.0h1V574.1h1V573.6h1V573.8h1V574.8h1V574.5h1V574.8h1V575.8h1V574.2h1V572.9h1V574.8h1V574.7h1V574.9h1V572.7h1V572.6h1V572.2h1V574.2h1V575.7h1V575.9h1V574.7h1V573.2h1V573.0h1V696Z" fill="#d7c280"/>
<path d="M31,696V597.2h1V597.2h1V594.7h1V593.6h1V593.9h1V593.4h1V592.7h1V592.7h1V594.2h1V593.8h1V593.9h1V595.4h1V592.7h1V591.9h1V593.4h1V592.1h1V593.5h1V592.3h1V591.6h1V593.3h1V591.5h1V591.7h1V592.7h1V593.2h1V591.7h1V592.6h1V593.4h1V593.6h1V593.2h1V592.5h1V592.7h1V593.4h1V592.6h1V591.1h1V591.3h1V592.3h1V590.1h1V590.1h1V589.6h1V591.8h1V592.8h1V592.3h1V590.3h1V591.0h1V592.4h1V590.3h1V590.2h1V591.7h1V591.3h1V590.3h1V589.9h1V592.0h1V592.7h1V593.3h1V591.9h1V592.7h1V590.7h1V589.0h1V589.5h1V591.0h1V590.9h1V591.1h1V592.6h1V592.8h1V593.3h1V593.1h1V591.3h1V592.5h1V591.8h1V592.8h1V591.3h1V593.0h1V593.4h1V592.1h1V593.3h1V593.3h1V593.6h1V592.2h1V591.4h1V592.9h1V591.8h1V594.2h1V592.4h1V592.2h1V590.6h1V590.2h1V591.1h1V590.4h1V588.7h1V588.6h1V590.2h1V590.2h1V589.4h1V589.1h1V587.9h1V588.0h1V587.7h1V588.7h1V590.1h1V589.4h1V588.5h1V590.9h1V592.8h1V591.5h1V589.7h1V590.0h1V590.8h1V589.8h1V592.6h1V591.9h1V592.3h1V594.0h1V591.6h1V592.6h1V591.8h1V591.7h1V594.8h1V593.3h1V593.4h1V595.9h1V596.4h1V594.8h1V594.9h1V596.3h1V594.6h1V594.5h1V595.0h1V593.9h1V596.0h1V595.5h1V596.6h1V597.5h1V597.6h1V595.0h1V594.0h1V594.6h1V594.5h1V595.8h1V596.1h1V595.8h1V595.0h1V597.2h1V596.2h1V594.5h1V595.8h1V597.6h1V597.2h1V596.9h1V597.5h1V596.4h1V597.7h1V596.5h1V597.5h1V596.4h1V595.4h1V597.6h1V595.9h1V597.6h1V596.9h1V597.0h1V596.0h1V596.5h1V597.2h1V596.1h1V596.6h1V598.1h1V596.7h1V595.8h1V596.6h1V596.8h1V597.3h1V598.4h1V598.7h1V597.8h1V596.7h1V596.0h1V594.6h1V595.6h1V596.8h1V594.9h1V597.1h1V596.3h1V597.0h1V598.2h1V597.5h1V595.2h1V597.3h1V597.4h1V596.9h1V596.5h1V594.8h1V596.2h1V596.8h1V597.4h1V597.5h1V597.6h1V596.6h1V596.3h1V597.2h1V597.2h1V597.7h1V595.5h1V595.3h1V594.4h1V594.2h1V595.0h1V596.8h1V596.0h1V594.3h1V595.1h1V596.4h1V594.9h1V593.7h1V594.4h1V595.9h1V595.2h1V594.6h1V594.0h1V593.0h1V595.1h1V595.9h1V594.4h1V594.1h1V594.6h1V595.2h1V592.4h1V591.8h1V593.2h1V591.9h1V592.0h1V593.8h1V591.9h1V592.0h1V591.2h1V593.4h1V592.2h1V592.5h1V593.6h1V593.5h1V592.8h1V591.4h1V590.2h1V591.9h1V591.5h1V591.6h1V591.9h1V591.0h1V590.2h1V592.2h1V592.6h1V591.9h1V592.4h1V592.9h1V591.7h1V590.5h1V591.9h1V592.6h1V592.9h1V593.2h1V593.1h1V591.5h1V589.5h1V590.2h1V592.1h1V592.0h1V592.7h1V591.1h1V591.1h1V590.0h1V589.6h1V589.4h1V591.2h1V590.4h1V588.9h1V589.7h1V591.3h1V589.7h1V588.7h1V588.7h1V588.7h1V589.7h1V590.6h1V696Z" fill="#efe8c2"/>
<path d="M31,696V603.8h1V603.8h1V603.4h1V604.5h1V604.9h1V603.1h1V602.7h1V603.1h1V603.8h1V602.8h1V603.5h1V602.6h1V602.3h1V602.8h1V601.9h1V601.3h1V601.7h1V602.6h1V603.1h1V602.5h1V602.3h1V601.1h1V600.8h1V602.1h1V602.2h1V601.9h1V601.3h1V600.0h1V599.8h1V600.4h1V599.9h1V600.2h1V601.4h1V601.9h1V600.6h1V601.0h1V600.0h1V599.5h1V599.4h1V600.1h1V599.4h1V599.1h1V600.4h1V601.4h1V600.1h1V599.8h1V600.3h1V600.0h1V599.4h1V600.0h1V600.1h1V600.2h1V601.2h1V600.5h1V601.1h1V601.8h1V600.9h1V599.8h1V601.1h1V600.6h1V600.3h1V600.6h1V600.3h1V601.4h1V601.7h1V601.6h1V600.5h1V600.5h1V600.7h1V602.1h1V602.2h1V602.1h1V601.9h1V602.4h1V601.5h1V602.3h1V603.3h1V603.5h1V602.3h1V602.3h1V602.8h1V601.1h1V600.9h1V600.1h1V599.6h1V600.7h1V600.6h1V600.0h1V599.2h1V599.7h1V599.6h1V598.8h1V598.9h1V596.9h1V597.9h1V598.3h1V597.3h1V597.3h1V598.7h1V598.7h1V598.9h1V599.9h1V600.5h1V600.9h1V600.5h1V600.9h1V600.9h1V601.5h1V601.0h1V601.3h1V602.0h1V600.7h1V601.7h1V602.5h1V601.6h1V602.3h1V601.4h1V601.1h1V602.5h1V601.7h1V602.8h1V603.8h1V603.3h1V601.9h1V601.7h1V603.3h1V604.4h1V602.9h1V603.7h1V602.9h1V602.7h1V603.1h1V603.2h1V604.2h1V603.0h1V604.0h1V604.6h1V604.2h1V603.5h1V603.8h1V604.8h1V605.1h1V604.9h1V604.8h1V603.9h1V604.1h1V604.9h1V604.9h1V603.8h1V604.8h1V604.2h1V604.7h1V604.0h1V605.0h1V604.7h1V604.4h1V603.9h1V605.1h1V604.5h1V604.4h1V604.7h1V603.9h1V604.3h1V605.6h1V605.8h1V604.3h1V604.2h1V605.4h1V605.6h1V604.4h1V604.9h1V604.6h1V604.4h1V605.2h1V605.2h1V604.6h1V604.7h1V604.7h1V604.9h1V605.0h1V603.9h1V604.0h1V604.0h1V604.9h1V604.2h1V603.9h1V603.4h1V604.7h1V603.9h1V603.1h1V603.8h1V603.4h1V603.2h1V604.3h1V603.5h1V604.7h1V604.7h1V604.9h1V604.7h1V603.6h1V602.8h1V602.9h1V602.7h1V602.6h1V602.3h1V602.7h1V604.3h1V603.1h1V603.1h1V603.1h1V603.9h1V603.5h1V603.6h1V603.4h1V602.9h1V602.6h1V603.8h1V603.0h1V602.7h1V603.5h1V603.2h1V603.7h1V602.9h1V602.1h1V603.2h1V601.9h1V602.7h1V601.6h1V602.6h1V602.5h1V601.9h1V600.9h1V602.0h1V602.0h1V601.8h1V601.3h1V602.0h1V602.7h1V602.9h1V602.0h1V601.3h1V601.8h1V600.8h1V600.2h1V600.3h1V599.9h1V600.5h1V601.7h1V600.6h1V600.3h1V601.0h1V600.4h1V599.4h1V599.5h1V600.7h1V601.3h1V600.7h1V600.4h1V600.7h1V599.9h1V600.1h1V598.7h1V599.5h1V599.2h1V598.5h1V599.8h1V600.0h1V598.8h1V599.5h1V598.7h1V598.8h1V599.7h1V598.7h1V598.6h1V599.4h1V597.9h1V597.0h1V596.7h1V598.4h1V598.4h1V598.0h1V598.5h1V696Z" fill="#ccefe5"/>
<path d="M31,696V609.6h1V609.6h1V609.5h1V610.5h1V609.9h1V609.4h1V608.5h1V608.0h1V609.8h1V610.4h1V610.0h1V608.0h1V607.6h1V608.8h1V608.5h1V608.1h1V608.6h1V607.2h1V606.3h1V607.7h1V607.4h1V608.2h1V608.4h1V608.6h1V607.3h1V607.8h1V607.9h1V607.4h1V607.9h1V606.7h1V606.1h1V607.4h1V607.9h1V608.3h1V607.7h1V607.7h1V606.6h1V607.4h1V607.3h1V606.7h1V606.0h1V607.6h1V608.1h1V607.5h1V606.1h1V606.1h1V607.2h1V607.7h1V606.1h1V606.8h1V607.7h1V607.5h1V606.4h1V606.0h1V607.3h1V608.0h1V606.7h1V607.5h1V607.8h1V606.4h1V605.9h1V606.8h1V608.0h1V607.1h1V606.2h1V606.4h1V607.6h1V607.2h1V607.3h1V606.8h1V607.8h1V608.0h1V608.4h1V607.1h1V608.1h1V608.8h1V609.3h1V608.4h1V607.2h1V607.7h1V607.2h1V607.8h1V607.9h1V606.3h1V606.0h1V604.9h1V605.4h1V604.7h1V604.5h1V603.8h1V604.2h1V603.5h1V603.3h1V603.8h1V603.7h1V602.6h1V602.9h1V603.9h1V603.0h1V603.6h1V603.0h1V602.6h1V603.5h1V604.3h1V605.3h1V605.9h1V604.5h1V604.1h1V605.5h1V605.9h1V604.5h1V605.5h1V605.4h1V606.4h1V605.3h1V605.4h1V607.1h1V607.2h1V606.8h1V607.0h1V606.2h1V606.6h1V606.5h1V607.5h1V607.3h1V608.0h1V607.3h1V606.5h1V607.1h1V608.2h1V607.3h1V608.6h1V609.6h1V608.8h1V608.6h1V609.6h1V609.6h1V609.1h1V608.4h1V610.0h1V610.4h1V610.5h1V610.1h1V610.0h1V609.2h1V609.5h1V609.5h1V610.3h1V610.2h1V608.9h1V609.3h1V609.6h1V610.0h1V609.3h1V609.7h1V610.2h1V610.3h1V609.9h1V609.0h1V608.6h1V609.6h1V609.7h1V610.2h1V609.5h1V608.8h1V609.7h1V609.2h1V609.3h1V610.0h1V610.5h1V609.3h1V609.7h1V610.6h1V609.8h1V609.8h1V610.6h1V611.1h1V609.8h1V609.4h1V609.3h1V609.0h1V609.1h1V609.2h1V610.0h1V610.0h1V610.3h1V609.8h1V609.4h1V609.5h1V609.3h1V609.0h1V609.9h1V609.5h1V609.4h1V610.1h1V610.1h1V610.4h1V609.5h1V609.3h1V609.6h1V610.3h1V610.3h1V610.6h1V609.0h1V608.1h1V608.4h1V609.6h1V609.3h1V609.0h1V610.0h1V610.0h1V609.5h1V609.2h1V608.5h1V608.1h1V608.2h1V608.2h1V609.4h1V608.7h1V607.6h1V607.6h1V607.6h1V609.0h1V609.4h1V609.2h1V609.1h1V609.5h1V607.9h1V607.9h1V607.5h1V607.8h1V607.7h1V607.6h1V608.8h1V608.7h1V607.4h1V607.3h1V608.3h1V607.2h1V608.0h1V607.8h1V607.5h1V606.7h1V607.0h1V608.3h1V607.4h1V607.0h1V606.2h1V606.3h1V607.6h1V606.8h1V605.7h1V607.2h1V606.9h1V606.6h1V607.1h1V606.5h1V605.7h1V607.1h1V606.0h1V606.5h1V607.6h1V606.6h1V605.7h1V607.0h1V607.2h1V606.7h1V606.0h1V604.9h1V605.5h1V606.3h1V606.4h1V606.5h1V605.5h1V605.8h1V605.1h1V604.6h1V605.3h1V606.1h1V606.0h1V605.9h1V604.4h1V696Z" fill="#8ddac3"/>
<path d="M31,696V613.7h1V613.7h1V613.4h1V614.9h1V615.1h1V614.7h1V613.8h1V614.8h1V613.4h1V612.7h1V613.1h1V613.6h1V613.2h1V614.2h1V614.4h1V613.4h1V612.8h1V613.9h1V613.7h1V612.2h1V612.9h1V613.5h1V611.8h1V611.3h1V611.4h1V612.4h1V612.9h1V611.8h1V612.1h1V611.9h1V611.0h1V612.1h1V612.8h1V612.9h1V611.5h1V611.5h1V612.0h1V611.2h1V612.0h1V612.1h1V612.2h1V612.4h1V612.5h1V612.8h1V612.7h1V612.6h1V611.9h1V610.8h1V611.4h1V612.0h1V611.2h1V610.5h1V610.3h1V611.4h1V612.0h1V610.8h1V611.9h1V612.7h1V612.3h1V611.9h1V611.4h1V611.3h1V611.9h1V612.8h1V612.0h1V611.2h1V611.4h1V612.0h1V611.7h1V612.9h1V613.5h1V612.5h1V612.3h1V611.9h1V613.3h1V612.4h1V612.2h1V612.8h1V614.3h1V613.7h1V612.1h1V612.8h1V613.5h1V612.1h1V611.4h1V611.9h1V611.5h1V611.0h1V610.2h1V610.1h1V608.7h1V609.1h1V608.9h1V608.2h1V609.6h1V609.7h1V609.0h1V609.5h1V609.2h1V609.3h1V610.2h1V609.6h1V609.0h1V608.9h1V610.5h1V610.3h1V610.2h1V611.4h1V611.7h1V611.2h1V612.1h1V611.5h1V611.7h1V611.6h1V612.0h1V612.7h1V612.0h1V611.8h1V613.1h1V613.3h1V612.5h1V612.6h1V613.3h1V613.3h1V612.3h1V613.4h1V613.1h1V613.8h1V614.7h1V613.5h1V614.4h1V613.3h1V614.2h1V614.8h1V614.0h1V613.8h1V614.6h1V614.4h1V614.8h1V614.7h1V614.6h1V615.0h1V615.5h1V616.2h1V616.2h1V615.3h1V614.6h1V614.4h1V615.0h1V615.9h1V616.2h1V615.3h1V616.2h1V616.1h1V614.5h1V614.1h1V614.9h1V614.6h1V614.3h1V614.3h1V614.8h1V614.4h1V615.6h1V615.8h1V614.8h1V616.1h1V616.3h1V616.0h1V616.2h1V615.3h1V615.2h1V614.4h1V614.6h1V614.9h1V615.5h1V615.1h1V614.2h1V614.2h1V615.6h1V616.4h1V615.7h1V615.7h1V615.5h1V616.3h1V615.3h1V615.1h1V616.0h1V616.6h1V615.4h1V614.5h1V614.1h1V614.2h1V614.2h1V615.1h1V614.4h1V614.7h1V614.2h1V615.3h1V614.4h1V614.5h1V616.0h1V615.2h1V614.8h1V615.1h1V615.1h1V614.9h1V614.6h1V614.2h1V614.4h1V614.5h1V613.9h1V614.3h1V613.9h1V614.8h1V613.9h1V614.8h1V614.1h1V613.2h1V613.2h1V613.2h1V613.8h1V613.3h1V613.8h1V613.8h1V613.7h1V614.8h1V614.9h1V614.1h1V614.1h1V613.8h1V614.1h1V614.6h1V613.2h1V612.8h1V613.2h1V613.6h1V612.5h1V613.7h1V613.3h1V612.2h1V612.3h1V613.6h1V613.1h1V613.6h1V612.8h1V611.9h1V612.4h1V612.7h1V612.7h1V612.5h1V613.1h1V613.7h1V611.8h1V612.6h1V613.2h1V612.1h1V611.6h1V612.7h1V611.5h1V610.7h1V611.7h1V611.8h1V612.5h1V613.0h1V612.3h1V612.7h1V611.9h1V612.3h1V610.9h1V610.2h1V610.5h1V610.4h1V611.8h1V611.5h1V610.1h1V611.2h1V611.8h1V611.7h1V611.7h1V611.2h1V611.6h1V610.4h1V696Z" fill="#56a893"/>
<path d="M31,696V617.2h1V617.2h1V618.5h1V618.2h1V616.9h1V618.2h1V618.4h1V619.0h1V618.3h1V617.3h1V617.0h1V617.4h1V618.7h1V618.5h1V618.6h1V618.7h1V619.0h1V617.1h1V617.4h1V618.4h1V618.0h1V618.5h1V617.2h1V616.8h1V617.6h1V617.3h1V617.5h1V616.7h1V616.4h1V616.3h1V617.6h1V618.3h1V618.8h1V618.0h1V616.6h1V617.3h1V617.2h1V618.3h1V617.5h1V618.0h1V618.4h1V618.7h1V617.2h1V617.3h1V617.4h1V618.4h1V617.3h1V618.0h1V618.6h1V617.9h1V618.2h1V617.2h1V616.5h1V618.0h1V617.6h1V617.8h1V617.0h1V617.6h1V617.4h1V617.6h1V616.7h1V618.0h1V617.3h1V616.9h1V617.0h1V616.7h1V616.2h1V616.3h1V616.9h1V617.2h1V617.4h1V617.4h1V616.8h1V617.9h1V617.7h1V617.7h1V617.9h1V618.4h1V618.0h1V617.5h1V618.0h1V616.5h1V616.5h1V617.1h1V616.6h1V617.3h1V616.3h1V617.1h1V616.6h1V615.5h1V616.4h1V616.2h1V615.9h1V616.6h1V616.3h1V616.4h1V616.7h1V616.5h1V617.1h1V617.3h1V616.4h1V616.6h1V617.3h1V617.9h1V617.7h1V616.9h1V617.7h1V617.6h1V617.7h1V617.4h1V617.0h1V618.0h1V617.9h1V616.9h1V617.3h1V618.0h1V617.7h1V618.8h1V619.3h1V618.3h1V619.0h1V617.9h1V618.6h1V619.1h1V618.9h1V619.0h1V619.1h1V618.5h1V617.7h1V619.0h1V619.6h1V618.4h1V617.7h1V618.8h1V619.2h1V618.1h1V617.9h1V619.3h1V618.5h1V619.4h1V618.9h1V619.8h1V619.6h1V619.6h1V619.3h1V619.4h1V619.8h1V620.1h1V619.4h1V619.9h1V620.9h1V620.9h1V619.8h1V620.0h1V620.4h1V620.9h1V620.5h1V619.6h1V618.8h1V620.6h1V620.0h1V619.8h1V620.0h1V620.6h1V620.6h1V620.6h1V620.2h1V619.5h1V620.7h1V620.5h1V620.8h1V619.8h1V619.2h1V618.7h1V618.7h1V619.0h1V619.1h1V619.2h1V619.7h1V620.9h1V620.3h1V618.8h1V620.4h1V619.8h1V619.2h1V619.1h1V619.1h1V619.1h1V618.5h1V619.3h1V620.0h1V620.0h1V620.0h1V619.7h1V619.3h1V618.7h1V619.9h1V619.9h1V619.7h1V619.4h1V619.5h1V619.6h1V619.4h1V618.6h1V619.4h1V619.5h1V618.8h1V617.8h1V618.8h1V619.0h1V617.9h1V618.0h1V618.2h1V618.6h1V618.5h1V618.0h1V618.6h1V618.6h1V617.1h1V616.3h1V616.4h1V616.8h1V617.0h1V617.6h1V618.1h1V617.7h1V617.4h1V617.8h1V617.8h1V617.9h1V616.5h1V616.0h1V616.0h1V617.4h1V617.8h1V616.2h1V616.9h1V617.0h1V616.0h1V617.0h1V617.0h1V615.7h1V615.0h1V616.0h1V616.8h1V617.4h1V617.2h1V615.8h1V615.6h1V616.7h1V616.7h1V615.4h1V615.5h1V615.9h1V615.2h1V615.7h1V616.1h1V615.6h1V615.8h1V616.0h1V614.7h1V614.4h1V614.3h1V615.8h1V616.3h1V616.5h1V616.2h1V614.5h1V615.3h1V616.3h1V614.6h1V615.2h1V614.8h1V615.6h1V614.6h1V614.0h1V615.0h1V615.7h1V614.2h1V614.1h1V614.8h1V614.3h1V696Z" fill="#2e7262"/>
<path d="M31,696V696.0h1V696.0h1V696.0h1V696.0h1V696.0h1V696.0h1V696.0h1V696.0h1V696.0h1V696.0h1V696.0h1V696.0h1V696.0h1V696.0h1V696.0h1V696.0h1V696.0h1V696.0h1V696.0h1V696.0h1V696.0h1V696.0h1V696.0h1V696.0h1V696.0h1V696.0h1V696.0h1V696.0h1V696.0h1V696.0h1V696.0h1V696.0h1V696.0h1V696.0h1V696.0h1V696.0h1V696.0h1V696.0h1V696.0h1V696.0h1V696.0h1V696.0h1V696.0h1V696.0h1V696.0h1V696.0h1V696.0h1V696.0h1V696.0h1V696.0h1V696.0h1V696.0h1V696.0h1V696.0h1V696.0h1V696.0h1V696.0h1V696.0h1V696.0h1V696.0h1V696.0h1V696.0h1V696.0h1V696.0h1V696.0h1V696.0h1V696.0h1V696.0h1V696.0h1V696.0h1V696.0h1V696.0h1V696.0h1V696.0h1V696.0h1V696.0h1V696.0h1V696.0h1V696.0h1V696.0h1V696.0h1V696.0h1V696.0h1V696.0h1V696.0h1V696.0h1V696.0h1V696.0h1V696.0h1V696.0h1V696.0h1V696.0h1V696.0h1V696.0h1V696.0h1V696.0h1V696.0h1V696.0h1V696.0h1V696.0h1V696.0h1V696.0h1V696.0h1V696.0h1V696.0h1V696.0h1V696.0h1V696.0h1V696.0h1V696.0h1V696.0h1V696.0h1V696.0h1V696.0h1V696.0h1V696.0h1V696.0h1V696.0h1V696.0h1V696.0h1V696.0h1V696.0h1V696.0h1V696.0h1V696.0h1V696.0h1V696.0h1V696.0h1V696.0h1V696.0h1V696.0h1V696.0h1V696.0h1V696.0h1V696.0h1V696.0h1V696.0h1V696.0h1V696.0h1V696.0h1V696.0h1V696.0h1V696.0h1V696.0h1V696.0h1V696.0h1V696.0h1V696.0h1V696.0h1V696.0h1V696.0h1V696.0h1V696.0h1V696.0h1V696.0h1V696.0h1V696.0h1V696.0h1V696.0h1V696.0h1V696.0h1V696.0h1V696.0h1V696.0h1V696.0h1V696.0h1V696.0h1V696.0h1V696.0h1V696.0h1V696.0h1V696.0h1V696.0h1V696.0h1V696.0h1V696.0h1V696.0h1V696.0h1V696.0h1V696.0h1V696.0h1V696.0h1V696.0h1V696.0h1V696.0h1V696.0h1V696.0h1V696.0h1V696.0h1V696.0h1V696.0h1V696.0h1V696.0h1V696.0h1V696.0h1V696.0h1V696.0h1V696.0h1V696.0h1V696.0h1V696.0h1V696.0h1V696.0h1V696.0h1V696.0h1V696.0h1V696.0h1V696.0h1V696.0h1V696.0h1V696.0h1V696.0h1V696.0h1V696.0h1V696.0h1V696.0h1V696.0h1V696.0h1V696.0h1V696.0h1V696.0h1V696.0h1V696.0h1V696.0h1V696.0h1V696.0h1V696.0h1V696.0h1V696.0h1V696.0h1V696.0h1V696.0h1V696.0h1V696.0h1V696.0h1V696.0h1V696.0h1V696.0h1V696.0h1V696.0h1V696.0h1V696.0h1V696.0h1V696.0h1V696.0h1V696.0h1V696.0h1V696.0h1V696.0h1V696.0h1V696.0h1V696.0h1V696.0h1V696.0h1V696.0h1V696.0h1V696.0h1V696.0h1V696.0h1V696.0h1V696.0h1V696.0h1V696.0h1V696.0h1V696.0h1V696.0h1V696.0h1V696.0h1V696.0h1V696.0h1V696.0h1V696.0h1V696.0h1V696.0h1V696.0h1V696.0h1V696.0h1V696.0h1V696.0h1V696.0h1V696.0h1V696.0h1V696Z" fill="#1c4837"/>
<path d="M31,696V696.0h1V696.0h1V696.0h1V696.0h1V696.0h1V696.0h1V696.0h1V696.0h1V696.0h1V696.0h1V696.0h1V696.0h1V696.0h1V696.0h1V696.0h1V696.0h1V696.0h1V696.0h1V696.0h1V696.0h1V696.0h1V696.0h1V696.0h1V696.0h1V696.0h1V696.0h1V696.0h1V696.0h1V696.0h1V696.0h1V696.0h1V696.0h1V696.0h1V696.0h1V696.0h1V696.0h1V696.0h1V696.0h1V696.0h1V696.0h1V696.0h1V696.0h1V696.0h1V696.0h1V696.0h1V696.0h1V696.0h1V696.0h1V696.0h1V696.0h1V696.0h1V696.0h1V696.0h1V696.0h1V696.0h1V696.0h1V696.0h1V696.0h1V696.0h1V696.0h1V696.0h1V696.0h1V696.0h1V696.0h1V696.0h1V696.0h1V696.0h1V696.0h1V696.0h1V696.0h1V696.0h1V696.0h1V696.0h1V696.0h1V696.0h1V696.0h1V696.0h1V696.0h1V696.0h1V696.0h1V696.0h1V696.0h1V696.0h1V696.0h1V696.0h1V696.0h1V696.0h1V696.0h1V696.0h1V696.0h1V696.0h1V696.0h1V696.0h1V696.0h1V696.0h1V696.0h1V696.0h1V696.0h1V696.0h1V696.0h1V696.0h1V696.0h1V696.0h1V696.0h1V696.0h1V696.0h1V696.0h1V696.0h1V696.0h1V696.0h1V696.0h1V696.0h1V696.0h1V696.0h1V696.0h1V696.0h1V696.0h1V696.0h1V696.0h1V696.0h1V696.0h1V696.0h1V696.0h1V696.0h1V696.0h1V696.0h1V696.0h1V696.0h1V696.0h1V696.0h1V696.0h1V696.0h1V696.0h1V696.0h1V696.0h1V696.0h1V696.0h1V696.0h1V696.0h1V696.0h1V696.0h1V696.0h1V696.0h1V696.0h1V696.0h1V696.0h1V696.0h1V696.0h1V696.0h1V696.0h1V696.0h1V696.0h1V696.0h1V696.0h1V696.0h1V696.0h1V696.0h1V696.0h1V696.0h1V696.0h1V696.0h1V696.0h1V696.0h1V696.0h1V696.0h1V696.0h1V696.0h1V696.0h1V696.0h1V696.0h1V696.0h1V696.0h1V696.0h1V696.0h1V696.0h1V696.0h1V696.0h1V696.0h1V696.0h1V696.0h1V696.0h1V696.0h1V696.0h1V696.0h1V696.0h1V696.0h1V696.0h1V696.0h1V696.0h1V696.0h1V696.0h1V696.0h1V696.0h1V696.0h1V696.0h1V696.0h1V696.0h1V696.0h1V696.0h1V696.0h1V696.0h1V696.0h1V696.0h1V696.0h1V696.0h1V696.0h1V696.0h1V696.0h1V696.0h1V696.0h1V696.0h1V696.0h1V696.0h1V696.0h1V696.0h1V696.0h1V696.0h1V696.0h1V696.0h1V696.0h1V696.0h1V696.0h1V696.0h1V696.0h1V696.0h1V696.0h1V696.0h1V696.0h1V696.0h1V696.0h1V696.0h1V696.0h1V696.0h1V696.0h1V696.0h1V696.0h1V696.0h1V696.0h1V696.0h1V696.0h1V696.0h1V696.0h1V696.0h1V696.0h1V696.0h1V696.0h1V696.0h1V696.0h1V696.0h1V696.0h1V696.0h1V696.0h1V696.0h1V696.0h1V696.0h1V696.0h1V696.0h1V696.0h1V696.0h1V696.0h1V696.0h1V696.0h1V696.0h1V696.0h1V696.0h1V696.0h1V696.0h1V696.0h1V696.0h1V696.0h1V696.0h1V696.0h1V696.0h1V696.0h1V696.0h1V696.0h1V696.0h1V696.0h1V696.0h1V696.0h1V696.0h1V696.0h1V696Z" fill="#2e7262"/>
<path d="M31,696V629.2h1V629.2h1V628.7h1V625.4h1V614.4h1V630.0h1V620.5h1V617.2h1V623.5h1V615.6h1V619.7h1V615.7h1V617.3h1V628.8h1V626.2h1V623.6h1V627.2h1V625.9h1V619.3h1V625.8h1V630.0h1V646.2h1V644.4h1V645.2h1V644.3h1V644.5h1V640.2h1V648.0h1V641.0h1V646.6h1V649.6h1V650.9h1V646.9h1V646.2h1V651.6h1V644.1h1V647.1h1V647.9h1V650.5h1V649.4h1V655.2h1V654.2h1V649.7h1V650.6h1V654.9h1V655.7h1V654.8h1V650.4h1V655.2h1V654.3h1V647.8h1V655.6h1V647.4h1V657.2h1V657.8h1V651.2h1V654.9h1V649.7h1V659.1h1V657.1h1V654.8h1V653.4h1V657.7h1V657.7h1V658.5h1V651.8h1V653.6h1V655.4h1V659.2h1V659.8h1V662.5h1V656.8h1V656.6h1V653.9h1V657.9h1V648.6h1V650.0h1V655.4h1V645.1h1V642.7h1V635.2h1V624.9h1V634.4h1V636.5h1V640.9h1V645.4h1V644.0h1V652.5h1V651.1h1V650.5h1V646.1h1V646.9h1V657.4h1V655.8h1V649.2h1V650.2h1V657.2h1V650.0h1V657.0h1V654.2h1V647.7h1V650.9h1V652.6h1V651.8h1V654.3h1V653.3h1V648.1h1V646.1h1V629.9h1V626.2h1V617.5h1V620.1h1V652.0h1V617.1h1V652.6h1V619.2h1V618.5h1V625.9h1V619.3h1V623.4h1V642.9h1V618.4h1V618.5h1V643.0h1V649.9h1V618.9h1V633.8h1V642.2h1V626.1h1V618.0h1V623.9h1V626.0h1V632.5h1V625.6h1V631.8h1V621.5h1V637.5h1V619.5h1V648.3h1V625.0h1V618.1h1V651.7h1V645.7h1V639.9h1V637.9h1V626.1h1V618.3h1V641.5h1V628.7h1V639.2h1V641.4h1V644.9h1V656.1h1V639.4h1V632.0h1V619.3h1V620.3h1V624.4h1V618.1h1V639.9h1V621.1h1V643.7h1V618.1h1V648.4h1V617.7h1V631.3h1V657.9h1V622.2h1V629.2h1V619.4h1V637.9h1V649.0h1V632.6h1V644.4h1V619.5h1V631.1h1V634.7h1V647.2h1V648.0h1V623.8h1V644.6h1V652.2h1V648.8h1V643.4h1V630.6h1V618.3h1V629.9h1V617.6h1V642.5h1V626.4h1V626.8h1V643.6h1V637.0h1V654.7h1V619.0h1V638.5h1V621.8h1V619.5h1V653.8h1V652.3h1V618.6h1V639.5h1V620.4h1V619.1h1V619.6h1V631.6h1V660.0h1V637.7h1V627.0h1V649.8h1V628.0h1V625.3h1V635.9h1V650.8h1V637.2h1V631.9h1V639.7h1V640.4h1V639.9h1V651.7h1V654.5h1V654.3h1V653.6h1V654.2h1V647.4h1V649.7h1V651.7h1V655.1h1V651.4h1V648.8h1V651.6h1V650.1h1V656.0h1V651.4h1V653.6h1V655.9h1V654.9h1V647.6h1V654.3h1V647.8h1V656.3h1V648.0h1V654.7h1V656.3h1V654.7h1V654.7h1V653.6h1V655.5h1V654.0h1V651.6h1V655.1h1V653.1h1V654.5h1V651.1h1V656.4h1V651.6h1V656.1h1V654.5h1V650.1h1V655.8h1V648.1h1V654.0h1V654.7h1V654.4h1V646.8h1V656.2h1V654.7h1V654.8h1V649.2h1V655.8h1V654.3h1V654.5h1V655.6h1V656.5h1V655.7h1V654.8h1V653.6h1V649.0h1V646.7h1V654.5h1V654.1h1V649.1h1V696Z" fill="#56a893"/>
<path d="M31,696V669.6h1V669.6h1V667.8h1V666.8h1V667.7h1V668.6h1V668.3h1V668.6h1V667.8h1V667.1h1V668.9h1V667.7h1V667.9h1V667.6h1V669.2h1V667.8h1V667.4h1V666.9h1V669.0h1V669.7h1V667.9h1V667.9h1V667.3h1V667.7h1V668.6h1V668.5h1V667.3h1V666.7h1V668.1h1V669.1h1V668.1h1V668.4h1V668.0h1V669.0h1V669.7h1V668.9h1V667.3h1V667.9h1V666.6h1V668.0h1V669.2h1V669.3h1V667.2h1V667.2h1V667.0h1V667.0h1V666.4h1V668.3h1V668.9h1V666.9h1V668.5h1V669.5h1V668.9h1V668.9h1V668.8h1V667.0h1V668.2h1V669.4h1V668.8h1V668.0h1V667.3h1V667.2h1V667.1h1V668.0h1V667.8h1V667.7h1V667.8h1V667.9h1V668.7h1V668.4h1V669.6h1V669.9h1V669.4h1V666.4h1V664.9h1V664.4h1V665.7h1V665.1h1V664.2h1V662.0h1V661.3h1V662.3h1V662.8h1V661.2h1V662.5h1V662.7h1V662.1h1V663.6h1V663.5h1V664.6h1V665.9h1V665.9h1V665.2h1V666.2h1V667.9h1V667.6h1V666.6h1V666.4h1V668.6h1V667.9h1V668.8h1V669.3h1V668.9h1V667.5h1V668.5h1V669.2h1V668.7h1V669.4h1V669.2h1V668.5h1V667.7h1V669.2h1V669.7h1V668.2h1V669.8h1V668.3h1V667.1h1V667.3h1V669.0h1V668.5h1V669.4h1V670.2h1V668.1h1V668.0h1V670.0h1V670.5h1V669.0h1V668.1h1V669.6h1V669.7h1V670.0h1V669.9h1V670.3h1V671.0h1V669.0h1V669.6h1V669.0h1V670.6h1V668.8h1V669.1h1V670.4h1V670.0h1V669.3h1V668.2h1V670.1h1V668.9h1V669.4h1V669.7h1V670.0h1V671.4h1V669.9h1V669.2h1V670.9h1V671.1h1V669.8h1V669.0h1V669.5h1V669.8h1V671.2h1V669.5h1V669.9h1V670.9h1V669.3h1V670.3h1V670.9h1V669.6h1V669.0h1V670.8h1V670.7h1V671.4h1V671.6h1V669.7h1V668.9h1V669.0h1V669.0h1V670.2h1V670.3h1V669.6h1V669.3h1V669.2h1V669.5h1V671.1h1V670.3h1V669.1h1V669.9h1V670.1h1V669.2h1V668.7h1V670.5h1V671.8h1V671.3h1V671.0h1V672.0h1V671.2h1V671.5h1V672.3h1V670.8h1V671.3h1V669.8h1V669.0h1V670.6h1V670.0h1V671.3h1V670.9h1V670.9h1V670.4h1V670.3h1V669.9h1V669.9h1V669.9h1V669.1h1V669.3h1V670.4h1V671.4h1V671.1h1V669.6h1V669.0h1V669.3h1V670.7h1V670.2h1V669.9h1V668.3h1V669.8h1V669.7h1V669.2h1V667.9h1V668.6h1V668.7h1V670.1h1V668.3h1V669.0h1V668.9h1V668.2h1V669.5h1V668.1h1V666.8h1V669.0h1V669.0h1V666.9h1V667.4h1V668.6h1V667.0h1V668.5h1V667.7h1V667.5h1V668.3h1V669.3h1V667.8h1V667.3h1V667.7h1V666.6h1V667.3h1V666.4h1V665.8h1V666.4h1V667.9h1V668.2h1V667.0h1V665.9h1V667.5h1V666.2h1V666.7h1V666.9h1V666.9h1V665.4h1V666.2h1V667.5h1V666.1h1V666.4h1V667.7h1V665.4h1V666.2h1V665.2h1V664.7h1V665.4h1V666.9h1V667.4h1V665.6h1V666.4h1V665.8h1V664.6h1V666.3h1V696Z" fill="#8ddac3"/>
<path d="M31,696V676.1h1V676.1h1V676.2h1V675.2h1V674.7h1V674.3h1V674.8h1V675.3h1V675.1h1V676.2h1V676.6h1V675.0h1V675.2h1V674.6h1V675.0h1V675.1h1V675.5h1V675.8h1V674.5h1V675.4h1V674.7h1V674.2h1V675.6h1V675.8h1V674.4h1V674.8h1V675.4h1V674.7h1V675.3h1V674.9h1V674.5h1V673.8h1V674.7h1V675.4h1V676.0h1V675.9h1V675.9h1V674.9h1V674.9h1V674.0h1V673.6h1V673.7h1V674.6h1V674.0h1V674.8h1V675.7h1V674.3h1V673.4h1V675.3h1V675.0h1V673.8h1V675.4h1V675.5h1V675.9h1V674.5h1V673.8h1V674.5h1V675.7h1V676.1h1V675.5h1V675.5h1V675.7h1V676.3h1V676.1h1V676.5h1V676.0h1V674.5h1V675.3h1V675.4h1V674.7h1V674.4h1V676.0h1V674.7h1V673.8h1V673.9h1V672.9h1V673.8h1V672.3h1V671.5h1V670.8h1V670.1h1V670.6h1V670.7h1V670.3h1V669.9h1V671.6h1V672.3h1V673.1h1V673.3h1V673.3h1V674.3h1V673.4h1V674.4h1V673.2h1V673.6h1V674.4h1V674.6h1V675.6h1V675.9h1V674.5h1V675.2h1V675.3h1V674.5h1V674.7h1V675.5h1V676.7h1V676.0h1V676.1h1V676.7h1V676.5h1V675.1h1V675.5h1V675.4h1V674.6h1V675.3h1V676.6h1V676.9h1V676.0h1V676.6h1V675.6h1V674.8h1V676.5h1V676.9h1V677.2h1V677.2h1V677.2h1V676.6h1V677.0h1V676.2h1V675.3h1V676.7h1V675.9h1V676.1h1V676.6h1V675.9h1V675.7h1V676.1h1V675.4h1V675.2h1V675.4h1V675.8h1V676.0h1V676.7h1V675.6h1V675.4h1V676.1h1V675.6h1V676.6h1V676.4h1V676.8h1V677.1h1V675.8h1V675.5h1V676.8h1V676.0h1V675.8h1V676.6h1V676.4h1V677.2h1V676.9h1V675.9h1V676.6h1V678.1h1V677.5h1V677.3h1V676.5h1V676.9h1V676.5h1V676.4h1V676.9h1V676.4h1V676.3h1V677.7h1V677.7h1V677.5h1V677.9h1V678.2h1V678.3h1V678.2h1V676.8h1V677.9h1V676.6h1V677.1h1V676.7h1V677.9h1V677.8h1V677.3h1V677.5h1V677.5h1V677.7h1V676.9h1V677.2h1V677.0h1V676.6h1V677.4h1V677.5h1V676.5h1V677.3h1V677.3h1V677.7h1V677.4h1V677.8h1V678.2h1V677.5h1V677.8h1V676.6h1V676.2h1V675.8h1V676.1h1V677.3h1V676.2h1V676.1h1V677.1h1V675.7h1V675.5h1V675.5h1V675.3h1V675.2h1V676.4h1V677.1h1V675.7h1V675.2h1V676.2h1V675.8h1V675.1h1V674.4h1V674.3h1V674.1h1V674.1h1V675.7h1V676.0h1V674.8h1V675.0h1V674.8h1V675.6h1V674.6h1V674.8h1V675.7h1V674.9h1V673.9h1V673.5h1V674.9h1V674.9h1V674.9h1V674.1h1V673.4h1V672.9h1V673.1h1V672.9h1V673.2h1V673.7h1V673.5h1V674.5h1V674.8h1V675.1h1V673.7h1V673.2h1V674.3h1V674.3h1V674.2h1V672.8h1V673.9h1V673.9h1V672.7h1V673.4h1V673.1h1V672.1h1V673.7h1V673.4h1V672.3h1V673.0h1V672.2h1V671.9h1V673.5h1V673.4h1V672.2h1V673.2h1V672.5h1V671.7h1V671.9h1V673.3h1V672.7h1V696Z" fill="#ccefe5"/>
<path d="M31,696V681.9h1V681.9h1V681.8h1V682.0h1V682.4h1V683.5h1V683.9h1V682.6h1V682.0h1V681.6h1V681.2h1V682.2h1V681.6h1V681.6h1V681.7h1V681.1h1V682.0h1V681.8h1V682.0h1V681.9h1V681.5h1V682.5h1V682.5h1V681.4h1V682.5h1V683.3h1V682.8h1V682.2h1V682.3h1V681.6h1V682.5h1V682.3h1V682.3h1V682.4h1V682.4h1V682.6h1V682.2h1V681.7h1V682.5h1V682.4h1V682.0h1V682.2h1V682.3h1V683.1h1V681.3h1V682.2h1V682.2h1V681.8h1V681.5h1V682.3h1V682.1h1V681.0h1V682.5h1V683.3h1V682.4h1V681.6h1V681.6h1V682.0h1V682.7h1V682.9h1V681.8h1V681.1h1V681.8h1V681.6h1V682.8h1V683.1h1V681.8h1V681.5h1V682.4h1V683.2h1V682.8h1V683.1h1V682.3h1V682.7h1V681.0h1V680.9h1V681.8h1V681.2h1V679.1h1V678.9h1V679.9h1V679.3h1V677.8h1V676.6h1V677.9h1V678.3h1V679.9h1V680.5h1V680.1h1V680.9h1V679.9h1V680.6h1V680.7h1V681.6h1V682.4h1V680.8h1V680.2h1V681.8h1V683.0h1V681.6h1V682.5h1V682.8h1V681.7h1V681.6h1V683.1h1V683.0h1V683.1h1V683.6h1V682.6h1V682.6h1V682.5h1V681.9h1V683.6h1V682.4h1V681.7h1V681.8h1V681.6h1V682.4h1V682.9h1V682.7h1V683.5h1V684.2h1V683.7h1V682.7h1V682.9h1V683.5h1V682.6h1V682.5h1V684.0h1V683.7h1V684.2h1V684.3h1V684.0h1V682.8h1V683.9h1V683.5h1V682.7h1V683.1h1V684.2h1V683.2h1V683.1h1V682.8h1V683.7h1V682.7h1V681.9h1V682.0h1V683.5h1V683.9h1V682.8h1V682.6h1V683.1h1V682.5h1V683.8h1V683.7h1V683.2h1V683.0h1V683.5h1V684.2h1V683.4h1V683.4h1V684.7h1V685.0h1V683.7h1V683.3h1V684.5h1V685.0h1V685.1h1V685.0h1V684.9h1V684.1h1V684.1h1V684.6h1V683.2h1V684.2h1V684.0h1V683.8h1V684.0h1V684.8h1V684.8h1V683.9h1V684.7h1V684.0h1V684.7h1V683.3h1V684.1h1V683.3h1V683.2h1V684.6h1V683.9h1V684.5h1V685.1h1V683.8h1V683.0h1V683.1h1V682.8h1V683.1h1V683.2h1V684.6h1V685.2h1V685.3h1V684.9h1V683.5h1V684.1h1V683.9h1V682.8h1V682.8h1V682.5h1V682.7h1V682.6h1V682.8h1V683.4h1V683.3h1V683.0h1V684.0h1V683.7h1V683.4h1V683.2h1V682.5h1V681.8h1V682.8h1V683.2h1V682.9h1V682.1h1V683.0h1V681.8h1V682.0h1V683.2h1V683.2h1V681.9h1V682.6h1V682.3h1V682.0h1V682.6h1V682.0h1V682.2h1V682.0h1V682.0h1V681.6h1V680.9h1V680.3h1V681.2h1V681.6h1V681.5h1V682.2h1V681.9h1V680.6h1V681.0h1V682.1h1V681.2h1V680.4h1V679.9h1V679.7h1V679.9h1V680.0h1V680.0h1V681.5h1V681.0h1V680.7h1V680.5h1V680.4h1V681.6h1V681.5h1V681.0h1V681.3h1V681.1h1V680.7h1V681.2h1V680.4h1V680.0h1V680.0h1V680.9h1V680.5h1V680.3h1V680.8h1V681.4h1V680.1h1V679.1h1V679.1h1V679.8h1V679.9h1V679.1h1V679.6h1V696Z" fill="#efe8c2"/>
<path d="M31,696V688.3h1V688.3h1V687.8h1V687.6h1V687.2h1V687.1h1V686.8h1V688.0h1V689.0h1V688.3h1V688.6h1V687.5h1V688.2h1V688.2h1V688.7h1V689.1h1V688.9h1V689.0h1V687.2h1V687.0h1V688.1h1V687.4h1V686.7h1V686.7h1V686.5h1V687.1h1V686.9h1V687.8h1V687.5h1V688.3h1V688.4h1V686.8h1V687.5h1V687.0h1V687.4h1V687.2h1V686.5h1V686.5h1V687.3h1V687.6h1V686.4h1V686.5h1V686.1h1V687.0h1V687.5h1V686.7h1V686.7h1V688.0h1V688.4h1V686.6h1V687.0h1V687.9h1V688.4h1V686.8h1V686.7h1V686.8h1V686.4h1V686.1h1V686.2h1V687.8h1V686.9h1V686.2h1V686.7h1V686.8h1V686.9h1V686.9h1V687.4h1V688.6h1V688.2h1V688.5h1V687.7h1V687.4h1V688.2h1V688.4h1V688.2h1V687.8h1V687.3h1V685.4h1V685.1h1V685.1h1V684.9h1V684.3h1V684.9h1V684.2h1V683.6h1V683.6h1V684.8h1V684.8h1V686.1h1V685.3h1V685.8h1V686.2h1V687.3h1V686.1h1V685.7h1V687.6h1V688.0h1V687.0h1V686.9h1V687.3h1V687.0h1V687.5h1V688.0h1V688.8h1V687.4h1V688.6h1V688.6h1V688.4h1V687.9h1V687.5h1V687.3h1V688.2h1V687.8h1V688.7h1V689.4h1V689.0h1V689.3h1V688.2h1V687.7h1V687.7h1V687.7h1V688.5h1V688.1h1V688.9h1V688.2h1V689.4h1V689.9h1V688.4h1V687.7h1V688.3h1V689.2h1V688.7h1V689.6h1V689.0h1V688.0h1V689.3h1V688.4h1V687.5h1V688.7h1V688.2h1V689.0h1V689.7h1V689.0h1V688.1h1V689.4h1V689.8h1V688.6h1V688.7h1V689.7h1V690.0h1V689.7h1V690.2h1V690.5h1V690.3h1V689.4h1V689.2h1V689.2h1V689.7h1V690.1h1V688.7h1V688.5h1V688.1h1V688.0h1V689.7h1V690.3h1V689.7h1V689.1h1V689.9h1V690.0h1V688.7h1V688.7h1V690.0h1V689.8h1V690.3h1V690.7h1V689.4h1V689.2h1V688.7h1V689.7h1V689.5h1V689.6h1V689.3h1V689.3h1V688.7h1V690.0h1V689.6h1V689.5h1V690.1h1V688.8h1V688.0h1V689.7h1V690.2h1V689.8h1V689.2h1V689.6h1V688.8h1V689.3h1V689.9h1V689.3h1V688.8h1V689.0h1V690.1h1V688.6h1V688.6h1V688.4h1V688.8h1V689.6h1V689.8h1V690.2h1V688.7h1V688.6h1V688.3h1V688.3h1V689.4h1V688.4h1V689.1h1V688.1h1V688.1h1V687.8h1V687.8h1V687.5h1V689.0h1V688.8h1V689.0h1V689.2h1V688.0h1V687.6h1V687.3h1V688.0h1V687.3h1V687.3h1V687.0h1V687.5h1V688.5h1V687.3h1V688.2h1V687.4h1V687.3h1V688.0h1V687.2h1V688.0h1V688.0h1V687.8h1V688.6h1V688.3h1V687.4h1V686.9h1V686.6h1V687.9h1V688.2h1V688.4h1V687.9h1V686.9h1V686.1h1V686.4h1V687.1h1V687.5h1V687.4h1V686.7h1V687.1h1V686.3h1V687.1h1V687.0h1V687.0h1V687.5h1V687.8h1V685.9h1V687.1h1V687.6h1V686.8h1V685.9h1V687.0h1V686.8h1V687.2h1V686.3h1V686.5h1V686.0h1V685.6h1V685.5h1V686.7h1V686.9h1V685.3h1V696Z" fill="#d7c280"/>
<path d="M31,696V694.2h1V694.2h1V694.2h1V693.8h1V694.4h1V694.7h1V694.5h1V693.2h1V694.1h1V693.8h1V693.4h1V694.6h1V694.4h1V693.3h1V693.4h1V693.6h1V694.6h1V693.8h1V692.8h1V692.8h1V693.3h1V693.9h1V694.2h1V694.3h1V693.3h1V694.2h1V693.2h1V693.1h1V694.3h1V693.7h1V694.3h1V693.4h1V692.7h1V693.9h1V694.1h1V692.7h1V693.5h1V693.7h1V692.6h1V693.5h1V692.5h1V692.6h1V692.4h1V693.2h1V694.0h1V694.0h1V692.8h1V691.9h1V693.5h1V692.5h1V693.4h1V693.7h1V692.4h1V693.6h1V693.7h1V694.0h1V694.2h1V694.2h1V693.8h1V694.0h1V692.7h1V693.7h1V693.7h1V692.5h1V693.7h1V694.8h1V693.1h1V694.0h1V693.0h1V694.0h1V693.1h1V693.7h1V694.0h1V692.5h1V692.7h1V693.6h1V692.7h1V692.4h1V692.8h1V693.2h1V692.2h1V691.9h1V692.3h1V692.1h1V690.8h1V690.8h1V692.1h1V692.3h1V692.1h1V691.7h1V692.1h1V692.0h1V692.7h1V692.1h1V692.1h1V693.5h1V692.8h1V692.4h1V692.7h1V692.8h1V692.8h1V693.9h1V694.8h1V693.9h1V693.6h1V693.4h1V694.7h1V695.4h1V695.3h1V695.4h1V694.5h1V694.9h1V694.6h1V695.0h1V694.8h1V695.1h1V695.1h1V694.9h1V694.7h1V693.5h1V693.8h1V695.1h1V695.0h1V695.0h1V694.1h1V693.8h1V694.2h1V694.8h1V695.2h1V694.2h1V694.2h1V694.5h1V694.2h1V694.7h1V694.0h1V695.2h1V695.6h1V694.3h1V694.3h1V695.1h1V695.8h1V694.6h1V693.9h1V695.0h1V694.9h1V694.8h1V694.6h1V695.4h1V694.3h1V694.0h1V694.5h1V694.2h1V694.0h1V694.2h1V693.5h1V694.3h1V694.5h1V694.3h1V694.7h1V694.9h1V694.5h1V694.5h1V695.4h1V695.1h1V695.3h1V694.9h1V694.5h1V695.2h1V695.6h1V695.3h1V695.5h1V693.9h1V694.1h1V694.3h1V693.7h1V693.9h1V694.3h1V694.7h1V695.3h1V695.8h1V695.3h1V694.4h1V694.6h1V695.2h1V694.7h1V694.5h1V694.8h1V694.7h1V695.4h1V693.8h1V694.0h1V694.0h1V695.0h1V695.5h1V695.4h1V695.4h1V693.9h1V694.6h1V695.0h1V693.9h1V694.4h1V694.8h1V694.5h1V694.4h1V695.1h1V694.3h1V694.9h1V694.0h1V694.6h1V693.6h1V693.0h1V694.0h1V693.4h1V693.4h1V693.2h1V693.4h1V694.3h1V694.8h1V693.8h1V693.4h1V694.0h1V693.4h1V694.5h1V695.3h1V694.5h1V694.1h1V694.1h1V693.9h1V693.8h1V693.4h1V694.0h1V693.8h1V694.2h1V694.1h1V694.7h1V693.6h1V693.0h1V693.2h1V692.7h1V692.9h1V692.9h1V692.8h1V694.3h1V693.4h1V693.9h1V694.4h1V693.3h1V694.2h1V693.8h1V693.8h1V693.3h1V693.9h1V693.4h1V694.3h1V693.7h1V694.3h1V694.8h1V693.9h1V694.0h1V693.2h1V693.5h1V692.6h1V692.5h1V692.8h1V692.7h1V694.1h1V693.6h1V693.4h1V694.0h1V693.0h1V691.9h1V693.4h1V693.9h1V692.3h1V693.4h1V693.8h1V693.1h1V693.0h1V694.0h1V693.6h1V693.6h1V693.6h1V696Z" fill="#bf853a"/></g><rect x="32" y="627.0" width="280" height="1" fill="#8fc23e"/><path d="M31.50,636.8H32.50V642.4H31.50ZM32.25,641.9H34.75V647.5H32.25ZM34.50,636.8H35.50V642.4H34.50ZM35.50,631.7H36.50V637.3H35.50ZM36.50,626.6H37.50V632.2H36.50ZM37.25,631.7H45.75V637.3H37.25ZM45.50,626.6H46.50V632.2H45.50ZM46.25,631.7H52.75V637.3H46.25ZM52.50,636.8H53.50V642.4H52.50ZM53.25,631.7H61.75V637.3H53.25ZM61.50,626.6H62.50V632.2H61.50ZM62.25,631.7H66.75V637.3H62.25ZM66.50,626.6H67.50V632.2H66.50ZM67.25,631.7H74.75V637.3H67.25ZM74.50,626.6H75.50V632.2H74.50ZM75.25,631.7H77.75V637.3H75.25ZM77.50,626.6H78.50V632.2H77.50ZM78.25,631.7H82.75V637.3H78.25ZM82.50,626.6H83.50V632.2H82.50ZM83.25,631.7H92.75V637.3H83.25ZM92.50,636.8H93.50V642.4H92.50ZM93.25,631.7H99.75V637.3H93.25ZM99.50,626.6H100.50V632.2H99.50ZM100.25,631.7H108.75V637.3H100.25ZM108.50,626.6H109.50V632.2H108.50ZM109.25,631.7H118.75V637.3H109.25ZM118.50,616.4H119.50V622.0H118.50ZM119.25,631.7H123.75V637.3H119.25ZM123.50,621.5H124.50V627.1H123.50ZM124.50,631.7H125.50V637.3H124.50ZM125.50,626.6H126.50V632.2H125.50ZM126.25,631.7H130.75V637.3H126.25ZM130.50,626.6H131.50V632.2H130.50ZM131.25,631.7H135.75V637.3H131.25ZM135.50,626.6H136.50V632.2H135.50ZM136.25,631.7H138.75V637.3H136.25ZM138.50,626.6H139.50V632.2H138.50ZM139.25,631.7H145.75V637.3H139.25ZM145.50,641.9H146.50V647.5H145.50ZM146.25,631.7H149.75V637.3H146.25ZM149.50,626.6H150.50V632.2H149.50ZM150.25,631.7H155.75V637.3H150.25ZM155.50,636.8H156.50V642.4H155.50ZM156.25,631.7H158.75V637.3H156.25ZM158.50,636.8H159.50V642.4H158.50ZM159.50,631.7H160.50V637.3H159.50ZM160.50,652.1H161.50V657.7H160.50ZM161.25,631.7H165.75V637.3H161.25ZM165.50,647.0H166.50V652.6H165.50ZM166.25,631.7H169.75V637.3H166.25ZM169.50,636.8H170.50V642.4H169.50ZM170.25,631.7H172.75V637.3H170.25ZM172.50,636.8H173.50V642.4H172.50ZM173.25,631.7H175.75V637.3H173.25ZM175.25,636.8H180.75V642.4H175.25ZM180.50,631.7H181.50V637.3H180.50ZM181.50,641.9H182.50V647.5H181.50ZM182.50,631.7H183.50V637.3H182.50ZM183.25,626.6H188.75V632.2H183.25ZM188.25,631.7H190.75V637.3H188.25ZM190.50,636.8H191.50V642.4H190.50ZM191.50,631.7H192.50V637.3H191.50ZM192.50,626.6H193.50V632.2H192.50ZM193.25,631.7H196.75V637.3H193.25ZM196.50,636.8H197.50V642.4H196.50ZM197.25,631.7H202.75V637.3H197.25ZM202.50,626.6H203.50V632.2H202.50ZM203.25,631.7H207.75V637.3H203.25ZM207.50,626.6H208.50V632.2H207.50ZM208.25,631.7H212.75V637.3H208.25ZM212.50,626.6H213.50V632.2H212.50ZM213.25,631.7H219.75V637.3H213.25ZM219.50,626.6H220.50V632.2H219.50ZM220.25,631.7H232.75V637.3H220.25ZM232.50,626.6H233.50V632.2H232.50ZM233.25,631.7H242.75V637.3H233.25ZM242.50,626.6H243.50V632.2H242.50ZM243.25,631.7H252.75V637.3H243.25ZM252.50,626.6H253.50V632.2H252.50ZM253.25,631.7H260.75V637.3H253.25ZM260.50,626.6H261.50V632.2H260.50ZM261.25,631.7H265.75V637.3H261.25ZM265.50,626.6H266.50V632.2H265.50ZM266.25,631.7H274.75V637.3H266.25ZM274.50,626.6H275.50V632.2H274.50ZM275.25,631.7H285.75V637.3H275.25ZM285.50,626.6H286.50V632.2H285.50ZM286.25,631.7H290.75V637.3H286.25ZM290.50,636.8H291.50V642.4H290.50ZM291.25,631.7H297.75V637.3H291.25ZM297.50,626.6H298.50V632.2H297.50ZM298.25,631.7H302.75V637.3H298.25ZM302.50,626.6H303.50V632.2H302.50ZM303.25,631.7H312.75V637.3H303.25ZM29.3,639.1H34.7V640.1H29.3ZM30.3,644.2H36.7V645.2H30.3ZM32.3,639.1H37.7V640.1H32.3ZM33.3,634.0H38.7V635.0H33.3ZM34.3,628.9H39.7V629.9H34.3ZM35.3,634.0H47.7V635.0H35.3ZM43.3,628.9H48.7V629.9H43.3ZM44.3,634.0H54.7V635.0H44.3ZM50.3,639.1H55.7V640.1H50.3ZM51.3,634.0H63.7V635.0H51.3ZM59.3,628.9H64.7V629.9H59.3ZM60.3,634.0H68.7V635.0H60.3ZM64.3,628.9H69.7V629.9H64.3ZM65.3,634.0H76.7V635.0H65.3ZM72.3,628.9H77.7V629.9H72.3ZM73.3,634.0H79.7V635.0H73.3ZM75.3,628.9H80.7V629.9H75.3ZM76.3,634.0H84.7V635.0H76.3ZM80.3,628.9H85.7V629.9H80.3ZM81.3,634.0H94.7V635.0H81.3ZM90.3,639.1H95.7V640.1H90.3ZM91.3,634.0H101.7V635.0H91.3ZM97.3,628.9H102.7V629.9H97.3ZM98.3,634.0H110.7V635.0H98.3ZM106.3,628.9H111.7V629.9H106.3ZM107.3,634.0H120.7V635.0H107.3ZM116.3,618.7H121.7V619.7H116.3ZM117.3,634.0H125.7V635.0H117.3ZM121.3,623.8H126.7V624.8H121.3ZM122.3,634.0H127.7V635.0H122.3ZM123.3,628.9H128.7V629.9H123.3ZM124.3,634.0H132.7V635.0H124.3ZM128.3,628.9H133.7V629.9H128.3ZM129.3,634.0H137.7V635.0H129.3ZM133.3,628.9H138.7V629.9H133.3ZM134.3,634.0H140.7V635.0H134.3ZM136.3,628.9H141.7V629.9H136.3ZM137.3,634.0H147.7V635.0H137.3ZM143.3,644.2H148.7V645.2H143.3ZM144.3,634.0H151.7V635.0H144.3ZM147.3,628.9H152.7V629.9H147.3ZM148.3,634.0H157.7V635.0H148.3ZM153.3,639.1H158.7V640.1H153.3ZM154.3,634.0H160.7V635.0H154.3ZM156.3,639.1H161.7V640.1H156.3ZM157.3,634.0H162.7V635.0H157.3ZM158.3,654.4H163.7V655.4H158.3ZM159.3,634.0H167.7V635.0H159.3ZM163.3,649.3H168.7V650.3H163.3ZM164.3,634.0H171.7V635.0H164.3ZM167.3,639.1H172.7V640.1H167.3ZM168.3,634.0H174.7V635.0H168.3ZM170.3,639.1H175.7V640.1H170.3ZM171.3,634.0H177.7V635.0H171.3ZM173.3,639.1H182.7V640.1H173.3ZM178.3,634.0H183.7V635.0H178.3ZM179.3,644.2H184.7V645.2H179.3ZM180.3,634.0H185.7V635.0H180.3ZM181.3,628.9H190.7V629.9H181.3ZM186.3,634.0H192.7V635.0H186.3ZM188.3,639.1H193.7V640.1H188.3ZM189.3,634.0H194.7V635.0H189.3ZM190.3,628.9H195.7V629.9H190.3ZM191.3,634.0H198.7V635.0H191.3ZM194.3,639.1H199.7V640.1H194.3ZM195.3,634.0H204.7V635.0H195.3ZM200.3,628.9H205.7V629.9H200.3ZM201.3,634.0H209.7V635.0H201.3ZM205.3,628.9H210.7V629.9H205.3ZM206.3,634.0H214.7V635.0H206.3ZM210.3,628.9H215.7V629.9H210.3ZM211.3,634.0H221.7V635.0H211.3ZM217.3,628.9H222.7V629.9H217.3ZM218.3,634.0H234.7V635.0H218.3ZM230.3,628.9H235.7V629.9H230.3ZM231.3,634.0H244.7V635.0H231.3ZM240.3,628.9H245.7V629.9H240.3ZM241.3,634.0H254.7V635.0H241.3ZM250.3,628.9H255.7V629.9H250.3ZM251.3,634.0H262.7V635.0H251.3ZM258.3,628.9H263.7V629.9H258.3ZM259.3,634.0H267.7V635.0H259.3ZM263.3,628.9H268.7V629.9H263.3ZM264.3,634.0H276.7V635.0H264.3ZM272.3,628.9H277.7V629.9H272.3ZM273.3,634.0H287.7V635.0H273.3ZM283.3,628.9H288.7V629.9H283.3ZM284.3,634.0H292.7V635.0H284.3ZM288.3,639.1H293.7V640.1H288.3ZM289.3,634.0H299.7V635.0H289.3ZM295.3,628.9H300.7V629.9H295.3ZM296.3,634.0H304.7V635.0H296.3ZM300.3,628.9H305.7V629.9H300.3ZM301.3,634.0H314.7V635.0H301.3Z" fill="#fa38fc"/><rect x="32" y="515" width="280" height="180" fill="none" stroke="#262626" stroke-width="0.6"/>
<line x1="32" y1="687.95" x2="34.8" y2="687.95" stroke="#262626" stroke-width="0.6"/>
<line x1="309.2" y1="687.95" x2="312" y2="687.95" stroke="#262626" stroke-width="0.6"/>
<text x="28.3" y="691.65" text-anchor="end" font-size="10" fill="#262626">-15</text>
<line x1="32" y1="667.80" x2="34.8" y2="667.80" stroke="#262626" stroke-width="0.6"/>
<line x1="309.2" y1="667.80" x2="312" y2="667.80" stroke="#262626" stroke-width="0.6"/>
<text x="28.3" y="671.50" text-anchor="end" font-size="10" fill="#262626">-10</text>
<line x1="32" y1="647.65" x2="34.8" y2="647.65" stroke="#262626" stroke-width="0.6"/>
<line x1="309.2" y1="647.65" x2="312" y2="647.65" stroke="#262626" stroke-width="0.6"/>
<text x="28.3" y="651.35" text-anchor="end" font-size="10" fill="#262626">-5</text>
<line x1="32" y1="627.50" x2="34.8" y2="627.50" stroke="#262626" stroke-width="0.6"/>
<line x1="309.2" y1="627.50" x2="312" y2="627.50" stroke="#262626" stroke-width="0.6"/>
<text x="28.3" y="631.20" text-anchor="end" font-size="10" fill="#262626">0</text>
<line x1="32" y1="607.35" x2="34.8" y2="607.35" stroke="#262626" stroke-width="0.6"/>
<line x1="309.2" y1="607.35" x2="312" y2="607.35" stroke="#262626" stroke-width="0.6"/>
<text x="28.3" y="611.05" text-anchor="end" font-size="10" fill="#262626">5</text>
<line x1="32" y1="587.20" x2="34.8" y2="587.20" stroke="#262626" stroke-width="0.6"/>
<line x1="309.2" y1="587.20" x2="312" y2="587.20" stroke="#262626" stroke-width="0.6"/>
<text x="28.3" y="590.90" text-anchor="end" font-size="10" fill="#262626">10</text>
<line x1="32" y1="567.05" x2="34.8" y2="567.05" stroke="#262626" stroke-width="0.6"/>
<line x1="309.2" y1="567.05" x2="312" y2="567.05" stroke="#262626" stroke-width="0.6"/>
<text x="28.3" y="570.75" text-anchor="end" font-size="10" fill="#262626">15</text>
<line x1="32" y1="546.90" x2="34.8" y2="546.90" stroke="#262626" stroke-width="0.6"/>
<line x1="309.2" y1="546.90" x2="312" y2="546.90" stroke="#262626" stroke-width="0.6"/>
<text x="28.3" y="550.60" text-anchor="end" font-size="10" fill="#262626">20</text>
<line x1="32" y1="526.75" x2="34.8" y2="526.75" stroke="#262626" stroke-width="0.6"/>
<line x1="309.2" y1="526.75" x2="312" y2="526.75" stroke="#262626" stroke-width="0.6"/>
<text x="28.3" y="530.45" text-anchor="end" font-size="10" fill="#262626">25</text>
<line x1="32.00" y1="695" x2="32.00" y2="692.2" stroke="#262626" stroke-width="0.6"/>
<line x1="32.00" y1="515" x2="32.00" y2="517.8" stroke="#262626" stroke-width="0.6"/>
<text x="32.00" y="708.2" text-anchor="middle" font-size="10" fill="#262626">12</text>
<line x1="72.00" y1="695" x2="72.00" y2="692.2" stroke="#262626" stroke-width="0.6"/>
<line x1="72.00" y1="515" x2="72.00" y2="517.8" stroke="#262626" stroke-width="0.6"/>
<text x="72.00" y="708.2" text-anchor="middle" font-size="10" fill="#262626">13</text>
<line x1="112.00" y1="695" x2="112.00" y2="692.2" stroke="#262626" stroke-width="0.6"/>
<line x1="112.00" y1="515" x2="112.00" y2="517.8" stroke="#262626" stroke-width="0.6"/>
<text x="112.00" y="708.2" text-anchor="middle" font-size="10" fill="#262626">14</text>
<line x1="152.00" y1="695" x2="152.00" y2="692.2" stroke="#262626" stroke-width="0.6"/>
<line x1="152.00" y1="515" x2="152.00" y2="517.8" stroke="#262626" stroke-width="0.6"/>
<text x="152.00" y="708.2" text-anchor="middle" font-size="10" fill="#262626">15</text>
<line x1="192.00" y1="695" x2="192.00" y2="692.2" stroke="#262626" stroke-width="0.6"/>
<line x1="192.00" y1="515" x2="192.00" y2="517.8" stroke="#262626" stroke-width="0.6"/>
<text x="192.00" y="708.2" text-anchor="middle" font-size="10" fill="#262626">16</text>
<line x1="232.00" y1="695" x2="232.00" y2="692.2" stroke="#262626" stroke-width="0.6"/>
<line x1="232.00" y1="515" x2="232.00" y2="517.8" stroke="#262626" stroke-width="0.6"/>
<text x="232.00" y="708.2" text-anchor="middle" font-size="10" fill="#262626">17</text>
<line x1="272.00" y1="695" x2="272.00" y2="692.2" stroke="#262626" stroke-width="0.6"/>
<line x1="272.00" y1="515" x2="272.00" y2="517.8" stroke="#262626" stroke-width="0.6"/>
<text x="272.00" y="708.2" text-anchor="middle" font-size="10" fill="#262626">18</text>
<line x1="312.00" y1="695" x2="312.00" y2="692.2" stroke="#262626" stroke-width="0.6"/>
<line x1="312.00" y1="515" x2="312.00" y2="517.8" stroke="#262626" stroke-width="0.6"/>
<text x="312.00" y="708.2" text-anchor="middle" font-size="10" fill="#262626">19</text>
<text x="172.0" y="721.7" text-anchor="middle" font-size="10" fill="#262626">ka</text>
<text x="9.2" y="605.0" text-anchor="middle" font-size="10.8" fill="#262626" transform="rotate(-90 9.2 605.0)">latitude</text>
<text x="172.0" y="511.4" text-anchor="middle" font-size="10.6" font-weight="bold" fill="#000">(e) annual precipitation (mm/day), MWF</text><rect x="383.00" y="603.3" width="29.45" height="16.6" fill="#56340f"/>
<rect x="412.25" y="603.3" width="29.45" height="16.6" fill="#8d5520"/>
<rect x="441.50" y="603.3" width="29.45" height="16.6" fill="#bf853a"/>
<rect x="470.75" y="603.3" width="29.45" height="16.6" fill="#d7c280"/>
<rect x="500.00" y="603.3" width="29.45" height="16.6" fill="#efe8c2"/>
<rect x="529.25" y="603.3" width="29.45" height="16.6" fill="#ccefe5"/>
<rect x="558.50" y="603.3" width="29.45" height="16.6" fill="#8ddac3"/>
<rect x="587.75" y="603.3" width="29.45" height="16.6" fill="#56a893"/>
<rect x="617.00" y="603.3" width="29.45" height="16.6" fill="#2e7262"/>
<rect x="646.25" y="603.3" width="29.45" height="16.6" fill="#1c4837"/>
<rect x="383" y="603.3" width="292.50" height="16.6" fill="none" stroke="#262626" stroke-width="0.6"/>
<line x1="407.50" y1="619.9" x2="407.50" y2="617.1" stroke="#262626" stroke-width="0.6"/>
<text x="407.50" y="631.9" text-anchor="middle" font-size="9" fill="#262626">1.5</text>
<line x1="437.28" y1="619.9" x2="437.28" y2="617.1" stroke="#262626" stroke-width="0.6"/>
<text x="437.28" y="631.9" text-anchor="middle" font-size="9" fill="#262626">2</text>
<line x1="467.06" y1="619.9" x2="467.06" y2="617.1" stroke="#262626" stroke-width="0.6"/>
<text x="467.06" y="631.9" text-anchor="middle" font-size="9" fill="#262626">2.5</text>
<line x1="496.84" y1="619.9" x2="496.84" y2="617.1" stroke="#262626" stroke-width="0.6"/>
<text x="496.84" y="631.9" text-anchor="middle" font-size="9" fill="#262626">3</text>
<line x1="526.62" y1="619.9" x2="526.62" y2="617.1" stroke="#262626" stroke-width="0.6"/>
<text x="526.62" y="631.9" text-anchor="middle" font-size="9" fill="#262626">3.5</text>
<line x1="556.40" y1="619.9" x2="556.40" y2="617.1" stroke="#262626" stroke-width="0.6"/>
<text x="556.40" y="631.9" text-anchor="middle" font-size="9" fill="#262626">4</text>
<line x1="586.18" y1="619.9" x2="586.18" y2="617.1" stroke="#262626" stroke-width="0.6"/>
<text x="586.18" y="631.9" text-anchor="middle" font-size="9" fill="#262626">4.5</text>
<line x1="615.96" y1="619.9" x2="615.96" y2="617.1" stroke="#262626" stroke-width="0.6"/>
<text x="615.96" y="631.9" text-anchor="middle" font-size="9" fill="#262626">5</text>
<line x1="645.74" y1="619.9" x2="645.74" y2="617.1" stroke="#262626" stroke-width="0.6"/>
<text x="645.74" y="631.9" text-anchor="middle" font-size="9" fill="#262626">5.5</text>
<line x1="675.52" y1="619.9" x2="675.52" y2="617.1" stroke="#262626" stroke-width="0.6"/>
<text x="675.52" y="631.9" text-anchor="middle" font-size="9" fill="#262626">6</text>
</svg></body></html>
